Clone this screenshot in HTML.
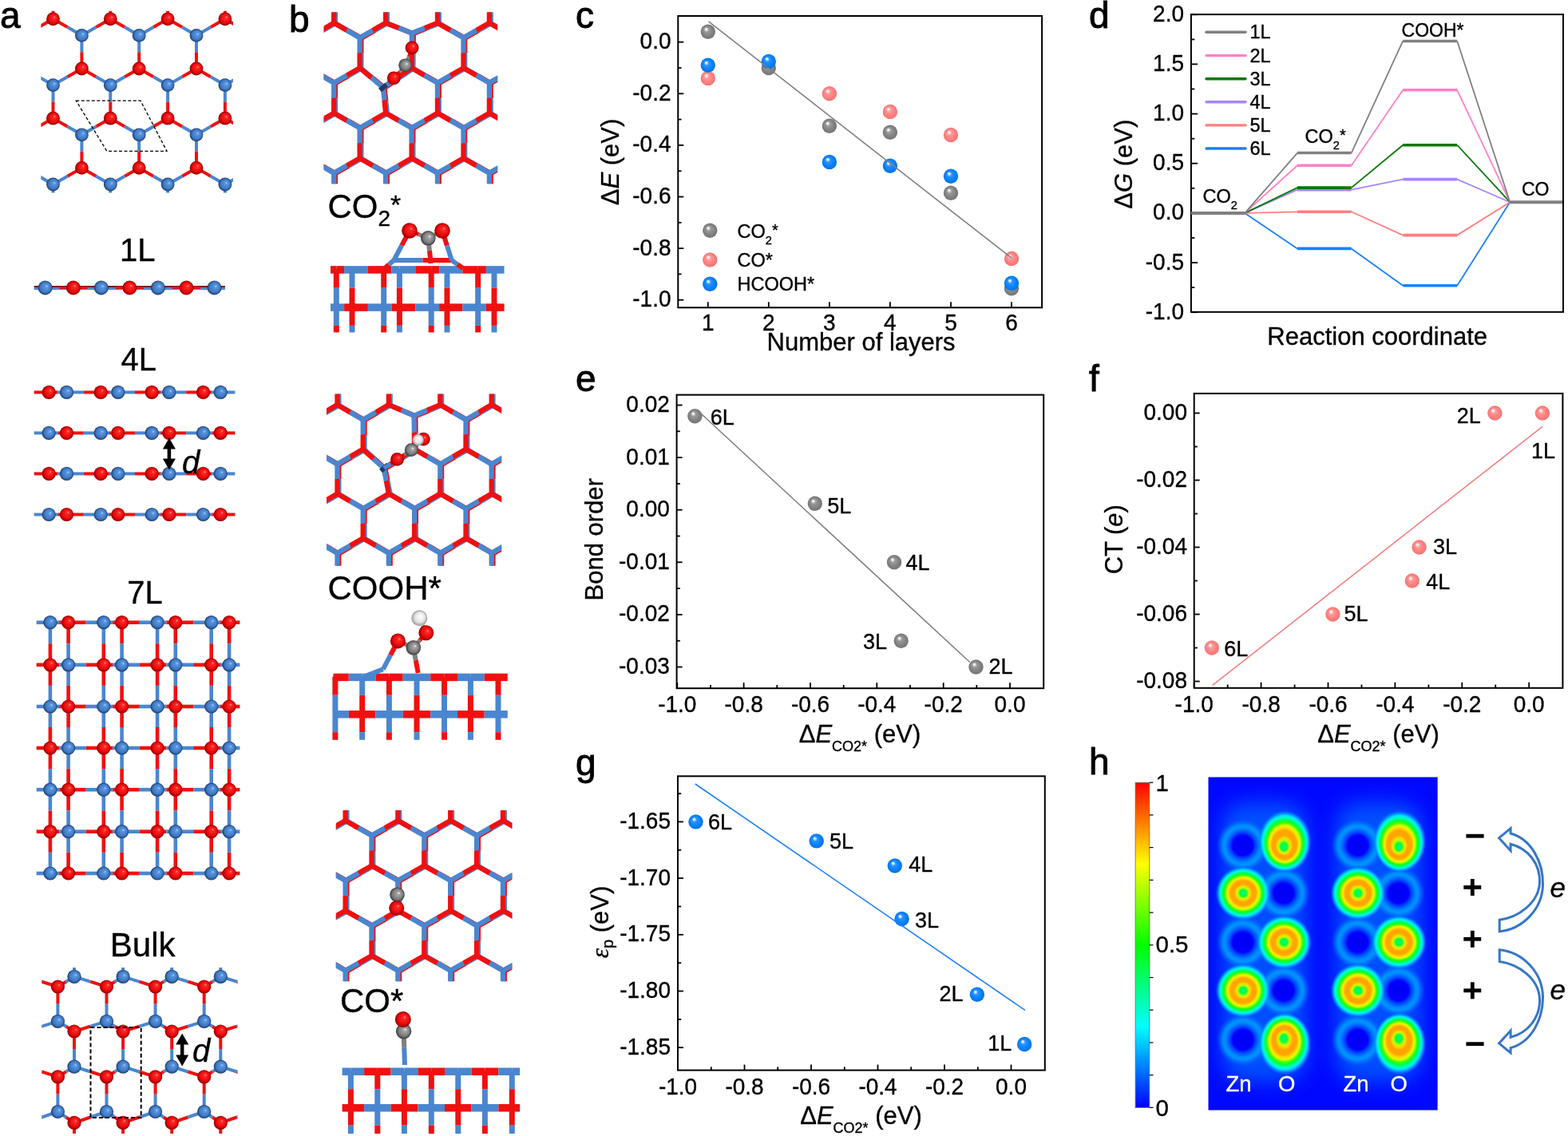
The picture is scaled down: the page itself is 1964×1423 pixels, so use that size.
<!DOCTYPE html>
<html><head><meta charset="utf-8"><title>Figure</title>
<style>html,body{margin:0;padding:0;background:#fff;} svg{display:block;} text{stroke:#000;stroke-width:0.35px;} text.pl{stroke-width:0.9px;} text.w{stroke:#fff;}</style></head>
<body><svg width="1964" height="1423" viewBox="0 0 1964 1423" font-family="'Liberation Sans', Arial, sans-serif">
<defs>
<radialGradient id="gR" cx="0.5" cy="0.5" r="0.5" fx="0.62" fy="0.35">
 <stop offset="0" stop-color="#ff9a9a"/><stop offset="0.18" stop-color="#ff2a2a"/>
 <stop offset="0.7" stop-color="#e80808"/><stop offset="1" stop-color="#8a0000"/></radialGradient>
<radialGradient id="gB" cx="0.5" cy="0.5" r="0.5" fx="0.62" fy="0.38">
 <stop offset="0" stop-color="#a8d0ff"/><stop offset="0.2" stop-color="#5a96e0"/>
 <stop offset="0.72" stop-color="#3e78c2"/><stop offset="1" stop-color="#1c3a66"/></radialGradient>
<radialGradient id="gC" cx="0.5" cy="0.5" r="0.5" fx="0.62" fy="0.38">
 <stop offset="0" stop-color="#ffffff"/><stop offset="0.18" stop-color="#a8a8a8"/>
 <stop offset="0.7" stop-color="#7a7a7a"/><stop offset="1" stop-color="#3a3a3a"/></radialGradient>
<radialGradient id="gH" cx="0.5" cy="0.5" r="0.5" fx="0.6" fy="0.38">
 <stop offset="0" stop-color="#ffffff"/><stop offset="0.6" stop-color="#e6e6e6"/>
 <stop offset="1" stop-color="#9a9a9a"/></radialGradient>
<radialGradient id="mG" cx="0.5" cy="0.5" r="0.5" fx="0.36" fy="0.3">
 <stop offset="0" stop-color="#ffffff"/><stop offset="0.1" stop-color="#f2f2f2"/>
 <stop offset="0.32" stop-color="#9a9a9a"/><stop offset="0.65" stop-color="#858585"/><stop offset="1" stop-color="#747474"/></radialGradient>
<radialGradient id="mP" cx="0.5" cy="0.5" r="0.5" fx="0.36" fy="0.3">
 <stop offset="0" stop-color="#ffffff"/><stop offset="0.1" stop-color="#fff2f2"/>
 <stop offset="0.32" stop-color="#ff9a9a"/><stop offset="0.65" stop-color="#ff8282"/><stop offset="1" stop-color="#f27474"/></radialGradient>
<radialGradient id="mB" cx="0.5" cy="0.5" r="0.5" fx="0.36" fy="0.3">
 <stop offset="0" stop-color="#ffffff"/><stop offset="0.1" stop-color="#e6f2ff"/>
 <stop offset="0.32" stop-color="#2a92ff"/><stop offset="0.65" stop-color="#0a84ff"/><stop offset="1" stop-color="#0072e6"/></radialGradient>
<clipPath id="clipA1"><rect x="51.3" y="13.7" width="240.7" height="227.9"/></clipPath><clipPath id="clipA5"><rect x="52.2" y="1212" width="245.4" height="208"/></clipPath><clipPath id="clipB1"><rect x="405.6" y="15.2" width="217.6" height="215"/></clipPath><clipPath id="clipB2"><rect x="409" y="493.6" width="219.2" height="215.1"/></clipPath><clipPath id="clipB3"><rect x="420.8" y="1015" width="220.6" height="214.2"/></clipPath>
<linearGradient id="cbar" x1="0" y1="0" x2="0" y2="1">
 <stop offset="0" stop-color="#ff0000"/><stop offset="0.125" stop-color="#ff7f00"/>
 <stop offset="0.25" stop-color="#ffff00"/><stop offset="0.5" stop-color="#00ff00"/>
 <stop offset="0.75" stop-color="#00ffff"/><stop offset="1" stop-color="#0000ff"/></linearGradient>
<radialGradient id="hB" cx="0.5" cy="0.5" r="0.5">
 <stop offset="0" stop-color="#00ff80"/><stop offset="0.12" stop-color="#00ff40"/>
 <stop offset="0.2" stop-color="#c0ff00"/><stop offset="0.27" stop-color="#ffd000"/>
 <stop offset="0.33" stop-color="#ffa500"/><stop offset="0.46" stop-color="#ffa500"/>
 <stop offset="0.54" stop-color="#ffe000"/><stop offset="0.60" stop-color="#d0ff00"/>
 <stop offset="0.66" stop-color="#40ff00"/><stop offset="0.73" stop-color="#00ff40"/>
 <stop offset="0.80" stop-color="#00ffc0"/><stop offset="0.86" stop-color="#00e0ff"/>
 <stop offset="0.94" stop-color="#0090ff" stop-opacity="0.6"/><stop offset="1" stop-color="#0060ff" stop-opacity="0"/></radialGradient>
<radialGradient id="hD" cx="0.5" cy="0.5" r="0.5">
 <stop offset="0" stop-color="#0000f0"/><stop offset="0.38" stop-color="#0000ff"/>
 <stop offset="0.5" stop-color="#0048ff"/><stop offset="0.65" stop-color="#0088ff"/>
 <stop offset="0.75" stop-color="#00a0ff" stop-opacity="0.85"/><stop offset="0.88" stop-color="#0080ff" stop-opacity="0.45"/>
 <stop offset="1" stop-color="#0060ff" stop-opacity="0"/></radialGradient>
<radialGradient id="hBu" cx="0.5" cy="0.5" r="0.5" fx="0.48" fy="0.6">
 <stop offset="0" stop-color="#00ff80"/><stop offset="0.12" stop-color="#00ff40"/>
 <stop offset="0.2" stop-color="#c0ff00"/><stop offset="0.27" stop-color="#ffd000"/>
 <stop offset="0.33" stop-color="#ffa500"/><stop offset="0.46" stop-color="#ffa500"/>
 <stop offset="0.54" stop-color="#ffe000"/><stop offset="0.60" stop-color="#d0ff00"/>
 <stop offset="0.66" stop-color="#40ff00"/><stop offset="0.73" stop-color="#00ff40"/>
 <stop offset="0.80" stop-color="#00ffc0"/><stop offset="0.86" stop-color="#00e0ff"/>
 <stop offset="0.94" stop-color="#0090ff" stop-opacity="0.6"/><stop offset="1" stop-color="#0060ff" stop-opacity="0"/></radialGradient>
<radialGradient id="hBd" cx="0.5" cy="0.5" r="0.5" fx="0.48" fy="0.4">
 <stop offset="0" stop-color="#00ff80"/><stop offset="0.12" stop-color="#00ff40"/>
 <stop offset="0.2" stop-color="#c0ff00"/><stop offset="0.27" stop-color="#ffd000"/>
 <stop offset="0.33" stop-color="#ffa500"/><stop offset="0.46" stop-color="#ffa500"/>
 <stop offset="0.54" stop-color="#ffe000"/><stop offset="0.60" stop-color="#d0ff00"/>
 <stop offset="0.66" stop-color="#40ff00"/><stop offset="0.73" stop-color="#00ff40"/>
 <stop offset="0.80" stop-color="#00ffc0"/><stop offset="0.86" stop-color="#00e0ff"/>
 <stop offset="0.94" stop-color="#0090ff" stop-opacity="0.6"/><stop offset="1" stop-color="#0060ff" stop-opacity="0"/></radialGradient>
<filter id="blur12" x="-50%" y="-50%" width="200%" height="200%"><feGaussianBlur stdDeviation="12"/></filter>
<clipPath id="clipH"><rect x="1513.3" y="973.3" width="287.5" height="417.5"/></clipPath>
</defs>
<rect width="1964" height="1423" fill="#fff"/>
<text x="0.0" y="35.2" font-size="46" text-anchor="start" class="pl">a</text>
<text x="362.0" y="39.6" font-size="46" text-anchor="start" class="pl">b</text>
<text x="721.0" y="35.3" font-size="46" text-anchor="start" class="pl">c</text>
<text x="1364.0" y="35.0" font-size="46" text-anchor="start" class="pl">d</text>
<text x="721.0" y="490.0" font-size="46" text-anchor="start" class="pl">e</text>
<text x="1364.0" y="490.4" font-size="46" text-anchor="start" class="pl">f</text>
<text x="721.0" y="970.5" font-size="46" text-anchor="start" class="pl">g</text>
<text x="1364.0" y="969.8" font-size="46" text-anchor="start" class="pl">h</text>
<g clip-path="url(#clipA1)"><line x1="-5.3" y1="-100.6" x2="12.7" y2="-90.3" stroke="#f01010" stroke-width="4"/><line x1="12.7" y1="-90.3" x2="30.6" y2="-80.0" stroke="#4a86cf" stroke-width="4"/><line x1="-5.3" y1="-100.6" x2="-23.2" y2="-90.3" stroke="#f01010" stroke-width="4"/><line x1="-23.2" y1="-90.3" x2="-41.2" y2="-80.0" stroke="#4a86cf" stroke-width="4"/><line x1="30.6" y1="-80.0" x2="30.6" y2="-59.2" stroke="#4a86cf" stroke-width="4"/><line x1="30.6" y1="-59.2" x2="30.6" y2="-38.4" stroke="#f01010" stroke-width="4"/><line x1="30.6" y1="-38.4" x2="12.7" y2="-28.1" stroke="#f01010" stroke-width="4"/><line x1="12.7" y1="-28.1" x2="-5.3" y2="-17.8" stroke="#4a86cf" stroke-width="4"/><line x1="30.6" y1="-38.4" x2="48.5" y2="-28.1" stroke="#f01010" stroke-width="4"/><line x1="48.5" y1="-28.1" x2="66.5" y2="-17.8" stroke="#4a86cf" stroke-width="4"/><line x1="-5.3" y1="-17.8" x2="-5.3" y2="3.0" stroke="#4a86cf" stroke-width="4"/><line x1="-5.3" y1="3.0" x2="-5.3" y2="23.8" stroke="#f01010" stroke-width="4"/><line x1="66.5" y1="-100.6" x2="84.5" y2="-90.3" stroke="#f01010" stroke-width="4"/><line x1="84.5" y1="-90.3" x2="102.4" y2="-80.0" stroke="#4a86cf" stroke-width="4"/><line x1="66.5" y1="-100.6" x2="48.5" y2="-90.3" stroke="#f01010" stroke-width="4"/><line x1="48.5" y1="-90.3" x2="30.6" y2="-80.0" stroke="#4a86cf" stroke-width="4"/><line x1="102.4" y1="-80.0" x2="102.4" y2="-59.2" stroke="#4a86cf" stroke-width="4"/><line x1="102.4" y1="-59.2" x2="102.4" y2="-38.4" stroke="#f01010" stroke-width="4"/><line x1="102.4" y1="-38.4" x2="84.5" y2="-28.1" stroke="#f01010" stroke-width="4"/><line x1="84.5" y1="-28.1" x2="66.5" y2="-17.8" stroke="#4a86cf" stroke-width="4"/><line x1="102.4" y1="-38.4" x2="120.4" y2="-28.1" stroke="#f01010" stroke-width="4"/><line x1="120.4" y1="-28.1" x2="138.3" y2="-17.8" stroke="#4a86cf" stroke-width="4"/><line x1="66.5" y1="-17.8" x2="66.5" y2="3.0" stroke="#4a86cf" stroke-width="4"/><line x1="66.5" y1="3.0" x2="66.5" y2="23.8" stroke="#f01010" stroke-width="4"/><line x1="138.3" y1="-100.6" x2="156.2" y2="-90.3" stroke="#f01010" stroke-width="4"/><line x1="156.2" y1="-90.3" x2="174.2" y2="-80.0" stroke="#4a86cf" stroke-width="4"/><line x1="138.3" y1="-100.6" x2="120.4" y2="-90.3" stroke="#f01010" stroke-width="4"/><line x1="120.4" y1="-90.3" x2="102.4" y2="-80.0" stroke="#4a86cf" stroke-width="4"/><line x1="174.2" y1="-80.0" x2="174.2" y2="-59.2" stroke="#4a86cf" stroke-width="4"/><line x1="174.2" y1="-59.2" x2="174.2" y2="-38.4" stroke="#f01010" stroke-width="4"/><line x1="174.2" y1="-38.4" x2="156.2" y2="-28.1" stroke="#f01010" stroke-width="4"/><line x1="156.2" y1="-28.1" x2="138.3" y2="-17.8" stroke="#4a86cf" stroke-width="4"/><line x1="174.2" y1="-38.4" x2="192.2" y2="-28.1" stroke="#f01010" stroke-width="4"/><line x1="192.2" y1="-28.1" x2="210.1" y2="-17.8" stroke="#4a86cf" stroke-width="4"/><line x1="138.3" y1="-17.8" x2="138.3" y2="3.0" stroke="#4a86cf" stroke-width="4"/><line x1="138.3" y1="3.0" x2="138.3" y2="23.8" stroke="#f01010" stroke-width="4"/><line x1="210.1" y1="-100.6" x2="228.1" y2="-90.3" stroke="#f01010" stroke-width="4"/><line x1="228.1" y1="-90.3" x2="246.0" y2="-80.0" stroke="#4a86cf" stroke-width="4"/><line x1="210.1" y1="-100.6" x2="192.1" y2="-90.3" stroke="#f01010" stroke-width="4"/><line x1="192.1" y1="-90.3" x2="174.2" y2="-80.0" stroke="#4a86cf" stroke-width="4"/><line x1="246.0" y1="-80.0" x2="246.0" y2="-59.2" stroke="#4a86cf" stroke-width="4"/><line x1="246.0" y1="-59.2" x2="246.0" y2="-38.4" stroke="#f01010" stroke-width="4"/><line x1="246.0" y1="-38.4" x2="228.1" y2="-28.1" stroke="#f01010" stroke-width="4"/><line x1="228.1" y1="-28.1" x2="210.1" y2="-17.8" stroke="#4a86cf" stroke-width="4"/><line x1="246.0" y1="-38.4" x2="263.9" y2="-28.1" stroke="#f01010" stroke-width="4"/><line x1="263.9" y1="-28.1" x2="281.9" y2="-17.8" stroke="#4a86cf" stroke-width="4"/><line x1="210.1" y1="-17.8" x2="210.1" y2="3.0" stroke="#4a86cf" stroke-width="4"/><line x1="210.1" y1="3.0" x2="210.1" y2="23.8" stroke="#f01010" stroke-width="4"/><line x1="281.9" y1="-100.6" x2="299.8" y2="-90.3" stroke="#f01010" stroke-width="4"/><line x1="299.8" y1="-90.3" x2="317.8" y2="-80.0" stroke="#4a86cf" stroke-width="4"/><line x1="281.9" y1="-100.6" x2="263.9" y2="-90.3" stroke="#f01010" stroke-width="4"/><line x1="263.9" y1="-90.3" x2="246.0" y2="-80.0" stroke="#4a86cf" stroke-width="4"/><line x1="317.8" y1="-80.0" x2="317.8" y2="-59.2" stroke="#4a86cf" stroke-width="4"/><line x1="317.8" y1="-59.2" x2="317.8" y2="-38.4" stroke="#f01010" stroke-width="4"/><line x1="317.8" y1="-38.4" x2="299.8" y2="-28.1" stroke="#f01010" stroke-width="4"/><line x1="299.8" y1="-28.1" x2="281.9" y2="-17.8" stroke="#4a86cf" stroke-width="4"/><line x1="317.8" y1="-38.4" x2="335.8" y2="-28.1" stroke="#f01010" stroke-width="4"/><line x1="335.8" y1="-28.1" x2="353.7" y2="-17.8" stroke="#4a86cf" stroke-width="4"/><line x1="281.9" y1="-17.8" x2="281.9" y2="3.0" stroke="#4a86cf" stroke-width="4"/><line x1="281.9" y1="3.0" x2="281.9" y2="23.8" stroke="#f01010" stroke-width="4"/><line x1="353.7" y1="-100.6" x2="371.6" y2="-90.3" stroke="#f01010" stroke-width="4"/><line x1="371.6" y1="-90.3" x2="389.6" y2="-80.0" stroke="#4a86cf" stroke-width="4"/><line x1="353.7" y1="-100.6" x2="335.8" y2="-90.3" stroke="#f01010" stroke-width="4"/><line x1="335.8" y1="-90.3" x2="317.8" y2="-80.0" stroke="#4a86cf" stroke-width="4"/><line x1="389.6" y1="-80.0" x2="389.6" y2="-59.2" stroke="#4a86cf" stroke-width="4"/><line x1="389.6" y1="-59.2" x2="389.6" y2="-38.4" stroke="#f01010" stroke-width="4"/><line x1="389.6" y1="-38.4" x2="371.6" y2="-28.1" stroke="#f01010" stroke-width="4"/><line x1="371.6" y1="-28.1" x2="353.7" y2="-17.8" stroke="#4a86cf" stroke-width="4"/><line x1="389.6" y1="-38.4" x2="407.5" y2="-28.1" stroke="#f01010" stroke-width="4"/><line x1="407.5" y1="-28.1" x2="425.5" y2="-17.8" stroke="#4a86cf" stroke-width="4"/><line x1="353.7" y1="-17.8" x2="353.7" y2="3.0" stroke="#4a86cf" stroke-width="4"/><line x1="353.7" y1="3.0" x2="353.7" y2="23.8" stroke="#f01010" stroke-width="4"/><line x1="-5.3" y1="23.8" x2="12.7" y2="34.1" stroke="#f01010" stroke-width="4"/><line x1="12.7" y1="34.1" x2="30.6" y2="44.4" stroke="#4a86cf" stroke-width="4"/><line x1="-5.3" y1="23.8" x2="-23.2" y2="34.1" stroke="#f01010" stroke-width="4"/><line x1="-23.2" y1="34.1" x2="-41.2" y2="44.4" stroke="#4a86cf" stroke-width="4"/><line x1="30.6" y1="44.4" x2="30.6" y2="65.2" stroke="#4a86cf" stroke-width="4"/><line x1="30.6" y1="65.2" x2="30.6" y2="86.0" stroke="#f01010" stroke-width="4"/><line x1="30.6" y1="86.0" x2="12.7" y2="96.3" stroke="#f01010" stroke-width="4"/><line x1="12.7" y1="96.3" x2="-5.3" y2="106.6" stroke="#4a86cf" stroke-width="4"/><line x1="30.6" y1="86.0" x2="48.5" y2="96.3" stroke="#f01010" stroke-width="4"/><line x1="48.5" y1="96.3" x2="66.5" y2="106.6" stroke="#4a86cf" stroke-width="4"/><line x1="-5.3" y1="106.6" x2="-5.3" y2="127.4" stroke="#4a86cf" stroke-width="4"/><line x1="-5.3" y1="127.4" x2="-5.3" y2="148.2" stroke="#f01010" stroke-width="4"/><line x1="66.5" y1="23.8" x2="84.5" y2="34.1" stroke="#f01010" stroke-width="4"/><line x1="84.5" y1="34.1" x2="102.4" y2="44.4" stroke="#4a86cf" stroke-width="4"/><line x1="66.5" y1="23.8" x2="48.5" y2="34.1" stroke="#f01010" stroke-width="4"/><line x1="48.5" y1="34.1" x2="30.6" y2="44.4" stroke="#4a86cf" stroke-width="4"/><line x1="102.4" y1="44.4" x2="102.4" y2="65.2" stroke="#4a86cf" stroke-width="4"/><line x1="102.4" y1="65.2" x2="102.4" y2="86.0" stroke="#f01010" stroke-width="4"/><line x1="102.4" y1="86.0" x2="84.5" y2="96.3" stroke="#f01010" stroke-width="4"/><line x1="84.5" y1="96.3" x2="66.5" y2="106.6" stroke="#4a86cf" stroke-width="4"/><line x1="102.4" y1="86.0" x2="120.4" y2="96.3" stroke="#f01010" stroke-width="4"/><line x1="120.4" y1="96.3" x2="138.3" y2="106.6" stroke="#4a86cf" stroke-width="4"/><line x1="66.5" y1="106.6" x2="66.5" y2="127.4" stroke="#4a86cf" stroke-width="4"/><line x1="66.5" y1="127.4" x2="66.5" y2="148.2" stroke="#f01010" stroke-width="4"/><line x1="138.3" y1="23.8" x2="156.2" y2="34.1" stroke="#f01010" stroke-width="4"/><line x1="156.2" y1="34.1" x2="174.2" y2="44.4" stroke="#4a86cf" stroke-width="4"/><line x1="138.3" y1="23.8" x2="120.4" y2="34.1" stroke="#f01010" stroke-width="4"/><line x1="120.4" y1="34.1" x2="102.4" y2="44.4" stroke="#4a86cf" stroke-width="4"/><line x1="174.2" y1="44.4" x2="174.2" y2="65.2" stroke="#4a86cf" stroke-width="4"/><line x1="174.2" y1="65.2" x2="174.2" y2="86.0" stroke="#f01010" stroke-width="4"/><line x1="174.2" y1="86.0" x2="156.2" y2="96.3" stroke="#f01010" stroke-width="4"/><line x1="156.2" y1="96.3" x2="138.3" y2="106.6" stroke="#4a86cf" stroke-width="4"/><line x1="174.2" y1="86.0" x2="192.2" y2="96.3" stroke="#f01010" stroke-width="4"/><line x1="192.2" y1="96.3" x2="210.1" y2="106.6" stroke="#4a86cf" stroke-width="4"/><line x1="138.3" y1="106.6" x2="138.3" y2="127.4" stroke="#4a86cf" stroke-width="4"/><line x1="138.3" y1="127.4" x2="138.3" y2="148.2" stroke="#f01010" stroke-width="4"/><line x1="210.1" y1="23.8" x2="228.1" y2="34.1" stroke="#f01010" stroke-width="4"/><line x1="228.1" y1="34.1" x2="246.0" y2="44.4" stroke="#4a86cf" stroke-width="4"/><line x1="210.1" y1="23.8" x2="192.1" y2="34.1" stroke="#f01010" stroke-width="4"/><line x1="192.1" y1="34.1" x2="174.2" y2="44.4" stroke="#4a86cf" stroke-width="4"/><line x1="246.0" y1="44.4" x2="246.0" y2="65.2" stroke="#4a86cf" stroke-width="4"/><line x1="246.0" y1="65.2" x2="246.0" y2="86.0" stroke="#f01010" stroke-width="4"/><line x1="246.0" y1="86.0" x2="228.1" y2="96.3" stroke="#f01010" stroke-width="4"/><line x1="228.1" y1="96.3" x2="210.1" y2="106.6" stroke="#4a86cf" stroke-width="4"/><line x1="246.0" y1="86.0" x2="263.9" y2="96.3" stroke="#f01010" stroke-width="4"/><line x1="263.9" y1="96.3" x2="281.9" y2="106.6" stroke="#4a86cf" stroke-width="4"/><line x1="210.1" y1="106.6" x2="210.1" y2="127.4" stroke="#4a86cf" stroke-width="4"/><line x1="210.1" y1="127.4" x2="210.1" y2="148.2" stroke="#f01010" stroke-width="4"/><line x1="281.9" y1="23.8" x2="299.8" y2="34.1" stroke="#f01010" stroke-width="4"/><line x1="299.8" y1="34.1" x2="317.8" y2="44.4" stroke="#4a86cf" stroke-width="4"/><line x1="281.9" y1="23.8" x2="263.9" y2="34.1" stroke="#f01010" stroke-width="4"/><line x1="263.9" y1="34.1" x2="246.0" y2="44.4" stroke="#4a86cf" stroke-width="4"/><line x1="317.8" y1="44.4" x2="317.8" y2="65.2" stroke="#4a86cf" stroke-width="4"/><line x1="317.8" y1="65.2" x2="317.8" y2="86.0" stroke="#f01010" stroke-width="4"/><line x1="317.8" y1="86.0" x2="299.8" y2="96.3" stroke="#f01010" stroke-width="4"/><line x1="299.8" y1="96.3" x2="281.9" y2="106.6" stroke="#4a86cf" stroke-width="4"/><line x1="317.8" y1="86.0" x2="335.8" y2="96.3" stroke="#f01010" stroke-width="4"/><line x1="335.8" y1="96.3" x2="353.7" y2="106.6" stroke="#4a86cf" stroke-width="4"/><line x1="281.9" y1="106.6" x2="281.9" y2="127.4" stroke="#4a86cf" stroke-width="4"/><line x1="281.9" y1="127.4" x2="281.9" y2="148.2" stroke="#f01010" stroke-width="4"/><line x1="353.7" y1="23.8" x2="371.6" y2="34.1" stroke="#f01010" stroke-width="4"/><line x1="371.6" y1="34.1" x2="389.6" y2="44.4" stroke="#4a86cf" stroke-width="4"/><line x1="353.7" y1="23.8" x2="335.8" y2="34.1" stroke="#f01010" stroke-width="4"/><line x1="335.8" y1="34.1" x2="317.8" y2="44.4" stroke="#4a86cf" stroke-width="4"/><line x1="389.6" y1="44.4" x2="389.6" y2="65.2" stroke="#4a86cf" stroke-width="4"/><line x1="389.6" y1="65.2" x2="389.6" y2="86.0" stroke="#f01010" stroke-width="4"/><line x1="389.6" y1="86.0" x2="371.6" y2="96.3" stroke="#f01010" stroke-width="4"/><line x1="371.6" y1="96.3" x2="353.7" y2="106.6" stroke="#4a86cf" stroke-width="4"/><line x1="389.6" y1="86.0" x2="407.5" y2="96.3" stroke="#f01010" stroke-width="4"/><line x1="407.5" y1="96.3" x2="425.5" y2="106.6" stroke="#4a86cf" stroke-width="4"/><line x1="353.7" y1="106.6" x2="353.7" y2="127.4" stroke="#4a86cf" stroke-width="4"/><line x1="353.7" y1="127.4" x2="353.7" y2="148.2" stroke="#f01010" stroke-width="4"/><line x1="-5.3" y1="148.2" x2="12.7" y2="158.5" stroke="#f01010" stroke-width="4"/><line x1="12.7" y1="158.5" x2="30.6" y2="168.8" stroke="#4a86cf" stroke-width="4"/><line x1="-5.3" y1="148.2" x2="-23.2" y2="158.5" stroke="#f01010" stroke-width="4"/><line x1="-23.2" y1="158.5" x2="-41.2" y2="168.8" stroke="#4a86cf" stroke-width="4"/><line x1="30.6" y1="168.8" x2="30.6" y2="189.6" stroke="#4a86cf" stroke-width="4"/><line x1="30.6" y1="189.6" x2="30.6" y2="210.4" stroke="#f01010" stroke-width="4"/><line x1="30.6" y1="210.4" x2="12.7" y2="220.7" stroke="#f01010" stroke-width="4"/><line x1="12.7" y1="220.7" x2="-5.3" y2="231.0" stroke="#4a86cf" stroke-width="4"/><line x1="30.6" y1="210.4" x2="48.5" y2="220.7" stroke="#f01010" stroke-width="4"/><line x1="48.5" y1="220.7" x2="66.5" y2="231.0" stroke="#4a86cf" stroke-width="4"/><line x1="-5.3" y1="231.0" x2="-5.3" y2="251.8" stroke="#4a86cf" stroke-width="4"/><line x1="-5.3" y1="251.8" x2="-5.3" y2="272.6" stroke="#f01010" stroke-width="4"/><line x1="66.5" y1="148.2" x2="84.5" y2="158.5" stroke="#f01010" stroke-width="4"/><line x1="84.5" y1="158.5" x2="102.4" y2="168.8" stroke="#4a86cf" stroke-width="4"/><line x1="66.5" y1="148.2" x2="48.5" y2="158.5" stroke="#f01010" stroke-width="4"/><line x1="48.5" y1="158.5" x2="30.6" y2="168.8" stroke="#4a86cf" stroke-width="4"/><line x1="102.4" y1="168.8" x2="102.4" y2="189.6" stroke="#4a86cf" stroke-width="4"/><line x1="102.4" y1="189.6" x2="102.4" y2="210.4" stroke="#f01010" stroke-width="4"/><line x1="102.4" y1="210.4" x2="84.5" y2="220.7" stroke="#f01010" stroke-width="4"/><line x1="84.5" y1="220.7" x2="66.5" y2="231.0" stroke="#4a86cf" stroke-width="4"/><line x1="102.4" y1="210.4" x2="120.4" y2="220.7" stroke="#f01010" stroke-width="4"/><line x1="120.4" y1="220.7" x2="138.3" y2="231.0" stroke="#4a86cf" stroke-width="4"/><line x1="66.5" y1="231.0" x2="66.5" y2="251.8" stroke="#4a86cf" stroke-width="4"/><line x1="66.5" y1="251.8" x2="66.5" y2="272.6" stroke="#f01010" stroke-width="4"/><line x1="138.3" y1="148.2" x2="156.2" y2="158.5" stroke="#f01010" stroke-width="4"/><line x1="156.2" y1="158.5" x2="174.2" y2="168.8" stroke="#4a86cf" stroke-width="4"/><line x1="138.3" y1="148.2" x2="120.4" y2="158.5" stroke="#f01010" stroke-width="4"/><line x1="120.4" y1="158.5" x2="102.4" y2="168.8" stroke="#4a86cf" stroke-width="4"/><line x1="174.2" y1="168.8" x2="174.2" y2="189.6" stroke="#4a86cf" stroke-width="4"/><line x1="174.2" y1="189.6" x2="174.2" y2="210.4" stroke="#f01010" stroke-width="4"/><line x1="174.2" y1="210.4" x2="156.2" y2="220.7" stroke="#f01010" stroke-width="4"/><line x1="156.2" y1="220.7" x2="138.3" y2="231.0" stroke="#4a86cf" stroke-width="4"/><line x1="174.2" y1="210.4" x2="192.2" y2="220.7" stroke="#f01010" stroke-width="4"/><line x1="192.2" y1="220.7" x2="210.1" y2="231.0" stroke="#4a86cf" stroke-width="4"/><line x1="138.3" y1="231.0" x2="138.3" y2="251.8" stroke="#4a86cf" stroke-width="4"/><line x1="138.3" y1="251.8" x2="138.3" y2="272.6" stroke="#f01010" stroke-width="4"/><line x1="210.1" y1="148.2" x2="228.1" y2="158.5" stroke="#f01010" stroke-width="4"/><line x1="228.1" y1="158.5" x2="246.0" y2="168.8" stroke="#4a86cf" stroke-width="4"/><line x1="210.1" y1="148.2" x2="192.1" y2="158.5" stroke="#f01010" stroke-width="4"/><line x1="192.1" y1="158.5" x2="174.2" y2="168.8" stroke="#4a86cf" stroke-width="4"/><line x1="246.0" y1="168.8" x2="246.0" y2="189.6" stroke="#4a86cf" stroke-width="4"/><line x1="246.0" y1="189.6" x2="246.0" y2="210.4" stroke="#f01010" stroke-width="4"/><line x1="246.0" y1="210.4" x2="228.1" y2="220.7" stroke="#f01010" stroke-width="4"/><line x1="228.1" y1="220.7" x2="210.1" y2="231.0" stroke="#4a86cf" stroke-width="4"/><line x1="246.0" y1="210.4" x2="263.9" y2="220.7" stroke="#f01010" stroke-width="4"/><line x1="263.9" y1="220.7" x2="281.9" y2="231.0" stroke="#4a86cf" stroke-width="4"/><line x1="210.1" y1="231.0" x2="210.1" y2="251.8" stroke="#4a86cf" stroke-width="4"/><line x1="210.1" y1="251.8" x2="210.1" y2="272.6" stroke="#f01010" stroke-width="4"/><line x1="281.9" y1="148.2" x2="299.8" y2="158.5" stroke="#f01010" stroke-width="4"/><line x1="299.8" y1="158.5" x2="317.8" y2="168.8" stroke="#4a86cf" stroke-width="4"/><line x1="281.9" y1="148.2" x2="263.9" y2="158.5" stroke="#f01010" stroke-width="4"/><line x1="263.9" y1="158.5" x2="246.0" y2="168.8" stroke="#4a86cf" stroke-width="4"/><line x1="317.8" y1="168.8" x2="317.8" y2="189.6" stroke="#4a86cf" stroke-width="4"/><line x1="317.8" y1="189.6" x2="317.8" y2="210.4" stroke="#f01010" stroke-width="4"/><line x1="317.8" y1="210.4" x2="299.8" y2="220.7" stroke="#f01010" stroke-width="4"/><line x1="299.8" y1="220.7" x2="281.9" y2="231.0" stroke="#4a86cf" stroke-width="4"/><line x1="317.8" y1="210.4" x2="335.8" y2="220.7" stroke="#f01010" stroke-width="4"/><line x1="335.8" y1="220.7" x2="353.7" y2="231.0" stroke="#4a86cf" stroke-width="4"/><line x1="281.9" y1="231.0" x2="281.9" y2="251.8" stroke="#4a86cf" stroke-width="4"/><line x1="281.9" y1="251.8" x2="281.9" y2="272.6" stroke="#f01010" stroke-width="4"/><line x1="353.7" y1="148.2" x2="371.6" y2="158.5" stroke="#f01010" stroke-width="4"/><line x1="371.6" y1="158.5" x2="389.6" y2="168.8" stroke="#4a86cf" stroke-width="4"/><line x1="353.7" y1="148.2" x2="335.8" y2="158.5" stroke="#f01010" stroke-width="4"/><line x1="335.8" y1="158.5" x2="317.8" y2="168.8" stroke="#4a86cf" stroke-width="4"/><line x1="389.6" y1="168.8" x2="389.6" y2="189.6" stroke="#4a86cf" stroke-width="4"/><line x1="389.6" y1="189.6" x2="389.6" y2="210.4" stroke="#f01010" stroke-width="4"/><line x1="389.6" y1="210.4" x2="371.6" y2="220.7" stroke="#f01010" stroke-width="4"/><line x1="371.6" y1="220.7" x2="353.7" y2="231.0" stroke="#4a86cf" stroke-width="4"/><line x1="389.6" y1="210.4" x2="407.5" y2="220.7" stroke="#f01010" stroke-width="4"/><line x1="407.5" y1="220.7" x2="425.5" y2="231.0" stroke="#4a86cf" stroke-width="4"/><line x1="353.7" y1="231.0" x2="353.7" y2="251.8" stroke="#4a86cf" stroke-width="4"/><line x1="353.7" y1="251.8" x2="353.7" y2="272.6" stroke="#f01010" stroke-width="4"/><line x1="-5.3" y1="272.6" x2="12.7" y2="282.9" stroke="#f01010" stroke-width="4"/><line x1="12.7" y1="282.9" x2="30.6" y2="293.2" stroke="#4a86cf" stroke-width="4"/><line x1="-5.3" y1="272.6" x2="-23.2" y2="282.9" stroke="#f01010" stroke-width="4"/><line x1="-23.2" y1="282.9" x2="-41.2" y2="293.2" stroke="#4a86cf" stroke-width="4"/><line x1="30.6" y1="293.2" x2="30.6" y2="314.0" stroke="#4a86cf" stroke-width="4"/><line x1="30.6" y1="314.0" x2="30.6" y2="334.8" stroke="#f01010" stroke-width="4"/><line x1="30.6" y1="334.8" x2="12.7" y2="345.1" stroke="#f01010" stroke-width="4"/><line x1="12.7" y1="345.1" x2="-5.3" y2="355.4" stroke="#4a86cf" stroke-width="4"/><line x1="30.6" y1="334.8" x2="48.5" y2="345.1" stroke="#f01010" stroke-width="4"/><line x1="48.5" y1="345.1" x2="66.5" y2="355.4" stroke="#4a86cf" stroke-width="4"/><line x1="-5.3" y1="355.4" x2="-5.3" y2="376.2" stroke="#4a86cf" stroke-width="4"/><line x1="-5.3" y1="376.2" x2="-5.3" y2="397.0" stroke="#f01010" stroke-width="4"/><line x1="66.5" y1="272.6" x2="84.5" y2="282.9" stroke="#f01010" stroke-width="4"/><line x1="84.5" y1="282.9" x2="102.4" y2="293.2" stroke="#4a86cf" stroke-width="4"/><line x1="66.5" y1="272.6" x2="48.5" y2="282.9" stroke="#f01010" stroke-width="4"/><line x1="48.5" y1="282.9" x2="30.6" y2="293.2" stroke="#4a86cf" stroke-width="4"/><line x1="102.4" y1="293.2" x2="102.4" y2="314.0" stroke="#4a86cf" stroke-width="4"/><line x1="102.4" y1="314.0" x2="102.4" y2="334.8" stroke="#f01010" stroke-width="4"/><line x1="102.4" y1="334.8" x2="84.5" y2="345.1" stroke="#f01010" stroke-width="4"/><line x1="84.5" y1="345.1" x2="66.5" y2="355.4" stroke="#4a86cf" stroke-width="4"/><line x1="102.4" y1="334.8" x2="120.4" y2="345.1" stroke="#f01010" stroke-width="4"/><line x1="120.4" y1="345.1" x2="138.3" y2="355.4" stroke="#4a86cf" stroke-width="4"/><line x1="66.5" y1="355.4" x2="66.5" y2="376.2" stroke="#4a86cf" stroke-width="4"/><line x1="66.5" y1="376.2" x2="66.5" y2="397.0" stroke="#f01010" stroke-width="4"/><line x1="138.3" y1="272.6" x2="156.2" y2="282.9" stroke="#f01010" stroke-width="4"/><line x1="156.2" y1="282.9" x2="174.2" y2="293.2" stroke="#4a86cf" stroke-width="4"/><line x1="138.3" y1="272.6" x2="120.4" y2="282.9" stroke="#f01010" stroke-width="4"/><line x1="120.4" y1="282.9" x2="102.4" y2="293.2" stroke="#4a86cf" stroke-width="4"/><line x1="174.2" y1="293.2" x2="174.2" y2="314.0" stroke="#4a86cf" stroke-width="4"/><line x1="174.2" y1="314.0" x2="174.2" y2="334.8" stroke="#f01010" stroke-width="4"/><line x1="174.2" y1="334.8" x2="156.2" y2="345.1" stroke="#f01010" stroke-width="4"/><line x1="156.2" y1="345.1" x2="138.3" y2="355.4" stroke="#4a86cf" stroke-width="4"/><line x1="174.2" y1="334.8" x2="192.2" y2="345.1" stroke="#f01010" stroke-width="4"/><line x1="192.2" y1="345.1" x2="210.1" y2="355.4" stroke="#4a86cf" stroke-width="4"/><line x1="138.3" y1="355.4" x2="138.3" y2="376.2" stroke="#4a86cf" stroke-width="4"/><line x1="138.3" y1="376.2" x2="138.3" y2="397.0" stroke="#f01010" stroke-width="4"/><line x1="210.1" y1="272.6" x2="228.1" y2="282.9" stroke="#f01010" stroke-width="4"/><line x1="228.1" y1="282.9" x2="246.0" y2="293.2" stroke="#4a86cf" stroke-width="4"/><line x1="210.1" y1="272.6" x2="192.1" y2="282.9" stroke="#f01010" stroke-width="4"/><line x1="192.1" y1="282.9" x2="174.2" y2="293.2" stroke="#4a86cf" stroke-width="4"/><line x1="246.0" y1="293.2" x2="246.0" y2="314.0" stroke="#4a86cf" stroke-width="4"/><line x1="246.0" y1="314.0" x2="246.0" y2="334.8" stroke="#f01010" stroke-width="4"/><line x1="246.0" y1="334.8" x2="228.1" y2="345.1" stroke="#f01010" stroke-width="4"/><line x1="228.1" y1="345.1" x2="210.1" y2="355.4" stroke="#4a86cf" stroke-width="4"/><line x1="246.0" y1="334.8" x2="263.9" y2="345.1" stroke="#f01010" stroke-width="4"/><line x1="263.9" y1="345.1" x2="281.9" y2="355.4" stroke="#4a86cf" stroke-width="4"/><line x1="210.1" y1="355.4" x2="210.1" y2="376.2" stroke="#4a86cf" stroke-width="4"/><line x1="210.1" y1="376.2" x2="210.1" y2="397.0" stroke="#f01010" stroke-width="4"/><line x1="281.9" y1="272.6" x2="299.8" y2="282.9" stroke="#f01010" stroke-width="4"/><line x1="299.8" y1="282.9" x2="317.8" y2="293.2" stroke="#4a86cf" stroke-width="4"/><line x1="281.9" y1="272.6" x2="263.9" y2="282.9" stroke="#f01010" stroke-width="4"/><line x1="263.9" y1="282.9" x2="246.0" y2="293.2" stroke="#4a86cf" stroke-width="4"/><line x1="317.8" y1="293.2" x2="317.8" y2="314.0" stroke="#4a86cf" stroke-width="4"/><line x1="317.8" y1="314.0" x2="317.8" y2="334.8" stroke="#f01010" stroke-width="4"/><line x1="317.8" y1="334.8" x2="299.8" y2="345.1" stroke="#f01010" stroke-width="4"/><line x1="299.8" y1="345.1" x2="281.9" y2="355.4" stroke="#4a86cf" stroke-width="4"/><line x1="317.8" y1="334.8" x2="335.8" y2="345.1" stroke="#f01010" stroke-width="4"/><line x1="335.8" y1="345.1" x2="353.7" y2="355.4" stroke="#4a86cf" stroke-width="4"/><line x1="281.9" y1="355.4" x2="281.9" y2="376.2" stroke="#4a86cf" stroke-width="4"/><line x1="281.9" y1="376.2" x2="281.9" y2="397.0" stroke="#f01010" stroke-width="4"/><line x1="353.7" y1="272.6" x2="371.6" y2="282.9" stroke="#f01010" stroke-width="4"/><line x1="371.6" y1="282.9" x2="389.6" y2="293.2" stroke="#4a86cf" stroke-width="4"/><line x1="353.7" y1="272.6" x2="335.8" y2="282.9" stroke="#f01010" stroke-width="4"/><line x1="335.8" y1="282.9" x2="317.8" y2="293.2" stroke="#4a86cf" stroke-width="4"/><line x1="389.6" y1="293.2" x2="389.6" y2="314.0" stroke="#4a86cf" stroke-width="4"/><line x1="389.6" y1="314.0" x2="389.6" y2="334.8" stroke="#f01010" stroke-width="4"/><line x1="389.6" y1="334.8" x2="371.6" y2="345.1" stroke="#f01010" stroke-width="4"/><line x1="371.6" y1="345.1" x2="353.7" y2="355.4" stroke="#4a86cf" stroke-width="4"/><line x1="389.6" y1="334.8" x2="407.5" y2="345.1" stroke="#f01010" stroke-width="4"/><line x1="407.5" y1="345.1" x2="425.5" y2="355.4" stroke="#4a86cf" stroke-width="4"/><line x1="353.7" y1="355.4" x2="353.7" y2="376.2" stroke="#4a86cf" stroke-width="4"/><line x1="353.7" y1="376.2" x2="353.7" y2="397.0" stroke="#f01010" stroke-width="4"/><circle cx="-5.3" cy="-100.6" r="8.4" fill="url(#gR)"/><circle cx="30.6" cy="-80.0" r="8.4" fill="url(#gB)"/><circle cx="30.6" cy="-38.4" r="8.4" fill="url(#gR)"/><circle cx="-5.3" cy="-17.8" r="8.4" fill="url(#gB)"/><circle cx="66.5" cy="-100.6" r="8.4" fill="url(#gR)"/><circle cx="102.4" cy="-80.0" r="8.4" fill="url(#gB)"/><circle cx="102.4" cy="-38.4" r="8.4" fill="url(#gR)"/><circle cx="66.5" cy="-17.8" r="8.4" fill="url(#gB)"/><circle cx="138.3" cy="-100.6" r="8.4" fill="url(#gR)"/><circle cx="174.2" cy="-80.0" r="8.4" fill="url(#gB)"/><circle cx="174.2" cy="-38.4" r="8.4" fill="url(#gR)"/><circle cx="138.3" cy="-17.8" r="8.4" fill="url(#gB)"/><circle cx="210.1" cy="-100.6" r="8.4" fill="url(#gR)"/><circle cx="246.0" cy="-80.0" r="8.4" fill="url(#gB)"/><circle cx="246.0" cy="-38.4" r="8.4" fill="url(#gR)"/><circle cx="210.1" cy="-17.8" r="8.4" fill="url(#gB)"/><circle cx="281.9" cy="-100.6" r="8.4" fill="url(#gR)"/><circle cx="317.8" cy="-80.0" r="8.4" fill="url(#gB)"/><circle cx="317.8" cy="-38.4" r="8.4" fill="url(#gR)"/><circle cx="281.9" cy="-17.8" r="8.4" fill="url(#gB)"/><circle cx="353.7" cy="-100.6" r="8.4" fill="url(#gR)"/><circle cx="389.6" cy="-80.0" r="8.4" fill="url(#gB)"/><circle cx="389.6" cy="-38.4" r="8.4" fill="url(#gR)"/><circle cx="353.7" cy="-17.8" r="8.4" fill="url(#gB)"/><circle cx="-5.3" cy="23.8" r="8.4" fill="url(#gR)"/><circle cx="30.6" cy="44.4" r="8.4" fill="url(#gB)"/><circle cx="30.6" cy="86.0" r="8.4" fill="url(#gR)"/><circle cx="-5.3" cy="106.6" r="8.4" fill="url(#gB)"/><circle cx="66.5" cy="23.8" r="8.4" fill="url(#gR)"/><circle cx="102.4" cy="44.4" r="8.4" fill="url(#gB)"/><circle cx="102.4" cy="86.0" r="8.4" fill="url(#gR)"/><circle cx="66.5" cy="106.6" r="8.4" fill="url(#gB)"/><circle cx="138.3" cy="23.8" r="8.4" fill="url(#gR)"/><circle cx="174.2" cy="44.4" r="8.4" fill="url(#gB)"/><circle cx="174.2" cy="86.0" r="8.4" fill="url(#gR)"/><circle cx="138.3" cy="106.6" r="8.4" fill="url(#gB)"/><circle cx="210.1" cy="23.8" r="8.4" fill="url(#gR)"/><circle cx="246.0" cy="44.4" r="8.4" fill="url(#gB)"/><circle cx="246.0" cy="86.0" r="8.4" fill="url(#gR)"/><circle cx="210.1" cy="106.6" r="8.4" fill="url(#gB)"/><circle cx="281.9" cy="23.8" r="8.4" fill="url(#gR)"/><circle cx="317.8" cy="44.4" r="8.4" fill="url(#gB)"/><circle cx="317.8" cy="86.0" r="8.4" fill="url(#gR)"/><circle cx="281.9" cy="106.6" r="8.4" fill="url(#gB)"/><circle cx="353.7" cy="23.8" r="8.4" fill="url(#gR)"/><circle cx="389.6" cy="44.4" r="8.4" fill="url(#gB)"/><circle cx="389.6" cy="86.0" r="8.4" fill="url(#gR)"/><circle cx="353.7" cy="106.6" r="8.4" fill="url(#gB)"/><circle cx="-5.3" cy="148.2" r="8.4" fill="url(#gR)"/><circle cx="30.6" cy="168.8" r="8.4" fill="url(#gB)"/><circle cx="30.6" cy="210.4" r="8.4" fill="url(#gR)"/><circle cx="-5.3" cy="231.0" r="8.4" fill="url(#gB)"/><circle cx="66.5" cy="148.2" r="8.4" fill="url(#gR)"/><circle cx="102.4" cy="168.8" r="8.4" fill="url(#gB)"/><circle cx="102.4" cy="210.4" r="8.4" fill="url(#gR)"/><circle cx="66.5" cy="231.0" r="8.4" fill="url(#gB)"/><circle cx="138.3" cy="148.2" r="8.4" fill="url(#gR)"/><circle cx="174.2" cy="168.8" r="8.4" fill="url(#gB)"/><circle cx="174.2" cy="210.4" r="8.4" fill="url(#gR)"/><circle cx="138.3" cy="231.0" r="8.4" fill="url(#gB)"/><circle cx="210.1" cy="148.2" r="8.4" fill="url(#gR)"/><circle cx="246.0" cy="168.8" r="8.4" fill="url(#gB)"/><circle cx="246.0" cy="210.4" r="8.4" fill="url(#gR)"/><circle cx="210.1" cy="231.0" r="8.4" fill="url(#gB)"/><circle cx="281.9" cy="148.2" r="8.4" fill="url(#gR)"/><circle cx="317.8" cy="168.8" r="8.4" fill="url(#gB)"/><circle cx="317.8" cy="210.4" r="8.4" fill="url(#gR)"/><circle cx="281.9" cy="231.0" r="8.4" fill="url(#gB)"/><circle cx="353.7" cy="148.2" r="8.4" fill="url(#gR)"/><circle cx="389.6" cy="168.8" r="8.4" fill="url(#gB)"/><circle cx="389.6" cy="210.4" r="8.4" fill="url(#gR)"/><circle cx="353.7" cy="231.0" r="8.4" fill="url(#gB)"/><circle cx="-5.3" cy="272.6" r="8.4" fill="url(#gR)"/><circle cx="30.6" cy="293.2" r="8.4" fill="url(#gB)"/><circle cx="30.6" cy="334.8" r="8.4" fill="url(#gR)"/><circle cx="-5.3" cy="355.4" r="8.4" fill="url(#gB)"/><circle cx="66.5" cy="272.6" r="8.4" fill="url(#gR)"/><circle cx="102.4" cy="293.2" r="8.4" fill="url(#gB)"/><circle cx="102.4" cy="334.8" r="8.4" fill="url(#gR)"/><circle cx="66.5" cy="355.4" r="8.4" fill="url(#gB)"/><circle cx="138.3" cy="272.6" r="8.4" fill="url(#gR)"/><circle cx="174.2" cy="293.2" r="8.4" fill="url(#gB)"/><circle cx="174.2" cy="334.8" r="8.4" fill="url(#gR)"/><circle cx="138.3" cy="355.4" r="8.4" fill="url(#gB)"/><circle cx="210.1" cy="272.6" r="8.4" fill="url(#gR)"/><circle cx="246.0" cy="293.2" r="8.4" fill="url(#gB)"/><circle cx="246.0" cy="334.8" r="8.4" fill="url(#gR)"/><circle cx="210.1" cy="355.4" r="8.4" fill="url(#gB)"/><circle cx="281.9" cy="272.6" r="8.4" fill="url(#gR)"/><circle cx="317.8" cy="293.2" r="8.4" fill="url(#gB)"/><circle cx="317.8" cy="334.8" r="8.4" fill="url(#gR)"/><circle cx="281.9" cy="355.4" r="8.4" fill="url(#gB)"/><circle cx="353.7" cy="272.6" r="8.4" fill="url(#gR)"/><circle cx="389.6" cy="293.2" r="8.4" fill="url(#gB)"/><circle cx="389.6" cy="334.8" r="8.4" fill="url(#gR)"/><circle cx="353.7" cy="355.4" r="8.4" fill="url(#gB)"/></g>
<polygon points="95.3,126.1 176,126.1 209,189.3 133.8,189.3" fill="none" stroke="#000" stroke-width="1.3" stroke-dasharray="4,2.5"/>
<text x="172.3" y="326.5" font-size="40" text-anchor="middle" >1L</text>
<line x1="42.7" y1="359.3" x2="282" y2="359.3" stroke="#7a0a0a" stroke-width="2.4"/>
<line x1="42.7" y1="361.7" x2="282" y2="361.7" stroke="#4a86cf" stroke-width="2.4"/>
<line x1="74.30000000000001" y1="360.5" x2="109.5" y2="360.5" stroke="#f01010" stroke-width="3"/>
<line x1="144.8" y1="360.5" x2="180.0" y2="360.5" stroke="#f01010" stroke-width="3"/>
<line x1="215.9" y1="360.5" x2="251.1" y2="360.5" stroke="#f01010" stroke-width="3"/>
<circle cx="56.6" cy="360.5" r="9" fill="url(#gB)"/>
<circle cx="91.9" cy="360.5" r="9" fill="url(#gR)"/>
<circle cx="126.8" cy="360.5" r="9" fill="url(#gB)"/>
<circle cx="162.4" cy="360.5" r="9" fill="url(#gR)"/>
<circle cx="197.9" cy="360.5" r="9" fill="url(#gB)"/>
<circle cx="233.5" cy="360.5" r="9" fill="url(#gR)"/>
<circle cx="268.5" cy="360.5" r="9" fill="url(#gB)"/>
<text x="173.8" y="464.0" font-size="40" text-anchor="middle" >4L</text>
<line x1="42.7" y1="491.4" x2="61.2" y2="491.4" stroke="#f01010" stroke-width="4"/>
<line x1="61.2" y1="491.4" x2="72.3" y2="491.4" stroke="#f01010" stroke-width="4"/><line x1="72.3" y1="491.4" x2="83.5" y2="491.4" stroke="#4a86cf" stroke-width="4"/>
<line x1="83.5" y1="491.4" x2="104.8" y2="491.4" stroke="#4a86cf" stroke-width="4"/><line x1="104.8" y1="491.4" x2="126.2" y2="491.4" stroke="#f01010" stroke-width="4"/>
<line x1="126.2" y1="491.4" x2="137.0" y2="491.4" stroke="#f01010" stroke-width="4"/><line x1="137.0" y1="491.4" x2="147.8" y2="491.4" stroke="#4a86cf" stroke-width="4"/>
<line x1="147.8" y1="491.4" x2="169.0" y2="491.4" stroke="#4a86cf" stroke-width="4"/><line x1="169.0" y1="491.4" x2="190.2" y2="491.4" stroke="#f01010" stroke-width="4"/>
<line x1="190.2" y1="491.4" x2="201.1" y2="491.4" stroke="#f01010" stroke-width="4"/><line x1="201.1" y1="491.4" x2="211.9" y2="491.4" stroke="#4a86cf" stroke-width="4"/>
<line x1="211.9" y1="491.4" x2="233.2" y2="491.4" stroke="#4a86cf" stroke-width="4"/><line x1="233.2" y1="491.4" x2="254.5" y2="491.4" stroke="#f01010" stroke-width="4"/>
<line x1="254.5" y1="491.4" x2="265.4" y2="491.4" stroke="#f01010" stroke-width="4"/><line x1="265.4" y1="491.4" x2="276.2" y2="491.4" stroke="#4a86cf" stroke-width="4"/>
<line x1="276.2" y1="491.4" x2="294.4" y2="491.4" stroke="#4a86cf" stroke-width="4"/>
<circle cx="61.2" cy="491.4" r="8.6" fill="url(#gR)"/>
<circle cx="83.5" cy="491.4" r="8.6" fill="url(#gB)"/>
<circle cx="126.2" cy="491.4" r="8.6" fill="url(#gR)"/>
<circle cx="147.8" cy="491.4" r="8.6" fill="url(#gB)"/>
<circle cx="190.2" cy="491.4" r="8.6" fill="url(#gR)"/>
<circle cx="211.9" cy="491.4" r="8.6" fill="url(#gB)"/>
<circle cx="254.5" cy="491.4" r="8.6" fill="url(#gR)"/>
<circle cx="276.2" cy="491.4" r="8.6" fill="url(#gB)"/>
<line x1="42.7" y1="542.4" x2="61.2" y2="542.4" stroke="#4a86cf" stroke-width="4"/>
<line x1="61.2" y1="542.4" x2="72.3" y2="542.4" stroke="#4a86cf" stroke-width="4"/><line x1="72.3" y1="542.4" x2="83.5" y2="542.4" stroke="#f01010" stroke-width="4"/>
<line x1="83.5" y1="542.4" x2="104.8" y2="542.4" stroke="#f01010" stroke-width="4"/><line x1="104.8" y1="542.4" x2="126.2" y2="542.4" stroke="#4a86cf" stroke-width="4"/>
<line x1="126.2" y1="542.4" x2="137.0" y2="542.4" stroke="#4a86cf" stroke-width="4"/><line x1="137.0" y1="542.4" x2="147.8" y2="542.4" stroke="#f01010" stroke-width="4"/>
<line x1="147.8" y1="542.4" x2="169.0" y2="542.4" stroke="#f01010" stroke-width="4"/><line x1="169.0" y1="542.4" x2="190.2" y2="542.4" stroke="#4a86cf" stroke-width="4"/>
<line x1="190.2" y1="542.4" x2="201.1" y2="542.4" stroke="#4a86cf" stroke-width="4"/><line x1="201.1" y1="542.4" x2="211.9" y2="542.4" stroke="#f01010" stroke-width="4"/>
<line x1="211.9" y1="542.4" x2="233.2" y2="542.4" stroke="#f01010" stroke-width="4"/><line x1="233.2" y1="542.4" x2="254.5" y2="542.4" stroke="#4a86cf" stroke-width="4"/>
<line x1="254.5" y1="542.4" x2="265.4" y2="542.4" stroke="#4a86cf" stroke-width="4"/><line x1="265.4" y1="542.4" x2="276.2" y2="542.4" stroke="#f01010" stroke-width="4"/>
<line x1="276.2" y1="542.4" x2="294.4" y2="542.4" stroke="#f01010" stroke-width="4"/>
<circle cx="61.2" cy="542.4" r="8.6" fill="url(#gB)"/>
<circle cx="83.5" cy="542.4" r="8.6" fill="url(#gR)"/>
<circle cx="126.2" cy="542.4" r="8.6" fill="url(#gB)"/>
<circle cx="147.8" cy="542.4" r="8.6" fill="url(#gR)"/>
<circle cx="190.2" cy="542.4" r="8.6" fill="url(#gB)"/>
<circle cx="211.9" cy="542.4" r="8.6" fill="url(#gR)"/>
<circle cx="254.5" cy="542.4" r="8.6" fill="url(#gB)"/>
<circle cx="276.2" cy="542.4" r="8.6" fill="url(#gR)"/>
<line x1="42.7" y1="593.4" x2="61.2" y2="593.4" stroke="#f01010" stroke-width="4"/>
<line x1="61.2" y1="593.4" x2="72.3" y2="593.4" stroke="#f01010" stroke-width="4"/><line x1="72.3" y1="593.4" x2="83.5" y2="593.4" stroke="#4a86cf" stroke-width="4"/>
<line x1="83.5" y1="593.4" x2="104.8" y2="593.4" stroke="#4a86cf" stroke-width="4"/><line x1="104.8" y1="593.4" x2="126.2" y2="593.4" stroke="#f01010" stroke-width="4"/>
<line x1="126.2" y1="593.4" x2="137.0" y2="593.4" stroke="#f01010" stroke-width="4"/><line x1="137.0" y1="593.4" x2="147.8" y2="593.4" stroke="#4a86cf" stroke-width="4"/>
<line x1="147.8" y1="593.4" x2="169.0" y2="593.4" stroke="#4a86cf" stroke-width="4"/><line x1="169.0" y1="593.4" x2="190.2" y2="593.4" stroke="#f01010" stroke-width="4"/>
<line x1="190.2" y1="593.4" x2="201.1" y2="593.4" stroke="#f01010" stroke-width="4"/><line x1="201.1" y1="593.4" x2="211.9" y2="593.4" stroke="#4a86cf" stroke-width="4"/>
<line x1="211.9" y1="593.4" x2="233.2" y2="593.4" stroke="#4a86cf" stroke-width="4"/><line x1="233.2" y1="593.4" x2="254.5" y2="593.4" stroke="#f01010" stroke-width="4"/>
<line x1="254.5" y1="593.4" x2="265.4" y2="593.4" stroke="#f01010" stroke-width="4"/><line x1="265.4" y1="593.4" x2="276.2" y2="593.4" stroke="#4a86cf" stroke-width="4"/>
<line x1="276.2" y1="593.4" x2="294.4" y2="593.4" stroke="#4a86cf" stroke-width="4"/>
<circle cx="61.2" cy="593.4" r="8.6" fill="url(#gR)"/>
<circle cx="83.5" cy="593.4" r="8.6" fill="url(#gB)"/>
<circle cx="126.2" cy="593.4" r="8.6" fill="url(#gR)"/>
<circle cx="147.8" cy="593.4" r="8.6" fill="url(#gB)"/>
<circle cx="190.2" cy="593.4" r="8.6" fill="url(#gR)"/>
<circle cx="211.9" cy="593.4" r="8.6" fill="url(#gB)"/>
<circle cx="254.5" cy="593.4" r="8.6" fill="url(#gR)"/>
<circle cx="276.2" cy="593.4" r="8.6" fill="url(#gB)"/>
<line x1="42.7" y1="644.5" x2="61.2" y2="644.5" stroke="#4a86cf" stroke-width="4"/>
<line x1="61.2" y1="644.5" x2="72.3" y2="644.5" stroke="#4a86cf" stroke-width="4"/><line x1="72.3" y1="644.5" x2="83.5" y2="644.5" stroke="#f01010" stroke-width="4"/>
<line x1="83.5" y1="644.5" x2="104.8" y2="644.5" stroke="#f01010" stroke-width="4"/><line x1="104.8" y1="644.5" x2="126.2" y2="644.5" stroke="#4a86cf" stroke-width="4"/>
<line x1="126.2" y1="644.5" x2="137.0" y2="644.5" stroke="#4a86cf" stroke-width="4"/><line x1="137.0" y1="644.5" x2="147.8" y2="644.5" stroke="#f01010" stroke-width="4"/>
<line x1="147.8" y1="644.5" x2="169.0" y2="644.5" stroke="#f01010" stroke-width="4"/><line x1="169.0" y1="644.5" x2="190.2" y2="644.5" stroke="#4a86cf" stroke-width="4"/>
<line x1="190.2" y1="644.5" x2="201.1" y2="644.5" stroke="#4a86cf" stroke-width="4"/><line x1="201.1" y1="644.5" x2="211.9" y2="644.5" stroke="#f01010" stroke-width="4"/>
<line x1="211.9" y1="644.5" x2="233.2" y2="644.5" stroke="#f01010" stroke-width="4"/><line x1="233.2" y1="644.5" x2="254.5" y2="644.5" stroke="#4a86cf" stroke-width="4"/>
<line x1="254.5" y1="644.5" x2="265.4" y2="644.5" stroke="#4a86cf" stroke-width="4"/><line x1="265.4" y1="644.5" x2="276.2" y2="644.5" stroke="#f01010" stroke-width="4"/>
<line x1="276.2" y1="644.5" x2="294.4" y2="644.5" stroke="#f01010" stroke-width="4"/>
<circle cx="61.2" cy="644.5" r="8.6" fill="url(#gB)"/>
<circle cx="83.5" cy="644.5" r="8.6" fill="url(#gR)"/>
<circle cx="126.2" cy="644.5" r="8.6" fill="url(#gB)"/>
<circle cx="147.8" cy="644.5" r="8.6" fill="url(#gR)"/>
<circle cx="190.2" cy="644.5" r="8.6" fill="url(#gB)"/>
<circle cx="211.9" cy="644.5" r="8.6" fill="url(#gR)"/>
<circle cx="254.5" cy="644.5" r="8.6" fill="url(#gB)"/>
<circle cx="276.2" cy="644.5" r="8.6" fill="url(#gR)"/>
<line x1="211.9" y1="561.5" x2="211.9" y2="575.5" stroke="#000" stroke-width="4.5"/><polygon points="211.9,548.5 203.9,562.5 219.9,562.5" fill="#000"/><polygon points="211.9,588.5 203.9,574.5 219.9,574.5" fill="#000"/>
<text x="228.0" y="592.5" font-size="40" text-anchor="start" font-style="italic">d</text>
<text x="181.5" y="756.0" font-size="40" text-anchor="middle" >7L</text>
<line x1="45.7" y1="779.7" x2="62.9" y2="779.7" stroke="#4a86cf" stroke-width="4.6"/>
<line x1="62.9" y1="779.7" x2="74.2" y2="779.7" stroke="#4a86cf" stroke-width="4.6"/><line x1="74.2" y1="779.7" x2="85.6" y2="779.7" stroke="#f01010" stroke-width="4.6"/>
<line x1="85.6" y1="779.7" x2="107.7" y2="779.7" stroke="#f01010" stroke-width="4.6"/><line x1="107.7" y1="779.7" x2="129.8" y2="779.7" stroke="#4a86cf" stroke-width="4.6"/>
<line x1="129.8" y1="779.7" x2="141.2" y2="779.7" stroke="#4a86cf" stroke-width="4.6"/><line x1="141.2" y1="779.7" x2="152.6" y2="779.7" stroke="#f01010" stroke-width="4.6"/>
<line x1="152.6" y1="779.7" x2="174.8" y2="779.7" stroke="#f01010" stroke-width="4.6"/><line x1="174.8" y1="779.7" x2="197.1" y2="779.7" stroke="#4a86cf" stroke-width="4.6"/>
<line x1="197.1" y1="779.7" x2="208.4" y2="779.7" stroke="#4a86cf" stroke-width="4.6"/><line x1="208.4" y1="779.7" x2="219.8" y2="779.7" stroke="#f01010" stroke-width="4.6"/>
<line x1="219.8" y1="779.7" x2="242.2" y2="779.7" stroke="#f01010" stroke-width="4.6"/><line x1="242.2" y1="779.7" x2="264.7" y2="779.7" stroke="#4a86cf" stroke-width="4.6"/>
<line x1="264.7" y1="779.7" x2="275.9" y2="779.7" stroke="#4a86cf" stroke-width="4.6"/><line x1="275.9" y1="779.7" x2="287.1" y2="779.7" stroke="#f01010" stroke-width="4.6"/>
<line x1="287.1" y1="779.7" x2="300.4" y2="779.7" stroke="#f01010" stroke-width="4.6"/>
<line x1="45.7" y1="832.8" x2="62.9" y2="832.8" stroke="#f01010" stroke-width="4.6"/>
<line x1="62.9" y1="832.8" x2="74.2" y2="832.8" stroke="#f01010" stroke-width="4.6"/><line x1="74.2" y1="832.8" x2="85.6" y2="832.8" stroke="#4a86cf" stroke-width="4.6"/>
<line x1="85.6" y1="832.8" x2="107.7" y2="832.8" stroke="#4a86cf" stroke-width="4.6"/><line x1="107.7" y1="832.8" x2="129.8" y2="832.8" stroke="#f01010" stroke-width="4.6"/>
<line x1="129.8" y1="832.8" x2="141.2" y2="832.8" stroke="#f01010" stroke-width="4.6"/><line x1="141.2" y1="832.8" x2="152.6" y2="832.8" stroke="#4a86cf" stroke-width="4.6"/>
<line x1="152.6" y1="832.8" x2="174.8" y2="832.8" stroke="#4a86cf" stroke-width="4.6"/><line x1="174.8" y1="832.8" x2="197.1" y2="832.8" stroke="#f01010" stroke-width="4.6"/>
<line x1="197.1" y1="832.8" x2="208.4" y2="832.8" stroke="#f01010" stroke-width="4.6"/><line x1="208.4" y1="832.8" x2="219.8" y2="832.8" stroke="#4a86cf" stroke-width="4.6"/>
<line x1="219.8" y1="832.8" x2="242.2" y2="832.8" stroke="#4a86cf" stroke-width="4.6"/><line x1="242.2" y1="832.8" x2="264.7" y2="832.8" stroke="#f01010" stroke-width="4.6"/>
<line x1="264.7" y1="832.8" x2="275.9" y2="832.8" stroke="#f01010" stroke-width="4.6"/><line x1="275.9" y1="832.8" x2="287.1" y2="832.8" stroke="#4a86cf" stroke-width="4.6"/>
<line x1="287.1" y1="832.8" x2="300.4" y2="832.8" stroke="#4a86cf" stroke-width="4.6"/>
<line x1="45.7" y1="885" x2="62.9" y2="885" stroke="#4a86cf" stroke-width="4.6"/>
<line x1="62.9" y1="885.0" x2="74.2" y2="885.0" stroke="#4a86cf" stroke-width="4.6"/><line x1="74.2" y1="885.0" x2="85.6" y2="885.0" stroke="#f01010" stroke-width="4.6"/>
<line x1="85.6" y1="885.0" x2="107.7" y2="885.0" stroke="#f01010" stroke-width="4.6"/><line x1="107.7" y1="885.0" x2="129.8" y2="885.0" stroke="#4a86cf" stroke-width="4.6"/>
<line x1="129.8" y1="885.0" x2="141.2" y2="885.0" stroke="#4a86cf" stroke-width="4.6"/><line x1="141.2" y1="885.0" x2="152.6" y2="885.0" stroke="#f01010" stroke-width="4.6"/>
<line x1="152.6" y1="885.0" x2="174.8" y2="885.0" stroke="#f01010" stroke-width="4.6"/><line x1="174.8" y1="885.0" x2="197.1" y2="885.0" stroke="#4a86cf" stroke-width="4.6"/>
<line x1="197.1" y1="885.0" x2="208.4" y2="885.0" stroke="#4a86cf" stroke-width="4.6"/><line x1="208.4" y1="885.0" x2="219.8" y2="885.0" stroke="#f01010" stroke-width="4.6"/>
<line x1="219.8" y1="885.0" x2="242.2" y2="885.0" stroke="#f01010" stroke-width="4.6"/><line x1="242.2" y1="885.0" x2="264.7" y2="885.0" stroke="#4a86cf" stroke-width="4.6"/>
<line x1="264.7" y1="885.0" x2="275.9" y2="885.0" stroke="#4a86cf" stroke-width="4.6"/><line x1="275.9" y1="885.0" x2="287.1" y2="885.0" stroke="#f01010" stroke-width="4.6"/>
<line x1="287.1" y1="885" x2="300.4" y2="885" stroke="#f01010" stroke-width="4.6"/>
<line x1="45.7" y1="937" x2="62.9" y2="937" stroke="#f01010" stroke-width="4.6"/>
<line x1="62.9" y1="937.0" x2="74.2" y2="937.0" stroke="#f01010" stroke-width="4.6"/><line x1="74.2" y1="937.0" x2="85.6" y2="937.0" stroke="#4a86cf" stroke-width="4.6"/>
<line x1="85.6" y1="937.0" x2="107.7" y2="937.0" stroke="#4a86cf" stroke-width="4.6"/><line x1="107.7" y1="937.0" x2="129.8" y2="937.0" stroke="#f01010" stroke-width="4.6"/>
<line x1="129.8" y1="937.0" x2="141.2" y2="937.0" stroke="#f01010" stroke-width="4.6"/><line x1="141.2" y1="937.0" x2="152.6" y2="937.0" stroke="#4a86cf" stroke-width="4.6"/>
<line x1="152.6" y1="937.0" x2="174.8" y2="937.0" stroke="#4a86cf" stroke-width="4.6"/><line x1="174.8" y1="937.0" x2="197.1" y2="937.0" stroke="#f01010" stroke-width="4.6"/>
<line x1="197.1" y1="937.0" x2="208.4" y2="937.0" stroke="#f01010" stroke-width="4.6"/><line x1="208.4" y1="937.0" x2="219.8" y2="937.0" stroke="#4a86cf" stroke-width="4.6"/>
<line x1="219.8" y1="937.0" x2="242.2" y2="937.0" stroke="#4a86cf" stroke-width="4.6"/><line x1="242.2" y1="937.0" x2="264.7" y2="937.0" stroke="#f01010" stroke-width="4.6"/>
<line x1="264.7" y1="937.0" x2="275.9" y2="937.0" stroke="#f01010" stroke-width="4.6"/><line x1="275.9" y1="937.0" x2="287.1" y2="937.0" stroke="#4a86cf" stroke-width="4.6"/>
<line x1="287.1" y1="937" x2="300.4" y2="937" stroke="#4a86cf" stroke-width="4.6"/>
<line x1="45.7" y1="989.2" x2="62.9" y2="989.2" stroke="#4a86cf" stroke-width="4.6"/>
<line x1="62.9" y1="989.2" x2="74.2" y2="989.2" stroke="#4a86cf" stroke-width="4.6"/><line x1="74.2" y1="989.2" x2="85.6" y2="989.2" stroke="#f01010" stroke-width="4.6"/>
<line x1="85.6" y1="989.2" x2="107.7" y2="989.2" stroke="#f01010" stroke-width="4.6"/><line x1="107.7" y1="989.2" x2="129.8" y2="989.2" stroke="#4a86cf" stroke-width="4.6"/>
<line x1="129.8" y1="989.2" x2="141.2" y2="989.2" stroke="#4a86cf" stroke-width="4.6"/><line x1="141.2" y1="989.2" x2="152.6" y2="989.2" stroke="#f01010" stroke-width="4.6"/>
<line x1="152.6" y1="989.2" x2="174.8" y2="989.2" stroke="#f01010" stroke-width="4.6"/><line x1="174.8" y1="989.2" x2="197.1" y2="989.2" stroke="#4a86cf" stroke-width="4.6"/>
<line x1="197.1" y1="989.2" x2="208.4" y2="989.2" stroke="#4a86cf" stroke-width="4.6"/><line x1="208.4" y1="989.2" x2="219.8" y2="989.2" stroke="#f01010" stroke-width="4.6"/>
<line x1="219.8" y1="989.2" x2="242.2" y2="989.2" stroke="#f01010" stroke-width="4.6"/><line x1="242.2" y1="989.2" x2="264.7" y2="989.2" stroke="#4a86cf" stroke-width="4.6"/>
<line x1="264.7" y1="989.2" x2="275.9" y2="989.2" stroke="#4a86cf" stroke-width="4.6"/><line x1="275.9" y1="989.2" x2="287.1" y2="989.2" stroke="#f01010" stroke-width="4.6"/>
<line x1="287.1" y1="989.2" x2="300.4" y2="989.2" stroke="#f01010" stroke-width="4.6"/>
<line x1="45.7" y1="1041.7" x2="62.9" y2="1041.7" stroke="#f01010" stroke-width="4.6"/>
<line x1="62.9" y1="1041.7" x2="74.2" y2="1041.7" stroke="#f01010" stroke-width="4.6"/><line x1="74.2" y1="1041.7" x2="85.6" y2="1041.7" stroke="#4a86cf" stroke-width="4.6"/>
<line x1="85.6" y1="1041.7" x2="107.7" y2="1041.7" stroke="#4a86cf" stroke-width="4.6"/><line x1="107.7" y1="1041.7" x2="129.8" y2="1041.7" stroke="#f01010" stroke-width="4.6"/>
<line x1="129.8" y1="1041.7" x2="141.2" y2="1041.7" stroke="#f01010" stroke-width="4.6"/><line x1="141.2" y1="1041.7" x2="152.6" y2="1041.7" stroke="#4a86cf" stroke-width="4.6"/>
<line x1="152.6" y1="1041.7" x2="174.8" y2="1041.7" stroke="#4a86cf" stroke-width="4.6"/><line x1="174.8" y1="1041.7" x2="197.1" y2="1041.7" stroke="#f01010" stroke-width="4.6"/>
<line x1="197.1" y1="1041.7" x2="208.4" y2="1041.7" stroke="#f01010" stroke-width="4.6"/><line x1="208.4" y1="1041.7" x2="219.8" y2="1041.7" stroke="#4a86cf" stroke-width="4.6"/>
<line x1="219.8" y1="1041.7" x2="242.2" y2="1041.7" stroke="#4a86cf" stroke-width="4.6"/><line x1="242.2" y1="1041.7" x2="264.7" y2="1041.7" stroke="#f01010" stroke-width="4.6"/>
<line x1="264.7" y1="1041.7" x2="275.9" y2="1041.7" stroke="#f01010" stroke-width="4.6"/><line x1="275.9" y1="1041.7" x2="287.1" y2="1041.7" stroke="#4a86cf" stroke-width="4.6"/>
<line x1="287.1" y1="1041.7" x2="300.4" y2="1041.7" stroke="#4a86cf" stroke-width="4.6"/>
<line x1="45.7" y1="1094" x2="62.9" y2="1094" stroke="#4a86cf" stroke-width="4.6"/>
<line x1="62.9" y1="1094.0" x2="74.2" y2="1094.0" stroke="#4a86cf" stroke-width="4.6"/><line x1="74.2" y1="1094.0" x2="85.6" y2="1094.0" stroke="#f01010" stroke-width="4.6"/>
<line x1="85.6" y1="1094.0" x2="107.7" y2="1094.0" stroke="#f01010" stroke-width="4.6"/><line x1="107.7" y1="1094.0" x2="129.8" y2="1094.0" stroke="#4a86cf" stroke-width="4.6"/>
<line x1="129.8" y1="1094.0" x2="141.2" y2="1094.0" stroke="#4a86cf" stroke-width="4.6"/><line x1="141.2" y1="1094.0" x2="152.6" y2="1094.0" stroke="#f01010" stroke-width="4.6"/>
<line x1="152.6" y1="1094.0" x2="174.8" y2="1094.0" stroke="#f01010" stroke-width="4.6"/><line x1="174.8" y1="1094.0" x2="197.1" y2="1094.0" stroke="#4a86cf" stroke-width="4.6"/>
<line x1="197.1" y1="1094.0" x2="208.4" y2="1094.0" stroke="#4a86cf" stroke-width="4.6"/><line x1="208.4" y1="1094.0" x2="219.8" y2="1094.0" stroke="#f01010" stroke-width="4.6"/>
<line x1="219.8" y1="1094.0" x2="242.2" y2="1094.0" stroke="#f01010" stroke-width="4.6"/><line x1="242.2" y1="1094.0" x2="264.7" y2="1094.0" stroke="#4a86cf" stroke-width="4.6"/>
<line x1="264.7" y1="1094.0" x2="275.9" y2="1094.0" stroke="#4a86cf" stroke-width="4.6"/><line x1="275.9" y1="1094.0" x2="287.1" y2="1094.0" stroke="#f01010" stroke-width="4.6"/>
<line x1="287.1" y1="1094" x2="300.4" y2="1094" stroke="#f01010" stroke-width="4.6"/>
<line x1="62.9" y1="779.7" x2="62.9" y2="806.2" stroke="#4a86cf" stroke-width="4.6"/><line x1="62.9" y1="806.2" x2="62.9" y2="832.8" stroke="#f01010" stroke-width="4.6"/>
<line x1="85.6" y1="779.7" x2="85.6" y2="806.2" stroke="#f01010" stroke-width="4.6"/><line x1="85.6" y1="806.2" x2="85.6" y2="832.8" stroke="#4a86cf" stroke-width="4.6"/>
<line x1="129.8" y1="779.7" x2="129.8" y2="806.2" stroke="#4a86cf" stroke-width="4.6"/><line x1="129.8" y1="806.2" x2="129.8" y2="832.8" stroke="#f01010" stroke-width="4.6"/>
<line x1="152.6" y1="779.7" x2="152.6" y2="806.2" stroke="#f01010" stroke-width="4.6"/><line x1="152.6" y1="806.2" x2="152.6" y2="832.8" stroke="#4a86cf" stroke-width="4.6"/>
<line x1="197.1" y1="779.7" x2="197.1" y2="806.2" stroke="#4a86cf" stroke-width="4.6"/><line x1="197.1" y1="806.2" x2="197.1" y2="832.8" stroke="#f01010" stroke-width="4.6"/>
<line x1="219.8" y1="779.7" x2="219.8" y2="806.2" stroke="#f01010" stroke-width="4.6"/><line x1="219.8" y1="806.2" x2="219.8" y2="832.8" stroke="#4a86cf" stroke-width="4.6"/>
<line x1="264.7" y1="779.7" x2="264.7" y2="806.2" stroke="#4a86cf" stroke-width="4.6"/><line x1="264.7" y1="806.2" x2="264.7" y2="832.8" stroke="#f01010" stroke-width="4.6"/>
<line x1="287.1" y1="779.7" x2="287.1" y2="806.2" stroke="#f01010" stroke-width="4.6"/><line x1="287.1" y1="806.2" x2="287.1" y2="832.8" stroke="#4a86cf" stroke-width="4.6"/>
<line x1="62.9" y1="832.8" x2="62.9" y2="858.9" stroke="#f01010" stroke-width="4.6"/><line x1="62.9" y1="858.9" x2="62.9" y2="885.0" stroke="#4a86cf" stroke-width="4.6"/>
<line x1="85.6" y1="832.8" x2="85.6" y2="858.9" stroke="#4a86cf" stroke-width="4.6"/><line x1="85.6" y1="858.9" x2="85.6" y2="885.0" stroke="#f01010" stroke-width="4.6"/>
<line x1="129.8" y1="832.8" x2="129.8" y2="858.9" stroke="#f01010" stroke-width="4.6"/><line x1="129.8" y1="858.9" x2="129.8" y2="885.0" stroke="#4a86cf" stroke-width="4.6"/>
<line x1="152.6" y1="832.8" x2="152.6" y2="858.9" stroke="#4a86cf" stroke-width="4.6"/><line x1="152.6" y1="858.9" x2="152.6" y2="885.0" stroke="#f01010" stroke-width="4.6"/>
<line x1="197.1" y1="832.8" x2="197.1" y2="858.9" stroke="#f01010" stroke-width="4.6"/><line x1="197.1" y1="858.9" x2="197.1" y2="885.0" stroke="#4a86cf" stroke-width="4.6"/>
<line x1="219.8" y1="832.8" x2="219.8" y2="858.9" stroke="#4a86cf" stroke-width="4.6"/><line x1="219.8" y1="858.9" x2="219.8" y2="885.0" stroke="#f01010" stroke-width="4.6"/>
<line x1="264.7" y1="832.8" x2="264.7" y2="858.9" stroke="#f01010" stroke-width="4.6"/><line x1="264.7" y1="858.9" x2="264.7" y2="885.0" stroke="#4a86cf" stroke-width="4.6"/>
<line x1="287.1" y1="832.8" x2="287.1" y2="858.9" stroke="#4a86cf" stroke-width="4.6"/><line x1="287.1" y1="858.9" x2="287.1" y2="885.0" stroke="#f01010" stroke-width="4.6"/>
<line x1="62.9" y1="885.0" x2="62.9" y2="911.0" stroke="#4a86cf" stroke-width="4.6"/><line x1="62.9" y1="911.0" x2="62.9" y2="937.0" stroke="#f01010" stroke-width="4.6"/>
<line x1="85.6" y1="885.0" x2="85.6" y2="911.0" stroke="#f01010" stroke-width="4.6"/><line x1="85.6" y1="911.0" x2="85.6" y2="937.0" stroke="#4a86cf" stroke-width="4.6"/>
<line x1="129.8" y1="885.0" x2="129.8" y2="911.0" stroke="#4a86cf" stroke-width="4.6"/><line x1="129.8" y1="911.0" x2="129.8" y2="937.0" stroke="#f01010" stroke-width="4.6"/>
<line x1="152.6" y1="885.0" x2="152.6" y2="911.0" stroke="#f01010" stroke-width="4.6"/><line x1="152.6" y1="911.0" x2="152.6" y2="937.0" stroke="#4a86cf" stroke-width="4.6"/>
<line x1="197.1" y1="885.0" x2="197.1" y2="911.0" stroke="#4a86cf" stroke-width="4.6"/><line x1="197.1" y1="911.0" x2="197.1" y2="937.0" stroke="#f01010" stroke-width="4.6"/>
<line x1="219.8" y1="885.0" x2="219.8" y2="911.0" stroke="#f01010" stroke-width="4.6"/><line x1="219.8" y1="911.0" x2="219.8" y2="937.0" stroke="#4a86cf" stroke-width="4.6"/>
<line x1="264.7" y1="885.0" x2="264.7" y2="911.0" stroke="#4a86cf" stroke-width="4.6"/><line x1="264.7" y1="911.0" x2="264.7" y2="937.0" stroke="#f01010" stroke-width="4.6"/>
<line x1="287.1" y1="885.0" x2="287.1" y2="911.0" stroke="#f01010" stroke-width="4.6"/><line x1="287.1" y1="911.0" x2="287.1" y2="937.0" stroke="#4a86cf" stroke-width="4.6"/>
<line x1="62.9" y1="937.0" x2="62.9" y2="963.1" stroke="#f01010" stroke-width="4.6"/><line x1="62.9" y1="963.1" x2="62.9" y2="989.2" stroke="#4a86cf" stroke-width="4.6"/>
<line x1="85.6" y1="937.0" x2="85.6" y2="963.1" stroke="#4a86cf" stroke-width="4.6"/><line x1="85.6" y1="963.1" x2="85.6" y2="989.2" stroke="#f01010" stroke-width="4.6"/>
<line x1="129.8" y1="937.0" x2="129.8" y2="963.1" stroke="#f01010" stroke-width="4.6"/><line x1="129.8" y1="963.1" x2="129.8" y2="989.2" stroke="#4a86cf" stroke-width="4.6"/>
<line x1="152.6" y1="937.0" x2="152.6" y2="963.1" stroke="#4a86cf" stroke-width="4.6"/><line x1="152.6" y1="963.1" x2="152.6" y2="989.2" stroke="#f01010" stroke-width="4.6"/>
<line x1="197.1" y1="937.0" x2="197.1" y2="963.1" stroke="#f01010" stroke-width="4.6"/><line x1="197.1" y1="963.1" x2="197.1" y2="989.2" stroke="#4a86cf" stroke-width="4.6"/>
<line x1="219.8" y1="937.0" x2="219.8" y2="963.1" stroke="#4a86cf" stroke-width="4.6"/><line x1="219.8" y1="963.1" x2="219.8" y2="989.2" stroke="#f01010" stroke-width="4.6"/>
<line x1="264.7" y1="937.0" x2="264.7" y2="963.1" stroke="#f01010" stroke-width="4.6"/><line x1="264.7" y1="963.1" x2="264.7" y2="989.2" stroke="#4a86cf" stroke-width="4.6"/>
<line x1="287.1" y1="937.0" x2="287.1" y2="963.1" stroke="#4a86cf" stroke-width="4.6"/><line x1="287.1" y1="963.1" x2="287.1" y2="989.2" stroke="#f01010" stroke-width="4.6"/>
<line x1="62.9" y1="989.2" x2="62.9" y2="1015.5" stroke="#4a86cf" stroke-width="4.6"/><line x1="62.9" y1="1015.5" x2="62.9" y2="1041.7" stroke="#f01010" stroke-width="4.6"/>
<line x1="85.6" y1="989.2" x2="85.6" y2="1015.5" stroke="#f01010" stroke-width="4.6"/><line x1="85.6" y1="1015.5" x2="85.6" y2="1041.7" stroke="#4a86cf" stroke-width="4.6"/>
<line x1="129.8" y1="989.2" x2="129.8" y2="1015.5" stroke="#4a86cf" stroke-width="4.6"/><line x1="129.8" y1="1015.5" x2="129.8" y2="1041.7" stroke="#f01010" stroke-width="4.6"/>
<line x1="152.6" y1="989.2" x2="152.6" y2="1015.5" stroke="#f01010" stroke-width="4.6"/><line x1="152.6" y1="1015.5" x2="152.6" y2="1041.7" stroke="#4a86cf" stroke-width="4.6"/>
<line x1="197.1" y1="989.2" x2="197.1" y2="1015.5" stroke="#4a86cf" stroke-width="4.6"/><line x1="197.1" y1="1015.5" x2="197.1" y2="1041.7" stroke="#f01010" stroke-width="4.6"/>
<line x1="219.8" y1="989.2" x2="219.8" y2="1015.5" stroke="#f01010" stroke-width="4.6"/><line x1="219.8" y1="1015.5" x2="219.8" y2="1041.7" stroke="#4a86cf" stroke-width="4.6"/>
<line x1="264.7" y1="989.2" x2="264.7" y2="1015.5" stroke="#4a86cf" stroke-width="4.6"/><line x1="264.7" y1="1015.5" x2="264.7" y2="1041.7" stroke="#f01010" stroke-width="4.6"/>
<line x1="287.1" y1="989.2" x2="287.1" y2="1015.5" stroke="#f01010" stroke-width="4.6"/><line x1="287.1" y1="1015.5" x2="287.1" y2="1041.7" stroke="#4a86cf" stroke-width="4.6"/>
<line x1="62.9" y1="1041.7" x2="62.9" y2="1067.8" stroke="#f01010" stroke-width="4.6"/><line x1="62.9" y1="1067.8" x2="62.9" y2="1094.0" stroke="#4a86cf" stroke-width="4.6"/>
<line x1="85.6" y1="1041.7" x2="85.6" y2="1067.8" stroke="#4a86cf" stroke-width="4.6"/><line x1="85.6" y1="1067.8" x2="85.6" y2="1094.0" stroke="#f01010" stroke-width="4.6"/>
<line x1="129.8" y1="1041.7" x2="129.8" y2="1067.8" stroke="#f01010" stroke-width="4.6"/><line x1="129.8" y1="1067.8" x2="129.8" y2="1094.0" stroke="#4a86cf" stroke-width="4.6"/>
<line x1="152.6" y1="1041.7" x2="152.6" y2="1067.8" stroke="#4a86cf" stroke-width="4.6"/><line x1="152.6" y1="1067.8" x2="152.6" y2="1094.0" stroke="#f01010" stroke-width="4.6"/>
<line x1="197.1" y1="1041.7" x2="197.1" y2="1067.8" stroke="#f01010" stroke-width="4.6"/><line x1="197.1" y1="1067.8" x2="197.1" y2="1094.0" stroke="#4a86cf" stroke-width="4.6"/>
<line x1="219.8" y1="1041.7" x2="219.8" y2="1067.8" stroke="#4a86cf" stroke-width="4.6"/><line x1="219.8" y1="1067.8" x2="219.8" y2="1094.0" stroke="#f01010" stroke-width="4.6"/>
<line x1="264.7" y1="1041.7" x2="264.7" y2="1067.8" stroke="#f01010" stroke-width="4.6"/><line x1="264.7" y1="1067.8" x2="264.7" y2="1094.0" stroke="#4a86cf" stroke-width="4.6"/>
<line x1="287.1" y1="1041.7" x2="287.1" y2="1067.8" stroke="#4a86cf" stroke-width="4.6"/><line x1="287.1" y1="1067.8" x2="287.1" y2="1094.0" stroke="#f01010" stroke-width="4.6"/>
<circle cx="62.9" cy="779.7" r="8.6" fill="url(#gB)"/>
<circle cx="85.6" cy="779.7" r="8.6" fill="url(#gR)"/>
<circle cx="129.8" cy="779.7" r="8.6" fill="url(#gB)"/>
<circle cx="152.6" cy="779.7" r="8.6" fill="url(#gR)"/>
<circle cx="197.1" cy="779.7" r="8.6" fill="url(#gB)"/>
<circle cx="219.8" cy="779.7" r="8.6" fill="url(#gR)"/>
<circle cx="264.7" cy="779.7" r="8.6" fill="url(#gB)"/>
<circle cx="287.1" cy="779.7" r="8.6" fill="url(#gR)"/>
<circle cx="62.9" cy="832.8" r="8.6" fill="url(#gR)"/>
<circle cx="85.6" cy="832.8" r="8.6" fill="url(#gB)"/>
<circle cx="129.8" cy="832.8" r="8.6" fill="url(#gR)"/>
<circle cx="152.6" cy="832.8" r="8.6" fill="url(#gB)"/>
<circle cx="197.1" cy="832.8" r="8.6" fill="url(#gR)"/>
<circle cx="219.8" cy="832.8" r="8.6" fill="url(#gB)"/>
<circle cx="264.7" cy="832.8" r="8.6" fill="url(#gR)"/>
<circle cx="287.1" cy="832.8" r="8.6" fill="url(#gB)"/>
<circle cx="62.9" cy="885.0" r="8.6" fill="url(#gB)"/>
<circle cx="85.6" cy="885.0" r="8.6" fill="url(#gR)"/>
<circle cx="129.8" cy="885.0" r="8.6" fill="url(#gB)"/>
<circle cx="152.6" cy="885.0" r="8.6" fill="url(#gR)"/>
<circle cx="197.1" cy="885.0" r="8.6" fill="url(#gB)"/>
<circle cx="219.8" cy="885.0" r="8.6" fill="url(#gR)"/>
<circle cx="264.7" cy="885.0" r="8.6" fill="url(#gB)"/>
<circle cx="287.1" cy="885.0" r="8.6" fill="url(#gR)"/>
<circle cx="62.9" cy="937.0" r="8.6" fill="url(#gR)"/>
<circle cx="85.6" cy="937.0" r="8.6" fill="url(#gB)"/>
<circle cx="129.8" cy="937.0" r="8.6" fill="url(#gR)"/>
<circle cx="152.6" cy="937.0" r="8.6" fill="url(#gB)"/>
<circle cx="197.1" cy="937.0" r="8.6" fill="url(#gR)"/>
<circle cx="219.8" cy="937.0" r="8.6" fill="url(#gB)"/>
<circle cx="264.7" cy="937.0" r="8.6" fill="url(#gR)"/>
<circle cx="287.1" cy="937.0" r="8.6" fill="url(#gB)"/>
<circle cx="62.9" cy="989.2" r="8.6" fill="url(#gB)"/>
<circle cx="85.6" cy="989.2" r="8.6" fill="url(#gR)"/>
<circle cx="129.8" cy="989.2" r="8.6" fill="url(#gB)"/>
<circle cx="152.6" cy="989.2" r="8.6" fill="url(#gR)"/>
<circle cx="197.1" cy="989.2" r="8.6" fill="url(#gB)"/>
<circle cx="219.8" cy="989.2" r="8.6" fill="url(#gR)"/>
<circle cx="264.7" cy="989.2" r="8.6" fill="url(#gB)"/>
<circle cx="287.1" cy="989.2" r="8.6" fill="url(#gR)"/>
<circle cx="62.9" cy="1041.7" r="8.6" fill="url(#gR)"/>
<circle cx="85.6" cy="1041.7" r="8.6" fill="url(#gB)"/>
<circle cx="129.8" cy="1041.7" r="8.6" fill="url(#gR)"/>
<circle cx="152.6" cy="1041.7" r="8.6" fill="url(#gB)"/>
<circle cx="197.1" cy="1041.7" r="8.6" fill="url(#gR)"/>
<circle cx="219.8" cy="1041.7" r="8.6" fill="url(#gB)"/>
<circle cx="264.7" cy="1041.7" r="8.6" fill="url(#gR)"/>
<circle cx="287.1" cy="1041.7" r="8.6" fill="url(#gB)"/>
<circle cx="62.9" cy="1094.0" r="8.6" fill="url(#gB)"/>
<circle cx="85.6" cy="1094.0" r="8.6" fill="url(#gR)"/>
<circle cx="129.8" cy="1094.0" r="8.6" fill="url(#gB)"/>
<circle cx="152.6" cy="1094.0" r="8.6" fill="url(#gR)"/>
<circle cx="197.1" cy="1094.0" r="8.6" fill="url(#gB)"/>
<circle cx="219.8" cy="1094.0" r="8.6" fill="url(#gR)"/>
<circle cx="264.7" cy="1094.0" r="8.6" fill="url(#gB)"/>
<circle cx="287.1" cy="1094.0" r="8.6" fill="url(#gR)"/>
<text x="178.7" y="1197.7" font-size="42" text-anchor="middle" >Bulk</text>
<g clip-path="url(#clipA5)"><line x1="31.9" y1="1180.0" x2="31.9" y2="1201.7" stroke="#f01010" stroke-width="4"/><line x1="31.9" y1="1201.7" x2="31.9" y2="1223.3" stroke="#4a86cf" stroke-width="4"/><line x1="93.0" y1="1180.0" x2="93.0" y2="1201.7" stroke="#f01010" stroke-width="4"/><line x1="93.0" y1="1201.7" x2="93.0" y2="1223.3" stroke="#4a86cf" stroke-width="4"/><line x1="154.1" y1="1180.0" x2="154.1" y2="1201.7" stroke="#f01010" stroke-width="4"/><line x1="154.1" y1="1201.7" x2="154.1" y2="1223.3" stroke="#4a86cf" stroke-width="4"/><line x1="215.2" y1="1180.0" x2="215.2" y2="1201.7" stroke="#f01010" stroke-width="4"/><line x1="215.2" y1="1201.7" x2="215.2" y2="1223.3" stroke="#4a86cf" stroke-width="4"/><line x1="276.3" y1="1180.0" x2="276.3" y2="1201.7" stroke="#f01010" stroke-width="4"/><line x1="276.3" y1="1201.7" x2="276.3" y2="1223.3" stroke="#4a86cf" stroke-width="4"/><line x1="337.4" y1="1180.0" x2="337.4" y2="1201.7" stroke="#f01010" stroke-width="4"/><line x1="337.4" y1="1201.7" x2="337.4" y2="1223.3" stroke="#4a86cf" stroke-width="4"/><line x1="398.5" y1="1180.0" x2="398.5" y2="1201.7" stroke="#f01010" stroke-width="4"/><line x1="398.5" y1="1201.7" x2="398.5" y2="1223.3" stroke="#4a86cf" stroke-width="4"/><line x1="31.9" y1="1223.3" x2="21.6" y2="1229.7" stroke="#4a86cf" stroke-width="4"/><line x1="21.6" y1="1229.7" x2="11.3" y2="1236.0" stroke="#f01010" stroke-width="4"/><line x1="31.9" y1="1223.3" x2="52.2" y2="1229.7" stroke="#4a86cf" stroke-width="4"/><line x1="52.2" y1="1229.7" x2="72.4" y2="1236.0" stroke="#f01010" stroke-width="4"/><line x1="93.0" y1="1223.3" x2="82.7" y2="1229.7" stroke="#4a86cf" stroke-width="4"/><line x1="82.7" y1="1229.7" x2="72.4" y2="1236.0" stroke="#f01010" stroke-width="4"/><line x1="93.0" y1="1223.3" x2="113.2" y2="1229.7" stroke="#4a86cf" stroke-width="4"/><line x1="113.2" y1="1229.7" x2="133.5" y2="1236.0" stroke="#f01010" stroke-width="4"/><line x1="154.1" y1="1223.3" x2="143.8" y2="1229.7" stroke="#4a86cf" stroke-width="4"/><line x1="143.8" y1="1229.7" x2="133.5" y2="1236.0" stroke="#f01010" stroke-width="4"/><line x1="154.1" y1="1223.3" x2="174.4" y2="1229.7" stroke="#4a86cf" stroke-width="4"/><line x1="174.4" y1="1229.7" x2="194.6" y2="1236.0" stroke="#f01010" stroke-width="4"/><line x1="215.2" y1="1223.3" x2="204.9" y2="1229.7" stroke="#4a86cf" stroke-width="4"/><line x1="204.9" y1="1229.7" x2="194.6" y2="1236.0" stroke="#f01010" stroke-width="4"/><line x1="215.2" y1="1223.3" x2="235.4" y2="1229.7" stroke="#4a86cf" stroke-width="4"/><line x1="235.4" y1="1229.7" x2="255.7" y2="1236.0" stroke="#f01010" stroke-width="4"/><line x1="276.3" y1="1223.3" x2="266.0" y2="1229.7" stroke="#4a86cf" stroke-width="4"/><line x1="266.0" y1="1229.7" x2="255.7" y2="1236.0" stroke="#f01010" stroke-width="4"/><line x1="276.3" y1="1223.3" x2="296.6" y2="1229.7" stroke="#4a86cf" stroke-width="4"/><line x1="296.6" y1="1229.7" x2="316.8" y2="1236.0" stroke="#f01010" stroke-width="4"/><line x1="337.4" y1="1223.3" x2="327.1" y2="1229.7" stroke="#4a86cf" stroke-width="4"/><line x1="327.1" y1="1229.7" x2="316.8" y2="1236.0" stroke="#f01010" stroke-width="4"/><line x1="337.4" y1="1223.3" x2="357.6" y2="1229.7" stroke="#4a86cf" stroke-width="4"/><line x1="357.6" y1="1229.7" x2="377.9" y2="1236.0" stroke="#f01010" stroke-width="4"/><line x1="398.5" y1="1223.3" x2="388.2" y2="1229.7" stroke="#4a86cf" stroke-width="4"/><line x1="388.2" y1="1229.7" x2="377.9" y2="1236.0" stroke="#f01010" stroke-width="4"/><line x1="11.3" y1="1236.0" x2="11.3" y2="1257.7" stroke="#f01010" stroke-width="4"/><line x1="11.3" y1="1257.7" x2="11.3" y2="1279.3" stroke="#4a86cf" stroke-width="4"/><line x1="72.4" y1="1236.0" x2="72.4" y2="1257.7" stroke="#f01010" stroke-width="4"/><line x1="72.4" y1="1257.7" x2="72.4" y2="1279.3" stroke="#4a86cf" stroke-width="4"/><line x1="133.5" y1="1236.0" x2="133.5" y2="1257.7" stroke="#f01010" stroke-width="4"/><line x1="133.5" y1="1257.7" x2="133.5" y2="1279.3" stroke="#4a86cf" stroke-width="4"/><line x1="194.6" y1="1236.0" x2="194.6" y2="1257.7" stroke="#f01010" stroke-width="4"/><line x1="194.6" y1="1257.7" x2="194.6" y2="1279.3" stroke="#4a86cf" stroke-width="4"/><line x1="255.7" y1="1236.0" x2="255.7" y2="1257.7" stroke="#f01010" stroke-width="4"/><line x1="255.7" y1="1257.7" x2="255.7" y2="1279.3" stroke="#4a86cf" stroke-width="4"/><line x1="316.8" y1="1236.0" x2="316.8" y2="1257.7" stroke="#f01010" stroke-width="4"/><line x1="316.8" y1="1257.7" x2="316.8" y2="1279.3" stroke="#4a86cf" stroke-width="4"/><line x1="377.9" y1="1236.0" x2="377.9" y2="1257.7" stroke="#f01010" stroke-width="4"/><line x1="377.9" y1="1257.7" x2="377.9" y2="1279.3" stroke="#4a86cf" stroke-width="4"/><line x1="11.3" y1="1279.3" x2="21.6" y2="1285.7" stroke="#4a86cf" stroke-width="4"/><line x1="21.6" y1="1285.7" x2="31.9" y2="1292.0" stroke="#f01010" stroke-width="4"/><line x1="72.4" y1="1279.3" x2="52.2" y2="1285.7" stroke="#4a86cf" stroke-width="4"/><line x1="52.2" y1="1285.7" x2="31.9" y2="1292.0" stroke="#f01010" stroke-width="4"/><line x1="72.4" y1="1279.3" x2="82.7" y2="1285.7" stroke="#4a86cf" stroke-width="4"/><line x1="82.7" y1="1285.7" x2="93.0" y2="1292.0" stroke="#f01010" stroke-width="4"/><line x1="133.5" y1="1279.3" x2="113.2" y2="1285.7" stroke="#4a86cf" stroke-width="4"/><line x1="113.2" y1="1285.7" x2="93.0" y2="1292.0" stroke="#f01010" stroke-width="4"/><line x1="133.5" y1="1279.3" x2="143.8" y2="1285.7" stroke="#4a86cf" stroke-width="4"/><line x1="143.8" y1="1285.7" x2="154.1" y2="1292.0" stroke="#f01010" stroke-width="4"/><line x1="194.6" y1="1279.3" x2="174.4" y2="1285.7" stroke="#4a86cf" stroke-width="4"/><line x1="174.4" y1="1285.7" x2="154.1" y2="1292.0" stroke="#f01010" stroke-width="4"/><line x1="194.6" y1="1279.3" x2="204.9" y2="1285.7" stroke="#4a86cf" stroke-width="4"/><line x1="204.9" y1="1285.7" x2="215.2" y2="1292.0" stroke="#f01010" stroke-width="4"/><line x1="255.7" y1="1279.3" x2="235.4" y2="1285.7" stroke="#4a86cf" stroke-width="4"/><line x1="235.4" y1="1285.7" x2="215.2" y2="1292.0" stroke="#f01010" stroke-width="4"/><line x1="255.7" y1="1279.3" x2="266.0" y2="1285.7" stroke="#4a86cf" stroke-width="4"/><line x1="266.0" y1="1285.7" x2="276.3" y2="1292.0" stroke="#f01010" stroke-width="4"/><line x1="316.8" y1="1279.3" x2="296.6" y2="1285.7" stroke="#4a86cf" stroke-width="4"/><line x1="296.6" y1="1285.7" x2="276.3" y2="1292.0" stroke="#f01010" stroke-width="4"/><line x1="316.8" y1="1279.3" x2="327.1" y2="1285.7" stroke="#4a86cf" stroke-width="4"/><line x1="327.1" y1="1285.7" x2="337.4" y2="1292.0" stroke="#f01010" stroke-width="4"/><line x1="377.9" y1="1279.3" x2="357.6" y2="1285.7" stroke="#4a86cf" stroke-width="4"/><line x1="357.6" y1="1285.7" x2="337.4" y2="1292.0" stroke="#f01010" stroke-width="4"/><line x1="377.9" y1="1279.3" x2="388.2" y2="1285.7" stroke="#4a86cf" stroke-width="4"/><line x1="388.2" y1="1285.7" x2="398.5" y2="1292.0" stroke="#f01010" stroke-width="4"/><line x1="31.9" y1="1292.0" x2="31.9" y2="1314.0" stroke="#f01010" stroke-width="4"/><line x1="31.9" y1="1314.0" x2="31.9" y2="1336.1" stroke="#4a86cf" stroke-width="4"/><line x1="93.0" y1="1292.0" x2="93.0" y2="1314.0" stroke="#f01010" stroke-width="4"/><line x1="93.0" y1="1314.0" x2="93.0" y2="1336.1" stroke="#4a86cf" stroke-width="4"/><line x1="154.1" y1="1292.0" x2="154.1" y2="1314.0" stroke="#f01010" stroke-width="4"/><line x1="154.1" y1="1314.0" x2="154.1" y2="1336.1" stroke="#4a86cf" stroke-width="4"/><line x1="215.2" y1="1292.0" x2="215.2" y2="1314.0" stroke="#f01010" stroke-width="4"/><line x1="215.2" y1="1314.0" x2="215.2" y2="1336.1" stroke="#4a86cf" stroke-width="4"/><line x1="276.3" y1="1292.0" x2="276.3" y2="1314.0" stroke="#f01010" stroke-width="4"/><line x1="276.3" y1="1314.0" x2="276.3" y2="1336.1" stroke="#4a86cf" stroke-width="4"/><line x1="337.4" y1="1292.0" x2="337.4" y2="1314.0" stroke="#f01010" stroke-width="4"/><line x1="337.4" y1="1314.0" x2="337.4" y2="1336.1" stroke="#4a86cf" stroke-width="4"/><line x1="398.5" y1="1292.0" x2="398.5" y2="1314.0" stroke="#f01010" stroke-width="4"/><line x1="398.5" y1="1314.0" x2="398.5" y2="1336.1" stroke="#4a86cf" stroke-width="4"/><line x1="31.9" y1="1336.1" x2="21.6" y2="1342.5" stroke="#4a86cf" stroke-width="4"/><line x1="21.6" y1="1342.5" x2="11.3" y2="1348.9" stroke="#f01010" stroke-width="4"/><line x1="31.9" y1="1336.1" x2="52.2" y2="1342.5" stroke="#4a86cf" stroke-width="4"/><line x1="52.2" y1="1342.5" x2="72.4" y2="1348.9" stroke="#f01010" stroke-width="4"/><line x1="93.0" y1="1336.1" x2="82.7" y2="1342.5" stroke="#4a86cf" stroke-width="4"/><line x1="82.7" y1="1342.5" x2="72.4" y2="1348.9" stroke="#f01010" stroke-width="4"/><line x1="93.0" y1="1336.1" x2="113.2" y2="1342.5" stroke="#4a86cf" stroke-width="4"/><line x1="113.2" y1="1342.5" x2="133.5" y2="1348.9" stroke="#f01010" stroke-width="4"/><line x1="154.1" y1="1336.1" x2="143.8" y2="1342.5" stroke="#4a86cf" stroke-width="4"/><line x1="143.8" y1="1342.5" x2="133.5" y2="1348.9" stroke="#f01010" stroke-width="4"/><line x1="154.1" y1="1336.1" x2="174.4" y2="1342.5" stroke="#4a86cf" stroke-width="4"/><line x1="174.4" y1="1342.5" x2="194.6" y2="1348.9" stroke="#f01010" stroke-width="4"/><line x1="215.2" y1="1336.1" x2="204.9" y2="1342.5" stroke="#4a86cf" stroke-width="4"/><line x1="204.9" y1="1342.5" x2="194.6" y2="1348.9" stroke="#f01010" stroke-width="4"/><line x1="215.2" y1="1336.1" x2="235.4" y2="1342.5" stroke="#4a86cf" stroke-width="4"/><line x1="235.4" y1="1342.5" x2="255.7" y2="1348.9" stroke="#f01010" stroke-width="4"/><line x1="276.3" y1="1336.1" x2="266.0" y2="1342.5" stroke="#4a86cf" stroke-width="4"/><line x1="266.0" y1="1342.5" x2="255.7" y2="1348.9" stroke="#f01010" stroke-width="4"/><line x1="276.3" y1="1336.1" x2="296.6" y2="1342.5" stroke="#4a86cf" stroke-width="4"/><line x1="296.6" y1="1342.5" x2="316.8" y2="1348.9" stroke="#f01010" stroke-width="4"/><line x1="337.4" y1="1336.1" x2="327.1" y2="1342.5" stroke="#4a86cf" stroke-width="4"/><line x1="327.1" y1="1342.5" x2="316.8" y2="1348.9" stroke="#f01010" stroke-width="4"/><line x1="337.4" y1="1336.1" x2="357.6" y2="1342.5" stroke="#4a86cf" stroke-width="4"/><line x1="357.6" y1="1342.5" x2="377.9" y2="1348.9" stroke="#f01010" stroke-width="4"/><line x1="398.5" y1="1336.1" x2="388.2" y2="1342.5" stroke="#4a86cf" stroke-width="4"/><line x1="388.2" y1="1342.5" x2="377.9" y2="1348.9" stroke="#f01010" stroke-width="4"/><line x1="11.3" y1="1348.9" x2="11.3" y2="1370.7" stroke="#f01010" stroke-width="4"/><line x1="11.3" y1="1370.7" x2="11.3" y2="1392.5" stroke="#4a86cf" stroke-width="4"/><line x1="72.4" y1="1348.9" x2="72.4" y2="1370.7" stroke="#f01010" stroke-width="4"/><line x1="72.4" y1="1370.7" x2="72.4" y2="1392.5" stroke="#4a86cf" stroke-width="4"/><line x1="133.5" y1="1348.9" x2="133.5" y2="1370.7" stroke="#f01010" stroke-width="4"/><line x1="133.5" y1="1370.7" x2="133.5" y2="1392.5" stroke="#4a86cf" stroke-width="4"/><line x1="194.6" y1="1348.9" x2="194.6" y2="1370.7" stroke="#f01010" stroke-width="4"/><line x1="194.6" y1="1370.7" x2="194.6" y2="1392.5" stroke="#4a86cf" stroke-width="4"/><line x1="255.7" y1="1348.9" x2="255.7" y2="1370.7" stroke="#f01010" stroke-width="4"/><line x1="255.7" y1="1370.7" x2="255.7" y2="1392.5" stroke="#4a86cf" stroke-width="4"/><line x1="316.8" y1="1348.9" x2="316.8" y2="1370.7" stroke="#f01010" stroke-width="4"/><line x1="316.8" y1="1370.7" x2="316.8" y2="1392.5" stroke="#4a86cf" stroke-width="4"/><line x1="377.9" y1="1348.9" x2="377.9" y2="1370.7" stroke="#f01010" stroke-width="4"/><line x1="377.9" y1="1370.7" x2="377.9" y2="1392.5" stroke="#4a86cf" stroke-width="4"/><line x1="11.3" y1="1392.5" x2="21.6" y2="1399.5" stroke="#4a86cf" stroke-width="4"/><line x1="21.6" y1="1399.5" x2="31.9" y2="1406.4" stroke="#f01010" stroke-width="4"/><line x1="72.4" y1="1392.5" x2="52.2" y2="1399.5" stroke="#4a86cf" stroke-width="4"/><line x1="52.2" y1="1399.5" x2="31.9" y2="1406.4" stroke="#f01010" stroke-width="4"/><line x1="72.4" y1="1392.5" x2="82.7" y2="1399.5" stroke="#4a86cf" stroke-width="4"/><line x1="82.7" y1="1399.5" x2="93.0" y2="1406.4" stroke="#f01010" stroke-width="4"/><line x1="133.5" y1="1392.5" x2="113.2" y2="1399.5" stroke="#4a86cf" stroke-width="4"/><line x1="113.2" y1="1399.5" x2="93.0" y2="1406.4" stroke="#f01010" stroke-width="4"/><line x1="133.5" y1="1392.5" x2="143.8" y2="1399.5" stroke="#4a86cf" stroke-width="4"/><line x1="143.8" y1="1399.5" x2="154.1" y2="1406.4" stroke="#f01010" stroke-width="4"/><line x1="194.6" y1="1392.5" x2="174.4" y2="1399.5" stroke="#4a86cf" stroke-width="4"/><line x1="174.4" y1="1399.5" x2="154.1" y2="1406.4" stroke="#f01010" stroke-width="4"/><line x1="194.6" y1="1392.5" x2="204.9" y2="1399.5" stroke="#4a86cf" stroke-width="4"/><line x1="204.9" y1="1399.5" x2="215.2" y2="1406.4" stroke="#f01010" stroke-width="4"/><line x1="255.7" y1="1392.5" x2="235.4" y2="1399.5" stroke="#4a86cf" stroke-width="4"/><line x1="235.4" y1="1399.5" x2="215.2" y2="1406.4" stroke="#f01010" stroke-width="4"/><line x1="255.7" y1="1392.5" x2="266.0" y2="1399.5" stroke="#4a86cf" stroke-width="4"/><line x1="266.0" y1="1399.5" x2="276.3" y2="1406.4" stroke="#f01010" stroke-width="4"/><line x1="316.8" y1="1392.5" x2="296.6" y2="1399.5" stroke="#4a86cf" stroke-width="4"/><line x1="296.6" y1="1399.5" x2="276.3" y2="1406.4" stroke="#f01010" stroke-width="4"/><line x1="316.8" y1="1392.5" x2="327.1" y2="1399.5" stroke="#4a86cf" stroke-width="4"/><line x1="327.1" y1="1399.5" x2="337.4" y2="1406.4" stroke="#f01010" stroke-width="4"/><line x1="377.9" y1="1392.5" x2="357.6" y2="1399.5" stroke="#4a86cf" stroke-width="4"/><line x1="357.6" y1="1399.5" x2="337.4" y2="1406.4" stroke="#f01010" stroke-width="4"/><line x1="377.9" y1="1392.5" x2="388.2" y2="1399.5" stroke="#4a86cf" stroke-width="4"/><line x1="388.2" y1="1399.5" x2="398.5" y2="1406.4" stroke="#f01010" stroke-width="4"/><line x1="31.9" y1="1406.4" x2="31.9" y2="1428.2" stroke="#f01010" stroke-width="4"/><line x1="31.9" y1="1428.2" x2="31.9" y2="1450.0" stroke="#4a86cf" stroke-width="4"/><line x1="93.0" y1="1406.4" x2="93.0" y2="1428.2" stroke="#f01010" stroke-width="4"/><line x1="93.0" y1="1428.2" x2="93.0" y2="1450.0" stroke="#4a86cf" stroke-width="4"/><line x1="154.1" y1="1406.4" x2="154.1" y2="1428.2" stroke="#f01010" stroke-width="4"/><line x1="154.1" y1="1428.2" x2="154.1" y2="1450.0" stroke="#4a86cf" stroke-width="4"/><line x1="215.2" y1="1406.4" x2="215.2" y2="1428.2" stroke="#f01010" stroke-width="4"/><line x1="215.2" y1="1428.2" x2="215.2" y2="1450.0" stroke="#4a86cf" stroke-width="4"/><line x1="276.3" y1="1406.4" x2="276.3" y2="1428.2" stroke="#f01010" stroke-width="4"/><line x1="276.3" y1="1428.2" x2="276.3" y2="1450.0" stroke="#4a86cf" stroke-width="4"/><line x1="337.4" y1="1406.4" x2="337.4" y2="1428.2" stroke="#f01010" stroke-width="4"/><line x1="337.4" y1="1428.2" x2="337.4" y2="1450.0" stroke="#4a86cf" stroke-width="4"/><line x1="398.5" y1="1406.4" x2="398.5" y2="1428.2" stroke="#f01010" stroke-width="4"/><line x1="398.5" y1="1428.2" x2="398.5" y2="1450.0" stroke="#4a86cf" stroke-width="4"/><circle cx="31.9" cy="1180.0" r="8.6" fill="url(#gR)"/><circle cx="93.0" cy="1180.0" r="8.6" fill="url(#gR)"/><circle cx="154.1" cy="1180.0" r="8.6" fill="url(#gR)"/><circle cx="215.2" cy="1180.0" r="8.6" fill="url(#gR)"/><circle cx="276.3" cy="1180.0" r="8.6" fill="url(#gR)"/><circle cx="337.4" cy="1180.0" r="8.6" fill="url(#gR)"/><circle cx="398.5" cy="1180.0" r="8.6" fill="url(#gR)"/><circle cx="31.9" cy="1223.3" r="8.6" fill="url(#gB)"/><circle cx="93.0" cy="1223.3" r="8.6" fill="url(#gB)"/><circle cx="154.1" cy="1223.3" r="8.6" fill="url(#gB)"/><circle cx="215.2" cy="1223.3" r="8.6" fill="url(#gB)"/><circle cx="276.3" cy="1223.3" r="8.6" fill="url(#gB)"/><circle cx="337.4" cy="1223.3" r="8.6" fill="url(#gB)"/><circle cx="398.5" cy="1223.3" r="8.6" fill="url(#gB)"/><circle cx="11.3" cy="1236.0" r="8.6" fill="url(#gR)"/><circle cx="72.4" cy="1236.0" r="8.6" fill="url(#gR)"/><circle cx="133.5" cy="1236.0" r="8.6" fill="url(#gR)"/><circle cx="194.6" cy="1236.0" r="8.6" fill="url(#gR)"/><circle cx="255.7" cy="1236.0" r="8.6" fill="url(#gR)"/><circle cx="316.8" cy="1236.0" r="8.6" fill="url(#gR)"/><circle cx="377.9" cy="1236.0" r="8.6" fill="url(#gR)"/><circle cx="11.3" cy="1279.3" r="8.6" fill="url(#gB)"/><circle cx="72.4" cy="1279.3" r="8.6" fill="url(#gB)"/><circle cx="133.5" cy="1279.3" r="8.6" fill="url(#gB)"/><circle cx="194.6" cy="1279.3" r="8.6" fill="url(#gB)"/><circle cx="255.7" cy="1279.3" r="8.6" fill="url(#gB)"/><circle cx="316.8" cy="1279.3" r="8.6" fill="url(#gB)"/><circle cx="377.9" cy="1279.3" r="8.6" fill="url(#gB)"/><circle cx="31.9" cy="1292.0" r="8.6" fill="url(#gR)"/><circle cx="93.0" cy="1292.0" r="8.6" fill="url(#gR)"/><circle cx="154.1" cy="1292.0" r="8.6" fill="url(#gR)"/><circle cx="215.2" cy="1292.0" r="8.6" fill="url(#gR)"/><circle cx="276.3" cy="1292.0" r="8.6" fill="url(#gR)"/><circle cx="337.4" cy="1292.0" r="8.6" fill="url(#gR)"/><circle cx="398.5" cy="1292.0" r="8.6" fill="url(#gR)"/><circle cx="31.9" cy="1336.1" r="8.6" fill="url(#gB)"/><circle cx="93.0" cy="1336.1" r="8.6" fill="url(#gB)"/><circle cx="154.1" cy="1336.1" r="8.6" fill="url(#gB)"/><circle cx="215.2" cy="1336.1" r="8.6" fill="url(#gB)"/><circle cx="276.3" cy="1336.1" r="8.6" fill="url(#gB)"/><circle cx="337.4" cy="1336.1" r="8.6" fill="url(#gB)"/><circle cx="398.5" cy="1336.1" r="8.6" fill="url(#gB)"/><circle cx="11.3" cy="1348.9" r="8.6" fill="url(#gR)"/><circle cx="72.4" cy="1348.9" r="8.6" fill="url(#gR)"/><circle cx="133.5" cy="1348.9" r="8.6" fill="url(#gR)"/><circle cx="194.6" cy="1348.9" r="8.6" fill="url(#gR)"/><circle cx="255.7" cy="1348.9" r="8.6" fill="url(#gR)"/><circle cx="316.8" cy="1348.9" r="8.6" fill="url(#gR)"/><circle cx="377.9" cy="1348.9" r="8.6" fill="url(#gR)"/><circle cx="11.3" cy="1392.5" r="8.6" fill="url(#gB)"/><circle cx="72.4" cy="1392.5" r="8.6" fill="url(#gB)"/><circle cx="133.5" cy="1392.5" r="8.6" fill="url(#gB)"/><circle cx="194.6" cy="1392.5" r="8.6" fill="url(#gB)"/><circle cx="255.7" cy="1392.5" r="8.6" fill="url(#gB)"/><circle cx="316.8" cy="1392.5" r="8.6" fill="url(#gB)"/><circle cx="377.9" cy="1392.5" r="8.6" fill="url(#gB)"/><circle cx="31.9" cy="1406.4" r="8.6" fill="url(#gR)"/><circle cx="93.0" cy="1406.4" r="8.6" fill="url(#gR)"/><circle cx="154.1" cy="1406.4" r="8.6" fill="url(#gR)"/><circle cx="215.2" cy="1406.4" r="8.6" fill="url(#gR)"/><circle cx="276.3" cy="1406.4" r="8.6" fill="url(#gR)"/><circle cx="337.4" cy="1406.4" r="8.6" fill="url(#gR)"/><circle cx="398.5" cy="1406.4" r="8.6" fill="url(#gR)"/><circle cx="31.9" cy="1450.0" r="8.6" fill="url(#gB)"/><circle cx="93.0" cy="1450.0" r="8.6" fill="url(#gB)"/><circle cx="154.1" cy="1450.0" r="8.6" fill="url(#gB)"/><circle cx="215.2" cy="1450.0" r="8.6" fill="url(#gB)"/><circle cx="276.3" cy="1450.0" r="8.6" fill="url(#gB)"/><circle cx="337.4" cy="1450.0" r="8.6" fill="url(#gB)"/><circle cx="398.5" cy="1450.0" r="8.6" fill="url(#gB)"/></g>
<rect x="113.5" y="1287" width="63.2" height="113" fill="none" stroke="#000" stroke-width="2" stroke-dasharray="5,3"/>
<line x1="228.2" y1="1307.6" x2="228.2" y2="1322.5" stroke="#000" stroke-width="4.5"/><polygon points="228.2,1294.6 220.2,1308.6 236.2,1308.6" fill="#000"/><polygon points="228.2,1335.5 220.2,1321.5 236.2,1321.5" fill="#000"/>
<text x="241.0" y="1329.7" font-size="40" text-anchor="start" font-style="italic">d</text>
<g clip-path="url(#clipB1)"><line x1="355.1" y1="-83.7" x2="371.3" y2="-74.5" stroke="#4a86cf" stroke-width="6.3"/><line x1="371.3" y1="-74.5" x2="387.5" y2="-65.2" stroke="#f01010" stroke-width="6.3"/><line x1="355.1" y1="-83.7" x2="338.9" y2="-74.5" stroke="#4a86cf" stroke-width="6.3"/><line x1="338.9" y1="-74.5" x2="322.6" y2="-65.2" stroke="#f01010" stroke-width="6.3"/><line x1="387.5" y1="-65.2" x2="387.5" y2="-46.2" stroke="#f01010" stroke-width="6.3"/><line x1="387.5" y1="-46.2" x2="387.5" y2="-27.2" stroke="#4a86cf" stroke-width="6.3"/><line x1="387.5" y1="-27.2" x2="371.3" y2="-18.0" stroke="#4a86cf" stroke-width="6.3"/><line x1="371.3" y1="-18.0" x2="355.1" y2="-8.7" stroke="#f01010" stroke-width="6.3"/><line x1="387.5" y1="-27.2" x2="403.8" y2="-18.0" stroke="#4a86cf" stroke-width="6.3"/><line x1="403.8" y1="-18.0" x2="420.0" y2="-8.7" stroke="#f01010" stroke-width="6.3"/><line x1="355.1" y1="-8.7" x2="355.1" y2="10.3" stroke="#f01010" stroke-width="6.3"/><line x1="355.1" y1="10.3" x2="355.1" y2="29.3" stroke="#4a86cf" stroke-width="6.3"/><line x1="420.0" y1="-83.7" x2="436.2" y2="-74.5" stroke="#4a86cf" stroke-width="6.3"/><line x1="436.2" y1="-74.5" x2="452.4" y2="-65.2" stroke="#f01010" stroke-width="6.3"/><line x1="420.0" y1="-83.7" x2="403.8" y2="-74.5" stroke="#4a86cf" stroke-width="6.3"/><line x1="403.8" y1="-74.5" x2="387.6" y2="-65.2" stroke="#f01010" stroke-width="6.3"/><line x1="452.4" y1="-65.2" x2="452.4" y2="-46.2" stroke="#f01010" stroke-width="6.3"/><line x1="452.4" y1="-46.2" x2="452.4" y2="-27.2" stroke="#4a86cf" stroke-width="6.3"/><line x1="452.4" y1="-27.2" x2="436.2" y2="-18.0" stroke="#4a86cf" stroke-width="6.3"/><line x1="436.2" y1="-18.0" x2="420.0" y2="-8.7" stroke="#f01010" stroke-width="6.3"/><line x1="452.4" y1="-27.2" x2="468.7" y2="-18.0" stroke="#4a86cf" stroke-width="6.3"/><line x1="468.7" y1="-18.0" x2="484.9" y2="-8.7" stroke="#f01010" stroke-width="6.3"/><line x1="420.0" y1="-8.7" x2="420.0" y2="10.3" stroke="#f01010" stroke-width="6.3"/><line x1="420.0" y1="10.3" x2="420.0" y2="29.3" stroke="#4a86cf" stroke-width="6.3"/><line x1="484.9" y1="-83.7" x2="501.1" y2="-74.5" stroke="#4a86cf" stroke-width="6.3"/><line x1="501.1" y1="-74.5" x2="517.4" y2="-65.2" stroke="#f01010" stroke-width="6.3"/><line x1="484.9" y1="-83.7" x2="468.7" y2="-74.5" stroke="#4a86cf" stroke-width="6.3"/><line x1="468.7" y1="-74.5" x2="452.5" y2="-65.2" stroke="#f01010" stroke-width="6.3"/><line x1="517.4" y1="-65.2" x2="517.4" y2="-46.2" stroke="#f01010" stroke-width="6.3"/><line x1="517.4" y1="-46.2" x2="517.4" y2="-27.2" stroke="#4a86cf" stroke-width="6.3"/><line x1="517.4" y1="-27.2" x2="501.1" y2="-18.0" stroke="#4a86cf" stroke-width="6.3"/><line x1="501.1" y1="-18.0" x2="484.9" y2="-8.7" stroke="#f01010" stroke-width="6.3"/><line x1="517.4" y1="-27.2" x2="533.6" y2="-18.0" stroke="#4a86cf" stroke-width="6.3"/><line x1="533.6" y1="-18.0" x2="549.8" y2="-8.7" stroke="#f01010" stroke-width="6.3"/><line x1="484.9" y1="-8.7" x2="484.9" y2="10.3" stroke="#f01010" stroke-width="6.3"/><line x1="484.9" y1="10.3" x2="484.9" y2="29.3" stroke="#4a86cf" stroke-width="6.3"/><line x1="549.8" y1="-83.7" x2="566.0" y2="-74.5" stroke="#4a86cf" stroke-width="6.3"/><line x1="566.0" y1="-74.5" x2="582.2" y2="-65.2" stroke="#f01010" stroke-width="6.3"/><line x1="549.8" y1="-83.7" x2="533.6" y2="-74.5" stroke="#4a86cf" stroke-width="6.3"/><line x1="533.6" y1="-74.5" x2="517.3" y2="-65.2" stroke="#f01010" stroke-width="6.3"/><line x1="582.2" y1="-65.2" x2="582.2" y2="-46.2" stroke="#f01010" stroke-width="6.3"/><line x1="582.2" y1="-46.2" x2="582.2" y2="-27.2" stroke="#4a86cf" stroke-width="6.3"/><line x1="582.2" y1="-27.2" x2="566.0" y2="-18.0" stroke="#4a86cf" stroke-width="6.3"/><line x1="566.0" y1="-18.0" x2="549.8" y2="-8.7" stroke="#f01010" stroke-width="6.3"/><line x1="582.2" y1="-27.2" x2="598.5" y2="-18.0" stroke="#4a86cf" stroke-width="6.3"/><line x1="598.5" y1="-18.0" x2="614.7" y2="-8.7" stroke="#f01010" stroke-width="6.3"/><line x1="549.8" y1="-8.7" x2="549.8" y2="10.3" stroke="#f01010" stroke-width="6.3"/><line x1="549.8" y1="10.3" x2="549.8" y2="29.3" stroke="#4a86cf" stroke-width="6.3"/><line x1="614.7" y1="-83.7" x2="630.9" y2="-74.5" stroke="#4a86cf" stroke-width="6.3"/><line x1="630.9" y1="-74.5" x2="647.1" y2="-65.2" stroke="#f01010" stroke-width="6.3"/><line x1="614.7" y1="-83.7" x2="598.5" y2="-74.5" stroke="#4a86cf" stroke-width="6.3"/><line x1="598.5" y1="-74.5" x2="582.2" y2="-65.2" stroke="#f01010" stroke-width="6.3"/><line x1="647.1" y1="-65.2" x2="647.1" y2="-46.2" stroke="#f01010" stroke-width="6.3"/><line x1="647.1" y1="-46.2" x2="647.1" y2="-27.2" stroke="#4a86cf" stroke-width="6.3"/><line x1="647.1" y1="-27.2" x2="630.9" y2="-18.0" stroke="#4a86cf" stroke-width="6.3"/><line x1="630.9" y1="-18.0" x2="614.7" y2="-8.7" stroke="#f01010" stroke-width="6.3"/><line x1="647.1" y1="-27.2" x2="663.4" y2="-18.0" stroke="#4a86cf" stroke-width="6.3"/><line x1="663.4" y1="-18.0" x2="679.6" y2="-8.7" stroke="#f01010" stroke-width="6.3"/><line x1="614.7" y1="-8.7" x2="614.7" y2="10.3" stroke="#f01010" stroke-width="6.3"/><line x1="614.7" y1="10.3" x2="614.7" y2="29.3" stroke="#4a86cf" stroke-width="6.3"/><line x1="679.6" y1="-83.7" x2="695.8" y2="-74.5" stroke="#4a86cf" stroke-width="6.3"/><line x1="695.8" y1="-74.5" x2="712.0" y2="-65.2" stroke="#f01010" stroke-width="6.3"/><line x1="679.6" y1="-83.7" x2="663.4" y2="-74.5" stroke="#4a86cf" stroke-width="6.3"/><line x1="663.4" y1="-74.5" x2="647.1" y2="-65.2" stroke="#f01010" stroke-width="6.3"/><line x1="712.0" y1="-65.2" x2="712.0" y2="-46.2" stroke="#f01010" stroke-width="6.3"/><line x1="712.0" y1="-46.2" x2="712.0" y2="-27.2" stroke="#4a86cf" stroke-width="6.3"/><line x1="712.0" y1="-27.2" x2="695.8" y2="-18.0" stroke="#4a86cf" stroke-width="6.3"/><line x1="695.8" y1="-18.0" x2="679.6" y2="-8.7" stroke="#f01010" stroke-width="6.3"/><line x1="712.0" y1="-27.2" x2="728.3" y2="-18.0" stroke="#4a86cf" stroke-width="6.3"/><line x1="728.3" y1="-18.0" x2="744.5" y2="-8.7" stroke="#f01010" stroke-width="6.3"/><line x1="679.6" y1="-8.7" x2="679.6" y2="10.3" stroke="#f01010" stroke-width="6.3"/><line x1="679.6" y1="10.3" x2="679.6" y2="29.3" stroke="#4a86cf" stroke-width="6.3"/><line x1="355.1" y1="29.3" x2="371.3" y2="38.5" stroke="#4a86cf" stroke-width="6.3"/><line x1="371.3" y1="38.5" x2="387.5" y2="47.8" stroke="#f01010" stroke-width="6.3"/><line x1="355.1" y1="29.3" x2="338.9" y2="38.5" stroke="#4a86cf" stroke-width="6.3"/><line x1="338.9" y1="38.5" x2="322.6" y2="47.8" stroke="#f01010" stroke-width="6.3"/><line x1="387.5" y1="47.8" x2="387.5" y2="66.8" stroke="#f01010" stroke-width="6.3"/><line x1="387.5" y1="66.8" x2="387.5" y2="85.8" stroke="#4a86cf" stroke-width="6.3"/><line x1="387.5" y1="85.8" x2="371.3" y2="95.0" stroke="#4a86cf" stroke-width="6.3"/><line x1="371.3" y1="95.0" x2="355.1" y2="104.3" stroke="#f01010" stroke-width="6.3"/><line x1="387.5" y1="85.8" x2="403.8" y2="95.0" stroke="#4a86cf" stroke-width="6.3"/><line x1="403.8" y1="95.0" x2="420.0" y2="104.3" stroke="#f01010" stroke-width="6.3"/><line x1="355.1" y1="104.3" x2="355.1" y2="123.3" stroke="#f01010" stroke-width="6.3"/><line x1="355.1" y1="123.3" x2="355.1" y2="142.3" stroke="#4a86cf" stroke-width="6.3"/><line x1="420.0" y1="29.3" x2="436.2" y2="38.5" stroke="#4a86cf" stroke-width="6.3"/><line x1="436.2" y1="38.5" x2="452.4" y2="47.8" stroke="#f01010" stroke-width="6.3"/><line x1="420.0" y1="29.3" x2="403.8" y2="38.5" stroke="#4a86cf" stroke-width="6.3"/><line x1="403.8" y1="38.5" x2="387.6" y2="47.8" stroke="#f01010" stroke-width="6.3"/><line x1="452.4" y1="47.8" x2="452.4" y2="66.8" stroke="#f01010" stroke-width="6.3"/><line x1="452.4" y1="66.8" x2="452.4" y2="85.8" stroke="#4a86cf" stroke-width="6.3"/><line x1="452.4" y1="85.8" x2="436.2" y2="95.0" stroke="#4a86cf" stroke-width="6.3"/><line x1="436.2" y1="95.0" x2="420.0" y2="104.3" stroke="#f01010" stroke-width="6.3"/><line x1="452.4" y1="85.8" x2="467.0" y2="98.0" stroke="#4a86cf" stroke-width="6.3"/><line x1="467.0" y1="98.0" x2="481.6" y2="110.2" stroke="#f01010" stroke-width="6.3"/><line x1="420.0" y1="104.3" x2="420.0" y2="123.3" stroke="#f01010" stroke-width="6.3"/><line x1="420.0" y1="123.3" x2="420.0" y2="142.3" stroke="#4a86cf" stroke-width="6.3"/><line x1="484.9" y1="29.3" x2="501.4" y2="35.7" stroke="#4a86cf" stroke-width="6.3"/><line x1="501.4" y1="35.7" x2="517.8" y2="42.1" stroke="#f01010" stroke-width="6.3"/><line x1="484.9" y1="29.3" x2="468.7" y2="38.5" stroke="#4a86cf" stroke-width="6.3"/><line x1="468.7" y1="38.5" x2="452.5" y2="47.8" stroke="#f01010" stroke-width="6.3"/><line x1="517.8" y1="42.1" x2="517.6" y2="64.0" stroke="#f01010" stroke-width="6.3"/><line x1="517.6" y1="64.0" x2="517.4" y2="85.8" stroke="#4a86cf" stroke-width="6.3"/><line x1="517.4" y1="85.8" x2="499.5" y2="98.0" stroke="#4a86cf" stroke-width="6.3"/><line x1="499.5" y1="98.0" x2="481.6" y2="110.2" stroke="#f01010" stroke-width="6.3"/><line x1="517.4" y1="85.8" x2="533.6" y2="95.0" stroke="#4a86cf" stroke-width="6.3"/><line x1="533.6" y1="95.0" x2="549.8" y2="104.3" stroke="#f01010" stroke-width="6.3"/><line x1="481.6" y1="110.2" x2="483.2" y2="126.2" stroke="#f01010" stroke-width="6.3"/><line x1="483.2" y1="126.2" x2="484.9" y2="142.3" stroke="#4a86cf" stroke-width="6.3"/><line x1="549.8" y1="29.3" x2="566.0" y2="38.5" stroke="#4a86cf" stroke-width="6.3"/><line x1="566.0" y1="38.5" x2="582.2" y2="47.8" stroke="#f01010" stroke-width="6.3"/><line x1="549.8" y1="29.3" x2="533.8" y2="35.7" stroke="#4a86cf" stroke-width="6.3"/><line x1="533.8" y1="35.7" x2="517.8" y2="42.1" stroke="#f01010" stroke-width="6.3"/><line x1="582.2" y1="47.8" x2="582.2" y2="66.8" stroke="#f01010" stroke-width="6.3"/><line x1="582.2" y1="66.8" x2="582.2" y2="85.8" stroke="#4a86cf" stroke-width="6.3"/><line x1="582.2" y1="85.8" x2="566.0" y2="95.0" stroke="#4a86cf" stroke-width="6.3"/><line x1="566.0" y1="95.0" x2="549.8" y2="104.3" stroke="#f01010" stroke-width="6.3"/><line x1="582.2" y1="85.8" x2="598.5" y2="95.0" stroke="#4a86cf" stroke-width="6.3"/><line x1="598.5" y1="95.0" x2="614.7" y2="104.3" stroke="#f01010" stroke-width="6.3"/><line x1="549.8" y1="104.3" x2="549.8" y2="123.3" stroke="#f01010" stroke-width="6.3"/><line x1="549.8" y1="123.3" x2="549.8" y2="142.3" stroke="#4a86cf" stroke-width="6.3"/><line x1="614.7" y1="29.3" x2="630.9" y2="38.5" stroke="#4a86cf" stroke-width="6.3"/><line x1="630.9" y1="38.5" x2="647.1" y2="47.8" stroke="#f01010" stroke-width="6.3"/><line x1="614.7" y1="29.3" x2="598.5" y2="38.5" stroke="#4a86cf" stroke-width="6.3"/><line x1="598.5" y1="38.5" x2="582.2" y2="47.8" stroke="#f01010" stroke-width="6.3"/><line x1="647.1" y1="47.8" x2="647.1" y2="66.8" stroke="#f01010" stroke-width="6.3"/><line x1="647.1" y1="66.8" x2="647.1" y2="85.8" stroke="#4a86cf" stroke-width="6.3"/><line x1="647.1" y1="85.8" x2="630.9" y2="95.0" stroke="#4a86cf" stroke-width="6.3"/><line x1="630.9" y1="95.0" x2="614.7" y2="104.3" stroke="#f01010" stroke-width="6.3"/><line x1="647.1" y1="85.8" x2="663.4" y2="95.0" stroke="#4a86cf" stroke-width="6.3"/><line x1="663.4" y1="95.0" x2="679.6" y2="104.3" stroke="#f01010" stroke-width="6.3"/><line x1="614.7" y1="104.3" x2="614.7" y2="123.3" stroke="#f01010" stroke-width="6.3"/><line x1="614.7" y1="123.3" x2="614.7" y2="142.3" stroke="#4a86cf" stroke-width="6.3"/><line x1="679.6" y1="29.3" x2="695.8" y2="38.5" stroke="#4a86cf" stroke-width="6.3"/><line x1="695.8" y1="38.5" x2="712.0" y2="47.8" stroke="#f01010" stroke-width="6.3"/><line x1="679.6" y1="29.3" x2="663.4" y2="38.5" stroke="#4a86cf" stroke-width="6.3"/><line x1="663.4" y1="38.5" x2="647.1" y2="47.8" stroke="#f01010" stroke-width="6.3"/><line x1="712.0" y1="47.8" x2="712.0" y2="66.8" stroke="#f01010" stroke-width="6.3"/><line x1="712.0" y1="66.8" x2="712.0" y2="85.8" stroke="#4a86cf" stroke-width="6.3"/><line x1="712.0" y1="85.8" x2="695.8" y2="95.0" stroke="#4a86cf" stroke-width="6.3"/><line x1="695.8" y1="95.0" x2="679.6" y2="104.3" stroke="#f01010" stroke-width="6.3"/><line x1="712.0" y1="85.8" x2="728.3" y2="95.0" stroke="#4a86cf" stroke-width="6.3"/><line x1="728.3" y1="95.0" x2="744.5" y2="104.3" stroke="#f01010" stroke-width="6.3"/><line x1="679.6" y1="104.3" x2="679.6" y2="123.3" stroke="#f01010" stroke-width="6.3"/><line x1="679.6" y1="123.3" x2="679.6" y2="142.3" stroke="#4a86cf" stroke-width="6.3"/><line x1="355.1" y1="142.3" x2="371.3" y2="151.5" stroke="#4a86cf" stroke-width="6.3"/><line x1="371.3" y1="151.5" x2="387.5" y2="160.8" stroke="#f01010" stroke-width="6.3"/><line x1="355.1" y1="142.3" x2="338.9" y2="151.5" stroke="#4a86cf" stroke-width="6.3"/><line x1="338.9" y1="151.5" x2="322.6" y2="160.8" stroke="#f01010" stroke-width="6.3"/><line x1="387.5" y1="160.8" x2="387.5" y2="179.8" stroke="#f01010" stroke-width="6.3"/><line x1="387.5" y1="179.8" x2="387.5" y2="198.8" stroke="#4a86cf" stroke-width="6.3"/><line x1="387.5" y1="198.8" x2="371.3" y2="208.0" stroke="#4a86cf" stroke-width="6.3"/><line x1="371.3" y1="208.0" x2="355.1" y2="217.3" stroke="#f01010" stroke-width="6.3"/><line x1="387.5" y1="198.8" x2="403.8" y2="208.0" stroke="#4a86cf" stroke-width="6.3"/><line x1="403.8" y1="208.0" x2="420.0" y2="217.3" stroke="#f01010" stroke-width="6.3"/><line x1="355.1" y1="217.3" x2="355.1" y2="236.3" stroke="#f01010" stroke-width="6.3"/><line x1="355.1" y1="236.3" x2="355.1" y2="255.3" stroke="#4a86cf" stroke-width="6.3"/><line x1="420.0" y1="142.3" x2="436.2" y2="151.5" stroke="#4a86cf" stroke-width="6.3"/><line x1="436.2" y1="151.5" x2="452.4" y2="160.8" stroke="#f01010" stroke-width="6.3"/><line x1="420.0" y1="142.3" x2="403.8" y2="151.5" stroke="#4a86cf" stroke-width="6.3"/><line x1="403.8" y1="151.5" x2="387.6" y2="160.8" stroke="#f01010" stroke-width="6.3"/><line x1="452.4" y1="160.8" x2="452.4" y2="179.8" stroke="#f01010" stroke-width="6.3"/><line x1="452.4" y1="179.8" x2="452.4" y2="198.8" stroke="#4a86cf" stroke-width="6.3"/><line x1="452.4" y1="198.8" x2="436.2" y2="208.0" stroke="#4a86cf" stroke-width="6.3"/><line x1="436.2" y1="208.0" x2="420.0" y2="217.3" stroke="#f01010" stroke-width="6.3"/><line x1="452.4" y1="198.8" x2="468.7" y2="208.0" stroke="#4a86cf" stroke-width="6.3"/><line x1="468.7" y1="208.0" x2="484.9" y2="217.3" stroke="#f01010" stroke-width="6.3"/><line x1="420.0" y1="217.3" x2="420.0" y2="236.3" stroke="#f01010" stroke-width="6.3"/><line x1="420.0" y1="236.3" x2="420.0" y2="255.3" stroke="#4a86cf" stroke-width="6.3"/><line x1="484.9" y1="142.3" x2="501.1" y2="151.5" stroke="#4a86cf" stroke-width="6.3"/><line x1="501.1" y1="151.5" x2="517.4" y2="160.8" stroke="#f01010" stroke-width="6.3"/><line x1="484.9" y1="142.3" x2="468.7" y2="151.5" stroke="#4a86cf" stroke-width="6.3"/><line x1="468.7" y1="151.5" x2="452.5" y2="160.8" stroke="#f01010" stroke-width="6.3"/><line x1="517.4" y1="160.8" x2="517.4" y2="179.8" stroke="#f01010" stroke-width="6.3"/><line x1="517.4" y1="179.8" x2="517.4" y2="198.8" stroke="#4a86cf" stroke-width="6.3"/><line x1="517.4" y1="198.8" x2="501.1" y2="208.0" stroke="#4a86cf" stroke-width="6.3"/><line x1="501.1" y1="208.0" x2="484.9" y2="217.3" stroke="#f01010" stroke-width="6.3"/><line x1="517.4" y1="198.8" x2="533.6" y2="208.0" stroke="#4a86cf" stroke-width="6.3"/><line x1="533.6" y1="208.0" x2="549.8" y2="217.3" stroke="#f01010" stroke-width="6.3"/><line x1="484.9" y1="217.3" x2="484.9" y2="236.3" stroke="#f01010" stroke-width="6.3"/><line x1="484.9" y1="236.3" x2="484.9" y2="255.3" stroke="#4a86cf" stroke-width="6.3"/><line x1="549.8" y1="142.3" x2="566.0" y2="151.5" stroke="#4a86cf" stroke-width="6.3"/><line x1="566.0" y1="151.5" x2="582.2" y2="160.8" stroke="#f01010" stroke-width="6.3"/><line x1="549.8" y1="142.3" x2="533.6" y2="151.5" stroke="#4a86cf" stroke-width="6.3"/><line x1="533.6" y1="151.5" x2="517.3" y2="160.8" stroke="#f01010" stroke-width="6.3"/><line x1="582.2" y1="160.8" x2="582.2" y2="179.8" stroke="#f01010" stroke-width="6.3"/><line x1="582.2" y1="179.8" x2="582.2" y2="198.8" stroke="#4a86cf" stroke-width="6.3"/><line x1="582.2" y1="198.8" x2="566.0" y2="208.0" stroke="#4a86cf" stroke-width="6.3"/><line x1="566.0" y1="208.0" x2="549.8" y2="217.3" stroke="#f01010" stroke-width="6.3"/><line x1="582.2" y1="198.8" x2="598.5" y2="208.0" stroke="#4a86cf" stroke-width="6.3"/><line x1="598.5" y1="208.0" x2="614.7" y2="217.3" stroke="#f01010" stroke-width="6.3"/><line x1="549.8" y1="217.3" x2="549.8" y2="236.3" stroke="#f01010" stroke-width="6.3"/><line x1="549.8" y1="236.3" x2="549.8" y2="255.3" stroke="#4a86cf" stroke-width="6.3"/><line x1="614.7" y1="142.3" x2="630.9" y2="151.5" stroke="#4a86cf" stroke-width="6.3"/><line x1="630.9" y1="151.5" x2="647.1" y2="160.8" stroke="#f01010" stroke-width="6.3"/><line x1="614.7" y1="142.3" x2="598.5" y2="151.5" stroke="#4a86cf" stroke-width="6.3"/><line x1="598.5" y1="151.5" x2="582.2" y2="160.8" stroke="#f01010" stroke-width="6.3"/><line x1="647.1" y1="160.8" x2="647.1" y2="179.8" stroke="#f01010" stroke-width="6.3"/><line x1="647.1" y1="179.8" x2="647.1" y2="198.8" stroke="#4a86cf" stroke-width="6.3"/><line x1="647.1" y1="198.8" x2="630.9" y2="208.0" stroke="#4a86cf" stroke-width="6.3"/><line x1="630.9" y1="208.0" x2="614.7" y2="217.3" stroke="#f01010" stroke-width="6.3"/><line x1="647.1" y1="198.8" x2="663.4" y2="208.0" stroke="#4a86cf" stroke-width="6.3"/><line x1="663.4" y1="208.0" x2="679.6" y2="217.3" stroke="#f01010" stroke-width="6.3"/><line x1="614.7" y1="217.3" x2="614.7" y2="236.3" stroke="#f01010" stroke-width="6.3"/><line x1="614.7" y1="236.3" x2="614.7" y2="255.3" stroke="#4a86cf" stroke-width="6.3"/><line x1="679.6" y1="142.3" x2="695.8" y2="151.5" stroke="#4a86cf" stroke-width="6.3"/><line x1="695.8" y1="151.5" x2="712.0" y2="160.8" stroke="#f01010" stroke-width="6.3"/><line x1="679.6" y1="142.3" x2="663.4" y2="151.5" stroke="#4a86cf" stroke-width="6.3"/><line x1="663.4" y1="151.5" x2="647.1" y2="160.8" stroke="#f01010" stroke-width="6.3"/><line x1="712.0" y1="160.8" x2="712.0" y2="179.8" stroke="#f01010" stroke-width="6.3"/><line x1="712.0" y1="179.8" x2="712.0" y2="198.8" stroke="#4a86cf" stroke-width="6.3"/><line x1="712.0" y1="198.8" x2="695.8" y2="208.0" stroke="#4a86cf" stroke-width="6.3"/><line x1="695.8" y1="208.0" x2="679.6" y2="217.3" stroke="#f01010" stroke-width="6.3"/><line x1="712.0" y1="198.8" x2="728.3" y2="208.0" stroke="#4a86cf" stroke-width="6.3"/><line x1="728.3" y1="208.0" x2="744.5" y2="217.3" stroke="#f01010" stroke-width="6.3"/><line x1="679.6" y1="217.3" x2="679.6" y2="236.3" stroke="#f01010" stroke-width="6.3"/><line x1="679.6" y1="236.3" x2="679.6" y2="255.3" stroke="#4a86cf" stroke-width="6.3"/><line x1="355.1" y1="255.3" x2="371.3" y2="264.5" stroke="#4a86cf" stroke-width="6.3"/><line x1="371.3" y1="264.5" x2="387.5" y2="273.8" stroke="#f01010" stroke-width="6.3"/><line x1="355.1" y1="255.3" x2="338.9" y2="264.5" stroke="#4a86cf" stroke-width="6.3"/><line x1="338.9" y1="264.5" x2="322.6" y2="273.8" stroke="#f01010" stroke-width="6.3"/><line x1="387.5" y1="273.8" x2="387.5" y2="292.8" stroke="#f01010" stroke-width="6.3"/><line x1="387.5" y1="292.8" x2="387.5" y2="311.8" stroke="#4a86cf" stroke-width="6.3"/><line x1="387.5" y1="311.8" x2="371.3" y2="321.0" stroke="#4a86cf" stroke-width="6.3"/><line x1="371.3" y1="321.0" x2="355.1" y2="330.3" stroke="#f01010" stroke-width="6.3"/><line x1="387.5" y1="311.8" x2="403.8" y2="321.0" stroke="#4a86cf" stroke-width="6.3"/><line x1="403.8" y1="321.0" x2="420.0" y2="330.3" stroke="#f01010" stroke-width="6.3"/><line x1="355.1" y1="330.3" x2="355.1" y2="349.3" stroke="#f01010" stroke-width="6.3"/><line x1="355.1" y1="349.3" x2="355.1" y2="368.3" stroke="#4a86cf" stroke-width="6.3"/><line x1="420.0" y1="255.3" x2="436.2" y2="264.5" stroke="#4a86cf" stroke-width="6.3"/><line x1="436.2" y1="264.5" x2="452.4" y2="273.8" stroke="#f01010" stroke-width="6.3"/><line x1="420.0" y1="255.3" x2="403.8" y2="264.5" stroke="#4a86cf" stroke-width="6.3"/><line x1="403.8" y1="264.5" x2="387.6" y2="273.8" stroke="#f01010" stroke-width="6.3"/><line x1="452.4" y1="273.8" x2="452.4" y2="292.8" stroke="#f01010" stroke-width="6.3"/><line x1="452.4" y1="292.8" x2="452.4" y2="311.8" stroke="#4a86cf" stroke-width="6.3"/><line x1="452.4" y1="311.8" x2="436.2" y2="321.0" stroke="#4a86cf" stroke-width="6.3"/><line x1="436.2" y1="321.0" x2="420.0" y2="330.3" stroke="#f01010" stroke-width="6.3"/><line x1="452.4" y1="311.8" x2="468.7" y2="321.0" stroke="#4a86cf" stroke-width="6.3"/><line x1="468.7" y1="321.0" x2="484.9" y2="330.3" stroke="#f01010" stroke-width="6.3"/><line x1="420.0" y1="330.3" x2="420.0" y2="349.3" stroke="#f01010" stroke-width="6.3"/><line x1="420.0" y1="349.3" x2="420.0" y2="368.3" stroke="#4a86cf" stroke-width="6.3"/><line x1="484.9" y1="255.3" x2="501.1" y2="264.5" stroke="#4a86cf" stroke-width="6.3"/><line x1="501.1" y1="264.5" x2="517.4" y2="273.8" stroke="#f01010" stroke-width="6.3"/><line x1="484.9" y1="255.3" x2="468.7" y2="264.5" stroke="#4a86cf" stroke-width="6.3"/><line x1="468.7" y1="264.5" x2="452.5" y2="273.8" stroke="#f01010" stroke-width="6.3"/><line x1="517.4" y1="273.8" x2="517.4" y2="292.8" stroke="#f01010" stroke-width="6.3"/><line x1="517.4" y1="292.8" x2="517.4" y2="311.8" stroke="#4a86cf" stroke-width="6.3"/><line x1="517.4" y1="311.8" x2="501.1" y2="321.0" stroke="#4a86cf" stroke-width="6.3"/><line x1="501.1" y1="321.0" x2="484.9" y2="330.3" stroke="#f01010" stroke-width="6.3"/><line x1="517.4" y1="311.8" x2="533.6" y2="321.0" stroke="#4a86cf" stroke-width="6.3"/><line x1="533.6" y1="321.0" x2="549.8" y2="330.3" stroke="#f01010" stroke-width="6.3"/><line x1="484.9" y1="330.3" x2="484.9" y2="349.3" stroke="#f01010" stroke-width="6.3"/><line x1="484.9" y1="349.3" x2="484.9" y2="368.3" stroke="#4a86cf" stroke-width="6.3"/><line x1="549.8" y1="255.3" x2="566.0" y2="264.5" stroke="#4a86cf" stroke-width="6.3"/><line x1="566.0" y1="264.5" x2="582.2" y2="273.8" stroke="#f01010" stroke-width="6.3"/><line x1="549.8" y1="255.3" x2="533.6" y2="264.5" stroke="#4a86cf" stroke-width="6.3"/><line x1="533.6" y1="264.5" x2="517.3" y2="273.8" stroke="#f01010" stroke-width="6.3"/><line x1="582.2" y1="273.8" x2="582.2" y2="292.8" stroke="#f01010" stroke-width="6.3"/><line x1="582.2" y1="292.8" x2="582.2" y2="311.8" stroke="#4a86cf" stroke-width="6.3"/><line x1="582.2" y1="311.8" x2="566.0" y2="321.0" stroke="#4a86cf" stroke-width="6.3"/><line x1="566.0" y1="321.0" x2="549.8" y2="330.3" stroke="#f01010" stroke-width="6.3"/><line x1="582.2" y1="311.8" x2="598.5" y2="321.0" stroke="#4a86cf" stroke-width="6.3"/><line x1="598.5" y1="321.0" x2="614.7" y2="330.3" stroke="#f01010" stroke-width="6.3"/><line x1="549.8" y1="330.3" x2="549.8" y2="349.3" stroke="#f01010" stroke-width="6.3"/><line x1="549.8" y1="349.3" x2="549.8" y2="368.3" stroke="#4a86cf" stroke-width="6.3"/><line x1="614.7" y1="255.3" x2="630.9" y2="264.5" stroke="#4a86cf" stroke-width="6.3"/><line x1="630.9" y1="264.5" x2="647.1" y2="273.8" stroke="#f01010" stroke-width="6.3"/><line x1="614.7" y1="255.3" x2="598.5" y2="264.5" stroke="#4a86cf" stroke-width="6.3"/><line x1="598.5" y1="264.5" x2="582.2" y2="273.8" stroke="#f01010" stroke-width="6.3"/><line x1="647.1" y1="273.8" x2="647.1" y2="292.8" stroke="#f01010" stroke-width="6.3"/><line x1="647.1" y1="292.8" x2="647.1" y2="311.8" stroke="#4a86cf" stroke-width="6.3"/><line x1="647.1" y1="311.8" x2="630.9" y2="321.0" stroke="#4a86cf" stroke-width="6.3"/><line x1="630.9" y1="321.0" x2="614.7" y2="330.3" stroke="#f01010" stroke-width="6.3"/><line x1="647.1" y1="311.8" x2="663.4" y2="321.0" stroke="#4a86cf" stroke-width="6.3"/><line x1="663.4" y1="321.0" x2="679.6" y2="330.3" stroke="#f01010" stroke-width="6.3"/><line x1="614.7" y1="330.3" x2="614.7" y2="349.3" stroke="#f01010" stroke-width="6.3"/><line x1="614.7" y1="349.3" x2="614.7" y2="368.3" stroke="#4a86cf" stroke-width="6.3"/><line x1="679.6" y1="255.3" x2="695.8" y2="264.5" stroke="#4a86cf" stroke-width="6.3"/><line x1="695.8" y1="264.5" x2="712.0" y2="273.8" stroke="#f01010" stroke-width="6.3"/><line x1="679.6" y1="255.3" x2="663.4" y2="264.5" stroke="#4a86cf" stroke-width="6.3"/><line x1="663.4" y1="264.5" x2="647.1" y2="273.8" stroke="#f01010" stroke-width="6.3"/><line x1="712.0" y1="273.8" x2="712.0" y2="292.8" stroke="#f01010" stroke-width="6.3"/><line x1="712.0" y1="292.8" x2="712.0" y2="311.8" stroke="#4a86cf" stroke-width="6.3"/><line x1="712.0" y1="311.8" x2="695.8" y2="321.0" stroke="#4a86cf" stroke-width="6.3"/><line x1="695.8" y1="321.0" x2="679.6" y2="330.3" stroke="#f01010" stroke-width="6.3"/><line x1="712.0" y1="311.8" x2="728.3" y2="321.0" stroke="#4a86cf" stroke-width="6.3"/><line x1="728.3" y1="321.0" x2="744.5" y2="330.3" stroke="#f01010" stroke-width="6.3"/><line x1="679.6" y1="330.3" x2="679.6" y2="349.3" stroke="#f01010" stroke-width="6.3"/><line x1="679.6" y1="349.3" x2="679.6" y2="368.3" stroke="#4a86cf" stroke-width="6.3"/><circle cx="355.1" cy="-83.7" r="3.15" fill="#4a86cf"/><circle cx="387.5" cy="-65.2" r="3.15" fill="#f01010"/><circle cx="387.5" cy="-27.2" r="3.15" fill="#4a86cf"/><circle cx="355.1" cy="-8.7" r="3.15" fill="#f01010"/><circle cx="420.0" cy="-83.7" r="3.15" fill="#4a86cf"/><circle cx="452.4" cy="-65.2" r="3.15" fill="#f01010"/><circle cx="452.4" cy="-27.2" r="3.15" fill="#4a86cf"/><circle cx="420.0" cy="-8.7" r="3.15" fill="#f01010"/><circle cx="484.9" cy="-83.7" r="3.15" fill="#4a86cf"/><circle cx="517.4" cy="-65.2" r="3.15" fill="#f01010"/><circle cx="517.4" cy="-27.2" r="3.15" fill="#4a86cf"/><circle cx="484.9" cy="-8.7" r="3.15" fill="#f01010"/><circle cx="549.8" cy="-83.7" r="3.15" fill="#4a86cf"/><circle cx="582.2" cy="-65.2" r="3.15" fill="#f01010"/><circle cx="582.2" cy="-27.2" r="3.15" fill="#4a86cf"/><circle cx="549.8" cy="-8.7" r="3.15" fill="#f01010"/><circle cx="614.7" cy="-83.7" r="3.15" fill="#4a86cf"/><circle cx="647.1" cy="-65.2" r="3.15" fill="#f01010"/><circle cx="647.1" cy="-27.2" r="3.15" fill="#4a86cf"/><circle cx="614.7" cy="-8.7" r="3.15" fill="#f01010"/><circle cx="679.6" cy="-83.7" r="3.15" fill="#4a86cf"/><circle cx="712.0" cy="-65.2" r="3.15" fill="#f01010"/><circle cx="712.0" cy="-27.2" r="3.15" fill="#4a86cf"/><circle cx="679.6" cy="-8.7" r="3.15" fill="#f01010"/><circle cx="355.1" cy="29.3" r="3.15" fill="#4a86cf"/><circle cx="387.5" cy="47.8" r="3.15" fill="#f01010"/><circle cx="387.5" cy="85.8" r="3.15" fill="#4a86cf"/><circle cx="355.1" cy="104.3" r="3.15" fill="#f01010"/><circle cx="420.0" cy="29.3" r="3.15" fill="#4a86cf"/><circle cx="452.4" cy="47.8" r="3.15" fill="#f01010"/><circle cx="452.4" cy="85.8" r="3.15" fill="#4a86cf"/><circle cx="420.0" cy="104.3" r="3.15" fill="#f01010"/><circle cx="484.9" cy="29.3" r="3.15" fill="#4a86cf"/><circle cx="517.8" cy="42.1" r="3.15" fill="#f01010"/><circle cx="517.4" cy="85.8" r="3.15" fill="#4a86cf"/><circle cx="481.6" cy="110.2" r="3.15" fill="#f01010"/><circle cx="549.8" cy="29.3" r="3.15" fill="#4a86cf"/><circle cx="582.2" cy="47.8" r="3.15" fill="#f01010"/><circle cx="582.2" cy="85.8" r="3.15" fill="#4a86cf"/><circle cx="549.8" cy="104.3" r="3.15" fill="#f01010"/><circle cx="614.7" cy="29.3" r="3.15" fill="#4a86cf"/><circle cx="647.1" cy="47.8" r="3.15" fill="#f01010"/><circle cx="647.1" cy="85.8" r="3.15" fill="#4a86cf"/><circle cx="614.7" cy="104.3" r="3.15" fill="#f01010"/><circle cx="679.6" cy="29.3" r="3.15" fill="#4a86cf"/><circle cx="712.0" cy="47.8" r="3.15" fill="#f01010"/><circle cx="712.0" cy="85.8" r="3.15" fill="#4a86cf"/><circle cx="679.6" cy="104.3" r="3.15" fill="#f01010"/><circle cx="355.1" cy="142.3" r="3.15" fill="#4a86cf"/><circle cx="387.5" cy="160.8" r="3.15" fill="#f01010"/><circle cx="387.5" cy="198.8" r="3.15" fill="#4a86cf"/><circle cx="355.1" cy="217.3" r="3.15" fill="#f01010"/><circle cx="420.0" cy="142.3" r="3.15" fill="#4a86cf"/><circle cx="452.4" cy="160.8" r="3.15" fill="#f01010"/><circle cx="452.4" cy="198.8" r="3.15" fill="#4a86cf"/><circle cx="420.0" cy="217.3" r="3.15" fill="#f01010"/><circle cx="484.9" cy="142.3" r="3.15" fill="#4a86cf"/><circle cx="517.4" cy="160.8" r="3.15" fill="#f01010"/><circle cx="517.4" cy="198.8" r="3.15" fill="#4a86cf"/><circle cx="484.9" cy="217.3" r="3.15" fill="#f01010"/><circle cx="549.8" cy="142.3" r="3.15" fill="#4a86cf"/><circle cx="582.2" cy="160.8" r="3.15" fill="#f01010"/><circle cx="582.2" cy="198.8" r="3.15" fill="#4a86cf"/><circle cx="549.8" cy="217.3" r="3.15" fill="#f01010"/><circle cx="614.7" cy="142.3" r="3.15" fill="#4a86cf"/><circle cx="647.1" cy="160.8" r="3.15" fill="#f01010"/><circle cx="647.1" cy="198.8" r="3.15" fill="#4a86cf"/><circle cx="614.7" cy="217.3" r="3.15" fill="#f01010"/><circle cx="679.6" cy="142.3" r="3.15" fill="#4a86cf"/><circle cx="712.0" cy="160.8" r="3.15" fill="#f01010"/><circle cx="712.0" cy="198.8" r="3.15" fill="#4a86cf"/><circle cx="679.6" cy="217.3" r="3.15" fill="#f01010"/><circle cx="355.1" cy="255.3" r="3.15" fill="#4a86cf"/><circle cx="387.5" cy="273.8" r="3.15" fill="#f01010"/><circle cx="387.5" cy="311.8" r="3.15" fill="#4a86cf"/><circle cx="355.1" cy="330.3" r="3.15" fill="#f01010"/><circle cx="420.0" cy="255.3" r="3.15" fill="#4a86cf"/><circle cx="452.4" cy="273.8" r="3.15" fill="#f01010"/><circle cx="452.4" cy="311.8" r="3.15" fill="#4a86cf"/><circle cx="420.0" cy="330.3" r="3.15" fill="#f01010"/><circle cx="484.9" cy="255.3" r="3.15" fill="#4a86cf"/><circle cx="517.4" cy="273.8" r="3.15" fill="#f01010"/><circle cx="517.4" cy="311.8" r="3.15" fill="#4a86cf"/><circle cx="484.9" cy="330.3" r="3.15" fill="#f01010"/><circle cx="549.8" cy="255.3" r="3.15" fill="#4a86cf"/><circle cx="582.2" cy="273.8" r="3.15" fill="#f01010"/><circle cx="582.2" cy="311.8" r="3.15" fill="#4a86cf"/><circle cx="549.8" cy="330.3" r="3.15" fill="#f01010"/><circle cx="614.7" cy="255.3" r="3.15" fill="#4a86cf"/><circle cx="647.1" cy="273.8" r="3.15" fill="#f01010"/><circle cx="647.1" cy="311.8" r="3.15" fill="#4a86cf"/><circle cx="614.7" cy="330.3" r="3.15" fill="#f01010"/><circle cx="679.6" cy="255.3" r="3.15" fill="#4a86cf"/><circle cx="712.0" cy="273.8" r="3.15" fill="#f01010"/><circle cx="712.0" cy="311.8" r="3.15" fill="#4a86cf"/><circle cx="679.6" cy="330.3" r="3.15" fill="#f01010"/></g><g clip-path="url(#clipB1)"><line x1="353.3" y1="-84.3" x2="369.5" y2="-75.0" stroke="#f01010" stroke-width="6.3"/><line x1="369.5" y1="-75.0" x2="385.7" y2="-65.8" stroke="#4a86cf" stroke-width="6.3"/><line x1="353.3" y1="-84.3" x2="337.1" y2="-75.0" stroke="#f01010" stroke-width="6.3"/><line x1="337.1" y1="-75.0" x2="320.8" y2="-65.8" stroke="#4a86cf" stroke-width="6.3"/><line x1="385.7" y1="-65.8" x2="385.7" y2="-46.8" stroke="#4a86cf" stroke-width="6.3"/><line x1="385.7" y1="-46.8" x2="385.7" y2="-27.8" stroke="#f01010" stroke-width="6.3"/><line x1="385.7" y1="-27.8" x2="369.5" y2="-18.5" stroke="#f01010" stroke-width="6.3"/><line x1="369.5" y1="-18.5" x2="353.3" y2="-9.3" stroke="#4a86cf" stroke-width="6.3"/><line x1="385.7" y1="-27.8" x2="402.0" y2="-18.5" stroke="#f01010" stroke-width="6.3"/><line x1="402.0" y1="-18.5" x2="418.2" y2="-9.3" stroke="#4a86cf" stroke-width="6.3"/><line x1="353.3" y1="-9.3" x2="353.3" y2="9.7" stroke="#4a86cf" stroke-width="6.3"/><line x1="353.3" y1="9.7" x2="353.3" y2="28.7" stroke="#f01010" stroke-width="6.3"/><line x1="418.2" y1="-84.3" x2="434.4" y2="-75.0" stroke="#f01010" stroke-width="6.3"/><line x1="434.4" y1="-75.0" x2="450.6" y2="-65.8" stroke="#4a86cf" stroke-width="6.3"/><line x1="418.2" y1="-84.3" x2="402.0" y2="-75.0" stroke="#f01010" stroke-width="6.3"/><line x1="402.0" y1="-75.0" x2="385.8" y2="-65.8" stroke="#4a86cf" stroke-width="6.3"/><line x1="450.6" y1="-65.8" x2="450.6" y2="-46.8" stroke="#4a86cf" stroke-width="6.3"/><line x1="450.6" y1="-46.8" x2="450.6" y2="-27.8" stroke="#f01010" stroke-width="6.3"/><line x1="450.6" y1="-27.8" x2="434.4" y2="-18.5" stroke="#f01010" stroke-width="6.3"/><line x1="434.4" y1="-18.5" x2="418.2" y2="-9.3" stroke="#4a86cf" stroke-width="6.3"/><line x1="450.6" y1="-27.8" x2="466.9" y2="-18.5" stroke="#f01010" stroke-width="6.3"/><line x1="466.9" y1="-18.5" x2="483.1" y2="-9.3" stroke="#4a86cf" stroke-width="6.3"/><line x1="418.2" y1="-9.3" x2="418.2" y2="9.7" stroke="#4a86cf" stroke-width="6.3"/><line x1="418.2" y1="9.7" x2="418.2" y2="28.7" stroke="#f01010" stroke-width="6.3"/><line x1="483.1" y1="-84.3" x2="499.3" y2="-75.0" stroke="#f01010" stroke-width="6.3"/><line x1="499.3" y1="-75.0" x2="515.6" y2="-65.8" stroke="#4a86cf" stroke-width="6.3"/><line x1="483.1" y1="-84.3" x2="466.9" y2="-75.0" stroke="#f01010" stroke-width="6.3"/><line x1="466.9" y1="-75.0" x2="450.7" y2="-65.8" stroke="#4a86cf" stroke-width="6.3"/><line x1="515.6" y1="-65.8" x2="515.6" y2="-46.8" stroke="#4a86cf" stroke-width="6.3"/><line x1="515.6" y1="-46.8" x2="515.6" y2="-27.8" stroke="#f01010" stroke-width="6.3"/><line x1="515.6" y1="-27.8" x2="499.3" y2="-18.5" stroke="#f01010" stroke-width="6.3"/><line x1="499.3" y1="-18.5" x2="483.1" y2="-9.3" stroke="#4a86cf" stroke-width="6.3"/><line x1="515.6" y1="-27.8" x2="531.8" y2="-18.5" stroke="#f01010" stroke-width="6.3"/><line x1="531.8" y1="-18.5" x2="548.0" y2="-9.3" stroke="#4a86cf" stroke-width="6.3"/><line x1="483.1" y1="-9.3" x2="483.1" y2="9.7" stroke="#4a86cf" stroke-width="6.3"/><line x1="483.1" y1="9.7" x2="483.1" y2="28.7" stroke="#f01010" stroke-width="6.3"/><line x1="548.0" y1="-84.3" x2="564.2" y2="-75.0" stroke="#f01010" stroke-width="6.3"/><line x1="564.2" y1="-75.0" x2="580.5" y2="-65.8" stroke="#4a86cf" stroke-width="6.3"/><line x1="548.0" y1="-84.3" x2="531.8" y2="-75.0" stroke="#f01010" stroke-width="6.3"/><line x1="531.8" y1="-75.0" x2="515.5" y2="-65.8" stroke="#4a86cf" stroke-width="6.3"/><line x1="580.5" y1="-65.8" x2="580.5" y2="-46.8" stroke="#4a86cf" stroke-width="6.3"/><line x1="580.5" y1="-46.8" x2="580.5" y2="-27.8" stroke="#f01010" stroke-width="6.3"/><line x1="580.5" y1="-27.8" x2="564.2" y2="-18.5" stroke="#f01010" stroke-width="6.3"/><line x1="564.2" y1="-18.5" x2="548.0" y2="-9.3" stroke="#4a86cf" stroke-width="6.3"/><line x1="580.5" y1="-27.8" x2="596.7" y2="-18.5" stroke="#f01010" stroke-width="6.3"/><line x1="596.7" y1="-18.5" x2="612.9" y2="-9.3" stroke="#4a86cf" stroke-width="6.3"/><line x1="548.0" y1="-9.3" x2="548.0" y2="9.7" stroke="#4a86cf" stroke-width="6.3"/><line x1="548.0" y1="9.7" x2="548.0" y2="28.7" stroke="#f01010" stroke-width="6.3"/><line x1="612.9" y1="-84.3" x2="629.1" y2="-75.0" stroke="#f01010" stroke-width="6.3"/><line x1="629.1" y1="-75.0" x2="645.4" y2="-65.8" stroke="#4a86cf" stroke-width="6.3"/><line x1="612.9" y1="-84.3" x2="596.7" y2="-75.0" stroke="#f01010" stroke-width="6.3"/><line x1="596.7" y1="-75.0" x2="580.4" y2="-65.8" stroke="#4a86cf" stroke-width="6.3"/><line x1="645.4" y1="-65.8" x2="645.4" y2="-46.8" stroke="#4a86cf" stroke-width="6.3"/><line x1="645.4" y1="-46.8" x2="645.4" y2="-27.8" stroke="#f01010" stroke-width="6.3"/><line x1="645.4" y1="-27.8" x2="629.1" y2="-18.5" stroke="#f01010" stroke-width="6.3"/><line x1="629.1" y1="-18.5" x2="612.9" y2="-9.3" stroke="#4a86cf" stroke-width="6.3"/><line x1="645.4" y1="-27.8" x2="661.6" y2="-18.5" stroke="#f01010" stroke-width="6.3"/><line x1="661.6" y1="-18.5" x2="677.8" y2="-9.3" stroke="#4a86cf" stroke-width="6.3"/><line x1="612.9" y1="-9.3" x2="612.9" y2="9.7" stroke="#4a86cf" stroke-width="6.3"/><line x1="612.9" y1="9.7" x2="612.9" y2="28.7" stroke="#f01010" stroke-width="6.3"/><line x1="677.8" y1="-84.3" x2="694.0" y2="-75.0" stroke="#f01010" stroke-width="6.3"/><line x1="694.0" y1="-75.0" x2="710.2" y2="-65.8" stroke="#4a86cf" stroke-width="6.3"/><line x1="677.8" y1="-84.3" x2="661.6" y2="-75.0" stroke="#f01010" stroke-width="6.3"/><line x1="661.6" y1="-75.0" x2="645.3" y2="-65.8" stroke="#4a86cf" stroke-width="6.3"/><line x1="710.2" y1="-65.8" x2="710.2" y2="-46.8" stroke="#4a86cf" stroke-width="6.3"/><line x1="710.2" y1="-46.8" x2="710.2" y2="-27.8" stroke="#f01010" stroke-width="6.3"/><line x1="710.2" y1="-27.8" x2="694.0" y2="-18.5" stroke="#f01010" stroke-width="6.3"/><line x1="694.0" y1="-18.5" x2="677.8" y2="-9.3" stroke="#4a86cf" stroke-width="6.3"/><line x1="710.2" y1="-27.8" x2="726.5" y2="-18.5" stroke="#f01010" stroke-width="6.3"/><line x1="726.5" y1="-18.5" x2="742.7" y2="-9.3" stroke="#4a86cf" stroke-width="6.3"/><line x1="677.8" y1="-9.3" x2="677.8" y2="9.7" stroke="#4a86cf" stroke-width="6.3"/><line x1="677.8" y1="9.7" x2="677.8" y2="28.7" stroke="#f01010" stroke-width="6.3"/><line x1="353.3" y1="28.7" x2="369.5" y2="38.0" stroke="#f01010" stroke-width="6.3"/><line x1="369.5" y1="38.0" x2="385.7" y2="47.2" stroke="#4a86cf" stroke-width="6.3"/><line x1="353.3" y1="28.7" x2="337.1" y2="38.0" stroke="#f01010" stroke-width="6.3"/><line x1="337.1" y1="38.0" x2="320.8" y2="47.2" stroke="#4a86cf" stroke-width="6.3"/><line x1="385.7" y1="47.2" x2="385.7" y2="66.2" stroke="#4a86cf" stroke-width="6.3"/><line x1="385.7" y1="66.2" x2="385.7" y2="85.2" stroke="#f01010" stroke-width="6.3"/><line x1="385.7" y1="85.2" x2="369.5" y2="94.5" stroke="#f01010" stroke-width="6.3"/><line x1="369.5" y1="94.5" x2="353.3" y2="103.7" stroke="#4a86cf" stroke-width="6.3"/><line x1="385.7" y1="85.2" x2="402.0" y2="94.5" stroke="#f01010" stroke-width="6.3"/><line x1="402.0" y1="94.5" x2="418.2" y2="103.7" stroke="#4a86cf" stroke-width="6.3"/><line x1="353.3" y1="103.7" x2="353.3" y2="122.7" stroke="#4a86cf" stroke-width="6.3"/><line x1="353.3" y1="122.7" x2="353.3" y2="141.7" stroke="#f01010" stroke-width="6.3"/><line x1="418.2" y1="28.7" x2="434.4" y2="38.0" stroke="#f01010" stroke-width="6.3"/><line x1="434.4" y1="38.0" x2="450.6" y2="47.2" stroke="#4a86cf" stroke-width="6.3"/><line x1="418.2" y1="28.7" x2="402.0" y2="38.0" stroke="#f01010" stroke-width="6.3"/><line x1="402.0" y1="38.0" x2="385.8" y2="47.2" stroke="#4a86cf" stroke-width="6.3"/><line x1="450.6" y1="47.2" x2="450.6" y2="66.2" stroke="#4a86cf" stroke-width="6.3"/><line x1="450.6" y1="66.2" x2="450.6" y2="85.2" stroke="#f01010" stroke-width="6.3"/><line x1="450.6" y1="85.2" x2="434.4" y2="94.5" stroke="#f01010" stroke-width="6.3"/><line x1="434.4" y1="94.5" x2="418.2" y2="103.7" stroke="#4a86cf" stroke-width="6.3"/><line x1="450.6" y1="85.2" x2="465.2" y2="97.4" stroke="#f01010" stroke-width="6.3"/><line x1="465.2" y1="97.4" x2="479.8" y2="109.6" stroke="#4a86cf" stroke-width="6.3"/><line x1="418.2" y1="103.7" x2="418.2" y2="122.7" stroke="#4a86cf" stroke-width="6.3"/><line x1="418.2" y1="122.7" x2="418.2" y2="141.7" stroke="#f01010" stroke-width="6.3"/><line x1="483.1" y1="28.7" x2="499.6" y2="35.1" stroke="#f01010" stroke-width="6.3"/><line x1="499.6" y1="35.1" x2="516.0" y2="41.5" stroke="#4a86cf" stroke-width="6.3"/><line x1="483.1" y1="28.7" x2="466.9" y2="38.0" stroke="#f01010" stroke-width="6.3"/><line x1="466.9" y1="38.0" x2="450.7" y2="47.2" stroke="#4a86cf" stroke-width="6.3"/><line x1="516.0" y1="41.5" x2="515.8" y2="63.4" stroke="#4a86cf" stroke-width="6.3"/><line x1="515.8" y1="63.4" x2="515.6" y2="85.2" stroke="#f01010" stroke-width="6.3"/><line x1="515.6" y1="85.2" x2="497.7" y2="97.4" stroke="#f01010" stroke-width="6.3"/><line x1="497.7" y1="97.4" x2="479.8" y2="109.6" stroke="#4a86cf" stroke-width="6.3"/><line x1="515.6" y1="85.2" x2="531.8" y2="94.5" stroke="#f01010" stroke-width="6.3"/><line x1="531.8" y1="94.5" x2="548.0" y2="103.7" stroke="#4a86cf" stroke-width="6.3"/><line x1="479.8" y1="109.6" x2="481.5" y2="125.6" stroke="#4a86cf" stroke-width="6.3"/><line x1="481.5" y1="125.6" x2="483.1" y2="141.7" stroke="#f01010" stroke-width="6.3"/><line x1="548.0" y1="28.7" x2="564.2" y2="38.0" stroke="#f01010" stroke-width="6.3"/><line x1="564.2" y1="38.0" x2="580.5" y2="47.2" stroke="#4a86cf" stroke-width="6.3"/><line x1="548.0" y1="28.7" x2="532.0" y2="35.1" stroke="#f01010" stroke-width="6.3"/><line x1="532.0" y1="35.1" x2="516.0" y2="41.5" stroke="#4a86cf" stroke-width="6.3"/><line x1="580.5" y1="47.2" x2="580.5" y2="66.2" stroke="#4a86cf" stroke-width="6.3"/><line x1="580.5" y1="66.2" x2="580.5" y2="85.2" stroke="#f01010" stroke-width="6.3"/><line x1="580.5" y1="85.2" x2="564.2" y2="94.5" stroke="#f01010" stroke-width="6.3"/><line x1="564.2" y1="94.5" x2="548.0" y2="103.7" stroke="#4a86cf" stroke-width="6.3"/><line x1="580.5" y1="85.2" x2="596.7" y2="94.5" stroke="#f01010" stroke-width="6.3"/><line x1="596.7" y1="94.5" x2="612.9" y2="103.7" stroke="#4a86cf" stroke-width="6.3"/><line x1="548.0" y1="103.7" x2="548.0" y2="122.7" stroke="#4a86cf" stroke-width="6.3"/><line x1="548.0" y1="122.7" x2="548.0" y2="141.7" stroke="#f01010" stroke-width="6.3"/><line x1="612.9" y1="28.7" x2="629.1" y2="38.0" stroke="#f01010" stroke-width="6.3"/><line x1="629.1" y1="38.0" x2="645.4" y2="47.2" stroke="#4a86cf" stroke-width="6.3"/><line x1="612.9" y1="28.7" x2="596.7" y2="38.0" stroke="#f01010" stroke-width="6.3"/><line x1="596.7" y1="38.0" x2="580.4" y2="47.2" stroke="#4a86cf" stroke-width="6.3"/><line x1="645.4" y1="47.2" x2="645.4" y2="66.2" stroke="#4a86cf" stroke-width="6.3"/><line x1="645.4" y1="66.2" x2="645.4" y2="85.2" stroke="#f01010" stroke-width="6.3"/><line x1="645.4" y1="85.2" x2="629.1" y2="94.5" stroke="#f01010" stroke-width="6.3"/><line x1="629.1" y1="94.5" x2="612.9" y2="103.7" stroke="#4a86cf" stroke-width="6.3"/><line x1="645.4" y1="85.2" x2="661.6" y2="94.5" stroke="#f01010" stroke-width="6.3"/><line x1="661.6" y1="94.5" x2="677.8" y2="103.7" stroke="#4a86cf" stroke-width="6.3"/><line x1="612.9" y1="103.7" x2="612.9" y2="122.7" stroke="#4a86cf" stroke-width="6.3"/><line x1="612.9" y1="122.7" x2="612.9" y2="141.7" stroke="#f01010" stroke-width="6.3"/><line x1="677.8" y1="28.7" x2="694.0" y2="38.0" stroke="#f01010" stroke-width="6.3"/><line x1="694.0" y1="38.0" x2="710.2" y2="47.2" stroke="#4a86cf" stroke-width="6.3"/><line x1="677.8" y1="28.7" x2="661.6" y2="38.0" stroke="#f01010" stroke-width="6.3"/><line x1="661.6" y1="38.0" x2="645.3" y2="47.2" stroke="#4a86cf" stroke-width="6.3"/><line x1="710.2" y1="47.2" x2="710.2" y2="66.2" stroke="#4a86cf" stroke-width="6.3"/><line x1="710.2" y1="66.2" x2="710.2" y2="85.2" stroke="#f01010" stroke-width="6.3"/><line x1="710.2" y1="85.2" x2="694.0" y2="94.5" stroke="#f01010" stroke-width="6.3"/><line x1="694.0" y1="94.5" x2="677.8" y2="103.7" stroke="#4a86cf" stroke-width="6.3"/><line x1="710.2" y1="85.2" x2="726.5" y2="94.5" stroke="#f01010" stroke-width="6.3"/><line x1="726.5" y1="94.5" x2="742.7" y2="103.7" stroke="#4a86cf" stroke-width="6.3"/><line x1="677.8" y1="103.7" x2="677.8" y2="122.7" stroke="#4a86cf" stroke-width="6.3"/><line x1="677.8" y1="122.7" x2="677.8" y2="141.7" stroke="#f01010" stroke-width="6.3"/><line x1="353.3" y1="141.7" x2="369.5" y2="150.9" stroke="#f01010" stroke-width="6.3"/><line x1="369.5" y1="150.9" x2="385.7" y2="160.2" stroke="#4a86cf" stroke-width="6.3"/><line x1="353.3" y1="141.7" x2="337.1" y2="150.9" stroke="#f01010" stroke-width="6.3"/><line x1="337.1" y1="150.9" x2="320.8" y2="160.2" stroke="#4a86cf" stroke-width="6.3"/><line x1="385.7" y1="160.2" x2="385.7" y2="179.2" stroke="#4a86cf" stroke-width="6.3"/><line x1="385.7" y1="179.2" x2="385.7" y2="198.2" stroke="#f01010" stroke-width="6.3"/><line x1="385.7" y1="198.2" x2="369.5" y2="207.4" stroke="#f01010" stroke-width="6.3"/><line x1="369.5" y1="207.4" x2="353.3" y2="216.7" stroke="#4a86cf" stroke-width="6.3"/><line x1="385.7" y1="198.2" x2="402.0" y2="207.4" stroke="#f01010" stroke-width="6.3"/><line x1="402.0" y1="207.4" x2="418.2" y2="216.7" stroke="#4a86cf" stroke-width="6.3"/><line x1="353.3" y1="216.7" x2="353.3" y2="235.7" stroke="#4a86cf" stroke-width="6.3"/><line x1="353.3" y1="235.7" x2="353.3" y2="254.7" stroke="#f01010" stroke-width="6.3"/><line x1="418.2" y1="141.7" x2="434.4" y2="150.9" stroke="#f01010" stroke-width="6.3"/><line x1="434.4" y1="150.9" x2="450.6" y2="160.2" stroke="#4a86cf" stroke-width="6.3"/><line x1="418.2" y1="141.7" x2="402.0" y2="150.9" stroke="#f01010" stroke-width="6.3"/><line x1="402.0" y1="150.9" x2="385.8" y2="160.2" stroke="#4a86cf" stroke-width="6.3"/><line x1="450.6" y1="160.2" x2="450.6" y2="179.2" stroke="#4a86cf" stroke-width="6.3"/><line x1="450.6" y1="179.2" x2="450.6" y2="198.2" stroke="#f01010" stroke-width="6.3"/><line x1="450.6" y1="198.2" x2="434.4" y2="207.4" stroke="#f01010" stroke-width="6.3"/><line x1="434.4" y1="207.4" x2="418.2" y2="216.7" stroke="#4a86cf" stroke-width="6.3"/><line x1="450.6" y1="198.2" x2="466.9" y2="207.4" stroke="#f01010" stroke-width="6.3"/><line x1="466.9" y1="207.4" x2="483.1" y2="216.7" stroke="#4a86cf" stroke-width="6.3"/><line x1="418.2" y1="216.7" x2="418.2" y2="235.7" stroke="#4a86cf" stroke-width="6.3"/><line x1="418.2" y1="235.7" x2="418.2" y2="254.7" stroke="#f01010" stroke-width="6.3"/><line x1="483.1" y1="141.7" x2="499.3" y2="150.9" stroke="#f01010" stroke-width="6.3"/><line x1="499.3" y1="150.9" x2="515.6" y2="160.2" stroke="#4a86cf" stroke-width="6.3"/><line x1="483.1" y1="141.7" x2="466.9" y2="150.9" stroke="#f01010" stroke-width="6.3"/><line x1="466.9" y1="150.9" x2="450.7" y2="160.2" stroke="#4a86cf" stroke-width="6.3"/><line x1="515.6" y1="160.2" x2="515.6" y2="179.2" stroke="#4a86cf" stroke-width="6.3"/><line x1="515.6" y1="179.2" x2="515.6" y2="198.2" stroke="#f01010" stroke-width="6.3"/><line x1="515.6" y1="198.2" x2="499.3" y2="207.4" stroke="#f01010" stroke-width="6.3"/><line x1="499.3" y1="207.4" x2="483.1" y2="216.7" stroke="#4a86cf" stroke-width="6.3"/><line x1="515.6" y1="198.2" x2="531.8" y2="207.4" stroke="#f01010" stroke-width="6.3"/><line x1="531.8" y1="207.4" x2="548.0" y2="216.7" stroke="#4a86cf" stroke-width="6.3"/><line x1="483.1" y1="216.7" x2="483.1" y2="235.7" stroke="#4a86cf" stroke-width="6.3"/><line x1="483.1" y1="235.7" x2="483.1" y2="254.7" stroke="#f01010" stroke-width="6.3"/><line x1="548.0" y1="141.7" x2="564.2" y2="150.9" stroke="#f01010" stroke-width="6.3"/><line x1="564.2" y1="150.9" x2="580.5" y2="160.2" stroke="#4a86cf" stroke-width="6.3"/><line x1="548.0" y1="141.7" x2="531.8" y2="150.9" stroke="#f01010" stroke-width="6.3"/><line x1="531.8" y1="150.9" x2="515.5" y2="160.2" stroke="#4a86cf" stroke-width="6.3"/><line x1="580.5" y1="160.2" x2="580.5" y2="179.2" stroke="#4a86cf" stroke-width="6.3"/><line x1="580.5" y1="179.2" x2="580.5" y2="198.2" stroke="#f01010" stroke-width="6.3"/><line x1="580.5" y1="198.2" x2="564.2" y2="207.4" stroke="#f01010" stroke-width="6.3"/><line x1="564.2" y1="207.4" x2="548.0" y2="216.7" stroke="#4a86cf" stroke-width="6.3"/><line x1="580.5" y1="198.2" x2="596.7" y2="207.4" stroke="#f01010" stroke-width="6.3"/><line x1="596.7" y1="207.4" x2="612.9" y2="216.7" stroke="#4a86cf" stroke-width="6.3"/><line x1="548.0" y1="216.7" x2="548.0" y2="235.7" stroke="#4a86cf" stroke-width="6.3"/><line x1="548.0" y1="235.7" x2="548.0" y2="254.7" stroke="#f01010" stroke-width="6.3"/><line x1="612.9" y1="141.7" x2="629.1" y2="150.9" stroke="#f01010" stroke-width="6.3"/><line x1="629.1" y1="150.9" x2="645.4" y2="160.2" stroke="#4a86cf" stroke-width="6.3"/><line x1="612.9" y1="141.7" x2="596.7" y2="150.9" stroke="#f01010" stroke-width="6.3"/><line x1="596.7" y1="150.9" x2="580.4" y2="160.2" stroke="#4a86cf" stroke-width="6.3"/><line x1="645.4" y1="160.2" x2="645.4" y2="179.2" stroke="#4a86cf" stroke-width="6.3"/><line x1="645.4" y1="179.2" x2="645.4" y2="198.2" stroke="#f01010" stroke-width="6.3"/><line x1="645.4" y1="198.2" x2="629.1" y2="207.4" stroke="#f01010" stroke-width="6.3"/><line x1="629.1" y1="207.4" x2="612.9" y2="216.7" stroke="#4a86cf" stroke-width="6.3"/><line x1="645.4" y1="198.2" x2="661.6" y2="207.4" stroke="#f01010" stroke-width="6.3"/><line x1="661.6" y1="207.4" x2="677.8" y2="216.7" stroke="#4a86cf" stroke-width="6.3"/><line x1="612.9" y1="216.7" x2="612.9" y2="235.7" stroke="#4a86cf" stroke-width="6.3"/><line x1="612.9" y1="235.7" x2="612.9" y2="254.7" stroke="#f01010" stroke-width="6.3"/><line x1="677.8" y1="141.7" x2="694.0" y2="150.9" stroke="#f01010" stroke-width="6.3"/><line x1="694.0" y1="150.9" x2="710.2" y2="160.2" stroke="#4a86cf" stroke-width="6.3"/><line x1="677.8" y1="141.7" x2="661.6" y2="150.9" stroke="#f01010" stroke-width="6.3"/><line x1="661.6" y1="150.9" x2="645.3" y2="160.2" stroke="#4a86cf" stroke-width="6.3"/><line x1="710.2" y1="160.2" x2="710.2" y2="179.2" stroke="#4a86cf" stroke-width="6.3"/><line x1="710.2" y1="179.2" x2="710.2" y2="198.2" stroke="#f01010" stroke-width="6.3"/><line x1="710.2" y1="198.2" x2="694.0" y2="207.4" stroke="#f01010" stroke-width="6.3"/><line x1="694.0" y1="207.4" x2="677.8" y2="216.7" stroke="#4a86cf" stroke-width="6.3"/><line x1="710.2" y1="198.2" x2="726.5" y2="207.4" stroke="#f01010" stroke-width="6.3"/><line x1="726.5" y1="207.4" x2="742.7" y2="216.7" stroke="#4a86cf" stroke-width="6.3"/><line x1="677.8" y1="216.7" x2="677.8" y2="235.7" stroke="#4a86cf" stroke-width="6.3"/><line x1="677.8" y1="235.7" x2="677.8" y2="254.7" stroke="#f01010" stroke-width="6.3"/><line x1="353.3" y1="254.7" x2="369.5" y2="263.9" stroke="#f01010" stroke-width="6.3"/><line x1="369.5" y1="263.9" x2="385.7" y2="273.2" stroke="#4a86cf" stroke-width="6.3"/><line x1="353.3" y1="254.7" x2="337.1" y2="263.9" stroke="#f01010" stroke-width="6.3"/><line x1="337.1" y1="263.9" x2="320.8" y2="273.2" stroke="#4a86cf" stroke-width="6.3"/><line x1="385.7" y1="273.2" x2="385.7" y2="292.2" stroke="#4a86cf" stroke-width="6.3"/><line x1="385.7" y1="292.2" x2="385.7" y2="311.2" stroke="#f01010" stroke-width="6.3"/><line x1="385.7" y1="311.2" x2="369.5" y2="320.4" stroke="#f01010" stroke-width="6.3"/><line x1="369.5" y1="320.4" x2="353.3" y2="329.7" stroke="#4a86cf" stroke-width="6.3"/><line x1="385.7" y1="311.2" x2="402.0" y2="320.4" stroke="#f01010" stroke-width="6.3"/><line x1="402.0" y1="320.4" x2="418.2" y2="329.7" stroke="#4a86cf" stroke-width="6.3"/><line x1="353.3" y1="329.7" x2="353.3" y2="348.7" stroke="#4a86cf" stroke-width="6.3"/><line x1="353.3" y1="348.7" x2="353.3" y2="367.7" stroke="#f01010" stroke-width="6.3"/><line x1="418.2" y1="254.7" x2="434.4" y2="263.9" stroke="#f01010" stroke-width="6.3"/><line x1="434.4" y1="263.9" x2="450.6" y2="273.2" stroke="#4a86cf" stroke-width="6.3"/><line x1="418.2" y1="254.7" x2="402.0" y2="263.9" stroke="#f01010" stroke-width="6.3"/><line x1="402.0" y1="263.9" x2="385.8" y2="273.2" stroke="#4a86cf" stroke-width="6.3"/><line x1="450.6" y1="273.2" x2="450.6" y2="292.2" stroke="#4a86cf" stroke-width="6.3"/><line x1="450.6" y1="292.2" x2="450.6" y2="311.2" stroke="#f01010" stroke-width="6.3"/><line x1="450.6" y1="311.2" x2="434.4" y2="320.4" stroke="#f01010" stroke-width="6.3"/><line x1="434.4" y1="320.4" x2="418.2" y2="329.7" stroke="#4a86cf" stroke-width="6.3"/><line x1="450.6" y1="311.2" x2="466.9" y2="320.4" stroke="#f01010" stroke-width="6.3"/><line x1="466.9" y1="320.4" x2="483.1" y2="329.7" stroke="#4a86cf" stroke-width="6.3"/><line x1="418.2" y1="329.7" x2="418.2" y2="348.7" stroke="#4a86cf" stroke-width="6.3"/><line x1="418.2" y1="348.7" x2="418.2" y2="367.7" stroke="#f01010" stroke-width="6.3"/><line x1="483.1" y1="254.7" x2="499.3" y2="263.9" stroke="#f01010" stroke-width="6.3"/><line x1="499.3" y1="263.9" x2="515.6" y2="273.2" stroke="#4a86cf" stroke-width="6.3"/><line x1="483.1" y1="254.7" x2="466.9" y2="263.9" stroke="#f01010" stroke-width="6.3"/><line x1="466.9" y1="263.9" x2="450.7" y2="273.2" stroke="#4a86cf" stroke-width="6.3"/><line x1="515.6" y1="273.2" x2="515.6" y2="292.2" stroke="#4a86cf" stroke-width="6.3"/><line x1="515.6" y1="292.2" x2="515.6" y2="311.2" stroke="#f01010" stroke-width="6.3"/><line x1="515.6" y1="311.2" x2="499.3" y2="320.4" stroke="#f01010" stroke-width="6.3"/><line x1="499.3" y1="320.4" x2="483.1" y2="329.7" stroke="#4a86cf" stroke-width="6.3"/><line x1="515.6" y1="311.2" x2="531.8" y2="320.4" stroke="#f01010" stroke-width="6.3"/><line x1="531.8" y1="320.4" x2="548.0" y2="329.7" stroke="#4a86cf" stroke-width="6.3"/><line x1="483.1" y1="329.7" x2="483.1" y2="348.7" stroke="#4a86cf" stroke-width="6.3"/><line x1="483.1" y1="348.7" x2="483.1" y2="367.7" stroke="#f01010" stroke-width="6.3"/><line x1="548.0" y1="254.7" x2="564.2" y2="263.9" stroke="#f01010" stroke-width="6.3"/><line x1="564.2" y1="263.9" x2="580.5" y2="273.2" stroke="#4a86cf" stroke-width="6.3"/><line x1="548.0" y1="254.7" x2="531.8" y2="263.9" stroke="#f01010" stroke-width="6.3"/><line x1="531.8" y1="263.9" x2="515.5" y2="273.2" stroke="#4a86cf" stroke-width="6.3"/><line x1="580.5" y1="273.2" x2="580.5" y2="292.2" stroke="#4a86cf" stroke-width="6.3"/><line x1="580.5" y1="292.2" x2="580.5" y2="311.2" stroke="#f01010" stroke-width="6.3"/><line x1="580.5" y1="311.2" x2="564.2" y2="320.4" stroke="#f01010" stroke-width="6.3"/><line x1="564.2" y1="320.4" x2="548.0" y2="329.7" stroke="#4a86cf" stroke-width="6.3"/><line x1="580.5" y1="311.2" x2="596.7" y2="320.4" stroke="#f01010" stroke-width="6.3"/><line x1="596.7" y1="320.4" x2="612.9" y2="329.7" stroke="#4a86cf" stroke-width="6.3"/><line x1="548.0" y1="329.7" x2="548.0" y2="348.7" stroke="#4a86cf" stroke-width="6.3"/><line x1="548.0" y1="348.7" x2="548.0" y2="367.7" stroke="#f01010" stroke-width="6.3"/><line x1="612.9" y1="254.7" x2="629.1" y2="263.9" stroke="#f01010" stroke-width="6.3"/><line x1="629.1" y1="263.9" x2="645.4" y2="273.2" stroke="#4a86cf" stroke-width="6.3"/><line x1="612.9" y1="254.7" x2="596.7" y2="263.9" stroke="#f01010" stroke-width="6.3"/><line x1="596.7" y1="263.9" x2="580.4" y2="273.2" stroke="#4a86cf" stroke-width="6.3"/><line x1="645.4" y1="273.2" x2="645.4" y2="292.2" stroke="#4a86cf" stroke-width="6.3"/><line x1="645.4" y1="292.2" x2="645.4" y2="311.2" stroke="#f01010" stroke-width="6.3"/><line x1="645.4" y1="311.2" x2="629.1" y2="320.4" stroke="#f01010" stroke-width="6.3"/><line x1="629.1" y1="320.4" x2="612.9" y2="329.7" stroke="#4a86cf" stroke-width="6.3"/><line x1="645.4" y1="311.2" x2="661.6" y2="320.4" stroke="#f01010" stroke-width="6.3"/><line x1="661.6" y1="320.4" x2="677.8" y2="329.7" stroke="#4a86cf" stroke-width="6.3"/><line x1="612.9" y1="329.7" x2="612.9" y2="348.7" stroke="#4a86cf" stroke-width="6.3"/><line x1="612.9" y1="348.7" x2="612.9" y2="367.7" stroke="#f01010" stroke-width="6.3"/><line x1="677.8" y1="254.7" x2="694.0" y2="263.9" stroke="#f01010" stroke-width="6.3"/><line x1="694.0" y1="263.9" x2="710.2" y2="273.2" stroke="#4a86cf" stroke-width="6.3"/><line x1="677.8" y1="254.7" x2="661.6" y2="263.9" stroke="#f01010" stroke-width="6.3"/><line x1="661.6" y1="263.9" x2="645.3" y2="273.2" stroke="#4a86cf" stroke-width="6.3"/><line x1="710.2" y1="273.2" x2="710.2" y2="292.2" stroke="#4a86cf" stroke-width="6.3"/><line x1="710.2" y1="292.2" x2="710.2" y2="311.2" stroke="#f01010" stroke-width="6.3"/><line x1="710.2" y1="311.2" x2="694.0" y2="320.4" stroke="#f01010" stroke-width="6.3"/><line x1="694.0" y1="320.4" x2="677.8" y2="329.7" stroke="#4a86cf" stroke-width="6.3"/><line x1="710.2" y1="311.2" x2="726.5" y2="320.4" stroke="#f01010" stroke-width="6.3"/><line x1="726.5" y1="320.4" x2="742.7" y2="329.7" stroke="#4a86cf" stroke-width="6.3"/><line x1="677.8" y1="329.7" x2="677.8" y2="348.7" stroke="#4a86cf" stroke-width="6.3"/><line x1="677.8" y1="348.7" x2="677.8" y2="367.7" stroke="#f01010" stroke-width="6.3"/><circle cx="353.3" cy="-84.3" r="3.15" fill="#f01010"/><circle cx="385.7" cy="-65.8" r="3.15" fill="#4a86cf"/><circle cx="385.7" cy="-27.8" r="3.15" fill="#f01010"/><circle cx="353.3" cy="-9.3" r="3.15" fill="#4a86cf"/><circle cx="418.2" cy="-84.3" r="3.15" fill="#f01010"/><circle cx="450.6" cy="-65.8" r="3.15" fill="#4a86cf"/><circle cx="450.6" cy="-27.8" r="3.15" fill="#f01010"/><circle cx="418.2" cy="-9.3" r="3.15" fill="#4a86cf"/><circle cx="483.1" cy="-84.3" r="3.15" fill="#f01010"/><circle cx="515.6" cy="-65.8" r="3.15" fill="#4a86cf"/><circle cx="515.6" cy="-27.8" r="3.15" fill="#f01010"/><circle cx="483.1" cy="-9.3" r="3.15" fill="#4a86cf"/><circle cx="548.0" cy="-84.3" r="3.15" fill="#f01010"/><circle cx="580.5" cy="-65.8" r="3.15" fill="#4a86cf"/><circle cx="580.5" cy="-27.8" r="3.15" fill="#f01010"/><circle cx="548.0" cy="-9.3" r="3.15" fill="#4a86cf"/><circle cx="612.9" cy="-84.3" r="3.15" fill="#f01010"/><circle cx="645.4" cy="-65.8" r="3.15" fill="#4a86cf"/><circle cx="645.4" cy="-27.8" r="3.15" fill="#f01010"/><circle cx="612.9" cy="-9.3" r="3.15" fill="#4a86cf"/><circle cx="677.8" cy="-84.3" r="3.15" fill="#f01010"/><circle cx="710.2" cy="-65.8" r="3.15" fill="#4a86cf"/><circle cx="710.2" cy="-27.8" r="3.15" fill="#f01010"/><circle cx="677.8" cy="-9.3" r="3.15" fill="#4a86cf"/><circle cx="353.3" cy="28.7" r="3.15" fill="#f01010"/><circle cx="385.7" cy="47.2" r="3.15" fill="#4a86cf"/><circle cx="385.7" cy="85.2" r="3.15" fill="#f01010"/><circle cx="353.3" cy="103.7" r="3.15" fill="#4a86cf"/><circle cx="418.2" cy="28.7" r="3.15" fill="#f01010"/><circle cx="450.6" cy="47.2" r="3.15" fill="#4a86cf"/><circle cx="450.6" cy="85.2" r="3.15" fill="#f01010"/><circle cx="418.2" cy="103.7" r="3.15" fill="#4a86cf"/><circle cx="483.1" cy="28.7" r="3.15" fill="#f01010"/><circle cx="516.0" cy="41.5" r="3.15" fill="#4a86cf"/><circle cx="515.6" cy="85.2" r="3.15" fill="#f01010"/><circle cx="479.8" cy="109.6" r="3.15" fill="#4a86cf"/><circle cx="548.0" cy="28.7" r="3.15" fill="#f01010"/><circle cx="580.5" cy="47.2" r="3.15" fill="#4a86cf"/><circle cx="580.5" cy="85.2" r="3.15" fill="#f01010"/><circle cx="548.0" cy="103.7" r="3.15" fill="#4a86cf"/><circle cx="612.9" cy="28.7" r="3.15" fill="#f01010"/><circle cx="645.4" cy="47.2" r="3.15" fill="#4a86cf"/><circle cx="645.4" cy="85.2" r="3.15" fill="#f01010"/><circle cx="612.9" cy="103.7" r="3.15" fill="#4a86cf"/><circle cx="677.8" cy="28.7" r="3.15" fill="#f01010"/><circle cx="710.2" cy="47.2" r="3.15" fill="#4a86cf"/><circle cx="710.2" cy="85.2" r="3.15" fill="#f01010"/><circle cx="677.8" cy="103.7" r="3.15" fill="#4a86cf"/><circle cx="353.3" cy="141.7" r="3.15" fill="#f01010"/><circle cx="385.7" cy="160.2" r="3.15" fill="#4a86cf"/><circle cx="385.7" cy="198.2" r="3.15" fill="#f01010"/><circle cx="353.3" cy="216.7" r="3.15" fill="#4a86cf"/><circle cx="418.2" cy="141.7" r="3.15" fill="#f01010"/><circle cx="450.6" cy="160.2" r="3.15" fill="#4a86cf"/><circle cx="450.6" cy="198.2" r="3.15" fill="#f01010"/><circle cx="418.2" cy="216.7" r="3.15" fill="#4a86cf"/><circle cx="483.1" cy="141.7" r="3.15" fill="#f01010"/><circle cx="515.6" cy="160.2" r="3.15" fill="#4a86cf"/><circle cx="515.6" cy="198.2" r="3.15" fill="#f01010"/><circle cx="483.1" cy="216.7" r="3.15" fill="#4a86cf"/><circle cx="548.0" cy="141.7" r="3.15" fill="#f01010"/><circle cx="580.5" cy="160.2" r="3.15" fill="#4a86cf"/><circle cx="580.5" cy="198.2" r="3.15" fill="#f01010"/><circle cx="548.0" cy="216.7" r="3.15" fill="#4a86cf"/><circle cx="612.9" cy="141.7" r="3.15" fill="#f01010"/><circle cx="645.4" cy="160.2" r="3.15" fill="#4a86cf"/><circle cx="645.4" cy="198.2" r="3.15" fill="#f01010"/><circle cx="612.9" cy="216.7" r="3.15" fill="#4a86cf"/><circle cx="677.8" cy="141.7" r="3.15" fill="#f01010"/><circle cx="710.2" cy="160.2" r="3.15" fill="#4a86cf"/><circle cx="710.2" cy="198.2" r="3.15" fill="#f01010"/><circle cx="677.8" cy="216.7" r="3.15" fill="#4a86cf"/><circle cx="353.3" cy="254.7" r="3.15" fill="#f01010"/><circle cx="385.7" cy="273.2" r="3.15" fill="#4a86cf"/><circle cx="385.7" cy="311.2" r="3.15" fill="#f01010"/><circle cx="353.3" cy="329.7" r="3.15" fill="#4a86cf"/><circle cx="418.2" cy="254.7" r="3.15" fill="#f01010"/><circle cx="450.6" cy="273.2" r="3.15" fill="#4a86cf"/><circle cx="450.6" cy="311.2" r="3.15" fill="#f01010"/><circle cx="418.2" cy="329.7" r="3.15" fill="#4a86cf"/><circle cx="483.1" cy="254.7" r="3.15" fill="#f01010"/><circle cx="515.6" cy="273.2" r="3.15" fill="#4a86cf"/><circle cx="515.6" cy="311.2" r="3.15" fill="#f01010"/><circle cx="483.1" cy="329.7" r="3.15" fill="#4a86cf"/><circle cx="548.0" cy="254.7" r="3.15" fill="#f01010"/><circle cx="580.5" cy="273.2" r="3.15" fill="#4a86cf"/><circle cx="580.5" cy="311.2" r="3.15" fill="#f01010"/><circle cx="548.0" cy="329.7" r="3.15" fill="#4a86cf"/><circle cx="612.9" cy="254.7" r="3.15" fill="#f01010"/><circle cx="645.4" cy="273.2" r="3.15" fill="#4a86cf"/><circle cx="645.4" cy="311.2" r="3.15" fill="#f01010"/><circle cx="612.9" cy="329.7" r="3.15" fill="#4a86cf"/><circle cx="677.8" cy="254.7" r="3.15" fill="#f01010"/><circle cx="710.2" cy="273.2" r="3.15" fill="#4a86cf"/><circle cx="710.2" cy="311.2" r="3.15" fill="#f01010"/><circle cx="677.8" cy="329.7" r="3.15" fill="#4a86cf"/></g>
<line x1="479.8" y1="109.6" x2="486.6" y2="103.7" stroke="#4a86cf" stroke-width="5"/><line x1="486.6" y1="103.7" x2="493.3" y2="97.8" stroke="#f01010" stroke-width="5"/>
<line x1="476" y1="113" x2="484" y2="106" stroke="#1e3c64" stroke-width="6"/>
<line x1="493.3" y1="97.8" x2="500.5" y2="89.8" stroke="#f01010" stroke-width="4"/><line x1="500.5" y1="89.8" x2="507.6" y2="81.8" stroke="#808080" stroke-width="4"/>
<line x1="507.6" y1="81.8" x2="511.9" y2="70.8" stroke="#808080" stroke-width="4"/><line x1="511.9" y1="70.8" x2="516.1" y2="59.9" stroke="#f01010" stroke-width="4"/>
<circle cx="516.1" cy="59.9" r="8.4" fill="url(#gR)"/>
<circle cx="507.6" cy="81.8" r="8.4" fill="url(#gC)"/>
<circle cx="493.3" cy="97.8" r="8.4" fill="url(#gR)"/>
<text x="410.5" y="273" font-size="42">CO<tspan font-size="28" dy="10">2</tspan><tspan dy="-14.6" font-size="34">*</tspan></text>
<line x1="414" y1="337.90000000000003" x2="421.3" y2="337.90000000000003" stroke="#f01010" stroke-width="9.5"/><line x1="421.3" y1="337.9" x2="431.1" y2="337.9" stroke="#f01010" stroke-width="9.5"/><line x1="431.1" y1="337.9" x2="441.0" y2="337.9" stroke="#4a86cf" stroke-width="9.5"/><line x1="441.0" y1="337.9" x2="460.9" y2="337.9" stroke="#4a86cf" stroke-width="9.5"/><line x1="460.9" y1="337.9" x2="480.7" y2="337.9" stroke="#f01010" stroke-width="9.5"/><line x1="480.7" y1="337.9" x2="490.5" y2="337.9" stroke="#f01010" stroke-width="9.5"/><line x1="490.5" y1="337.9" x2="500.4" y2="337.9" stroke="#4a86cf" stroke-width="9.5"/><line x1="500.4" y1="337.9" x2="520.3" y2="337.9" stroke="#4a86cf" stroke-width="9.5"/><line x1="520.3" y1="337.9" x2="540.2" y2="337.9" stroke="#f01010" stroke-width="9.5"/><line x1="540.2" y1="337.9" x2="550.1" y2="337.9" stroke="#f01010" stroke-width="9.5"/><line x1="550.1" y1="337.9" x2="560.0" y2="337.9" stroke="#4a86cf" stroke-width="9.5"/><line x1="560.0" y1="337.9" x2="579.4" y2="337.9" stroke="#4a86cf" stroke-width="9.5"/><line x1="579.4" y1="337.9" x2="598.7" y2="337.9" stroke="#f01010" stroke-width="9.5"/><line x1="598.7" y1="337.9" x2="608.9" y2="337.9" stroke="#f01010" stroke-width="9.5"/><line x1="608.9" y1="337.9" x2="619.0" y2="337.9" stroke="#4a86cf" stroke-width="9.5"/><line x1="619.0" y1="337.90000000000003" x2="631.6" y2="337.90000000000003" stroke="#4a86cf" stroke-width="9.5"/><line x1="414" y1="385.1" x2="421.3" y2="385.1" stroke="#4a86cf" stroke-width="9.5"/><line x1="421.3" y1="385.1" x2="431.1" y2="385.1" stroke="#4a86cf" stroke-width="9.5"/><line x1="431.1" y1="385.1" x2="441.0" y2="385.1" stroke="#f01010" stroke-width="9.5"/><line x1="441.0" y1="385.1" x2="460.9" y2="385.1" stroke="#f01010" stroke-width="9.5"/><line x1="460.9" y1="385.1" x2="480.7" y2="385.1" stroke="#4a86cf" stroke-width="9.5"/><line x1="480.7" y1="385.1" x2="490.5" y2="385.1" stroke="#4a86cf" stroke-width="9.5"/><line x1="490.5" y1="385.1" x2="500.4" y2="385.1" stroke="#f01010" stroke-width="9.5"/><line x1="500.4" y1="385.1" x2="520.3" y2="385.1" stroke="#f01010" stroke-width="9.5"/><line x1="520.3" y1="385.1" x2="540.2" y2="385.1" stroke="#4a86cf" stroke-width="9.5"/><line x1="540.2" y1="385.1" x2="550.1" y2="385.1" stroke="#4a86cf" stroke-width="9.5"/><line x1="550.1" y1="385.1" x2="560.0" y2="385.1" stroke="#f01010" stroke-width="9.5"/><line x1="560.0" y1="385.1" x2="579.4" y2="385.1" stroke="#f01010" stroke-width="9.5"/><line x1="579.4" y1="385.1" x2="598.7" y2="385.1" stroke="#4a86cf" stroke-width="9.5"/><line x1="598.7" y1="385.1" x2="608.9" y2="385.1" stroke="#4a86cf" stroke-width="9.5"/><line x1="608.9" y1="385.1" x2="619.0" y2="385.1" stroke="#f01010" stroke-width="9.5"/><line x1="619.0" y1="385.1" x2="631.6" y2="385.1" stroke="#f01010" stroke-width="9.5"/><line x1="421.3" y1="337.1" x2="421.3" y2="360.7" stroke="#f01010" stroke-width="7.0"/><line x1="421.3" y1="360.7" x2="421.3" y2="384.3" stroke="#4a86cf" stroke-width="7.0"/><line x1="421.3" y1="384.3" x2="421.3" y2="407.9" stroke="#4a86cf" stroke-width="7.0"/><line x1="421.3" y1="407.9" x2="421.3" y2="416.4" stroke="#f01010" stroke-width="7.0"/><line x1="441.0" y1="337.1" x2="441.0" y2="360.7" stroke="#4a86cf" stroke-width="7.0"/><line x1="441.0" y1="360.7" x2="441.0" y2="384.3" stroke="#f01010" stroke-width="7.0"/><line x1="441.0" y1="384.3" x2="441.0" y2="407.9" stroke="#f01010" stroke-width="7.0"/><line x1="441.0" y1="407.9" x2="441.0" y2="416.4" stroke="#4a86cf" stroke-width="7.0"/><line x1="480.7" y1="337.1" x2="480.7" y2="360.7" stroke="#f01010" stroke-width="7.0"/><line x1="480.7" y1="360.7" x2="480.7" y2="384.3" stroke="#4a86cf" stroke-width="7.0"/><line x1="480.7" y1="384.3" x2="480.7" y2="407.9" stroke="#4a86cf" stroke-width="7.0"/><line x1="480.7" y1="407.9" x2="480.7" y2="416.4" stroke="#f01010" stroke-width="7.0"/><line x1="500.4" y1="337.1" x2="500.4" y2="360.7" stroke="#4a86cf" stroke-width="7.0"/><line x1="500.4" y1="360.7" x2="500.4" y2="384.3" stroke="#f01010" stroke-width="7.0"/><line x1="500.4" y1="384.3" x2="500.4" y2="407.9" stroke="#f01010" stroke-width="7.0"/><line x1="500.4" y1="407.9" x2="500.4" y2="416.4" stroke="#4a86cf" stroke-width="7.0"/><line x1="540.2" y1="337.1" x2="540.2" y2="360.7" stroke="#f01010" stroke-width="7.0"/><line x1="540.2" y1="360.7" x2="540.2" y2="384.3" stroke="#4a86cf" stroke-width="7.0"/><line x1="540.2" y1="384.3" x2="540.2" y2="407.9" stroke="#4a86cf" stroke-width="7.0"/><line x1="540.2" y1="407.9" x2="540.2" y2="416.4" stroke="#f01010" stroke-width="7.0"/><line x1="560.0" y1="337.1" x2="560.0" y2="360.7" stroke="#4a86cf" stroke-width="7.0"/><line x1="560.0" y1="360.7" x2="560.0" y2="384.3" stroke="#f01010" stroke-width="7.0"/><line x1="560.0" y1="384.3" x2="560.0" y2="407.9" stroke="#f01010" stroke-width="7.0"/><line x1="560.0" y1="407.9" x2="560.0" y2="416.4" stroke="#4a86cf" stroke-width="7.0"/><line x1="598.7" y1="337.1" x2="598.7" y2="360.7" stroke="#f01010" stroke-width="7.0"/><line x1="598.7" y1="360.7" x2="598.7" y2="384.3" stroke="#4a86cf" stroke-width="7.0"/><line x1="598.7" y1="384.3" x2="598.7" y2="407.9" stroke="#4a86cf" stroke-width="7.0"/><line x1="598.7" y1="407.9" x2="598.7" y2="416.4" stroke="#f01010" stroke-width="7.0"/><line x1="619.0" y1="337.1" x2="619.0" y2="360.7" stroke="#4a86cf" stroke-width="7.0"/><line x1="619.0" y1="360.7" x2="619.0" y2="384.3" stroke="#f01010" stroke-width="7.0"/><line x1="619.0" y1="384.3" x2="619.0" y2="407.9" stroke="#f01010" stroke-width="7.0"/><line x1="619.0" y1="407.9" x2="619.0" y2="416.4" stroke="#4a86cf" stroke-width="7.0"/>
<line x1="493.3" y1="326.1" x2="529.5" y2="326.1" stroke="#4a86cf" stroke-width="6"/><line x1="529.5" y1="326.1" x2="565.8" y2="326.1" stroke="#f01010" stroke-width="6"/>
<line x1="480.7" y1="337.1" x2="487.0" y2="331.6" stroke="#f01010" stroke-width="6"/><line x1="487.0" y1="331.6" x2="493.3" y2="326.1" stroke="#4a86cf" stroke-width="6"/>
<line x1="565.8" y1="326.1" x2="572.9" y2="331.1" stroke="#4a86cf" stroke-width="6"/><line x1="572.9" y1="331.1" x2="580.0" y2="336.0" stroke="#f01010" stroke-width="6"/>
<line x1="513.0" y1="289.0" x2="503.1" y2="307.6" stroke="#f01010" stroke-width="6"/><line x1="503.1" y1="307.6" x2="493.3" y2="326.1" stroke="#4a86cf" stroke-width="6"/>
<line x1="554.0" y1="289.0" x2="559.9" y2="307.6" stroke="#f01010" stroke-width="6"/><line x1="559.9" y1="307.6" x2="565.8" y2="326.1" stroke="#4a86cf" stroke-width="6"/>
<line x1="536.3" y1="298.3" x2="538.0" y2="314.1" stroke="#808080" stroke-width="6"/><line x1="538.0" y1="314.1" x2="539.7" y2="330.0" stroke="#f01010" stroke-width="6"/>
<line x1="513.0" y1="289.0" x2="524.6" y2="293.6" stroke="#f01010" stroke-width="5"/><line x1="524.6" y1="293.6" x2="536.3" y2="298.3" stroke="#808080" stroke-width="5"/>
<line x1="554.0" y1="289.0" x2="545.1" y2="293.6" stroke="#f01010" stroke-width="5"/><line x1="545.1" y1="293.6" x2="536.3" y2="298.3" stroke="#808080" stroke-width="5"/>
<circle cx="536.3" cy="298.3" r="9.3" fill="url(#gC)"/>
<circle cx="513.0" cy="289.0" r="9.8" fill="url(#gR)"/>
<circle cx="554.0" cy="289.0" r="9.8" fill="url(#gR)"/>
<g clip-path="url(#clipB2)"><line x1="359.9" y1="396.3" x2="376.0" y2="405.6" stroke="#4a86cf" stroke-width="6.3"/><line x1="376.0" y1="405.6" x2="392.1" y2="414.9" stroke="#f01010" stroke-width="6.3"/><line x1="359.9" y1="396.3" x2="343.8" y2="405.6" stroke="#4a86cf" stroke-width="6.3"/><line x1="343.8" y1="405.6" x2="327.7" y2="414.9" stroke="#f01010" stroke-width="6.3"/><line x1="392.1" y1="414.9" x2="392.1" y2="433.5" stroke="#f01010" stroke-width="6.3"/><line x1="392.1" y1="433.5" x2="392.1" y2="452.0" stroke="#4a86cf" stroke-width="6.3"/><line x1="392.1" y1="452.0" x2="376.0" y2="461.3" stroke="#4a86cf" stroke-width="6.3"/><line x1="376.0" y1="461.3" x2="359.9" y2="470.6" stroke="#f01010" stroke-width="6.3"/><line x1="392.1" y1="452.0" x2="408.2" y2="461.3" stroke="#4a86cf" stroke-width="6.3"/><line x1="408.2" y1="461.3" x2="424.3" y2="470.6" stroke="#f01010" stroke-width="6.3"/><line x1="359.9" y1="470.6" x2="359.9" y2="489.2" stroke="#f01010" stroke-width="6.3"/><line x1="359.9" y1="489.2" x2="359.9" y2="507.7" stroke="#4a86cf" stroke-width="6.3"/><line x1="424.3" y1="396.3" x2="440.4" y2="405.6" stroke="#4a86cf" stroke-width="6.3"/><line x1="440.4" y1="405.6" x2="456.5" y2="414.9" stroke="#f01010" stroke-width="6.3"/><line x1="424.3" y1="396.3" x2="408.2" y2="405.6" stroke="#4a86cf" stroke-width="6.3"/><line x1="408.2" y1="405.6" x2="392.1" y2="414.9" stroke="#f01010" stroke-width="6.3"/><line x1="456.5" y1="414.9" x2="456.5" y2="433.5" stroke="#f01010" stroke-width="6.3"/><line x1="456.5" y1="433.5" x2="456.5" y2="452.0" stroke="#4a86cf" stroke-width="6.3"/><line x1="456.5" y1="452.0" x2="440.4" y2="461.3" stroke="#4a86cf" stroke-width="6.3"/><line x1="440.4" y1="461.3" x2="424.3" y2="470.6" stroke="#f01010" stroke-width="6.3"/><line x1="456.5" y1="452.0" x2="472.6" y2="461.3" stroke="#4a86cf" stroke-width="6.3"/><line x1="472.6" y1="461.3" x2="488.7" y2="470.6" stroke="#f01010" stroke-width="6.3"/><line x1="424.3" y1="470.6" x2="424.3" y2="489.2" stroke="#f01010" stroke-width="6.3"/><line x1="424.3" y1="489.2" x2="424.3" y2="507.7" stroke="#4a86cf" stroke-width="6.3"/><line x1="488.7" y1="396.3" x2="504.8" y2="405.6" stroke="#4a86cf" stroke-width="6.3"/><line x1="504.8" y1="405.6" x2="520.9" y2="414.9" stroke="#f01010" stroke-width="6.3"/><line x1="488.7" y1="396.3" x2="472.6" y2="405.6" stroke="#4a86cf" stroke-width="6.3"/><line x1="472.6" y1="405.6" x2="456.5" y2="414.9" stroke="#f01010" stroke-width="6.3"/><line x1="520.9" y1="414.9" x2="520.9" y2="433.5" stroke="#f01010" stroke-width="6.3"/><line x1="520.9" y1="433.5" x2="520.9" y2="452.0" stroke="#4a86cf" stroke-width="6.3"/><line x1="520.9" y1="452.0" x2="504.8" y2="461.3" stroke="#4a86cf" stroke-width="6.3"/><line x1="504.8" y1="461.3" x2="488.7" y2="470.6" stroke="#f01010" stroke-width="6.3"/><line x1="520.9" y1="452.0" x2="537.0" y2="461.3" stroke="#4a86cf" stroke-width="6.3"/><line x1="537.0" y1="461.3" x2="553.1" y2="470.6" stroke="#f01010" stroke-width="6.3"/><line x1="488.7" y1="470.6" x2="488.7" y2="489.2" stroke="#f01010" stroke-width="6.3"/><line x1="488.7" y1="489.2" x2="488.7" y2="507.7" stroke="#4a86cf" stroke-width="6.3"/><line x1="553.1" y1="396.3" x2="569.2" y2="405.6" stroke="#4a86cf" stroke-width="6.3"/><line x1="569.2" y1="405.6" x2="585.3" y2="414.9" stroke="#f01010" stroke-width="6.3"/><line x1="553.1" y1="396.3" x2="537.0" y2="405.6" stroke="#4a86cf" stroke-width="6.3"/><line x1="537.0" y1="405.6" x2="520.9" y2="414.9" stroke="#f01010" stroke-width="6.3"/><line x1="585.3" y1="414.9" x2="585.3" y2="433.5" stroke="#f01010" stroke-width="6.3"/><line x1="585.3" y1="433.5" x2="585.3" y2="452.0" stroke="#4a86cf" stroke-width="6.3"/><line x1="585.3" y1="452.0" x2="569.2" y2="461.3" stroke="#4a86cf" stroke-width="6.3"/><line x1="569.2" y1="461.3" x2="553.1" y2="470.6" stroke="#f01010" stroke-width="6.3"/><line x1="585.3" y1="452.0" x2="601.4" y2="461.3" stroke="#4a86cf" stroke-width="6.3"/><line x1="601.4" y1="461.3" x2="617.5" y2="470.6" stroke="#f01010" stroke-width="6.3"/><line x1="553.1" y1="470.6" x2="553.1" y2="489.2" stroke="#f01010" stroke-width="6.3"/><line x1="553.1" y1="489.2" x2="553.1" y2="507.7" stroke="#4a86cf" stroke-width="6.3"/><line x1="617.5" y1="396.3" x2="633.6" y2="405.6" stroke="#4a86cf" stroke-width="6.3"/><line x1="633.6" y1="405.6" x2="649.7" y2="414.9" stroke="#f01010" stroke-width="6.3"/><line x1="617.5" y1="396.3" x2="601.4" y2="405.6" stroke="#4a86cf" stroke-width="6.3"/><line x1="601.4" y1="405.6" x2="585.3" y2="414.9" stroke="#f01010" stroke-width="6.3"/><line x1="649.7" y1="414.9" x2="649.7" y2="433.5" stroke="#f01010" stroke-width="6.3"/><line x1="649.7" y1="433.5" x2="649.7" y2="452.0" stroke="#4a86cf" stroke-width="6.3"/><line x1="649.7" y1="452.0" x2="633.6" y2="461.3" stroke="#4a86cf" stroke-width="6.3"/><line x1="633.6" y1="461.3" x2="617.5" y2="470.6" stroke="#f01010" stroke-width="6.3"/><line x1="649.7" y1="452.0" x2="665.8" y2="461.3" stroke="#4a86cf" stroke-width="6.3"/><line x1="665.8" y1="461.3" x2="681.9" y2="470.6" stroke="#f01010" stroke-width="6.3"/><line x1="617.5" y1="470.6" x2="617.5" y2="489.2" stroke="#f01010" stroke-width="6.3"/><line x1="617.5" y1="489.2" x2="617.5" y2="507.7" stroke="#4a86cf" stroke-width="6.3"/><line x1="681.9" y1="396.3" x2="698.0" y2="405.6" stroke="#4a86cf" stroke-width="6.3"/><line x1="698.0" y1="405.6" x2="714.1" y2="414.9" stroke="#f01010" stroke-width="6.3"/><line x1="681.9" y1="396.3" x2="665.8" y2="405.6" stroke="#4a86cf" stroke-width="6.3"/><line x1="665.8" y1="405.6" x2="649.7" y2="414.9" stroke="#f01010" stroke-width="6.3"/><line x1="714.1" y1="414.9" x2="714.1" y2="433.5" stroke="#f01010" stroke-width="6.3"/><line x1="714.1" y1="433.5" x2="714.1" y2="452.0" stroke="#4a86cf" stroke-width="6.3"/><line x1="714.1" y1="452.0" x2="698.0" y2="461.3" stroke="#4a86cf" stroke-width="6.3"/><line x1="698.0" y1="461.3" x2="681.9" y2="470.6" stroke="#f01010" stroke-width="6.3"/><line x1="714.1" y1="452.0" x2="730.2" y2="461.3" stroke="#4a86cf" stroke-width="6.3"/><line x1="730.2" y1="461.3" x2="746.3" y2="470.6" stroke="#f01010" stroke-width="6.3"/><line x1="681.9" y1="470.6" x2="681.9" y2="489.2" stroke="#f01010" stroke-width="6.3"/><line x1="681.9" y1="489.2" x2="681.9" y2="507.7" stroke="#4a86cf" stroke-width="6.3"/><line x1="359.9" y1="507.7" x2="376.0" y2="517.0" stroke="#4a86cf" stroke-width="6.3"/><line x1="376.0" y1="517.0" x2="392.1" y2="526.3" stroke="#f01010" stroke-width="6.3"/><line x1="359.9" y1="507.7" x2="343.8" y2="517.0" stroke="#4a86cf" stroke-width="6.3"/><line x1="343.8" y1="517.0" x2="327.7" y2="526.3" stroke="#f01010" stroke-width="6.3"/><line x1="392.1" y1="526.3" x2="392.1" y2="544.9" stroke="#f01010" stroke-width="6.3"/><line x1="392.1" y1="544.9" x2="392.1" y2="563.4" stroke="#4a86cf" stroke-width="6.3"/><line x1="392.1" y1="563.4" x2="376.0" y2="572.7" stroke="#4a86cf" stroke-width="6.3"/><line x1="376.0" y1="572.7" x2="359.9" y2="582.0" stroke="#f01010" stroke-width="6.3"/><line x1="392.1" y1="563.4" x2="408.2" y2="572.7" stroke="#4a86cf" stroke-width="6.3"/><line x1="408.2" y1="572.7" x2="424.3" y2="582.0" stroke="#f01010" stroke-width="6.3"/><line x1="359.9" y1="582.0" x2="359.9" y2="600.6" stroke="#f01010" stroke-width="6.3"/><line x1="359.9" y1="600.6" x2="359.9" y2="619.1" stroke="#4a86cf" stroke-width="6.3"/><line x1="424.3" y1="507.7" x2="440.4" y2="517.0" stroke="#4a86cf" stroke-width="6.3"/><line x1="440.4" y1="517.0" x2="456.5" y2="526.3" stroke="#f01010" stroke-width="6.3"/><line x1="424.3" y1="507.7" x2="408.2" y2="517.0" stroke="#4a86cf" stroke-width="6.3"/><line x1="408.2" y1="517.0" x2="392.1" y2="526.3" stroke="#f01010" stroke-width="6.3"/><line x1="456.5" y1="526.3" x2="456.5" y2="544.9" stroke="#f01010" stroke-width="6.3"/><line x1="456.5" y1="544.9" x2="456.5" y2="563.4" stroke="#4a86cf" stroke-width="6.3"/><line x1="456.5" y1="563.4" x2="440.4" y2="572.7" stroke="#4a86cf" stroke-width="6.3"/><line x1="440.4" y1="572.7" x2="424.3" y2="582.0" stroke="#f01010" stroke-width="6.3"/><line x1="456.5" y1="563.4" x2="469.5" y2="575.2" stroke="#4a86cf" stroke-width="6.3"/><line x1="469.5" y1="575.2" x2="482.5" y2="587.0" stroke="#f01010" stroke-width="6.3"/><line x1="424.3" y1="582.0" x2="424.3" y2="600.6" stroke="#f01010" stroke-width="6.3"/><line x1="424.3" y1="600.6" x2="424.3" y2="619.1" stroke="#4a86cf" stroke-width="6.3"/><line x1="488.7" y1="507.7" x2="504.5" y2="514.5" stroke="#4a86cf" stroke-width="6.3"/><line x1="504.5" y1="514.5" x2="520.4" y2="521.2" stroke="#f01010" stroke-width="6.3"/><line x1="488.7" y1="507.7" x2="472.6" y2="517.0" stroke="#4a86cf" stroke-width="6.3"/><line x1="472.6" y1="517.0" x2="456.5" y2="526.3" stroke="#f01010" stroke-width="6.3"/><line x1="520.4" y1="521.2" x2="520.6" y2="542.3" stroke="#f01010" stroke-width="6.3"/><line x1="520.6" y1="542.3" x2="520.9" y2="563.4" stroke="#4a86cf" stroke-width="6.3"/><line x1="520.9" y1="563.4" x2="501.7" y2="575.2" stroke="#4a86cf" stroke-width="6.3"/><line x1="501.7" y1="575.2" x2="482.5" y2="587.0" stroke="#f01010" stroke-width="6.3"/><line x1="520.9" y1="563.4" x2="537.0" y2="572.7" stroke="#4a86cf" stroke-width="6.3"/><line x1="537.0" y1="572.7" x2="553.1" y2="582.0" stroke="#f01010" stroke-width="6.3"/><line x1="482.5" y1="587.0" x2="485.6" y2="603.0" stroke="#f01010" stroke-width="6.3"/><line x1="485.6" y1="603.0" x2="488.7" y2="619.1" stroke="#4a86cf" stroke-width="6.3"/><line x1="553.1" y1="507.7" x2="569.2" y2="517.0" stroke="#4a86cf" stroke-width="6.3"/><line x1="569.2" y1="517.0" x2="585.3" y2="526.3" stroke="#f01010" stroke-width="6.3"/><line x1="553.1" y1="507.7" x2="536.8" y2="514.5" stroke="#4a86cf" stroke-width="6.3"/><line x1="536.8" y1="514.5" x2="520.4" y2="521.2" stroke="#f01010" stroke-width="6.3"/><line x1="585.3" y1="526.3" x2="585.3" y2="544.9" stroke="#f01010" stroke-width="6.3"/><line x1="585.3" y1="544.9" x2="585.3" y2="563.4" stroke="#4a86cf" stroke-width="6.3"/><line x1="585.3" y1="563.4" x2="569.2" y2="572.7" stroke="#4a86cf" stroke-width="6.3"/><line x1="569.2" y1="572.7" x2="553.1" y2="582.0" stroke="#f01010" stroke-width="6.3"/><line x1="585.3" y1="563.4" x2="601.4" y2="572.7" stroke="#4a86cf" stroke-width="6.3"/><line x1="601.4" y1="572.7" x2="617.5" y2="582.0" stroke="#f01010" stroke-width="6.3"/><line x1="553.1" y1="582.0" x2="553.1" y2="600.6" stroke="#f01010" stroke-width="6.3"/><line x1="553.1" y1="600.6" x2="553.1" y2="619.1" stroke="#4a86cf" stroke-width="6.3"/><line x1="617.5" y1="507.7" x2="633.6" y2="517.0" stroke="#4a86cf" stroke-width="6.3"/><line x1="633.6" y1="517.0" x2="649.7" y2="526.3" stroke="#f01010" stroke-width="6.3"/><line x1="617.5" y1="507.7" x2="601.4" y2="517.0" stroke="#4a86cf" stroke-width="6.3"/><line x1="601.4" y1="517.0" x2="585.3" y2="526.3" stroke="#f01010" stroke-width="6.3"/><line x1="649.7" y1="526.3" x2="649.7" y2="544.9" stroke="#f01010" stroke-width="6.3"/><line x1="649.7" y1="544.9" x2="649.7" y2="563.4" stroke="#4a86cf" stroke-width="6.3"/><line x1="649.7" y1="563.4" x2="633.6" y2="572.7" stroke="#4a86cf" stroke-width="6.3"/><line x1="633.6" y1="572.7" x2="617.5" y2="582.0" stroke="#f01010" stroke-width="6.3"/><line x1="649.7" y1="563.4" x2="665.8" y2="572.7" stroke="#4a86cf" stroke-width="6.3"/><line x1="665.8" y1="572.7" x2="681.9" y2="582.0" stroke="#f01010" stroke-width="6.3"/><line x1="617.5" y1="582.0" x2="617.5" y2="600.6" stroke="#f01010" stroke-width="6.3"/><line x1="617.5" y1="600.6" x2="617.5" y2="619.1" stroke="#4a86cf" stroke-width="6.3"/><line x1="681.9" y1="507.7" x2="698.0" y2="517.0" stroke="#4a86cf" stroke-width="6.3"/><line x1="698.0" y1="517.0" x2="714.1" y2="526.3" stroke="#f01010" stroke-width="6.3"/><line x1="681.9" y1="507.7" x2="665.8" y2="517.0" stroke="#4a86cf" stroke-width="6.3"/><line x1="665.8" y1="517.0" x2="649.7" y2="526.3" stroke="#f01010" stroke-width="6.3"/><line x1="714.1" y1="526.3" x2="714.1" y2="544.9" stroke="#f01010" stroke-width="6.3"/><line x1="714.1" y1="544.9" x2="714.1" y2="563.4" stroke="#4a86cf" stroke-width="6.3"/><line x1="714.1" y1="563.4" x2="698.0" y2="572.7" stroke="#4a86cf" stroke-width="6.3"/><line x1="698.0" y1="572.7" x2="681.9" y2="582.0" stroke="#f01010" stroke-width="6.3"/><line x1="714.1" y1="563.4" x2="730.2" y2="572.7" stroke="#4a86cf" stroke-width="6.3"/><line x1="730.2" y1="572.7" x2="746.3" y2="582.0" stroke="#f01010" stroke-width="6.3"/><line x1="681.9" y1="582.0" x2="681.9" y2="600.6" stroke="#f01010" stroke-width="6.3"/><line x1="681.9" y1="600.6" x2="681.9" y2="619.1" stroke="#4a86cf" stroke-width="6.3"/><line x1="359.9" y1="619.1" x2="376.0" y2="628.4" stroke="#4a86cf" stroke-width="6.3"/><line x1="376.0" y1="628.4" x2="392.1" y2="637.7" stroke="#f01010" stroke-width="6.3"/><line x1="359.9" y1="619.1" x2="343.8" y2="628.4" stroke="#4a86cf" stroke-width="6.3"/><line x1="343.8" y1="628.4" x2="327.7" y2="637.7" stroke="#f01010" stroke-width="6.3"/><line x1="392.1" y1="637.7" x2="392.1" y2="656.2" stroke="#f01010" stroke-width="6.3"/><line x1="392.1" y1="656.2" x2="392.1" y2="674.8" stroke="#4a86cf" stroke-width="6.3"/><line x1="392.1" y1="674.8" x2="376.0" y2="684.1" stroke="#4a86cf" stroke-width="6.3"/><line x1="376.0" y1="684.1" x2="359.9" y2="693.4" stroke="#f01010" stroke-width="6.3"/><line x1="392.1" y1="674.8" x2="408.2" y2="684.1" stroke="#4a86cf" stroke-width="6.3"/><line x1="408.2" y1="684.1" x2="424.3" y2="693.4" stroke="#f01010" stroke-width="6.3"/><line x1="359.9" y1="693.4" x2="359.9" y2="712.0" stroke="#f01010" stroke-width="6.3"/><line x1="359.9" y1="712.0" x2="359.9" y2="730.5" stroke="#4a86cf" stroke-width="6.3"/><line x1="424.3" y1="619.1" x2="440.4" y2="628.4" stroke="#4a86cf" stroke-width="6.3"/><line x1="440.4" y1="628.4" x2="456.5" y2="637.7" stroke="#f01010" stroke-width="6.3"/><line x1="424.3" y1="619.1" x2="408.2" y2="628.4" stroke="#4a86cf" stroke-width="6.3"/><line x1="408.2" y1="628.4" x2="392.1" y2="637.7" stroke="#f01010" stroke-width="6.3"/><line x1="456.5" y1="637.7" x2="456.5" y2="656.2" stroke="#f01010" stroke-width="6.3"/><line x1="456.5" y1="656.2" x2="456.5" y2="674.8" stroke="#4a86cf" stroke-width="6.3"/><line x1="456.5" y1="674.8" x2="440.4" y2="684.1" stroke="#4a86cf" stroke-width="6.3"/><line x1="440.4" y1="684.1" x2="424.3" y2="693.4" stroke="#f01010" stroke-width="6.3"/><line x1="456.5" y1="674.8" x2="472.6" y2="684.1" stroke="#4a86cf" stroke-width="6.3"/><line x1="472.6" y1="684.1" x2="488.7" y2="693.4" stroke="#f01010" stroke-width="6.3"/><line x1="424.3" y1="693.4" x2="424.3" y2="712.0" stroke="#f01010" stroke-width="6.3"/><line x1="424.3" y1="712.0" x2="424.3" y2="730.5" stroke="#4a86cf" stroke-width="6.3"/><line x1="488.7" y1="619.1" x2="504.8" y2="628.4" stroke="#4a86cf" stroke-width="6.3"/><line x1="504.8" y1="628.4" x2="520.9" y2="637.7" stroke="#f01010" stroke-width="6.3"/><line x1="488.7" y1="619.1" x2="472.6" y2="628.4" stroke="#4a86cf" stroke-width="6.3"/><line x1="472.6" y1="628.4" x2="456.5" y2="637.7" stroke="#f01010" stroke-width="6.3"/><line x1="520.9" y1="637.7" x2="520.9" y2="656.2" stroke="#f01010" stroke-width="6.3"/><line x1="520.9" y1="656.2" x2="520.9" y2="674.8" stroke="#4a86cf" stroke-width="6.3"/><line x1="520.9" y1="674.8" x2="504.8" y2="684.1" stroke="#4a86cf" stroke-width="6.3"/><line x1="504.8" y1="684.1" x2="488.7" y2="693.4" stroke="#f01010" stroke-width="6.3"/><line x1="520.9" y1="674.8" x2="537.0" y2="684.1" stroke="#4a86cf" stroke-width="6.3"/><line x1="537.0" y1="684.1" x2="553.1" y2="693.4" stroke="#f01010" stroke-width="6.3"/><line x1="488.7" y1="693.4" x2="488.7" y2="712.0" stroke="#f01010" stroke-width="6.3"/><line x1="488.7" y1="712.0" x2="488.7" y2="730.5" stroke="#4a86cf" stroke-width="6.3"/><line x1="553.1" y1="619.1" x2="569.2" y2="628.4" stroke="#4a86cf" stroke-width="6.3"/><line x1="569.2" y1="628.4" x2="585.3" y2="637.7" stroke="#f01010" stroke-width="6.3"/><line x1="553.1" y1="619.1" x2="537.0" y2="628.4" stroke="#4a86cf" stroke-width="6.3"/><line x1="537.0" y1="628.4" x2="520.9" y2="637.7" stroke="#f01010" stroke-width="6.3"/><line x1="585.3" y1="637.7" x2="585.3" y2="656.2" stroke="#f01010" stroke-width="6.3"/><line x1="585.3" y1="656.2" x2="585.3" y2="674.8" stroke="#4a86cf" stroke-width="6.3"/><line x1="585.3" y1="674.8" x2="569.2" y2="684.1" stroke="#4a86cf" stroke-width="6.3"/><line x1="569.2" y1="684.1" x2="553.1" y2="693.4" stroke="#f01010" stroke-width="6.3"/><line x1="585.3" y1="674.8" x2="601.4" y2="684.1" stroke="#4a86cf" stroke-width="6.3"/><line x1="601.4" y1="684.1" x2="617.5" y2="693.4" stroke="#f01010" stroke-width="6.3"/><line x1="553.1" y1="693.4" x2="553.1" y2="712.0" stroke="#f01010" stroke-width="6.3"/><line x1="553.1" y1="712.0" x2="553.1" y2="730.5" stroke="#4a86cf" stroke-width="6.3"/><line x1="617.5" y1="619.1" x2="633.6" y2="628.4" stroke="#4a86cf" stroke-width="6.3"/><line x1="633.6" y1="628.4" x2="649.7" y2="637.7" stroke="#f01010" stroke-width="6.3"/><line x1="617.5" y1="619.1" x2="601.4" y2="628.4" stroke="#4a86cf" stroke-width="6.3"/><line x1="601.4" y1="628.4" x2="585.3" y2="637.7" stroke="#f01010" stroke-width="6.3"/><line x1="649.7" y1="637.7" x2="649.7" y2="656.2" stroke="#f01010" stroke-width="6.3"/><line x1="649.7" y1="656.2" x2="649.7" y2="674.8" stroke="#4a86cf" stroke-width="6.3"/><line x1="649.7" y1="674.8" x2="633.6" y2="684.1" stroke="#4a86cf" stroke-width="6.3"/><line x1="633.6" y1="684.1" x2="617.5" y2="693.4" stroke="#f01010" stroke-width="6.3"/><line x1="649.7" y1="674.8" x2="665.8" y2="684.1" stroke="#4a86cf" stroke-width="6.3"/><line x1="665.8" y1="684.1" x2="681.9" y2="693.4" stroke="#f01010" stroke-width="6.3"/><line x1="617.5" y1="693.4" x2="617.5" y2="712.0" stroke="#f01010" stroke-width="6.3"/><line x1="617.5" y1="712.0" x2="617.5" y2="730.5" stroke="#4a86cf" stroke-width="6.3"/><line x1="681.9" y1="619.1" x2="698.0" y2="628.4" stroke="#4a86cf" stroke-width="6.3"/><line x1="698.0" y1="628.4" x2="714.1" y2="637.7" stroke="#f01010" stroke-width="6.3"/><line x1="681.9" y1="619.1" x2="665.8" y2="628.4" stroke="#4a86cf" stroke-width="6.3"/><line x1="665.8" y1="628.4" x2="649.7" y2="637.7" stroke="#f01010" stroke-width="6.3"/><line x1="714.1" y1="637.7" x2="714.1" y2="656.2" stroke="#f01010" stroke-width="6.3"/><line x1="714.1" y1="656.2" x2="714.1" y2="674.8" stroke="#4a86cf" stroke-width="6.3"/><line x1="714.1" y1="674.8" x2="698.0" y2="684.1" stroke="#4a86cf" stroke-width="6.3"/><line x1="698.0" y1="684.1" x2="681.9" y2="693.4" stroke="#f01010" stroke-width="6.3"/><line x1="714.1" y1="674.8" x2="730.2" y2="684.1" stroke="#4a86cf" stroke-width="6.3"/><line x1="730.2" y1="684.1" x2="746.3" y2="693.4" stroke="#f01010" stroke-width="6.3"/><line x1="681.9" y1="693.4" x2="681.9" y2="712.0" stroke="#f01010" stroke-width="6.3"/><line x1="681.9" y1="712.0" x2="681.9" y2="730.5" stroke="#4a86cf" stroke-width="6.3"/><line x1="359.9" y1="730.5" x2="376.0" y2="739.8" stroke="#4a86cf" stroke-width="6.3"/><line x1="376.0" y1="739.8" x2="392.1" y2="749.1" stroke="#f01010" stroke-width="6.3"/><line x1="359.9" y1="730.5" x2="343.8" y2="739.8" stroke="#4a86cf" stroke-width="6.3"/><line x1="343.8" y1="739.8" x2="327.7" y2="749.1" stroke="#f01010" stroke-width="6.3"/><line x1="392.1" y1="749.1" x2="392.1" y2="767.7" stroke="#f01010" stroke-width="6.3"/><line x1="392.1" y1="767.7" x2="392.1" y2="786.2" stroke="#4a86cf" stroke-width="6.3"/><line x1="392.1" y1="786.2" x2="376.0" y2="795.5" stroke="#4a86cf" stroke-width="6.3"/><line x1="376.0" y1="795.5" x2="359.9" y2="804.8" stroke="#f01010" stroke-width="6.3"/><line x1="392.1" y1="786.2" x2="408.2" y2="795.5" stroke="#4a86cf" stroke-width="6.3"/><line x1="408.2" y1="795.5" x2="424.3" y2="804.8" stroke="#f01010" stroke-width="6.3"/><line x1="359.9" y1="804.8" x2="359.9" y2="823.4" stroke="#f01010" stroke-width="6.3"/><line x1="359.9" y1="823.4" x2="359.9" y2="841.9" stroke="#4a86cf" stroke-width="6.3"/><line x1="424.3" y1="730.5" x2="440.4" y2="739.8" stroke="#4a86cf" stroke-width="6.3"/><line x1="440.4" y1="739.8" x2="456.5" y2="749.1" stroke="#f01010" stroke-width="6.3"/><line x1="424.3" y1="730.5" x2="408.2" y2="739.8" stroke="#4a86cf" stroke-width="6.3"/><line x1="408.2" y1="739.8" x2="392.1" y2="749.1" stroke="#f01010" stroke-width="6.3"/><line x1="456.5" y1="749.1" x2="456.5" y2="767.7" stroke="#f01010" stroke-width="6.3"/><line x1="456.5" y1="767.7" x2="456.5" y2="786.2" stroke="#4a86cf" stroke-width="6.3"/><line x1="456.5" y1="786.2" x2="440.4" y2="795.5" stroke="#4a86cf" stroke-width="6.3"/><line x1="440.4" y1="795.5" x2="424.3" y2="804.8" stroke="#f01010" stroke-width="6.3"/><line x1="456.5" y1="786.2" x2="472.6" y2="795.5" stroke="#4a86cf" stroke-width="6.3"/><line x1="472.6" y1="795.5" x2="488.7" y2="804.8" stroke="#f01010" stroke-width="6.3"/><line x1="424.3" y1="804.8" x2="424.3" y2="823.4" stroke="#f01010" stroke-width="6.3"/><line x1="424.3" y1="823.4" x2="424.3" y2="841.9" stroke="#4a86cf" stroke-width="6.3"/><line x1="488.7" y1="730.5" x2="504.8" y2="739.8" stroke="#4a86cf" stroke-width="6.3"/><line x1="504.8" y1="739.8" x2="520.9" y2="749.1" stroke="#f01010" stroke-width="6.3"/><line x1="488.7" y1="730.5" x2="472.6" y2="739.8" stroke="#4a86cf" stroke-width="6.3"/><line x1="472.6" y1="739.8" x2="456.5" y2="749.1" stroke="#f01010" stroke-width="6.3"/><line x1="520.9" y1="749.1" x2="520.9" y2="767.7" stroke="#f01010" stroke-width="6.3"/><line x1="520.9" y1="767.7" x2="520.9" y2="786.2" stroke="#4a86cf" stroke-width="6.3"/><line x1="520.9" y1="786.2" x2="504.8" y2="795.5" stroke="#4a86cf" stroke-width="6.3"/><line x1="504.8" y1="795.5" x2="488.7" y2="804.8" stroke="#f01010" stroke-width="6.3"/><line x1="520.9" y1="786.2" x2="537.0" y2="795.5" stroke="#4a86cf" stroke-width="6.3"/><line x1="537.0" y1="795.5" x2="553.1" y2="804.8" stroke="#f01010" stroke-width="6.3"/><line x1="488.7" y1="804.8" x2="488.7" y2="823.4" stroke="#f01010" stroke-width="6.3"/><line x1="488.7" y1="823.4" x2="488.7" y2="841.9" stroke="#4a86cf" stroke-width="6.3"/><line x1="553.1" y1="730.5" x2="569.2" y2="739.8" stroke="#4a86cf" stroke-width="6.3"/><line x1="569.2" y1="739.8" x2="585.3" y2="749.1" stroke="#f01010" stroke-width="6.3"/><line x1="553.1" y1="730.5" x2="537.0" y2="739.8" stroke="#4a86cf" stroke-width="6.3"/><line x1="537.0" y1="739.8" x2="520.9" y2="749.1" stroke="#f01010" stroke-width="6.3"/><line x1="585.3" y1="749.1" x2="585.3" y2="767.7" stroke="#f01010" stroke-width="6.3"/><line x1="585.3" y1="767.7" x2="585.3" y2="786.2" stroke="#4a86cf" stroke-width="6.3"/><line x1="585.3" y1="786.2" x2="569.2" y2="795.5" stroke="#4a86cf" stroke-width="6.3"/><line x1="569.2" y1="795.5" x2="553.1" y2="804.8" stroke="#f01010" stroke-width="6.3"/><line x1="585.3" y1="786.2" x2="601.4" y2="795.5" stroke="#4a86cf" stroke-width="6.3"/><line x1="601.4" y1="795.5" x2="617.5" y2="804.8" stroke="#f01010" stroke-width="6.3"/><line x1="553.1" y1="804.8" x2="553.1" y2="823.4" stroke="#f01010" stroke-width="6.3"/><line x1="553.1" y1="823.4" x2="553.1" y2="841.9" stroke="#4a86cf" stroke-width="6.3"/><line x1="617.5" y1="730.5" x2="633.6" y2="739.8" stroke="#4a86cf" stroke-width="6.3"/><line x1="633.6" y1="739.8" x2="649.7" y2="749.1" stroke="#f01010" stroke-width="6.3"/><line x1="617.5" y1="730.5" x2="601.4" y2="739.8" stroke="#4a86cf" stroke-width="6.3"/><line x1="601.4" y1="739.8" x2="585.3" y2="749.1" stroke="#f01010" stroke-width="6.3"/><line x1="649.7" y1="749.1" x2="649.7" y2="767.7" stroke="#f01010" stroke-width="6.3"/><line x1="649.7" y1="767.7" x2="649.7" y2="786.2" stroke="#4a86cf" stroke-width="6.3"/><line x1="649.7" y1="786.2" x2="633.6" y2="795.5" stroke="#4a86cf" stroke-width="6.3"/><line x1="633.6" y1="795.5" x2="617.5" y2="804.8" stroke="#f01010" stroke-width="6.3"/><line x1="649.7" y1="786.2" x2="665.8" y2="795.5" stroke="#4a86cf" stroke-width="6.3"/><line x1="665.8" y1="795.5" x2="681.9" y2="804.8" stroke="#f01010" stroke-width="6.3"/><line x1="617.5" y1="804.8" x2="617.5" y2="823.4" stroke="#f01010" stroke-width="6.3"/><line x1="617.5" y1="823.4" x2="617.5" y2="841.9" stroke="#4a86cf" stroke-width="6.3"/><line x1="681.9" y1="730.5" x2="698.0" y2="739.8" stroke="#4a86cf" stroke-width="6.3"/><line x1="698.0" y1="739.8" x2="714.1" y2="749.1" stroke="#f01010" stroke-width="6.3"/><line x1="681.9" y1="730.5" x2="665.8" y2="739.8" stroke="#4a86cf" stroke-width="6.3"/><line x1="665.8" y1="739.8" x2="649.7" y2="749.1" stroke="#f01010" stroke-width="6.3"/><line x1="714.1" y1="749.1" x2="714.1" y2="767.7" stroke="#f01010" stroke-width="6.3"/><line x1="714.1" y1="767.7" x2="714.1" y2="786.2" stroke="#4a86cf" stroke-width="6.3"/><line x1="714.1" y1="786.2" x2="698.0" y2="795.5" stroke="#4a86cf" stroke-width="6.3"/><line x1="698.0" y1="795.5" x2="681.9" y2="804.8" stroke="#f01010" stroke-width="6.3"/><line x1="714.1" y1="786.2" x2="730.2" y2="795.5" stroke="#4a86cf" stroke-width="6.3"/><line x1="730.2" y1="795.5" x2="746.3" y2="804.8" stroke="#f01010" stroke-width="6.3"/><line x1="681.9" y1="804.8" x2="681.9" y2="823.4" stroke="#f01010" stroke-width="6.3"/><line x1="681.9" y1="823.4" x2="681.9" y2="841.9" stroke="#4a86cf" stroke-width="6.3"/><circle cx="359.9" cy="396.3" r="3.15" fill="#4a86cf"/><circle cx="392.1" cy="414.9" r="3.15" fill="#f01010"/><circle cx="392.1" cy="452.0" r="3.15" fill="#4a86cf"/><circle cx="359.9" cy="470.6" r="3.15" fill="#f01010"/><circle cx="424.3" cy="396.3" r="3.15" fill="#4a86cf"/><circle cx="456.5" cy="414.9" r="3.15" fill="#f01010"/><circle cx="456.5" cy="452.0" r="3.15" fill="#4a86cf"/><circle cx="424.3" cy="470.6" r="3.15" fill="#f01010"/><circle cx="488.7" cy="396.3" r="3.15" fill="#4a86cf"/><circle cx="520.9" cy="414.9" r="3.15" fill="#f01010"/><circle cx="520.9" cy="452.0" r="3.15" fill="#4a86cf"/><circle cx="488.7" cy="470.6" r="3.15" fill="#f01010"/><circle cx="553.1" cy="396.3" r="3.15" fill="#4a86cf"/><circle cx="585.3" cy="414.9" r="3.15" fill="#f01010"/><circle cx="585.3" cy="452.0" r="3.15" fill="#4a86cf"/><circle cx="553.1" cy="470.6" r="3.15" fill="#f01010"/><circle cx="617.5" cy="396.3" r="3.15" fill="#4a86cf"/><circle cx="649.7" cy="414.9" r="3.15" fill="#f01010"/><circle cx="649.7" cy="452.0" r="3.15" fill="#4a86cf"/><circle cx="617.5" cy="470.6" r="3.15" fill="#f01010"/><circle cx="681.9" cy="396.3" r="3.15" fill="#4a86cf"/><circle cx="714.1" cy="414.9" r="3.15" fill="#f01010"/><circle cx="714.1" cy="452.0" r="3.15" fill="#4a86cf"/><circle cx="681.9" cy="470.6" r="3.15" fill="#f01010"/><circle cx="359.9" cy="507.7" r="3.15" fill="#4a86cf"/><circle cx="392.1" cy="526.3" r="3.15" fill="#f01010"/><circle cx="392.1" cy="563.4" r="3.15" fill="#4a86cf"/><circle cx="359.9" cy="582.0" r="3.15" fill="#f01010"/><circle cx="424.3" cy="507.7" r="3.15" fill="#4a86cf"/><circle cx="456.5" cy="526.3" r="3.15" fill="#f01010"/><circle cx="456.5" cy="563.4" r="3.15" fill="#4a86cf"/><circle cx="424.3" cy="582.0" r="3.15" fill="#f01010"/><circle cx="488.7" cy="507.7" r="3.15" fill="#4a86cf"/><circle cx="520.4" cy="521.2" r="3.15" fill="#f01010"/><circle cx="520.9" cy="563.4" r="3.15" fill="#4a86cf"/><circle cx="482.5" cy="587.0" r="3.15" fill="#f01010"/><circle cx="553.1" cy="507.7" r="3.15" fill="#4a86cf"/><circle cx="585.3" cy="526.3" r="3.15" fill="#f01010"/><circle cx="585.3" cy="563.4" r="3.15" fill="#4a86cf"/><circle cx="553.1" cy="582.0" r="3.15" fill="#f01010"/><circle cx="617.5" cy="507.7" r="3.15" fill="#4a86cf"/><circle cx="649.7" cy="526.3" r="3.15" fill="#f01010"/><circle cx="649.7" cy="563.4" r="3.15" fill="#4a86cf"/><circle cx="617.5" cy="582.0" r="3.15" fill="#f01010"/><circle cx="681.9" cy="507.7" r="3.15" fill="#4a86cf"/><circle cx="714.1" cy="526.3" r="3.15" fill="#f01010"/><circle cx="714.1" cy="563.4" r="3.15" fill="#4a86cf"/><circle cx="681.9" cy="582.0" r="3.15" fill="#f01010"/><circle cx="359.9" cy="619.1" r="3.15" fill="#4a86cf"/><circle cx="392.1" cy="637.7" r="3.15" fill="#f01010"/><circle cx="392.1" cy="674.8" r="3.15" fill="#4a86cf"/><circle cx="359.9" cy="693.4" r="3.15" fill="#f01010"/><circle cx="424.3" cy="619.1" r="3.15" fill="#4a86cf"/><circle cx="456.5" cy="637.7" r="3.15" fill="#f01010"/><circle cx="456.5" cy="674.8" r="3.15" fill="#4a86cf"/><circle cx="424.3" cy="693.4" r="3.15" fill="#f01010"/><circle cx="488.7" cy="619.1" r="3.15" fill="#4a86cf"/><circle cx="520.9" cy="637.7" r="3.15" fill="#f01010"/><circle cx="520.9" cy="674.8" r="3.15" fill="#4a86cf"/><circle cx="488.7" cy="693.4" r="3.15" fill="#f01010"/><circle cx="553.1" cy="619.1" r="3.15" fill="#4a86cf"/><circle cx="585.3" cy="637.7" r="3.15" fill="#f01010"/><circle cx="585.3" cy="674.8" r="3.15" fill="#4a86cf"/><circle cx="553.1" cy="693.4" r="3.15" fill="#f01010"/><circle cx="617.5" cy="619.1" r="3.15" fill="#4a86cf"/><circle cx="649.7" cy="637.7" r="3.15" fill="#f01010"/><circle cx="649.7" cy="674.8" r="3.15" fill="#4a86cf"/><circle cx="617.5" cy="693.4" r="3.15" fill="#f01010"/><circle cx="681.9" cy="619.1" r="3.15" fill="#4a86cf"/><circle cx="714.1" cy="637.7" r="3.15" fill="#f01010"/><circle cx="714.1" cy="674.8" r="3.15" fill="#4a86cf"/><circle cx="681.9" cy="693.4" r="3.15" fill="#f01010"/><circle cx="359.9" cy="730.5" r="3.15" fill="#4a86cf"/><circle cx="392.1" cy="749.1" r="3.15" fill="#f01010"/><circle cx="392.1" cy="786.2" r="3.15" fill="#4a86cf"/><circle cx="359.9" cy="804.8" r="3.15" fill="#f01010"/><circle cx="424.3" cy="730.5" r="3.15" fill="#4a86cf"/><circle cx="456.5" cy="749.1" r="3.15" fill="#f01010"/><circle cx="456.5" cy="786.2" r="3.15" fill="#4a86cf"/><circle cx="424.3" cy="804.8" r="3.15" fill="#f01010"/><circle cx="488.7" cy="730.5" r="3.15" fill="#4a86cf"/><circle cx="520.9" cy="749.1" r="3.15" fill="#f01010"/><circle cx="520.9" cy="786.2" r="3.15" fill="#4a86cf"/><circle cx="488.7" cy="804.8" r="3.15" fill="#f01010"/><circle cx="553.1" cy="730.5" r="3.15" fill="#4a86cf"/><circle cx="585.3" cy="749.1" r="3.15" fill="#f01010"/><circle cx="585.3" cy="786.2" r="3.15" fill="#4a86cf"/><circle cx="553.1" cy="804.8" r="3.15" fill="#f01010"/><circle cx="617.5" cy="730.5" r="3.15" fill="#4a86cf"/><circle cx="649.7" cy="749.1" r="3.15" fill="#f01010"/><circle cx="649.7" cy="786.2" r="3.15" fill="#4a86cf"/><circle cx="617.5" cy="804.8" r="3.15" fill="#f01010"/><circle cx="681.9" cy="730.5" r="3.15" fill="#4a86cf"/><circle cx="714.1" cy="749.1" r="3.15" fill="#f01010"/><circle cx="714.1" cy="786.2" r="3.15" fill="#4a86cf"/><circle cx="681.9" cy="804.8" r="3.15" fill="#f01010"/></g><g clip-path="url(#clipB2)"><line x1="358.1" y1="395.7" x2="374.2" y2="405.0" stroke="#f01010" stroke-width="6.3"/><line x1="374.2" y1="405.0" x2="390.3" y2="414.3" stroke="#4a86cf" stroke-width="6.3"/><line x1="358.1" y1="395.7" x2="342.0" y2="405.0" stroke="#f01010" stroke-width="6.3"/><line x1="342.0" y1="405.0" x2="325.9" y2="414.3" stroke="#4a86cf" stroke-width="6.3"/><line x1="390.3" y1="414.3" x2="390.3" y2="432.9" stroke="#4a86cf" stroke-width="6.3"/><line x1="390.3" y1="432.9" x2="390.3" y2="451.4" stroke="#f01010" stroke-width="6.3"/><line x1="390.3" y1="451.4" x2="374.2" y2="460.7" stroke="#f01010" stroke-width="6.3"/><line x1="374.2" y1="460.7" x2="358.1" y2="470.0" stroke="#4a86cf" stroke-width="6.3"/><line x1="390.3" y1="451.4" x2="406.4" y2="460.7" stroke="#f01010" stroke-width="6.3"/><line x1="406.4" y1="460.7" x2="422.5" y2="470.0" stroke="#4a86cf" stroke-width="6.3"/><line x1="358.1" y1="470.0" x2="358.1" y2="488.6" stroke="#4a86cf" stroke-width="6.3"/><line x1="358.1" y1="488.6" x2="358.1" y2="507.1" stroke="#f01010" stroke-width="6.3"/><line x1="422.5" y1="395.7" x2="438.6" y2="405.0" stroke="#f01010" stroke-width="6.3"/><line x1="438.6" y1="405.0" x2="454.7" y2="414.3" stroke="#4a86cf" stroke-width="6.3"/><line x1="422.5" y1="395.7" x2="406.4" y2="405.0" stroke="#f01010" stroke-width="6.3"/><line x1="406.4" y1="405.0" x2="390.3" y2="414.3" stroke="#4a86cf" stroke-width="6.3"/><line x1="454.7" y1="414.3" x2="454.7" y2="432.9" stroke="#4a86cf" stroke-width="6.3"/><line x1="454.7" y1="432.9" x2="454.7" y2="451.4" stroke="#f01010" stroke-width="6.3"/><line x1="454.7" y1="451.4" x2="438.6" y2="460.7" stroke="#f01010" stroke-width="6.3"/><line x1="438.6" y1="460.7" x2="422.5" y2="470.0" stroke="#4a86cf" stroke-width="6.3"/><line x1="454.7" y1="451.4" x2="470.8" y2="460.7" stroke="#f01010" stroke-width="6.3"/><line x1="470.8" y1="460.7" x2="486.9" y2="470.0" stroke="#4a86cf" stroke-width="6.3"/><line x1="422.5" y1="470.0" x2="422.5" y2="488.6" stroke="#4a86cf" stroke-width="6.3"/><line x1="422.5" y1="488.6" x2="422.5" y2="507.1" stroke="#f01010" stroke-width="6.3"/><line x1="486.9" y1="395.7" x2="503.0" y2="405.0" stroke="#f01010" stroke-width="6.3"/><line x1="503.0" y1="405.0" x2="519.1" y2="414.3" stroke="#4a86cf" stroke-width="6.3"/><line x1="486.9" y1="395.7" x2="470.8" y2="405.0" stroke="#f01010" stroke-width="6.3"/><line x1="470.8" y1="405.0" x2="454.7" y2="414.3" stroke="#4a86cf" stroke-width="6.3"/><line x1="519.1" y1="414.3" x2="519.1" y2="432.9" stroke="#4a86cf" stroke-width="6.3"/><line x1="519.1" y1="432.9" x2="519.1" y2="451.4" stroke="#f01010" stroke-width="6.3"/><line x1="519.1" y1="451.4" x2="503.0" y2="460.7" stroke="#f01010" stroke-width="6.3"/><line x1="503.0" y1="460.7" x2="486.9" y2="470.0" stroke="#4a86cf" stroke-width="6.3"/><line x1="519.1" y1="451.4" x2="535.2" y2="460.7" stroke="#f01010" stroke-width="6.3"/><line x1="535.2" y1="460.7" x2="551.3" y2="470.0" stroke="#4a86cf" stroke-width="6.3"/><line x1="486.9" y1="470.0" x2="486.9" y2="488.6" stroke="#4a86cf" stroke-width="6.3"/><line x1="486.9" y1="488.6" x2="486.9" y2="507.1" stroke="#f01010" stroke-width="6.3"/><line x1="551.3" y1="395.7" x2="567.4" y2="405.0" stroke="#f01010" stroke-width="6.3"/><line x1="567.4" y1="405.0" x2="583.5" y2="414.3" stroke="#4a86cf" stroke-width="6.3"/><line x1="551.3" y1="395.7" x2="535.2" y2="405.0" stroke="#f01010" stroke-width="6.3"/><line x1="535.2" y1="405.0" x2="519.1" y2="414.3" stroke="#4a86cf" stroke-width="6.3"/><line x1="583.5" y1="414.3" x2="583.5" y2="432.9" stroke="#4a86cf" stroke-width="6.3"/><line x1="583.5" y1="432.9" x2="583.5" y2="451.4" stroke="#f01010" stroke-width="6.3"/><line x1="583.5" y1="451.4" x2="567.4" y2="460.7" stroke="#f01010" stroke-width="6.3"/><line x1="567.4" y1="460.7" x2="551.3" y2="470.0" stroke="#4a86cf" stroke-width="6.3"/><line x1="583.5" y1="451.4" x2="599.6" y2="460.7" stroke="#f01010" stroke-width="6.3"/><line x1="599.6" y1="460.7" x2="615.7" y2="470.0" stroke="#4a86cf" stroke-width="6.3"/><line x1="551.3" y1="470.0" x2="551.3" y2="488.6" stroke="#4a86cf" stroke-width="6.3"/><line x1="551.3" y1="488.6" x2="551.3" y2="507.1" stroke="#f01010" stroke-width="6.3"/><line x1="615.7" y1="395.7" x2="631.8" y2="405.0" stroke="#f01010" stroke-width="6.3"/><line x1="631.8" y1="405.0" x2="647.9" y2="414.3" stroke="#4a86cf" stroke-width="6.3"/><line x1="615.7" y1="395.7" x2="599.6" y2="405.0" stroke="#f01010" stroke-width="6.3"/><line x1="599.6" y1="405.0" x2="583.5" y2="414.3" stroke="#4a86cf" stroke-width="6.3"/><line x1="647.9" y1="414.3" x2="647.9" y2="432.9" stroke="#4a86cf" stroke-width="6.3"/><line x1="647.9" y1="432.9" x2="647.9" y2="451.4" stroke="#f01010" stroke-width="6.3"/><line x1="647.9" y1="451.4" x2="631.8" y2="460.7" stroke="#f01010" stroke-width="6.3"/><line x1="631.8" y1="460.7" x2="615.7" y2="470.0" stroke="#4a86cf" stroke-width="6.3"/><line x1="647.9" y1="451.4" x2="664.0" y2="460.7" stroke="#f01010" stroke-width="6.3"/><line x1="664.0" y1="460.7" x2="680.1" y2="470.0" stroke="#4a86cf" stroke-width="6.3"/><line x1="615.7" y1="470.0" x2="615.7" y2="488.6" stroke="#4a86cf" stroke-width="6.3"/><line x1="615.7" y1="488.6" x2="615.7" y2="507.1" stroke="#f01010" stroke-width="6.3"/><line x1="680.1" y1="395.7" x2="696.2" y2="405.0" stroke="#f01010" stroke-width="6.3"/><line x1="696.2" y1="405.0" x2="712.3" y2="414.3" stroke="#4a86cf" stroke-width="6.3"/><line x1="680.1" y1="395.7" x2="664.0" y2="405.0" stroke="#f01010" stroke-width="6.3"/><line x1="664.0" y1="405.0" x2="647.9" y2="414.3" stroke="#4a86cf" stroke-width="6.3"/><line x1="712.3" y1="414.3" x2="712.3" y2="432.9" stroke="#4a86cf" stroke-width="6.3"/><line x1="712.3" y1="432.9" x2="712.3" y2="451.4" stroke="#f01010" stroke-width="6.3"/><line x1="712.3" y1="451.4" x2="696.2" y2="460.7" stroke="#f01010" stroke-width="6.3"/><line x1="696.2" y1="460.7" x2="680.1" y2="470.0" stroke="#4a86cf" stroke-width="6.3"/><line x1="712.3" y1="451.4" x2="728.4" y2="460.7" stroke="#f01010" stroke-width="6.3"/><line x1="728.4" y1="460.7" x2="744.5" y2="470.0" stroke="#4a86cf" stroke-width="6.3"/><line x1="680.1" y1="470.0" x2="680.1" y2="488.6" stroke="#4a86cf" stroke-width="6.3"/><line x1="680.1" y1="488.6" x2="680.1" y2="507.1" stroke="#f01010" stroke-width="6.3"/><line x1="358.1" y1="507.1" x2="374.2" y2="516.4" stroke="#f01010" stroke-width="6.3"/><line x1="374.2" y1="516.4" x2="390.3" y2="525.7" stroke="#4a86cf" stroke-width="6.3"/><line x1="358.1" y1="507.1" x2="342.0" y2="516.4" stroke="#f01010" stroke-width="6.3"/><line x1="342.0" y1="516.4" x2="325.9" y2="525.7" stroke="#4a86cf" stroke-width="6.3"/><line x1="390.3" y1="525.7" x2="390.3" y2="544.2" stroke="#4a86cf" stroke-width="6.3"/><line x1="390.3" y1="544.2" x2="390.3" y2="562.8" stroke="#f01010" stroke-width="6.3"/><line x1="390.3" y1="562.8" x2="374.2" y2="572.1" stroke="#f01010" stroke-width="6.3"/><line x1="374.2" y1="572.1" x2="358.1" y2="581.4" stroke="#4a86cf" stroke-width="6.3"/><line x1="390.3" y1="562.8" x2="406.4" y2="572.1" stroke="#f01010" stroke-width="6.3"/><line x1="406.4" y1="572.1" x2="422.5" y2="581.4" stroke="#4a86cf" stroke-width="6.3"/><line x1="358.1" y1="581.4" x2="358.1" y2="600.0" stroke="#4a86cf" stroke-width="6.3"/><line x1="358.1" y1="600.0" x2="358.1" y2="618.5" stroke="#f01010" stroke-width="6.3"/><line x1="422.5" y1="507.1" x2="438.6" y2="516.4" stroke="#f01010" stroke-width="6.3"/><line x1="438.6" y1="516.4" x2="454.7" y2="525.7" stroke="#4a86cf" stroke-width="6.3"/><line x1="422.5" y1="507.1" x2="406.4" y2="516.4" stroke="#f01010" stroke-width="6.3"/><line x1="406.4" y1="516.4" x2="390.3" y2="525.7" stroke="#4a86cf" stroke-width="6.3"/><line x1="454.7" y1="525.7" x2="454.7" y2="544.2" stroke="#4a86cf" stroke-width="6.3"/><line x1="454.7" y1="544.2" x2="454.7" y2="562.8" stroke="#f01010" stroke-width="6.3"/><line x1="454.7" y1="562.8" x2="438.6" y2="572.1" stroke="#f01010" stroke-width="6.3"/><line x1="438.6" y1="572.1" x2="422.5" y2="581.4" stroke="#4a86cf" stroke-width="6.3"/><line x1="454.7" y1="562.8" x2="467.7" y2="574.6" stroke="#f01010" stroke-width="6.3"/><line x1="467.7" y1="574.6" x2="480.7" y2="586.4" stroke="#4a86cf" stroke-width="6.3"/><line x1="422.5" y1="581.4" x2="422.5" y2="600.0" stroke="#4a86cf" stroke-width="6.3"/><line x1="422.5" y1="600.0" x2="422.5" y2="618.5" stroke="#f01010" stroke-width="6.3"/><line x1="486.9" y1="507.1" x2="502.8" y2="513.9" stroke="#f01010" stroke-width="6.3"/><line x1="502.8" y1="513.9" x2="518.6" y2="520.6" stroke="#4a86cf" stroke-width="6.3"/><line x1="486.9" y1="507.1" x2="470.8" y2="516.4" stroke="#f01010" stroke-width="6.3"/><line x1="470.8" y1="516.4" x2="454.7" y2="525.7" stroke="#4a86cf" stroke-width="6.3"/><line x1="518.6" y1="520.6" x2="518.9" y2="541.7" stroke="#4a86cf" stroke-width="6.3"/><line x1="518.9" y1="541.7" x2="519.1" y2="562.8" stroke="#f01010" stroke-width="6.3"/><line x1="519.1" y1="562.8" x2="499.9" y2="574.6" stroke="#f01010" stroke-width="6.3"/><line x1="499.9" y1="574.6" x2="480.7" y2="586.4" stroke="#4a86cf" stroke-width="6.3"/><line x1="519.1" y1="562.8" x2="535.2" y2="572.1" stroke="#f01010" stroke-width="6.3"/><line x1="535.2" y1="572.1" x2="551.3" y2="581.4" stroke="#4a86cf" stroke-width="6.3"/><line x1="480.7" y1="586.4" x2="483.8" y2="602.5" stroke="#4a86cf" stroke-width="6.3"/><line x1="483.8" y1="602.5" x2="486.9" y2="618.5" stroke="#f01010" stroke-width="6.3"/><line x1="551.3" y1="507.1" x2="567.4" y2="516.4" stroke="#f01010" stroke-width="6.3"/><line x1="567.4" y1="516.4" x2="583.5" y2="525.7" stroke="#4a86cf" stroke-width="6.3"/><line x1="551.3" y1="507.1" x2="535.0" y2="513.9" stroke="#f01010" stroke-width="6.3"/><line x1="535.0" y1="513.9" x2="518.6" y2="520.6" stroke="#4a86cf" stroke-width="6.3"/><line x1="583.5" y1="525.7" x2="583.5" y2="544.2" stroke="#4a86cf" stroke-width="6.3"/><line x1="583.5" y1="544.2" x2="583.5" y2="562.8" stroke="#f01010" stroke-width="6.3"/><line x1="583.5" y1="562.8" x2="567.4" y2="572.1" stroke="#f01010" stroke-width="6.3"/><line x1="567.4" y1="572.1" x2="551.3" y2="581.4" stroke="#4a86cf" stroke-width="6.3"/><line x1="583.5" y1="562.8" x2="599.6" y2="572.1" stroke="#f01010" stroke-width="6.3"/><line x1="599.6" y1="572.1" x2="615.7" y2="581.4" stroke="#4a86cf" stroke-width="6.3"/><line x1="551.3" y1="581.4" x2="551.3" y2="600.0" stroke="#4a86cf" stroke-width="6.3"/><line x1="551.3" y1="600.0" x2="551.3" y2="618.5" stroke="#f01010" stroke-width="6.3"/><line x1="615.7" y1="507.1" x2="631.8" y2="516.4" stroke="#f01010" stroke-width="6.3"/><line x1="631.8" y1="516.4" x2="647.9" y2="525.7" stroke="#4a86cf" stroke-width="6.3"/><line x1="615.7" y1="507.1" x2="599.6" y2="516.4" stroke="#f01010" stroke-width="6.3"/><line x1="599.6" y1="516.4" x2="583.5" y2="525.7" stroke="#4a86cf" stroke-width="6.3"/><line x1="647.9" y1="525.7" x2="647.9" y2="544.2" stroke="#4a86cf" stroke-width="6.3"/><line x1="647.9" y1="544.2" x2="647.9" y2="562.8" stroke="#f01010" stroke-width="6.3"/><line x1="647.9" y1="562.8" x2="631.8" y2="572.1" stroke="#f01010" stroke-width="6.3"/><line x1="631.8" y1="572.1" x2="615.7" y2="581.4" stroke="#4a86cf" stroke-width="6.3"/><line x1="647.9" y1="562.8" x2="664.0" y2="572.1" stroke="#f01010" stroke-width="6.3"/><line x1="664.0" y1="572.1" x2="680.1" y2="581.4" stroke="#4a86cf" stroke-width="6.3"/><line x1="615.7" y1="581.4" x2="615.7" y2="600.0" stroke="#4a86cf" stroke-width="6.3"/><line x1="615.7" y1="600.0" x2="615.7" y2="618.5" stroke="#f01010" stroke-width="6.3"/><line x1="680.1" y1="507.1" x2="696.2" y2="516.4" stroke="#f01010" stroke-width="6.3"/><line x1="696.2" y1="516.4" x2="712.3" y2="525.7" stroke="#4a86cf" stroke-width="6.3"/><line x1="680.1" y1="507.1" x2="664.0" y2="516.4" stroke="#f01010" stroke-width="6.3"/><line x1="664.0" y1="516.4" x2="647.9" y2="525.7" stroke="#4a86cf" stroke-width="6.3"/><line x1="712.3" y1="525.7" x2="712.3" y2="544.2" stroke="#4a86cf" stroke-width="6.3"/><line x1="712.3" y1="544.2" x2="712.3" y2="562.8" stroke="#f01010" stroke-width="6.3"/><line x1="712.3" y1="562.8" x2="696.2" y2="572.1" stroke="#f01010" stroke-width="6.3"/><line x1="696.2" y1="572.1" x2="680.1" y2="581.4" stroke="#4a86cf" stroke-width="6.3"/><line x1="712.3" y1="562.8" x2="728.4" y2="572.1" stroke="#f01010" stroke-width="6.3"/><line x1="728.4" y1="572.1" x2="744.5" y2="581.4" stroke="#4a86cf" stroke-width="6.3"/><line x1="680.1" y1="581.4" x2="680.1" y2="600.0" stroke="#4a86cf" stroke-width="6.3"/><line x1="680.1" y1="600.0" x2="680.1" y2="618.5" stroke="#f01010" stroke-width="6.3"/><line x1="358.1" y1="618.5" x2="374.2" y2="627.8" stroke="#f01010" stroke-width="6.3"/><line x1="374.2" y1="627.8" x2="390.3" y2="637.1" stroke="#4a86cf" stroke-width="6.3"/><line x1="358.1" y1="618.5" x2="342.0" y2="627.8" stroke="#f01010" stroke-width="6.3"/><line x1="342.0" y1="627.8" x2="325.9" y2="637.1" stroke="#4a86cf" stroke-width="6.3"/><line x1="390.3" y1="637.1" x2="390.3" y2="655.7" stroke="#4a86cf" stroke-width="6.3"/><line x1="390.3" y1="655.7" x2="390.3" y2="674.2" stroke="#f01010" stroke-width="6.3"/><line x1="390.3" y1="674.2" x2="374.2" y2="683.5" stroke="#f01010" stroke-width="6.3"/><line x1="374.2" y1="683.5" x2="358.1" y2="692.8" stroke="#4a86cf" stroke-width="6.3"/><line x1="390.3" y1="674.2" x2="406.4" y2="683.5" stroke="#f01010" stroke-width="6.3"/><line x1="406.4" y1="683.5" x2="422.5" y2="692.8" stroke="#4a86cf" stroke-width="6.3"/><line x1="358.1" y1="692.8" x2="358.1" y2="711.4" stroke="#4a86cf" stroke-width="6.3"/><line x1="358.1" y1="711.4" x2="358.1" y2="729.9" stroke="#f01010" stroke-width="6.3"/><line x1="422.5" y1="618.5" x2="438.6" y2="627.8" stroke="#f01010" stroke-width="6.3"/><line x1="438.6" y1="627.8" x2="454.7" y2="637.1" stroke="#4a86cf" stroke-width="6.3"/><line x1="422.5" y1="618.5" x2="406.4" y2="627.8" stroke="#f01010" stroke-width="6.3"/><line x1="406.4" y1="627.8" x2="390.3" y2="637.1" stroke="#4a86cf" stroke-width="6.3"/><line x1="454.7" y1="637.1" x2="454.7" y2="655.7" stroke="#4a86cf" stroke-width="6.3"/><line x1="454.7" y1="655.7" x2="454.7" y2="674.2" stroke="#f01010" stroke-width="6.3"/><line x1="454.7" y1="674.2" x2="438.6" y2="683.5" stroke="#f01010" stroke-width="6.3"/><line x1="438.6" y1="683.5" x2="422.5" y2="692.8" stroke="#4a86cf" stroke-width="6.3"/><line x1="454.7" y1="674.2" x2="470.8" y2="683.5" stroke="#f01010" stroke-width="6.3"/><line x1="470.8" y1="683.5" x2="486.9" y2="692.8" stroke="#4a86cf" stroke-width="6.3"/><line x1="422.5" y1="692.8" x2="422.5" y2="711.4" stroke="#4a86cf" stroke-width="6.3"/><line x1="422.5" y1="711.4" x2="422.5" y2="729.9" stroke="#f01010" stroke-width="6.3"/><line x1="486.9" y1="618.5" x2="503.0" y2="627.8" stroke="#f01010" stroke-width="6.3"/><line x1="503.0" y1="627.8" x2="519.1" y2="637.1" stroke="#4a86cf" stroke-width="6.3"/><line x1="486.9" y1="618.5" x2="470.8" y2="627.8" stroke="#f01010" stroke-width="6.3"/><line x1="470.8" y1="627.8" x2="454.7" y2="637.1" stroke="#4a86cf" stroke-width="6.3"/><line x1="519.1" y1="637.1" x2="519.1" y2="655.7" stroke="#4a86cf" stroke-width="6.3"/><line x1="519.1" y1="655.7" x2="519.1" y2="674.2" stroke="#f01010" stroke-width="6.3"/><line x1="519.1" y1="674.2" x2="503.0" y2="683.5" stroke="#f01010" stroke-width="6.3"/><line x1="503.0" y1="683.5" x2="486.9" y2="692.8" stroke="#4a86cf" stroke-width="6.3"/><line x1="519.1" y1="674.2" x2="535.2" y2="683.5" stroke="#f01010" stroke-width="6.3"/><line x1="535.2" y1="683.5" x2="551.3" y2="692.8" stroke="#4a86cf" stroke-width="6.3"/><line x1="486.9" y1="692.8" x2="486.9" y2="711.4" stroke="#4a86cf" stroke-width="6.3"/><line x1="486.9" y1="711.4" x2="486.9" y2="729.9" stroke="#f01010" stroke-width="6.3"/><line x1="551.3" y1="618.5" x2="567.4" y2="627.8" stroke="#f01010" stroke-width="6.3"/><line x1="567.4" y1="627.8" x2="583.5" y2="637.1" stroke="#4a86cf" stroke-width="6.3"/><line x1="551.3" y1="618.5" x2="535.2" y2="627.8" stroke="#f01010" stroke-width="6.3"/><line x1="535.2" y1="627.8" x2="519.1" y2="637.1" stroke="#4a86cf" stroke-width="6.3"/><line x1="583.5" y1="637.1" x2="583.5" y2="655.7" stroke="#4a86cf" stroke-width="6.3"/><line x1="583.5" y1="655.7" x2="583.5" y2="674.2" stroke="#f01010" stroke-width="6.3"/><line x1="583.5" y1="674.2" x2="567.4" y2="683.5" stroke="#f01010" stroke-width="6.3"/><line x1="567.4" y1="683.5" x2="551.3" y2="692.8" stroke="#4a86cf" stroke-width="6.3"/><line x1="583.5" y1="674.2" x2="599.6" y2="683.5" stroke="#f01010" stroke-width="6.3"/><line x1="599.6" y1="683.5" x2="615.7" y2="692.8" stroke="#4a86cf" stroke-width="6.3"/><line x1="551.3" y1="692.8" x2="551.3" y2="711.4" stroke="#4a86cf" stroke-width="6.3"/><line x1="551.3" y1="711.4" x2="551.3" y2="729.9" stroke="#f01010" stroke-width="6.3"/><line x1="615.7" y1="618.5" x2="631.8" y2="627.8" stroke="#f01010" stroke-width="6.3"/><line x1="631.8" y1="627.8" x2="647.9" y2="637.1" stroke="#4a86cf" stroke-width="6.3"/><line x1="615.7" y1="618.5" x2="599.6" y2="627.8" stroke="#f01010" stroke-width="6.3"/><line x1="599.6" y1="627.8" x2="583.5" y2="637.1" stroke="#4a86cf" stroke-width="6.3"/><line x1="647.9" y1="637.1" x2="647.9" y2="655.7" stroke="#4a86cf" stroke-width="6.3"/><line x1="647.9" y1="655.7" x2="647.9" y2="674.2" stroke="#f01010" stroke-width="6.3"/><line x1="647.9" y1="674.2" x2="631.8" y2="683.5" stroke="#f01010" stroke-width="6.3"/><line x1="631.8" y1="683.5" x2="615.7" y2="692.8" stroke="#4a86cf" stroke-width="6.3"/><line x1="647.9" y1="674.2" x2="664.0" y2="683.5" stroke="#f01010" stroke-width="6.3"/><line x1="664.0" y1="683.5" x2="680.1" y2="692.8" stroke="#4a86cf" stroke-width="6.3"/><line x1="615.7" y1="692.8" x2="615.7" y2="711.4" stroke="#4a86cf" stroke-width="6.3"/><line x1="615.7" y1="711.4" x2="615.7" y2="729.9" stroke="#f01010" stroke-width="6.3"/><line x1="680.1" y1="618.5" x2="696.2" y2="627.8" stroke="#f01010" stroke-width="6.3"/><line x1="696.2" y1="627.8" x2="712.3" y2="637.1" stroke="#4a86cf" stroke-width="6.3"/><line x1="680.1" y1="618.5" x2="664.0" y2="627.8" stroke="#f01010" stroke-width="6.3"/><line x1="664.0" y1="627.8" x2="647.9" y2="637.1" stroke="#4a86cf" stroke-width="6.3"/><line x1="712.3" y1="637.1" x2="712.3" y2="655.7" stroke="#4a86cf" stroke-width="6.3"/><line x1="712.3" y1="655.7" x2="712.3" y2="674.2" stroke="#f01010" stroke-width="6.3"/><line x1="712.3" y1="674.2" x2="696.2" y2="683.5" stroke="#f01010" stroke-width="6.3"/><line x1="696.2" y1="683.5" x2="680.1" y2="692.8" stroke="#4a86cf" stroke-width="6.3"/><line x1="712.3" y1="674.2" x2="728.4" y2="683.5" stroke="#f01010" stroke-width="6.3"/><line x1="728.4" y1="683.5" x2="744.5" y2="692.8" stroke="#4a86cf" stroke-width="6.3"/><line x1="680.1" y1="692.8" x2="680.1" y2="711.4" stroke="#4a86cf" stroke-width="6.3"/><line x1="680.1" y1="711.4" x2="680.1" y2="729.9" stroke="#f01010" stroke-width="6.3"/><line x1="358.1" y1="729.9" x2="374.2" y2="739.2" stroke="#f01010" stroke-width="6.3"/><line x1="374.2" y1="739.2" x2="390.3" y2="748.5" stroke="#4a86cf" stroke-width="6.3"/><line x1="358.1" y1="729.9" x2="342.0" y2="739.2" stroke="#f01010" stroke-width="6.3"/><line x1="342.0" y1="739.2" x2="325.9" y2="748.5" stroke="#4a86cf" stroke-width="6.3"/><line x1="390.3" y1="748.5" x2="390.3" y2="767.1" stroke="#4a86cf" stroke-width="6.3"/><line x1="390.3" y1="767.1" x2="390.3" y2="785.6" stroke="#f01010" stroke-width="6.3"/><line x1="390.3" y1="785.6" x2="374.2" y2="794.9" stroke="#f01010" stroke-width="6.3"/><line x1="374.2" y1="794.9" x2="358.1" y2="804.2" stroke="#4a86cf" stroke-width="6.3"/><line x1="390.3" y1="785.6" x2="406.4" y2="794.9" stroke="#f01010" stroke-width="6.3"/><line x1="406.4" y1="794.9" x2="422.5" y2="804.2" stroke="#4a86cf" stroke-width="6.3"/><line x1="358.1" y1="804.2" x2="358.1" y2="822.8" stroke="#4a86cf" stroke-width="6.3"/><line x1="358.1" y1="822.8" x2="358.1" y2="841.3" stroke="#f01010" stroke-width="6.3"/><line x1="422.5" y1="729.9" x2="438.6" y2="739.2" stroke="#f01010" stroke-width="6.3"/><line x1="438.6" y1="739.2" x2="454.7" y2="748.5" stroke="#4a86cf" stroke-width="6.3"/><line x1="422.5" y1="729.9" x2="406.4" y2="739.2" stroke="#f01010" stroke-width="6.3"/><line x1="406.4" y1="739.2" x2="390.3" y2="748.5" stroke="#4a86cf" stroke-width="6.3"/><line x1="454.7" y1="748.5" x2="454.7" y2="767.1" stroke="#4a86cf" stroke-width="6.3"/><line x1="454.7" y1="767.1" x2="454.7" y2="785.6" stroke="#f01010" stroke-width="6.3"/><line x1="454.7" y1="785.6" x2="438.6" y2="794.9" stroke="#f01010" stroke-width="6.3"/><line x1="438.6" y1="794.9" x2="422.5" y2="804.2" stroke="#4a86cf" stroke-width="6.3"/><line x1="454.7" y1="785.6" x2="470.8" y2="794.9" stroke="#f01010" stroke-width="6.3"/><line x1="470.8" y1="794.9" x2="486.9" y2="804.2" stroke="#4a86cf" stroke-width="6.3"/><line x1="422.5" y1="804.2" x2="422.5" y2="822.8" stroke="#4a86cf" stroke-width="6.3"/><line x1="422.5" y1="822.8" x2="422.5" y2="841.3" stroke="#f01010" stroke-width="6.3"/><line x1="486.9" y1="729.9" x2="503.0" y2="739.2" stroke="#f01010" stroke-width="6.3"/><line x1="503.0" y1="739.2" x2="519.1" y2="748.5" stroke="#4a86cf" stroke-width="6.3"/><line x1="486.9" y1="729.9" x2="470.8" y2="739.2" stroke="#f01010" stroke-width="6.3"/><line x1="470.8" y1="739.2" x2="454.7" y2="748.5" stroke="#4a86cf" stroke-width="6.3"/><line x1="519.1" y1="748.5" x2="519.1" y2="767.1" stroke="#4a86cf" stroke-width="6.3"/><line x1="519.1" y1="767.1" x2="519.1" y2="785.6" stroke="#f01010" stroke-width="6.3"/><line x1="519.1" y1="785.6" x2="503.0" y2="794.9" stroke="#f01010" stroke-width="6.3"/><line x1="503.0" y1="794.9" x2="486.9" y2="804.2" stroke="#4a86cf" stroke-width="6.3"/><line x1="519.1" y1="785.6" x2="535.2" y2="794.9" stroke="#f01010" stroke-width="6.3"/><line x1="535.2" y1="794.9" x2="551.3" y2="804.2" stroke="#4a86cf" stroke-width="6.3"/><line x1="486.9" y1="804.2" x2="486.9" y2="822.8" stroke="#4a86cf" stroke-width="6.3"/><line x1="486.9" y1="822.8" x2="486.9" y2="841.3" stroke="#f01010" stroke-width="6.3"/><line x1="551.3" y1="729.9" x2="567.4" y2="739.2" stroke="#f01010" stroke-width="6.3"/><line x1="567.4" y1="739.2" x2="583.5" y2="748.5" stroke="#4a86cf" stroke-width="6.3"/><line x1="551.3" y1="729.9" x2="535.2" y2="739.2" stroke="#f01010" stroke-width="6.3"/><line x1="535.2" y1="739.2" x2="519.1" y2="748.5" stroke="#4a86cf" stroke-width="6.3"/><line x1="583.5" y1="748.5" x2="583.5" y2="767.1" stroke="#4a86cf" stroke-width="6.3"/><line x1="583.5" y1="767.1" x2="583.5" y2="785.6" stroke="#f01010" stroke-width="6.3"/><line x1="583.5" y1="785.6" x2="567.4" y2="794.9" stroke="#f01010" stroke-width="6.3"/><line x1="567.4" y1="794.9" x2="551.3" y2="804.2" stroke="#4a86cf" stroke-width="6.3"/><line x1="583.5" y1="785.6" x2="599.6" y2="794.9" stroke="#f01010" stroke-width="6.3"/><line x1="599.6" y1="794.9" x2="615.7" y2="804.2" stroke="#4a86cf" stroke-width="6.3"/><line x1="551.3" y1="804.2" x2="551.3" y2="822.8" stroke="#4a86cf" stroke-width="6.3"/><line x1="551.3" y1="822.8" x2="551.3" y2="841.3" stroke="#f01010" stroke-width="6.3"/><line x1="615.7" y1="729.9" x2="631.8" y2="739.2" stroke="#f01010" stroke-width="6.3"/><line x1="631.8" y1="739.2" x2="647.9" y2="748.5" stroke="#4a86cf" stroke-width="6.3"/><line x1="615.7" y1="729.9" x2="599.6" y2="739.2" stroke="#f01010" stroke-width="6.3"/><line x1="599.6" y1="739.2" x2="583.5" y2="748.5" stroke="#4a86cf" stroke-width="6.3"/><line x1="647.9" y1="748.5" x2="647.9" y2="767.1" stroke="#4a86cf" stroke-width="6.3"/><line x1="647.9" y1="767.1" x2="647.9" y2="785.6" stroke="#f01010" stroke-width="6.3"/><line x1="647.9" y1="785.6" x2="631.8" y2="794.9" stroke="#f01010" stroke-width="6.3"/><line x1="631.8" y1="794.9" x2="615.7" y2="804.2" stroke="#4a86cf" stroke-width="6.3"/><line x1="647.9" y1="785.6" x2="664.0" y2="794.9" stroke="#f01010" stroke-width="6.3"/><line x1="664.0" y1="794.9" x2="680.1" y2="804.2" stroke="#4a86cf" stroke-width="6.3"/><line x1="615.7" y1="804.2" x2="615.7" y2="822.8" stroke="#4a86cf" stroke-width="6.3"/><line x1="615.7" y1="822.8" x2="615.7" y2="841.3" stroke="#f01010" stroke-width="6.3"/><line x1="680.1" y1="729.9" x2="696.2" y2="739.2" stroke="#f01010" stroke-width="6.3"/><line x1="696.2" y1="739.2" x2="712.3" y2="748.5" stroke="#4a86cf" stroke-width="6.3"/><line x1="680.1" y1="729.9" x2="664.0" y2="739.2" stroke="#f01010" stroke-width="6.3"/><line x1="664.0" y1="739.2" x2="647.9" y2="748.5" stroke="#4a86cf" stroke-width="6.3"/><line x1="712.3" y1="748.5" x2="712.3" y2="767.1" stroke="#4a86cf" stroke-width="6.3"/><line x1="712.3" y1="767.1" x2="712.3" y2="785.6" stroke="#f01010" stroke-width="6.3"/><line x1="712.3" y1="785.6" x2="696.2" y2="794.9" stroke="#f01010" stroke-width="6.3"/><line x1="696.2" y1="794.9" x2="680.1" y2="804.2" stroke="#4a86cf" stroke-width="6.3"/><line x1="712.3" y1="785.6" x2="728.4" y2="794.9" stroke="#f01010" stroke-width="6.3"/><line x1="728.4" y1="794.9" x2="744.5" y2="804.2" stroke="#4a86cf" stroke-width="6.3"/><line x1="680.1" y1="804.2" x2="680.1" y2="822.8" stroke="#4a86cf" stroke-width="6.3"/><line x1="680.1" y1="822.8" x2="680.1" y2="841.3" stroke="#f01010" stroke-width="6.3"/><circle cx="358.1" cy="395.7" r="3.15" fill="#f01010"/><circle cx="390.3" cy="414.3" r="3.15" fill="#4a86cf"/><circle cx="390.3" cy="451.4" r="3.15" fill="#f01010"/><circle cx="358.1" cy="470.0" r="3.15" fill="#4a86cf"/><circle cx="422.5" cy="395.7" r="3.15" fill="#f01010"/><circle cx="454.7" cy="414.3" r="3.15" fill="#4a86cf"/><circle cx="454.7" cy="451.4" r="3.15" fill="#f01010"/><circle cx="422.5" cy="470.0" r="3.15" fill="#4a86cf"/><circle cx="486.9" cy="395.7" r="3.15" fill="#f01010"/><circle cx="519.1" cy="414.3" r="3.15" fill="#4a86cf"/><circle cx="519.1" cy="451.4" r="3.15" fill="#f01010"/><circle cx="486.9" cy="470.0" r="3.15" fill="#4a86cf"/><circle cx="551.3" cy="395.7" r="3.15" fill="#f01010"/><circle cx="583.5" cy="414.3" r="3.15" fill="#4a86cf"/><circle cx="583.5" cy="451.4" r="3.15" fill="#f01010"/><circle cx="551.3" cy="470.0" r="3.15" fill="#4a86cf"/><circle cx="615.7" cy="395.7" r="3.15" fill="#f01010"/><circle cx="647.9" cy="414.3" r="3.15" fill="#4a86cf"/><circle cx="647.9" cy="451.4" r="3.15" fill="#f01010"/><circle cx="615.7" cy="470.0" r="3.15" fill="#4a86cf"/><circle cx="680.1" cy="395.7" r="3.15" fill="#f01010"/><circle cx="712.3" cy="414.3" r="3.15" fill="#4a86cf"/><circle cx="712.3" cy="451.4" r="3.15" fill="#f01010"/><circle cx="680.1" cy="470.0" r="3.15" fill="#4a86cf"/><circle cx="358.1" cy="507.1" r="3.15" fill="#f01010"/><circle cx="390.3" cy="525.7" r="3.15" fill="#4a86cf"/><circle cx="390.3" cy="562.8" r="3.15" fill="#f01010"/><circle cx="358.1" cy="581.4" r="3.15" fill="#4a86cf"/><circle cx="422.5" cy="507.1" r="3.15" fill="#f01010"/><circle cx="454.7" cy="525.7" r="3.15" fill="#4a86cf"/><circle cx="454.7" cy="562.8" r="3.15" fill="#f01010"/><circle cx="422.5" cy="581.4" r="3.15" fill="#4a86cf"/><circle cx="486.9" cy="507.1" r="3.15" fill="#f01010"/><circle cx="518.6" cy="520.6" r="3.15" fill="#4a86cf"/><circle cx="519.1" cy="562.8" r="3.15" fill="#f01010"/><circle cx="480.7" cy="586.4" r="3.15" fill="#4a86cf"/><circle cx="551.3" cy="507.1" r="3.15" fill="#f01010"/><circle cx="583.5" cy="525.7" r="3.15" fill="#4a86cf"/><circle cx="583.5" cy="562.8" r="3.15" fill="#f01010"/><circle cx="551.3" cy="581.4" r="3.15" fill="#4a86cf"/><circle cx="615.7" cy="507.1" r="3.15" fill="#f01010"/><circle cx="647.9" cy="525.7" r="3.15" fill="#4a86cf"/><circle cx="647.9" cy="562.8" r="3.15" fill="#f01010"/><circle cx="615.7" cy="581.4" r="3.15" fill="#4a86cf"/><circle cx="680.1" cy="507.1" r="3.15" fill="#f01010"/><circle cx="712.3" cy="525.7" r="3.15" fill="#4a86cf"/><circle cx="712.3" cy="562.8" r="3.15" fill="#f01010"/><circle cx="680.1" cy="581.4" r="3.15" fill="#4a86cf"/><circle cx="358.1" cy="618.5" r="3.15" fill="#f01010"/><circle cx="390.3" cy="637.1" r="3.15" fill="#4a86cf"/><circle cx="390.3" cy="674.2" r="3.15" fill="#f01010"/><circle cx="358.1" cy="692.8" r="3.15" fill="#4a86cf"/><circle cx="422.5" cy="618.5" r="3.15" fill="#f01010"/><circle cx="454.7" cy="637.1" r="3.15" fill="#4a86cf"/><circle cx="454.7" cy="674.2" r="3.15" fill="#f01010"/><circle cx="422.5" cy="692.8" r="3.15" fill="#4a86cf"/><circle cx="486.9" cy="618.5" r="3.15" fill="#f01010"/><circle cx="519.1" cy="637.1" r="3.15" fill="#4a86cf"/><circle cx="519.1" cy="674.2" r="3.15" fill="#f01010"/><circle cx="486.9" cy="692.8" r="3.15" fill="#4a86cf"/><circle cx="551.3" cy="618.5" r="3.15" fill="#f01010"/><circle cx="583.5" cy="637.1" r="3.15" fill="#4a86cf"/><circle cx="583.5" cy="674.2" r="3.15" fill="#f01010"/><circle cx="551.3" cy="692.8" r="3.15" fill="#4a86cf"/><circle cx="615.7" cy="618.5" r="3.15" fill="#f01010"/><circle cx="647.9" cy="637.1" r="3.15" fill="#4a86cf"/><circle cx="647.9" cy="674.2" r="3.15" fill="#f01010"/><circle cx="615.7" cy="692.8" r="3.15" fill="#4a86cf"/><circle cx="680.1" cy="618.5" r="3.15" fill="#f01010"/><circle cx="712.3" cy="637.1" r="3.15" fill="#4a86cf"/><circle cx="712.3" cy="674.2" r="3.15" fill="#f01010"/><circle cx="680.1" cy="692.8" r="3.15" fill="#4a86cf"/><circle cx="358.1" cy="729.9" r="3.15" fill="#f01010"/><circle cx="390.3" cy="748.5" r="3.15" fill="#4a86cf"/><circle cx="390.3" cy="785.6" r="3.15" fill="#f01010"/><circle cx="358.1" cy="804.2" r="3.15" fill="#4a86cf"/><circle cx="422.5" cy="729.9" r="3.15" fill="#f01010"/><circle cx="454.7" cy="748.5" r="3.15" fill="#4a86cf"/><circle cx="454.7" cy="785.6" r="3.15" fill="#f01010"/><circle cx="422.5" cy="804.2" r="3.15" fill="#4a86cf"/><circle cx="486.9" cy="729.9" r="3.15" fill="#f01010"/><circle cx="519.1" cy="748.5" r="3.15" fill="#4a86cf"/><circle cx="519.1" cy="785.6" r="3.15" fill="#f01010"/><circle cx="486.9" cy="804.2" r="3.15" fill="#4a86cf"/><circle cx="551.3" cy="729.9" r="3.15" fill="#f01010"/><circle cx="583.5" cy="748.5" r="3.15" fill="#4a86cf"/><circle cx="583.5" cy="785.6" r="3.15" fill="#f01010"/><circle cx="551.3" cy="804.2" r="3.15" fill="#4a86cf"/><circle cx="615.7" cy="729.9" r="3.15" fill="#f01010"/><circle cx="647.9" cy="748.5" r="3.15" fill="#4a86cf"/><circle cx="647.9" cy="785.6" r="3.15" fill="#f01010"/><circle cx="615.7" cy="804.2" r="3.15" fill="#4a86cf"/><circle cx="680.1" cy="729.9" r="3.15" fill="#f01010"/><circle cx="712.3" cy="748.5" r="3.15" fill="#4a86cf"/><circle cx="712.3" cy="785.6" r="3.15" fill="#f01010"/><circle cx="680.1" cy="804.2" r="3.15" fill="#4a86cf"/></g>
<line x1="477" y1="590" x2="486" y2="582" stroke="#1e3c64" stroke-width="6"/>
<line x1="480.7" y1="586.4" x2="489.1" y2="580.9" stroke="#4a86cf" stroke-width="5"/><line x1="489.1" y1="580.9" x2="497.5" y2="575.4" stroke="#f01010" stroke-width="5"/>
<line x1="497.5" y1="575.4" x2="506.4" y2="569.5" stroke="#f01010" stroke-width="4"/><line x1="506.4" y1="569.5" x2="515.2" y2="563.6" stroke="#808080" stroke-width="4"/>
<line x1="515.2" y1="563.6" x2="522.8" y2="556.9" stroke="#808080" stroke-width="4"/><line x1="522.8" y1="556.9" x2="530.4" y2="550.1" stroke="#f01010" stroke-width="4"/>
<circle cx="530.4" cy="550.1" r="8.4" fill="url(#gR)"/>
<circle cx="515.2" cy="563.6" r="8.4" fill="url(#gC)"/>
<circle cx="523.7" cy="551.0" r="7.2" fill="url(#gH)"/>
<circle cx="497.5" cy="575.4" r="8.4" fill="url(#gR)"/>
<text x="410.5" y="750.6" font-size="42" text-anchor="start" >COOH*</text>
<line x1="417.4" y1="848.4" x2="419.9" y2="848.4" stroke="#f01010" stroke-width="9.5"/><line x1="419.9" y1="848.4" x2="436.8" y2="848.4" stroke="#f01010" stroke-width="9.5"/><line x1="436.8" y1="848.4" x2="453.7" y2="848.4" stroke="#4a86cf" stroke-width="9.5"/><line x1="453.7" y1="848.4" x2="470.5" y2="848.4" stroke="#4a86cf" stroke-width="9.5"/><line x1="470.5" y1="848.4" x2="487.4" y2="848.4" stroke="#f01010" stroke-width="9.5"/><line x1="487.4" y1="848.4" x2="504.7" y2="848.4" stroke="#f01010" stroke-width="9.5"/><line x1="504.7" y1="848.4" x2="522.0" y2="848.4" stroke="#4a86cf" stroke-width="9.5"/><line x1="522.0" y1="848.4" x2="539.2" y2="848.4" stroke="#4a86cf" stroke-width="9.5"/><line x1="539.2" y1="848.4" x2="556.5" y2="848.4" stroke="#f01010" stroke-width="9.5"/><line x1="556.5" y1="848.4" x2="573.0" y2="848.4" stroke="#f01010" stroke-width="9.5"/><line x1="573.0" y1="848.4" x2="589.4" y2="848.4" stroke="#4a86cf" stroke-width="9.5"/><line x1="589.4" y1="848.4" x2="606.7" y2="848.4" stroke="#4a86cf" stroke-width="9.5"/><line x1="606.7" y1="848.4" x2="624.0" y2="848.4" stroke="#f01010" stroke-width="9.5"/><line x1="624.0" y1="848.4" x2="635.8" y2="848.4" stroke="#f01010" stroke-width="9.5"/><line x1="417.4" y1="894.8" x2="419.9" y2="894.8" stroke="#4a86cf" stroke-width="9.5"/><line x1="419.9" y1="894.8" x2="436.8" y2="894.8" stroke="#4a86cf" stroke-width="9.5"/><line x1="436.8" y1="894.8" x2="453.7" y2="894.8" stroke="#f01010" stroke-width="9.5"/><line x1="453.7" y1="894.8" x2="470.5" y2="894.8" stroke="#f01010" stroke-width="9.5"/><line x1="470.5" y1="894.8" x2="487.4" y2="894.8" stroke="#4a86cf" stroke-width="9.5"/><line x1="487.4" y1="894.8" x2="504.7" y2="894.8" stroke="#4a86cf" stroke-width="9.5"/><line x1="504.7" y1="894.8" x2="522.0" y2="894.8" stroke="#f01010" stroke-width="9.5"/><line x1="522.0" y1="894.8" x2="539.2" y2="894.8" stroke="#f01010" stroke-width="9.5"/><line x1="539.2" y1="894.8" x2="556.5" y2="894.8" stroke="#4a86cf" stroke-width="9.5"/><line x1="556.5" y1="894.8" x2="573.0" y2="894.8" stroke="#4a86cf" stroke-width="9.5"/><line x1="573.0" y1="894.8" x2="589.4" y2="894.8" stroke="#f01010" stroke-width="9.5"/><line x1="589.4" y1="894.8" x2="606.7" y2="894.8" stroke="#f01010" stroke-width="9.5"/><line x1="606.7" y1="894.8" x2="624.0" y2="894.8" stroke="#4a86cf" stroke-width="9.5"/><line x1="624.0" y1="894.8" x2="635.8" y2="894.8" stroke="#4a86cf" stroke-width="9.5"/><line x1="419.9" y1="847.6" x2="419.9" y2="870.8" stroke="#f01010" stroke-width="7.0"/><line x1="419.9" y1="870.8" x2="419.9" y2="894.0" stroke="#4a86cf" stroke-width="7.0"/><line x1="419.9" y1="894.0" x2="419.9" y2="917.2" stroke="#4a86cf" stroke-width="7.0"/><line x1="419.9" y1="917.2" x2="419.9" y2="926.8" stroke="#f01010" stroke-width="7.0"/><line x1="453.7" y1="847.6" x2="453.7" y2="870.8" stroke="#4a86cf" stroke-width="7.0"/><line x1="453.7" y1="870.8" x2="453.7" y2="894.0" stroke="#f01010" stroke-width="7.0"/><line x1="453.7" y1="894.0" x2="453.7" y2="917.2" stroke="#f01010" stroke-width="7.0"/><line x1="453.7" y1="917.2" x2="453.7" y2="926.8" stroke="#4a86cf" stroke-width="7.0"/><line x1="487.4" y1="847.6" x2="487.4" y2="870.8" stroke="#f01010" stroke-width="7.0"/><line x1="487.4" y1="870.8" x2="487.4" y2="894.0" stroke="#4a86cf" stroke-width="7.0"/><line x1="487.4" y1="894.0" x2="487.4" y2="917.2" stroke="#4a86cf" stroke-width="7.0"/><line x1="487.4" y1="917.2" x2="487.4" y2="926.8" stroke="#f01010" stroke-width="7.0"/><line x1="522.0" y1="847.6" x2="522.0" y2="870.8" stroke="#4a86cf" stroke-width="7.0"/><line x1="522.0" y1="870.8" x2="522.0" y2="894.0" stroke="#f01010" stroke-width="7.0"/><line x1="522.0" y1="894.0" x2="522.0" y2="917.2" stroke="#f01010" stroke-width="7.0"/><line x1="522.0" y1="917.2" x2="522.0" y2="926.8" stroke="#4a86cf" stroke-width="7.0"/><line x1="556.5" y1="847.6" x2="556.5" y2="870.8" stroke="#f01010" stroke-width="7.0"/><line x1="556.5" y1="870.8" x2="556.5" y2="894.0" stroke="#4a86cf" stroke-width="7.0"/><line x1="556.5" y1="894.0" x2="556.5" y2="917.2" stroke="#4a86cf" stroke-width="7.0"/><line x1="556.5" y1="917.2" x2="556.5" y2="926.8" stroke="#f01010" stroke-width="7.0"/><line x1="589.4" y1="847.6" x2="589.4" y2="870.8" stroke="#4a86cf" stroke-width="7.0"/><line x1="589.4" y1="870.8" x2="589.4" y2="894.0" stroke="#f01010" stroke-width="7.0"/><line x1="589.4" y1="894.0" x2="589.4" y2="917.2" stroke="#f01010" stroke-width="7.0"/><line x1="589.4" y1="917.2" x2="589.4" y2="926.8" stroke="#4a86cf" stroke-width="7.0"/><line x1="624.0" y1="847.6" x2="624.0" y2="870.8" stroke="#f01010" stroke-width="7.0"/><line x1="624.0" y1="870.8" x2="624.0" y2="894.0" stroke="#4a86cf" stroke-width="7.0"/><line x1="624.0" y1="894.0" x2="624.0" y2="917.2" stroke="#4a86cf" stroke-width="7.0"/><line x1="624.0" y1="917.2" x2="624.0" y2="926.8" stroke="#f01010" stroke-width="7.0"/>
<line x1="498.4" y1="802.9" x2="489.1" y2="820.6" stroke="#f01010" stroke-width="6"/><line x1="489.1" y1="820.6" x2="479.8" y2="838.3" stroke="#4a86cf" stroke-width="6"/>
<line x1="479.8" y1="838.3" x2="467.4" y2="843.1" stroke="#4a86cf" stroke-width="6"/><line x1="467.4" y1="843.1" x2="455.0" y2="848.0" stroke="#4a86cf" stroke-width="6"/>
<line x1="517.8" y1="811.3" x2="520.8" y2="827.1" stroke="#808080" stroke-width="6"/><line x1="520.8" y1="827.1" x2="523.7" y2="843.0" stroke="#f01010" stroke-width="6"/>
<line x1="498.4" y1="802.9" x2="508.1" y2="807.1" stroke="#f01010" stroke-width="5"/><line x1="508.1" y1="807.1" x2="517.8" y2="811.3" stroke="#808080" stroke-width="5"/>
<line x1="517.8" y1="811.3" x2="525.8" y2="802.0" stroke="#808080" stroke-width="5"/><line x1="525.8" y1="802.0" x2="533.8" y2="792.8" stroke="#f01010" stroke-width="5"/>
<line x1="533.8" y1="792.8" x2="529.5" y2="783.5" stroke="#f01010" stroke-width="5"/><line x1="529.5" y1="783.5" x2="525.3" y2="774.2" stroke="#e0e0e0" stroke-width="5"/>
<circle cx="525.3" cy="774.2" r="10" fill="url(#gH)"/>
<circle cx="533.8" cy="792.8" r="9.5" fill="url(#gR)"/>
<circle cx="517.8" cy="811.3" r="9.3" fill="url(#gC)"/>
<circle cx="498.4" cy="802.9" r="9.5" fill="url(#gR)"/>
<g clip-path="url(#clipB3)"><line x1="368.6" y1="915.8" x2="385.1" y2="925.1" stroke="#4a86cf" stroke-width="6.3"/><line x1="385.1" y1="925.1" x2="401.5" y2="934.4" stroke="#f01010" stroke-width="6.3"/><line x1="368.6" y1="915.8" x2="352.2" y2="925.1" stroke="#4a86cf" stroke-width="6.3"/><line x1="352.2" y1="925.1" x2="335.7" y2="934.4" stroke="#f01010" stroke-width="6.3"/><line x1="401.5" y1="934.4" x2="401.5" y2="953.3" stroke="#f01010" stroke-width="6.3"/><line x1="401.5" y1="953.3" x2="401.5" y2="972.2" stroke="#4a86cf" stroke-width="6.3"/><line x1="401.5" y1="972.2" x2="385.1" y2="981.5" stroke="#4a86cf" stroke-width="6.3"/><line x1="385.1" y1="981.5" x2="368.6" y2="990.8" stroke="#f01010" stroke-width="6.3"/><line x1="401.5" y1="972.2" x2="418.0" y2="981.5" stroke="#4a86cf" stroke-width="6.3"/><line x1="418.0" y1="981.5" x2="434.4" y2="990.8" stroke="#f01010" stroke-width="6.3"/><line x1="368.6" y1="990.8" x2="368.6" y2="1009.7" stroke="#f01010" stroke-width="6.3"/><line x1="368.6" y1="1009.7" x2="368.6" y2="1028.6" stroke="#4a86cf" stroke-width="6.3"/><line x1="434.4" y1="915.8" x2="450.9" y2="925.1" stroke="#4a86cf" stroke-width="6.3"/><line x1="450.9" y1="925.1" x2="467.3" y2="934.4" stroke="#f01010" stroke-width="6.3"/><line x1="434.4" y1="915.8" x2="418.0" y2="925.1" stroke="#4a86cf" stroke-width="6.3"/><line x1="418.0" y1="925.1" x2="401.5" y2="934.4" stroke="#f01010" stroke-width="6.3"/><line x1="467.3" y1="934.4" x2="467.3" y2="953.3" stroke="#f01010" stroke-width="6.3"/><line x1="467.3" y1="953.3" x2="467.3" y2="972.2" stroke="#4a86cf" stroke-width="6.3"/><line x1="467.3" y1="972.2" x2="450.9" y2="981.5" stroke="#4a86cf" stroke-width="6.3"/><line x1="450.9" y1="981.5" x2="434.4" y2="990.8" stroke="#f01010" stroke-width="6.3"/><line x1="467.3" y1="972.2" x2="483.8" y2="981.5" stroke="#4a86cf" stroke-width="6.3"/><line x1="483.8" y1="981.5" x2="500.2" y2="990.8" stroke="#f01010" stroke-width="6.3"/><line x1="434.4" y1="990.8" x2="434.4" y2="1009.7" stroke="#f01010" stroke-width="6.3"/><line x1="434.4" y1="1009.7" x2="434.4" y2="1028.6" stroke="#4a86cf" stroke-width="6.3"/><line x1="500.2" y1="915.8" x2="516.7" y2="925.1" stroke="#4a86cf" stroke-width="6.3"/><line x1="516.7" y1="925.1" x2="533.1" y2="934.4" stroke="#f01010" stroke-width="6.3"/><line x1="500.2" y1="915.8" x2="483.8" y2="925.1" stroke="#4a86cf" stroke-width="6.3"/><line x1="483.8" y1="925.1" x2="467.3" y2="934.4" stroke="#f01010" stroke-width="6.3"/><line x1="533.1" y1="934.4" x2="533.1" y2="953.3" stroke="#f01010" stroke-width="6.3"/><line x1="533.1" y1="953.3" x2="533.1" y2="972.2" stroke="#4a86cf" stroke-width="6.3"/><line x1="533.1" y1="972.2" x2="516.7" y2="981.5" stroke="#4a86cf" stroke-width="6.3"/><line x1="516.7" y1="981.5" x2="500.2" y2="990.8" stroke="#f01010" stroke-width="6.3"/><line x1="533.1" y1="972.2" x2="549.5" y2="981.5" stroke="#4a86cf" stroke-width="6.3"/><line x1="549.5" y1="981.5" x2="566.0" y2="990.8" stroke="#f01010" stroke-width="6.3"/><line x1="500.2" y1="990.8" x2="500.2" y2="1009.7" stroke="#f01010" stroke-width="6.3"/><line x1="500.2" y1="1009.7" x2="500.2" y2="1028.6" stroke="#4a86cf" stroke-width="6.3"/><line x1="566.0" y1="915.8" x2="582.5" y2="925.1" stroke="#4a86cf" stroke-width="6.3"/><line x1="582.5" y1="925.1" x2="598.9" y2="934.4" stroke="#f01010" stroke-width="6.3"/><line x1="566.0" y1="915.8" x2="549.5" y2="925.1" stroke="#4a86cf" stroke-width="6.3"/><line x1="549.5" y1="925.1" x2="533.1" y2="934.4" stroke="#f01010" stroke-width="6.3"/><line x1="598.9" y1="934.4" x2="598.9" y2="953.3" stroke="#f01010" stroke-width="6.3"/><line x1="598.9" y1="953.3" x2="598.9" y2="972.2" stroke="#4a86cf" stroke-width="6.3"/><line x1="598.9" y1="972.2" x2="582.5" y2="981.5" stroke="#4a86cf" stroke-width="6.3"/><line x1="582.5" y1="981.5" x2="566.0" y2="990.8" stroke="#f01010" stroke-width="6.3"/><line x1="598.9" y1="972.2" x2="615.3" y2="981.5" stroke="#4a86cf" stroke-width="6.3"/><line x1="615.3" y1="981.5" x2="631.8" y2="990.8" stroke="#f01010" stroke-width="6.3"/><line x1="566.0" y1="990.8" x2="566.0" y2="1009.7" stroke="#f01010" stroke-width="6.3"/><line x1="566.0" y1="1009.7" x2="566.0" y2="1028.6" stroke="#4a86cf" stroke-width="6.3"/><line x1="631.8" y1="915.8" x2="648.2" y2="925.1" stroke="#4a86cf" stroke-width="6.3"/><line x1="648.2" y1="925.1" x2="664.7" y2="934.4" stroke="#f01010" stroke-width="6.3"/><line x1="631.8" y1="915.8" x2="615.3" y2="925.1" stroke="#4a86cf" stroke-width="6.3"/><line x1="615.3" y1="925.1" x2="598.9" y2="934.4" stroke="#f01010" stroke-width="6.3"/><line x1="664.7" y1="934.4" x2="664.7" y2="953.3" stroke="#f01010" stroke-width="6.3"/><line x1="664.7" y1="953.3" x2="664.7" y2="972.2" stroke="#4a86cf" stroke-width="6.3"/><line x1="664.7" y1="972.2" x2="648.2" y2="981.5" stroke="#4a86cf" stroke-width="6.3"/><line x1="648.2" y1="981.5" x2="631.8" y2="990.8" stroke="#f01010" stroke-width="6.3"/><line x1="664.7" y1="972.2" x2="681.1" y2="981.5" stroke="#4a86cf" stroke-width="6.3"/><line x1="681.1" y1="981.5" x2="697.6" y2="990.8" stroke="#f01010" stroke-width="6.3"/><line x1="631.8" y1="990.8" x2="631.8" y2="1009.7" stroke="#f01010" stroke-width="6.3"/><line x1="631.8" y1="1009.7" x2="631.8" y2="1028.6" stroke="#4a86cf" stroke-width="6.3"/><line x1="697.6" y1="915.8" x2="714.0" y2="925.1" stroke="#4a86cf" stroke-width="6.3"/><line x1="714.0" y1="925.1" x2="730.5" y2="934.4" stroke="#f01010" stroke-width="6.3"/><line x1="697.6" y1="915.8" x2="681.1" y2="925.1" stroke="#4a86cf" stroke-width="6.3"/><line x1="681.1" y1="925.1" x2="664.7" y2="934.4" stroke="#f01010" stroke-width="6.3"/><line x1="730.5" y1="934.4" x2="730.5" y2="953.3" stroke="#f01010" stroke-width="6.3"/><line x1="730.5" y1="953.3" x2="730.5" y2="972.2" stroke="#4a86cf" stroke-width="6.3"/><line x1="730.5" y1="972.2" x2="714.0" y2="981.5" stroke="#4a86cf" stroke-width="6.3"/><line x1="714.0" y1="981.5" x2="697.6" y2="990.8" stroke="#f01010" stroke-width="6.3"/><line x1="730.5" y1="972.2" x2="746.9" y2="981.5" stroke="#4a86cf" stroke-width="6.3"/><line x1="746.9" y1="981.5" x2="763.4" y2="990.8" stroke="#f01010" stroke-width="6.3"/><line x1="697.6" y1="990.8" x2="697.6" y2="1009.7" stroke="#f01010" stroke-width="6.3"/><line x1="697.6" y1="1009.7" x2="697.6" y2="1028.6" stroke="#4a86cf" stroke-width="6.3"/><line x1="368.6" y1="1028.6" x2="385.1" y2="1037.9" stroke="#4a86cf" stroke-width="6.3"/><line x1="385.1" y1="1037.9" x2="401.5" y2="1047.2" stroke="#f01010" stroke-width="6.3"/><line x1="368.6" y1="1028.6" x2="352.2" y2="1037.9" stroke="#4a86cf" stroke-width="6.3"/><line x1="352.2" y1="1037.9" x2="335.7" y2="1047.2" stroke="#f01010" stroke-width="6.3"/><line x1="401.5" y1="1047.2" x2="401.5" y2="1066.1" stroke="#f01010" stroke-width="6.3"/><line x1="401.5" y1="1066.1" x2="401.5" y2="1085.0" stroke="#4a86cf" stroke-width="6.3"/><line x1="401.5" y1="1085.0" x2="385.1" y2="1094.3" stroke="#4a86cf" stroke-width="6.3"/><line x1="385.1" y1="1094.3" x2="368.6" y2="1103.6" stroke="#f01010" stroke-width="6.3"/><line x1="401.5" y1="1085.0" x2="418.0" y2="1094.3" stroke="#4a86cf" stroke-width="6.3"/><line x1="418.0" y1="1094.3" x2="434.4" y2="1103.6" stroke="#f01010" stroke-width="6.3"/><line x1="368.6" y1="1103.6" x2="368.6" y2="1122.5" stroke="#f01010" stroke-width="6.3"/><line x1="368.6" y1="1122.5" x2="368.6" y2="1141.4" stroke="#4a86cf" stroke-width="6.3"/><line x1="434.4" y1="1028.6" x2="450.9" y2="1037.9" stroke="#4a86cf" stroke-width="6.3"/><line x1="450.9" y1="1037.9" x2="467.3" y2="1047.2" stroke="#f01010" stroke-width="6.3"/><line x1="434.4" y1="1028.6" x2="418.0" y2="1037.9" stroke="#4a86cf" stroke-width="6.3"/><line x1="418.0" y1="1037.9" x2="401.5" y2="1047.2" stroke="#f01010" stroke-width="6.3"/><line x1="467.3" y1="1047.2" x2="467.3" y2="1066.1" stroke="#f01010" stroke-width="6.3"/><line x1="467.3" y1="1066.1" x2="467.3" y2="1085.0" stroke="#4a86cf" stroke-width="6.3"/><line x1="467.3" y1="1085.0" x2="450.9" y2="1094.3" stroke="#4a86cf" stroke-width="6.3"/><line x1="450.9" y1="1094.3" x2="434.4" y2="1103.6" stroke="#f01010" stroke-width="6.3"/><line x1="467.3" y1="1085.0" x2="483.8" y2="1094.3" stroke="#4a86cf" stroke-width="6.3"/><line x1="483.8" y1="1094.3" x2="500.2" y2="1103.6" stroke="#f01010" stroke-width="6.3"/><line x1="434.4" y1="1103.6" x2="434.4" y2="1122.5" stroke="#f01010" stroke-width="6.3"/><line x1="434.4" y1="1122.5" x2="434.4" y2="1141.4" stroke="#4a86cf" stroke-width="6.3"/><line x1="500.2" y1="1028.6" x2="516.7" y2="1037.9" stroke="#4a86cf" stroke-width="6.3"/><line x1="516.7" y1="1037.9" x2="533.1" y2="1047.2" stroke="#f01010" stroke-width="6.3"/><line x1="500.2" y1="1028.6" x2="483.8" y2="1037.9" stroke="#4a86cf" stroke-width="6.3"/><line x1="483.8" y1="1037.9" x2="467.3" y2="1047.2" stroke="#f01010" stroke-width="6.3"/><line x1="533.1" y1="1047.2" x2="533.1" y2="1066.1" stroke="#f01010" stroke-width="6.3"/><line x1="533.1" y1="1066.1" x2="533.1" y2="1085.0" stroke="#4a86cf" stroke-width="6.3"/><line x1="533.1" y1="1085.0" x2="516.7" y2="1094.3" stroke="#4a86cf" stroke-width="6.3"/><line x1="516.7" y1="1094.3" x2="500.2" y2="1103.6" stroke="#f01010" stroke-width="6.3"/><line x1="533.1" y1="1085.0" x2="549.5" y2="1094.3" stroke="#4a86cf" stroke-width="6.3"/><line x1="549.5" y1="1094.3" x2="566.0" y2="1103.6" stroke="#f01010" stroke-width="6.3"/><line x1="500.2" y1="1103.6" x2="500.2" y2="1122.5" stroke="#f01010" stroke-width="6.3"/><line x1="500.2" y1="1122.5" x2="500.2" y2="1141.4" stroke="#4a86cf" stroke-width="6.3"/><line x1="566.0" y1="1028.6" x2="582.5" y2="1037.9" stroke="#4a86cf" stroke-width="6.3"/><line x1="582.5" y1="1037.9" x2="598.9" y2="1047.2" stroke="#f01010" stroke-width="6.3"/><line x1="566.0" y1="1028.6" x2="549.5" y2="1037.9" stroke="#4a86cf" stroke-width="6.3"/><line x1="549.5" y1="1037.9" x2="533.1" y2="1047.2" stroke="#f01010" stroke-width="6.3"/><line x1="598.9" y1="1047.2" x2="598.9" y2="1066.1" stroke="#f01010" stroke-width="6.3"/><line x1="598.9" y1="1066.1" x2="598.9" y2="1085.0" stroke="#4a86cf" stroke-width="6.3"/><line x1="598.9" y1="1085.0" x2="582.5" y2="1094.3" stroke="#4a86cf" stroke-width="6.3"/><line x1="582.5" y1="1094.3" x2="566.0" y2="1103.6" stroke="#f01010" stroke-width="6.3"/><line x1="598.9" y1="1085.0" x2="615.3" y2="1094.3" stroke="#4a86cf" stroke-width="6.3"/><line x1="615.3" y1="1094.3" x2="631.8" y2="1103.6" stroke="#f01010" stroke-width="6.3"/><line x1="566.0" y1="1103.6" x2="566.0" y2="1122.5" stroke="#f01010" stroke-width="6.3"/><line x1="566.0" y1="1122.5" x2="566.0" y2="1141.4" stroke="#4a86cf" stroke-width="6.3"/><line x1="631.8" y1="1028.6" x2="648.2" y2="1037.9" stroke="#4a86cf" stroke-width="6.3"/><line x1="648.2" y1="1037.9" x2="664.7" y2="1047.2" stroke="#f01010" stroke-width="6.3"/><line x1="631.8" y1="1028.6" x2="615.3" y2="1037.9" stroke="#4a86cf" stroke-width="6.3"/><line x1="615.3" y1="1037.9" x2="598.9" y2="1047.2" stroke="#f01010" stroke-width="6.3"/><line x1="664.7" y1="1047.2" x2="664.7" y2="1066.1" stroke="#f01010" stroke-width="6.3"/><line x1="664.7" y1="1066.1" x2="664.7" y2="1085.0" stroke="#4a86cf" stroke-width="6.3"/><line x1="664.7" y1="1085.0" x2="648.2" y2="1094.3" stroke="#4a86cf" stroke-width="6.3"/><line x1="648.2" y1="1094.3" x2="631.8" y2="1103.6" stroke="#f01010" stroke-width="6.3"/><line x1="664.7" y1="1085.0" x2="681.1" y2="1094.3" stroke="#4a86cf" stroke-width="6.3"/><line x1="681.1" y1="1094.3" x2="697.6" y2="1103.6" stroke="#f01010" stroke-width="6.3"/><line x1="631.8" y1="1103.6" x2="631.8" y2="1122.5" stroke="#f01010" stroke-width="6.3"/><line x1="631.8" y1="1122.5" x2="631.8" y2="1141.4" stroke="#4a86cf" stroke-width="6.3"/><line x1="697.6" y1="1028.6" x2="714.0" y2="1037.9" stroke="#4a86cf" stroke-width="6.3"/><line x1="714.0" y1="1037.9" x2="730.5" y2="1047.2" stroke="#f01010" stroke-width="6.3"/><line x1="697.6" y1="1028.6" x2="681.1" y2="1037.9" stroke="#4a86cf" stroke-width="6.3"/><line x1="681.1" y1="1037.9" x2="664.7" y2="1047.2" stroke="#f01010" stroke-width="6.3"/><line x1="730.5" y1="1047.2" x2="730.5" y2="1066.1" stroke="#f01010" stroke-width="6.3"/><line x1="730.5" y1="1066.1" x2="730.5" y2="1085.0" stroke="#4a86cf" stroke-width="6.3"/><line x1="730.5" y1="1085.0" x2="714.0" y2="1094.3" stroke="#4a86cf" stroke-width="6.3"/><line x1="714.0" y1="1094.3" x2="697.6" y2="1103.6" stroke="#f01010" stroke-width="6.3"/><line x1="730.5" y1="1085.0" x2="746.9" y2="1094.3" stroke="#4a86cf" stroke-width="6.3"/><line x1="746.9" y1="1094.3" x2="763.4" y2="1103.6" stroke="#f01010" stroke-width="6.3"/><line x1="697.6" y1="1103.6" x2="697.6" y2="1122.5" stroke="#f01010" stroke-width="6.3"/><line x1="697.6" y1="1122.5" x2="697.6" y2="1141.4" stroke="#4a86cf" stroke-width="6.3"/><line x1="368.6" y1="1141.4" x2="385.1" y2="1150.7" stroke="#4a86cf" stroke-width="6.3"/><line x1="385.1" y1="1150.7" x2="401.5" y2="1160.0" stroke="#f01010" stroke-width="6.3"/><line x1="368.6" y1="1141.4" x2="352.2" y2="1150.7" stroke="#4a86cf" stroke-width="6.3"/><line x1="352.2" y1="1150.7" x2="335.7" y2="1160.0" stroke="#f01010" stroke-width="6.3"/><line x1="401.5" y1="1160.0" x2="401.5" y2="1178.9" stroke="#f01010" stroke-width="6.3"/><line x1="401.5" y1="1178.9" x2="401.5" y2="1197.8" stroke="#4a86cf" stroke-width="6.3"/><line x1="401.5" y1="1197.8" x2="385.1" y2="1207.1" stroke="#4a86cf" stroke-width="6.3"/><line x1="385.1" y1="1207.1" x2="368.6" y2="1216.4" stroke="#f01010" stroke-width="6.3"/><line x1="401.5" y1="1197.8" x2="418.0" y2="1207.1" stroke="#4a86cf" stroke-width="6.3"/><line x1="418.0" y1="1207.1" x2="434.4" y2="1216.4" stroke="#f01010" stroke-width="6.3"/><line x1="368.6" y1="1216.4" x2="368.6" y2="1235.3" stroke="#f01010" stroke-width="6.3"/><line x1="368.6" y1="1235.3" x2="368.6" y2="1254.2" stroke="#4a86cf" stroke-width="6.3"/><line x1="434.4" y1="1141.4" x2="450.9" y2="1150.7" stroke="#4a86cf" stroke-width="6.3"/><line x1="450.9" y1="1150.7" x2="467.3" y2="1160.0" stroke="#f01010" stroke-width="6.3"/><line x1="434.4" y1="1141.4" x2="418.0" y2="1150.7" stroke="#4a86cf" stroke-width="6.3"/><line x1="418.0" y1="1150.7" x2="401.5" y2="1160.0" stroke="#f01010" stroke-width="6.3"/><line x1="467.3" y1="1160.0" x2="467.3" y2="1178.9" stroke="#f01010" stroke-width="6.3"/><line x1="467.3" y1="1178.9" x2="467.3" y2="1197.8" stroke="#4a86cf" stroke-width="6.3"/><line x1="467.3" y1="1197.8" x2="450.9" y2="1207.1" stroke="#4a86cf" stroke-width="6.3"/><line x1="450.9" y1="1207.1" x2="434.4" y2="1216.4" stroke="#f01010" stroke-width="6.3"/><line x1="467.3" y1="1197.8" x2="483.8" y2="1207.1" stroke="#4a86cf" stroke-width="6.3"/><line x1="483.8" y1="1207.1" x2="500.2" y2="1216.4" stroke="#f01010" stroke-width="6.3"/><line x1="434.4" y1="1216.4" x2="434.4" y2="1235.3" stroke="#f01010" stroke-width="6.3"/><line x1="434.4" y1="1235.3" x2="434.4" y2="1254.2" stroke="#4a86cf" stroke-width="6.3"/><line x1="500.2" y1="1141.4" x2="516.7" y2="1150.7" stroke="#4a86cf" stroke-width="6.3"/><line x1="516.7" y1="1150.7" x2="533.1" y2="1160.0" stroke="#f01010" stroke-width="6.3"/><line x1="500.2" y1="1141.4" x2="483.8" y2="1150.7" stroke="#4a86cf" stroke-width="6.3"/><line x1="483.8" y1="1150.7" x2="467.3" y2="1160.0" stroke="#f01010" stroke-width="6.3"/><line x1="533.1" y1="1160.0" x2="533.1" y2="1178.9" stroke="#f01010" stroke-width="6.3"/><line x1="533.1" y1="1178.9" x2="533.1" y2="1197.8" stroke="#4a86cf" stroke-width="6.3"/><line x1="533.1" y1="1197.8" x2="516.7" y2="1207.1" stroke="#4a86cf" stroke-width="6.3"/><line x1="516.7" y1="1207.1" x2="500.2" y2="1216.4" stroke="#f01010" stroke-width="6.3"/><line x1="533.1" y1="1197.8" x2="549.5" y2="1207.1" stroke="#4a86cf" stroke-width="6.3"/><line x1="549.5" y1="1207.1" x2="566.0" y2="1216.4" stroke="#f01010" stroke-width="6.3"/><line x1="500.2" y1="1216.4" x2="500.2" y2="1235.3" stroke="#f01010" stroke-width="6.3"/><line x1="500.2" y1="1235.3" x2="500.2" y2="1254.2" stroke="#4a86cf" stroke-width="6.3"/><line x1="566.0" y1="1141.4" x2="582.5" y2="1150.7" stroke="#4a86cf" stroke-width="6.3"/><line x1="582.5" y1="1150.7" x2="598.9" y2="1160.0" stroke="#f01010" stroke-width="6.3"/><line x1="566.0" y1="1141.4" x2="549.5" y2="1150.7" stroke="#4a86cf" stroke-width="6.3"/><line x1="549.5" y1="1150.7" x2="533.1" y2="1160.0" stroke="#f01010" stroke-width="6.3"/><line x1="598.9" y1="1160.0" x2="598.9" y2="1178.9" stroke="#f01010" stroke-width="6.3"/><line x1="598.9" y1="1178.9" x2="598.9" y2="1197.8" stroke="#4a86cf" stroke-width="6.3"/><line x1="598.9" y1="1197.8" x2="582.5" y2="1207.1" stroke="#4a86cf" stroke-width="6.3"/><line x1="582.5" y1="1207.1" x2="566.0" y2="1216.4" stroke="#f01010" stroke-width="6.3"/><line x1="598.9" y1="1197.8" x2="615.3" y2="1207.1" stroke="#4a86cf" stroke-width="6.3"/><line x1="615.3" y1="1207.1" x2="631.8" y2="1216.4" stroke="#f01010" stroke-width="6.3"/><line x1="566.0" y1="1216.4" x2="566.0" y2="1235.3" stroke="#f01010" stroke-width="6.3"/><line x1="566.0" y1="1235.3" x2="566.0" y2="1254.2" stroke="#4a86cf" stroke-width="6.3"/><line x1="631.8" y1="1141.4" x2="648.2" y2="1150.7" stroke="#4a86cf" stroke-width="6.3"/><line x1="648.2" y1="1150.7" x2="664.7" y2="1160.0" stroke="#f01010" stroke-width="6.3"/><line x1="631.8" y1="1141.4" x2="615.3" y2="1150.7" stroke="#4a86cf" stroke-width="6.3"/><line x1="615.3" y1="1150.7" x2="598.9" y2="1160.0" stroke="#f01010" stroke-width="6.3"/><line x1="664.7" y1="1160.0" x2="664.7" y2="1178.9" stroke="#f01010" stroke-width="6.3"/><line x1="664.7" y1="1178.9" x2="664.7" y2="1197.8" stroke="#4a86cf" stroke-width="6.3"/><line x1="664.7" y1="1197.8" x2="648.2" y2="1207.1" stroke="#4a86cf" stroke-width="6.3"/><line x1="648.2" y1="1207.1" x2="631.8" y2="1216.4" stroke="#f01010" stroke-width="6.3"/><line x1="664.7" y1="1197.8" x2="681.1" y2="1207.1" stroke="#4a86cf" stroke-width="6.3"/><line x1="681.1" y1="1207.1" x2="697.6" y2="1216.4" stroke="#f01010" stroke-width="6.3"/><line x1="631.8" y1="1216.4" x2="631.8" y2="1235.3" stroke="#f01010" stroke-width="6.3"/><line x1="631.8" y1="1235.3" x2="631.8" y2="1254.2" stroke="#4a86cf" stroke-width="6.3"/><line x1="697.6" y1="1141.4" x2="714.0" y2="1150.7" stroke="#4a86cf" stroke-width="6.3"/><line x1="714.0" y1="1150.7" x2="730.5" y2="1160.0" stroke="#f01010" stroke-width="6.3"/><line x1="697.6" y1="1141.4" x2="681.1" y2="1150.7" stroke="#4a86cf" stroke-width="6.3"/><line x1="681.1" y1="1150.7" x2="664.7" y2="1160.0" stroke="#f01010" stroke-width="6.3"/><line x1="730.5" y1="1160.0" x2="730.5" y2="1178.9" stroke="#f01010" stroke-width="6.3"/><line x1="730.5" y1="1178.9" x2="730.5" y2="1197.8" stroke="#4a86cf" stroke-width="6.3"/><line x1="730.5" y1="1197.8" x2="714.0" y2="1207.1" stroke="#4a86cf" stroke-width="6.3"/><line x1="714.0" y1="1207.1" x2="697.6" y2="1216.4" stroke="#f01010" stroke-width="6.3"/><line x1="730.5" y1="1197.8" x2="746.9" y2="1207.1" stroke="#4a86cf" stroke-width="6.3"/><line x1="746.9" y1="1207.1" x2="763.4" y2="1216.4" stroke="#f01010" stroke-width="6.3"/><line x1="697.6" y1="1216.4" x2="697.6" y2="1235.3" stroke="#f01010" stroke-width="6.3"/><line x1="697.6" y1="1235.3" x2="697.6" y2="1254.2" stroke="#4a86cf" stroke-width="6.3"/><line x1="368.6" y1="1254.2" x2="385.1" y2="1263.5" stroke="#4a86cf" stroke-width="6.3"/><line x1="385.1" y1="1263.5" x2="401.5" y2="1272.8" stroke="#f01010" stroke-width="6.3"/><line x1="368.6" y1="1254.2" x2="352.2" y2="1263.5" stroke="#4a86cf" stroke-width="6.3"/><line x1="352.2" y1="1263.5" x2="335.7" y2="1272.8" stroke="#f01010" stroke-width="6.3"/><line x1="401.5" y1="1272.8" x2="401.5" y2="1291.7" stroke="#f01010" stroke-width="6.3"/><line x1="401.5" y1="1291.7" x2="401.5" y2="1310.6" stroke="#4a86cf" stroke-width="6.3"/><line x1="401.5" y1="1310.6" x2="385.1" y2="1319.9" stroke="#4a86cf" stroke-width="6.3"/><line x1="385.1" y1="1319.9" x2="368.6" y2="1329.2" stroke="#f01010" stroke-width="6.3"/><line x1="401.5" y1="1310.6" x2="418.0" y2="1319.9" stroke="#4a86cf" stroke-width="6.3"/><line x1="418.0" y1="1319.9" x2="434.4" y2="1329.2" stroke="#f01010" stroke-width="6.3"/><line x1="368.6" y1="1329.2" x2="368.6" y2="1348.1" stroke="#f01010" stroke-width="6.3"/><line x1="368.6" y1="1348.1" x2="368.6" y2="1367.0" stroke="#4a86cf" stroke-width="6.3"/><line x1="434.4" y1="1254.2" x2="450.9" y2="1263.5" stroke="#4a86cf" stroke-width="6.3"/><line x1="450.9" y1="1263.5" x2="467.3" y2="1272.8" stroke="#f01010" stroke-width="6.3"/><line x1="434.4" y1="1254.2" x2="418.0" y2="1263.5" stroke="#4a86cf" stroke-width="6.3"/><line x1="418.0" y1="1263.5" x2="401.5" y2="1272.8" stroke="#f01010" stroke-width="6.3"/><line x1="467.3" y1="1272.8" x2="467.3" y2="1291.7" stroke="#f01010" stroke-width="6.3"/><line x1="467.3" y1="1291.7" x2="467.3" y2="1310.6" stroke="#4a86cf" stroke-width="6.3"/><line x1="467.3" y1="1310.6" x2="450.9" y2="1319.9" stroke="#4a86cf" stroke-width="6.3"/><line x1="450.9" y1="1319.9" x2="434.4" y2="1329.2" stroke="#f01010" stroke-width="6.3"/><line x1="467.3" y1="1310.6" x2="483.8" y2="1319.9" stroke="#4a86cf" stroke-width="6.3"/><line x1="483.8" y1="1319.9" x2="500.2" y2="1329.2" stroke="#f01010" stroke-width="6.3"/><line x1="434.4" y1="1329.2" x2="434.4" y2="1348.1" stroke="#f01010" stroke-width="6.3"/><line x1="434.4" y1="1348.1" x2="434.4" y2="1367.0" stroke="#4a86cf" stroke-width="6.3"/><line x1="500.2" y1="1254.2" x2="516.7" y2="1263.5" stroke="#4a86cf" stroke-width="6.3"/><line x1="516.7" y1="1263.5" x2="533.1" y2="1272.8" stroke="#f01010" stroke-width="6.3"/><line x1="500.2" y1="1254.2" x2="483.8" y2="1263.5" stroke="#4a86cf" stroke-width="6.3"/><line x1="483.8" y1="1263.5" x2="467.3" y2="1272.8" stroke="#f01010" stroke-width="6.3"/><line x1="533.1" y1="1272.8" x2="533.1" y2="1291.7" stroke="#f01010" stroke-width="6.3"/><line x1="533.1" y1="1291.7" x2="533.1" y2="1310.6" stroke="#4a86cf" stroke-width="6.3"/><line x1="533.1" y1="1310.6" x2="516.7" y2="1319.9" stroke="#4a86cf" stroke-width="6.3"/><line x1="516.7" y1="1319.9" x2="500.2" y2="1329.2" stroke="#f01010" stroke-width="6.3"/><line x1="533.1" y1="1310.6" x2="549.5" y2="1319.9" stroke="#4a86cf" stroke-width="6.3"/><line x1="549.5" y1="1319.9" x2="566.0" y2="1329.2" stroke="#f01010" stroke-width="6.3"/><line x1="500.2" y1="1329.2" x2="500.2" y2="1348.1" stroke="#f01010" stroke-width="6.3"/><line x1="500.2" y1="1348.1" x2="500.2" y2="1367.0" stroke="#4a86cf" stroke-width="6.3"/><line x1="566.0" y1="1254.2" x2="582.5" y2="1263.5" stroke="#4a86cf" stroke-width="6.3"/><line x1="582.5" y1="1263.5" x2="598.9" y2="1272.8" stroke="#f01010" stroke-width="6.3"/><line x1="566.0" y1="1254.2" x2="549.5" y2="1263.5" stroke="#4a86cf" stroke-width="6.3"/><line x1="549.5" y1="1263.5" x2="533.1" y2="1272.8" stroke="#f01010" stroke-width="6.3"/><line x1="598.9" y1="1272.8" x2="598.9" y2="1291.7" stroke="#f01010" stroke-width="6.3"/><line x1="598.9" y1="1291.7" x2="598.9" y2="1310.6" stroke="#4a86cf" stroke-width="6.3"/><line x1="598.9" y1="1310.6" x2="582.5" y2="1319.9" stroke="#4a86cf" stroke-width="6.3"/><line x1="582.5" y1="1319.9" x2="566.0" y2="1329.2" stroke="#f01010" stroke-width="6.3"/><line x1="598.9" y1="1310.6" x2="615.3" y2="1319.9" stroke="#4a86cf" stroke-width="6.3"/><line x1="615.3" y1="1319.9" x2="631.8" y2="1329.2" stroke="#f01010" stroke-width="6.3"/><line x1="566.0" y1="1329.2" x2="566.0" y2="1348.1" stroke="#f01010" stroke-width="6.3"/><line x1="566.0" y1="1348.1" x2="566.0" y2="1367.0" stroke="#4a86cf" stroke-width="6.3"/><line x1="631.8" y1="1254.2" x2="648.2" y2="1263.5" stroke="#4a86cf" stroke-width="6.3"/><line x1="648.2" y1="1263.5" x2="664.7" y2="1272.8" stroke="#f01010" stroke-width="6.3"/><line x1="631.8" y1="1254.2" x2="615.3" y2="1263.5" stroke="#4a86cf" stroke-width="6.3"/><line x1="615.3" y1="1263.5" x2="598.9" y2="1272.8" stroke="#f01010" stroke-width="6.3"/><line x1="664.7" y1="1272.8" x2="664.7" y2="1291.7" stroke="#f01010" stroke-width="6.3"/><line x1="664.7" y1="1291.7" x2="664.7" y2="1310.6" stroke="#4a86cf" stroke-width="6.3"/><line x1="664.7" y1="1310.6" x2="648.2" y2="1319.9" stroke="#4a86cf" stroke-width="6.3"/><line x1="648.2" y1="1319.9" x2="631.8" y2="1329.2" stroke="#f01010" stroke-width="6.3"/><line x1="664.7" y1="1310.6" x2="681.1" y2="1319.9" stroke="#4a86cf" stroke-width="6.3"/><line x1="681.1" y1="1319.9" x2="697.6" y2="1329.2" stroke="#f01010" stroke-width="6.3"/><line x1="631.8" y1="1329.2" x2="631.8" y2="1348.1" stroke="#f01010" stroke-width="6.3"/><line x1="631.8" y1="1348.1" x2="631.8" y2="1367.0" stroke="#4a86cf" stroke-width="6.3"/><line x1="697.6" y1="1254.2" x2="714.0" y2="1263.5" stroke="#4a86cf" stroke-width="6.3"/><line x1="714.0" y1="1263.5" x2="730.5" y2="1272.8" stroke="#f01010" stroke-width="6.3"/><line x1="697.6" y1="1254.2" x2="681.1" y2="1263.5" stroke="#4a86cf" stroke-width="6.3"/><line x1="681.1" y1="1263.5" x2="664.7" y2="1272.8" stroke="#f01010" stroke-width="6.3"/><line x1="730.5" y1="1272.8" x2="730.5" y2="1291.7" stroke="#f01010" stroke-width="6.3"/><line x1="730.5" y1="1291.7" x2="730.5" y2="1310.6" stroke="#4a86cf" stroke-width="6.3"/><line x1="730.5" y1="1310.6" x2="714.0" y2="1319.9" stroke="#4a86cf" stroke-width="6.3"/><line x1="714.0" y1="1319.9" x2="697.6" y2="1329.2" stroke="#f01010" stroke-width="6.3"/><line x1="730.5" y1="1310.6" x2="746.9" y2="1319.9" stroke="#4a86cf" stroke-width="6.3"/><line x1="746.9" y1="1319.9" x2="763.4" y2="1329.2" stroke="#f01010" stroke-width="6.3"/><line x1="697.6" y1="1329.2" x2="697.6" y2="1348.1" stroke="#f01010" stroke-width="6.3"/><line x1="697.6" y1="1348.1" x2="697.6" y2="1367.0" stroke="#4a86cf" stroke-width="6.3"/><circle cx="368.6" cy="915.8" r="3.15" fill="#4a86cf"/><circle cx="401.5" cy="934.4" r="3.15" fill="#f01010"/><circle cx="401.5" cy="972.2" r="3.15" fill="#4a86cf"/><circle cx="368.6" cy="990.8" r="3.15" fill="#f01010"/><circle cx="434.4" cy="915.8" r="3.15" fill="#4a86cf"/><circle cx="467.3" cy="934.4" r="3.15" fill="#f01010"/><circle cx="467.3" cy="972.2" r="3.15" fill="#4a86cf"/><circle cx="434.4" cy="990.8" r="3.15" fill="#f01010"/><circle cx="500.2" cy="915.8" r="3.15" fill="#4a86cf"/><circle cx="533.1" cy="934.4" r="3.15" fill="#f01010"/><circle cx="533.1" cy="972.2" r="3.15" fill="#4a86cf"/><circle cx="500.2" cy="990.8" r="3.15" fill="#f01010"/><circle cx="566.0" cy="915.8" r="3.15" fill="#4a86cf"/><circle cx="598.9" cy="934.4" r="3.15" fill="#f01010"/><circle cx="598.9" cy="972.2" r="3.15" fill="#4a86cf"/><circle cx="566.0" cy="990.8" r="3.15" fill="#f01010"/><circle cx="631.8" cy="915.8" r="3.15" fill="#4a86cf"/><circle cx="664.7" cy="934.4" r="3.15" fill="#f01010"/><circle cx="664.7" cy="972.2" r="3.15" fill="#4a86cf"/><circle cx="631.8" cy="990.8" r="3.15" fill="#f01010"/><circle cx="697.6" cy="915.8" r="3.15" fill="#4a86cf"/><circle cx="730.5" cy="934.4" r="3.15" fill="#f01010"/><circle cx="730.5" cy="972.2" r="3.15" fill="#4a86cf"/><circle cx="697.6" cy="990.8" r="3.15" fill="#f01010"/><circle cx="368.6" cy="1028.6" r="3.15" fill="#4a86cf"/><circle cx="401.5" cy="1047.2" r="3.15" fill="#f01010"/><circle cx="401.5" cy="1085.0" r="3.15" fill="#4a86cf"/><circle cx="368.6" cy="1103.6" r="3.15" fill="#f01010"/><circle cx="434.4" cy="1028.6" r="3.15" fill="#4a86cf"/><circle cx="467.3" cy="1047.2" r="3.15" fill="#f01010"/><circle cx="467.3" cy="1085.0" r="3.15" fill="#4a86cf"/><circle cx="434.4" cy="1103.6" r="3.15" fill="#f01010"/><circle cx="500.2" cy="1028.6" r="3.15" fill="#4a86cf"/><circle cx="533.1" cy="1047.2" r="3.15" fill="#f01010"/><circle cx="533.1" cy="1085.0" r="3.15" fill="#4a86cf"/><circle cx="500.2" cy="1103.6" r="3.15" fill="#f01010"/><circle cx="566.0" cy="1028.6" r="3.15" fill="#4a86cf"/><circle cx="598.9" cy="1047.2" r="3.15" fill="#f01010"/><circle cx="598.9" cy="1085.0" r="3.15" fill="#4a86cf"/><circle cx="566.0" cy="1103.6" r="3.15" fill="#f01010"/><circle cx="631.8" cy="1028.6" r="3.15" fill="#4a86cf"/><circle cx="664.7" cy="1047.2" r="3.15" fill="#f01010"/><circle cx="664.7" cy="1085.0" r="3.15" fill="#4a86cf"/><circle cx="631.8" cy="1103.6" r="3.15" fill="#f01010"/><circle cx="697.6" cy="1028.6" r="3.15" fill="#4a86cf"/><circle cx="730.5" cy="1047.2" r="3.15" fill="#f01010"/><circle cx="730.5" cy="1085.0" r="3.15" fill="#4a86cf"/><circle cx="697.6" cy="1103.6" r="3.15" fill="#f01010"/><circle cx="368.6" cy="1141.4" r="3.15" fill="#4a86cf"/><circle cx="401.5" cy="1160.0" r="3.15" fill="#f01010"/><circle cx="401.5" cy="1197.8" r="3.15" fill="#4a86cf"/><circle cx="368.6" cy="1216.4" r="3.15" fill="#f01010"/><circle cx="434.4" cy="1141.4" r="3.15" fill="#4a86cf"/><circle cx="467.3" cy="1160.0" r="3.15" fill="#f01010"/><circle cx="467.3" cy="1197.8" r="3.15" fill="#4a86cf"/><circle cx="434.4" cy="1216.4" r="3.15" fill="#f01010"/><circle cx="500.2" cy="1141.4" r="3.15" fill="#4a86cf"/><circle cx="533.1" cy="1160.0" r="3.15" fill="#f01010"/><circle cx="533.1" cy="1197.8" r="3.15" fill="#4a86cf"/><circle cx="500.2" cy="1216.4" r="3.15" fill="#f01010"/><circle cx="566.0" cy="1141.4" r="3.15" fill="#4a86cf"/><circle cx="598.9" cy="1160.0" r="3.15" fill="#f01010"/><circle cx="598.9" cy="1197.8" r="3.15" fill="#4a86cf"/><circle cx="566.0" cy="1216.4" r="3.15" fill="#f01010"/><circle cx="631.8" cy="1141.4" r="3.15" fill="#4a86cf"/><circle cx="664.7" cy="1160.0" r="3.15" fill="#f01010"/><circle cx="664.7" cy="1197.8" r="3.15" fill="#4a86cf"/><circle cx="631.8" cy="1216.4" r="3.15" fill="#f01010"/><circle cx="697.6" cy="1141.4" r="3.15" fill="#4a86cf"/><circle cx="730.5" cy="1160.0" r="3.15" fill="#f01010"/><circle cx="730.5" cy="1197.8" r="3.15" fill="#4a86cf"/><circle cx="697.6" cy="1216.4" r="3.15" fill="#f01010"/><circle cx="368.6" cy="1254.2" r="3.15" fill="#4a86cf"/><circle cx="401.5" cy="1272.8" r="3.15" fill="#f01010"/><circle cx="401.5" cy="1310.6" r="3.15" fill="#4a86cf"/><circle cx="368.6" cy="1329.2" r="3.15" fill="#f01010"/><circle cx="434.4" cy="1254.2" r="3.15" fill="#4a86cf"/><circle cx="467.3" cy="1272.8" r="3.15" fill="#f01010"/><circle cx="467.3" cy="1310.6" r="3.15" fill="#4a86cf"/><circle cx="434.4" cy="1329.2" r="3.15" fill="#f01010"/><circle cx="500.2" cy="1254.2" r="3.15" fill="#4a86cf"/><circle cx="533.1" cy="1272.8" r="3.15" fill="#f01010"/><circle cx="533.1" cy="1310.6" r="3.15" fill="#4a86cf"/><circle cx="500.2" cy="1329.2" r="3.15" fill="#f01010"/><circle cx="566.0" cy="1254.2" r="3.15" fill="#4a86cf"/><circle cx="598.9" cy="1272.8" r="3.15" fill="#f01010"/><circle cx="598.9" cy="1310.6" r="3.15" fill="#4a86cf"/><circle cx="566.0" cy="1329.2" r="3.15" fill="#f01010"/><circle cx="631.8" cy="1254.2" r="3.15" fill="#4a86cf"/><circle cx="664.7" cy="1272.8" r="3.15" fill="#f01010"/><circle cx="664.7" cy="1310.6" r="3.15" fill="#4a86cf"/><circle cx="631.8" cy="1329.2" r="3.15" fill="#f01010"/><circle cx="697.6" cy="1254.2" r="3.15" fill="#4a86cf"/><circle cx="730.5" cy="1272.8" r="3.15" fill="#f01010"/><circle cx="730.5" cy="1310.6" r="3.15" fill="#4a86cf"/><circle cx="697.6" cy="1329.2" r="3.15" fill="#f01010"/></g><g clip-path="url(#clipB3)"><line x1="366.8" y1="915.2" x2="383.2" y2="924.5" stroke="#f01010" stroke-width="6.3"/><line x1="383.2" y1="924.5" x2="399.7" y2="933.8" stroke="#4a86cf" stroke-width="6.3"/><line x1="366.8" y1="915.2" x2="350.4" y2="924.5" stroke="#f01010" stroke-width="6.3"/><line x1="350.4" y1="924.5" x2="333.9" y2="933.8" stroke="#4a86cf" stroke-width="6.3"/><line x1="399.7" y1="933.8" x2="399.7" y2="952.7" stroke="#4a86cf" stroke-width="6.3"/><line x1="399.7" y1="952.7" x2="399.7" y2="971.6" stroke="#f01010" stroke-width="6.3"/><line x1="399.7" y1="971.6" x2="383.2" y2="980.9" stroke="#f01010" stroke-width="6.3"/><line x1="383.2" y1="980.9" x2="366.8" y2="990.2" stroke="#4a86cf" stroke-width="6.3"/><line x1="399.7" y1="971.6" x2="416.1" y2="980.9" stroke="#f01010" stroke-width="6.3"/><line x1="416.1" y1="980.9" x2="432.6" y2="990.2" stroke="#4a86cf" stroke-width="6.3"/><line x1="366.8" y1="990.2" x2="366.8" y2="1009.1" stroke="#4a86cf" stroke-width="6.3"/><line x1="366.8" y1="1009.1" x2="366.8" y2="1028.0" stroke="#f01010" stroke-width="6.3"/><line x1="432.6" y1="915.2" x2="449.1" y2="924.5" stroke="#f01010" stroke-width="6.3"/><line x1="449.1" y1="924.5" x2="465.5" y2="933.8" stroke="#4a86cf" stroke-width="6.3"/><line x1="432.6" y1="915.2" x2="416.2" y2="924.5" stroke="#f01010" stroke-width="6.3"/><line x1="416.2" y1="924.5" x2="399.7" y2="933.8" stroke="#4a86cf" stroke-width="6.3"/><line x1="465.5" y1="933.8" x2="465.5" y2="952.7" stroke="#4a86cf" stroke-width="6.3"/><line x1="465.5" y1="952.7" x2="465.5" y2="971.6" stroke="#f01010" stroke-width="6.3"/><line x1="465.5" y1="971.6" x2="449.1" y2="980.9" stroke="#f01010" stroke-width="6.3"/><line x1="449.1" y1="980.9" x2="432.6" y2="990.2" stroke="#4a86cf" stroke-width="6.3"/><line x1="465.5" y1="971.6" x2="482.0" y2="980.9" stroke="#f01010" stroke-width="6.3"/><line x1="482.0" y1="980.9" x2="498.4" y2="990.2" stroke="#4a86cf" stroke-width="6.3"/><line x1="432.6" y1="990.2" x2="432.6" y2="1009.1" stroke="#4a86cf" stroke-width="6.3"/><line x1="432.6" y1="1009.1" x2="432.6" y2="1028.0" stroke="#f01010" stroke-width="6.3"/><line x1="498.4" y1="915.2" x2="514.9" y2="924.5" stroke="#f01010" stroke-width="6.3"/><line x1="514.9" y1="924.5" x2="531.3" y2="933.8" stroke="#4a86cf" stroke-width="6.3"/><line x1="498.4" y1="915.2" x2="482.0" y2="924.5" stroke="#f01010" stroke-width="6.3"/><line x1="482.0" y1="924.5" x2="465.5" y2="933.8" stroke="#4a86cf" stroke-width="6.3"/><line x1="531.3" y1="933.8" x2="531.3" y2="952.7" stroke="#4a86cf" stroke-width="6.3"/><line x1="531.3" y1="952.7" x2="531.3" y2="971.6" stroke="#f01010" stroke-width="6.3"/><line x1="531.3" y1="971.6" x2="514.9" y2="980.9" stroke="#f01010" stroke-width="6.3"/><line x1="514.9" y1="980.9" x2="498.4" y2="990.2" stroke="#4a86cf" stroke-width="6.3"/><line x1="531.3" y1="971.6" x2="547.8" y2="980.9" stroke="#f01010" stroke-width="6.3"/><line x1="547.8" y1="980.9" x2="564.2" y2="990.2" stroke="#4a86cf" stroke-width="6.3"/><line x1="498.4" y1="990.2" x2="498.4" y2="1009.1" stroke="#4a86cf" stroke-width="6.3"/><line x1="498.4" y1="1009.1" x2="498.4" y2="1028.0" stroke="#f01010" stroke-width="6.3"/><line x1="564.2" y1="915.2" x2="580.7" y2="924.5" stroke="#f01010" stroke-width="6.3"/><line x1="580.7" y1="924.5" x2="597.1" y2="933.8" stroke="#4a86cf" stroke-width="6.3"/><line x1="564.2" y1="915.2" x2="547.8" y2="924.5" stroke="#f01010" stroke-width="6.3"/><line x1="547.8" y1="924.5" x2="531.3" y2="933.8" stroke="#4a86cf" stroke-width="6.3"/><line x1="597.1" y1="933.8" x2="597.1" y2="952.7" stroke="#4a86cf" stroke-width="6.3"/><line x1="597.1" y1="952.7" x2="597.1" y2="971.6" stroke="#f01010" stroke-width="6.3"/><line x1="597.1" y1="971.6" x2="580.7" y2="980.9" stroke="#f01010" stroke-width="6.3"/><line x1="580.7" y1="980.9" x2="564.2" y2="990.2" stroke="#4a86cf" stroke-width="6.3"/><line x1="597.1" y1="971.6" x2="613.5" y2="980.9" stroke="#f01010" stroke-width="6.3"/><line x1="613.5" y1="980.9" x2="630.0" y2="990.2" stroke="#4a86cf" stroke-width="6.3"/><line x1="564.2" y1="990.2" x2="564.2" y2="1009.1" stroke="#4a86cf" stroke-width="6.3"/><line x1="564.2" y1="1009.1" x2="564.2" y2="1028.0" stroke="#f01010" stroke-width="6.3"/><line x1="630.0" y1="915.2" x2="646.5" y2="924.5" stroke="#f01010" stroke-width="6.3"/><line x1="646.5" y1="924.5" x2="662.9" y2="933.8" stroke="#4a86cf" stroke-width="6.3"/><line x1="630.0" y1="915.2" x2="613.5" y2="924.5" stroke="#f01010" stroke-width="6.3"/><line x1="613.5" y1="924.5" x2="597.1" y2="933.8" stroke="#4a86cf" stroke-width="6.3"/><line x1="662.9" y1="933.8" x2="662.9" y2="952.7" stroke="#4a86cf" stroke-width="6.3"/><line x1="662.9" y1="952.7" x2="662.9" y2="971.6" stroke="#f01010" stroke-width="6.3"/><line x1="662.9" y1="971.6" x2="646.5" y2="980.9" stroke="#f01010" stroke-width="6.3"/><line x1="646.5" y1="980.9" x2="630.0" y2="990.2" stroke="#4a86cf" stroke-width="6.3"/><line x1="662.9" y1="971.6" x2="679.3" y2="980.9" stroke="#f01010" stroke-width="6.3"/><line x1="679.3" y1="980.9" x2="695.8" y2="990.2" stroke="#4a86cf" stroke-width="6.3"/><line x1="630.0" y1="990.2" x2="630.0" y2="1009.1" stroke="#4a86cf" stroke-width="6.3"/><line x1="630.0" y1="1009.1" x2="630.0" y2="1028.0" stroke="#f01010" stroke-width="6.3"/><line x1="695.8" y1="915.2" x2="712.2" y2="924.5" stroke="#f01010" stroke-width="6.3"/><line x1="712.2" y1="924.5" x2="728.7" y2="933.8" stroke="#4a86cf" stroke-width="6.3"/><line x1="695.8" y1="915.2" x2="679.3" y2="924.5" stroke="#f01010" stroke-width="6.3"/><line x1="679.3" y1="924.5" x2="662.9" y2="933.8" stroke="#4a86cf" stroke-width="6.3"/><line x1="728.7" y1="933.8" x2="728.7" y2="952.7" stroke="#4a86cf" stroke-width="6.3"/><line x1="728.7" y1="952.7" x2="728.7" y2="971.6" stroke="#f01010" stroke-width="6.3"/><line x1="728.7" y1="971.6" x2="712.2" y2="980.9" stroke="#f01010" stroke-width="6.3"/><line x1="712.2" y1="980.9" x2="695.8" y2="990.2" stroke="#4a86cf" stroke-width="6.3"/><line x1="728.7" y1="971.6" x2="745.1" y2="980.9" stroke="#f01010" stroke-width="6.3"/><line x1="745.1" y1="980.9" x2="761.6" y2="990.2" stroke="#4a86cf" stroke-width="6.3"/><line x1="695.8" y1="990.2" x2="695.8" y2="1009.1" stroke="#4a86cf" stroke-width="6.3"/><line x1="695.8" y1="1009.1" x2="695.8" y2="1028.0" stroke="#f01010" stroke-width="6.3"/><line x1="366.8" y1="1028.0" x2="383.2" y2="1037.3" stroke="#f01010" stroke-width="6.3"/><line x1="383.2" y1="1037.3" x2="399.7" y2="1046.6" stroke="#4a86cf" stroke-width="6.3"/><line x1="366.8" y1="1028.0" x2="350.4" y2="1037.3" stroke="#f01010" stroke-width="6.3"/><line x1="350.4" y1="1037.3" x2="333.9" y2="1046.6" stroke="#4a86cf" stroke-width="6.3"/><line x1="399.7" y1="1046.6" x2="399.7" y2="1065.5" stroke="#4a86cf" stroke-width="6.3"/><line x1="399.7" y1="1065.5" x2="399.7" y2="1084.4" stroke="#f01010" stroke-width="6.3"/><line x1="399.7" y1="1084.4" x2="383.2" y2="1093.7" stroke="#f01010" stroke-width="6.3"/><line x1="383.2" y1="1093.7" x2="366.8" y2="1103.0" stroke="#4a86cf" stroke-width="6.3"/><line x1="399.7" y1="1084.4" x2="416.1" y2="1093.7" stroke="#f01010" stroke-width="6.3"/><line x1="416.1" y1="1093.7" x2="432.6" y2="1103.0" stroke="#4a86cf" stroke-width="6.3"/><line x1="366.8" y1="1103.0" x2="366.8" y2="1121.9" stroke="#4a86cf" stroke-width="6.3"/><line x1="366.8" y1="1121.9" x2="366.8" y2="1140.8" stroke="#f01010" stroke-width="6.3"/><line x1="432.6" y1="1028.0" x2="449.1" y2="1037.3" stroke="#f01010" stroke-width="6.3"/><line x1="449.1" y1="1037.3" x2="465.5" y2="1046.6" stroke="#4a86cf" stroke-width="6.3"/><line x1="432.6" y1="1028.0" x2="416.2" y2="1037.3" stroke="#f01010" stroke-width="6.3"/><line x1="416.2" y1="1037.3" x2="399.7" y2="1046.6" stroke="#4a86cf" stroke-width="6.3"/><line x1="465.5" y1="1046.6" x2="465.5" y2="1065.5" stroke="#4a86cf" stroke-width="6.3"/><line x1="465.5" y1="1065.5" x2="465.5" y2="1084.4" stroke="#f01010" stroke-width="6.3"/><line x1="465.5" y1="1084.4" x2="449.1" y2="1093.7" stroke="#f01010" stroke-width="6.3"/><line x1="449.1" y1="1093.7" x2="432.6" y2="1103.0" stroke="#4a86cf" stroke-width="6.3"/><line x1="465.5" y1="1084.4" x2="482.0" y2="1093.7" stroke="#f01010" stroke-width="6.3"/><line x1="482.0" y1="1093.7" x2="498.4" y2="1103.0" stroke="#4a86cf" stroke-width="6.3"/><line x1="432.6" y1="1103.0" x2="432.6" y2="1121.9" stroke="#4a86cf" stroke-width="6.3"/><line x1="432.6" y1="1121.9" x2="432.6" y2="1140.8" stroke="#f01010" stroke-width="6.3"/><line x1="498.4" y1="1028.0" x2="514.9" y2="1037.3" stroke="#f01010" stroke-width="6.3"/><line x1="514.9" y1="1037.3" x2="531.3" y2="1046.6" stroke="#4a86cf" stroke-width="6.3"/><line x1="498.4" y1="1028.0" x2="482.0" y2="1037.3" stroke="#f01010" stroke-width="6.3"/><line x1="482.0" y1="1037.3" x2="465.5" y2="1046.6" stroke="#4a86cf" stroke-width="6.3"/><line x1="531.3" y1="1046.6" x2="531.3" y2="1065.5" stroke="#4a86cf" stroke-width="6.3"/><line x1="531.3" y1="1065.5" x2="531.3" y2="1084.4" stroke="#f01010" stroke-width="6.3"/><line x1="531.3" y1="1084.4" x2="514.9" y2="1093.7" stroke="#f01010" stroke-width="6.3"/><line x1="514.9" y1="1093.7" x2="498.4" y2="1103.0" stroke="#4a86cf" stroke-width="6.3"/><line x1="531.3" y1="1084.4" x2="547.8" y2="1093.7" stroke="#f01010" stroke-width="6.3"/><line x1="547.8" y1="1093.7" x2="564.2" y2="1103.0" stroke="#4a86cf" stroke-width="6.3"/><line x1="498.4" y1="1103.0" x2="498.4" y2="1121.9" stroke="#4a86cf" stroke-width="6.3"/><line x1="498.4" y1="1121.9" x2="498.4" y2="1140.8" stroke="#f01010" stroke-width="6.3"/><line x1="564.2" y1="1028.0" x2="580.7" y2="1037.3" stroke="#f01010" stroke-width="6.3"/><line x1="580.7" y1="1037.3" x2="597.1" y2="1046.6" stroke="#4a86cf" stroke-width="6.3"/><line x1="564.2" y1="1028.0" x2="547.8" y2="1037.3" stroke="#f01010" stroke-width="6.3"/><line x1="547.8" y1="1037.3" x2="531.3" y2="1046.6" stroke="#4a86cf" stroke-width="6.3"/><line x1="597.1" y1="1046.6" x2="597.1" y2="1065.5" stroke="#4a86cf" stroke-width="6.3"/><line x1="597.1" y1="1065.5" x2="597.1" y2="1084.4" stroke="#f01010" stroke-width="6.3"/><line x1="597.1" y1="1084.4" x2="580.7" y2="1093.7" stroke="#f01010" stroke-width="6.3"/><line x1="580.7" y1="1093.7" x2="564.2" y2="1103.0" stroke="#4a86cf" stroke-width="6.3"/><line x1="597.1" y1="1084.4" x2="613.5" y2="1093.7" stroke="#f01010" stroke-width="6.3"/><line x1="613.5" y1="1093.7" x2="630.0" y2="1103.0" stroke="#4a86cf" stroke-width="6.3"/><line x1="564.2" y1="1103.0" x2="564.2" y2="1121.9" stroke="#4a86cf" stroke-width="6.3"/><line x1="564.2" y1="1121.9" x2="564.2" y2="1140.8" stroke="#f01010" stroke-width="6.3"/><line x1="630.0" y1="1028.0" x2="646.5" y2="1037.3" stroke="#f01010" stroke-width="6.3"/><line x1="646.5" y1="1037.3" x2="662.9" y2="1046.6" stroke="#4a86cf" stroke-width="6.3"/><line x1="630.0" y1="1028.0" x2="613.5" y2="1037.3" stroke="#f01010" stroke-width="6.3"/><line x1="613.5" y1="1037.3" x2="597.1" y2="1046.6" stroke="#4a86cf" stroke-width="6.3"/><line x1="662.9" y1="1046.6" x2="662.9" y2="1065.5" stroke="#4a86cf" stroke-width="6.3"/><line x1="662.9" y1="1065.5" x2="662.9" y2="1084.4" stroke="#f01010" stroke-width="6.3"/><line x1="662.9" y1="1084.4" x2="646.5" y2="1093.7" stroke="#f01010" stroke-width="6.3"/><line x1="646.5" y1="1093.7" x2="630.0" y2="1103.0" stroke="#4a86cf" stroke-width="6.3"/><line x1="662.9" y1="1084.4" x2="679.3" y2="1093.7" stroke="#f01010" stroke-width="6.3"/><line x1="679.3" y1="1093.7" x2="695.8" y2="1103.0" stroke="#4a86cf" stroke-width="6.3"/><line x1="630.0" y1="1103.0" x2="630.0" y2="1121.9" stroke="#4a86cf" stroke-width="6.3"/><line x1="630.0" y1="1121.9" x2="630.0" y2="1140.8" stroke="#f01010" stroke-width="6.3"/><line x1="695.8" y1="1028.0" x2="712.2" y2="1037.3" stroke="#f01010" stroke-width="6.3"/><line x1="712.2" y1="1037.3" x2="728.7" y2="1046.6" stroke="#4a86cf" stroke-width="6.3"/><line x1="695.8" y1="1028.0" x2="679.3" y2="1037.3" stroke="#f01010" stroke-width="6.3"/><line x1="679.3" y1="1037.3" x2="662.9" y2="1046.6" stroke="#4a86cf" stroke-width="6.3"/><line x1="728.7" y1="1046.6" x2="728.7" y2="1065.5" stroke="#4a86cf" stroke-width="6.3"/><line x1="728.7" y1="1065.5" x2="728.7" y2="1084.4" stroke="#f01010" stroke-width="6.3"/><line x1="728.7" y1="1084.4" x2="712.2" y2="1093.7" stroke="#f01010" stroke-width="6.3"/><line x1="712.2" y1="1093.7" x2="695.8" y2="1103.0" stroke="#4a86cf" stroke-width="6.3"/><line x1="728.7" y1="1084.4" x2="745.1" y2="1093.7" stroke="#f01010" stroke-width="6.3"/><line x1="745.1" y1="1093.7" x2="761.6" y2="1103.0" stroke="#4a86cf" stroke-width="6.3"/><line x1="695.8" y1="1103.0" x2="695.8" y2="1121.9" stroke="#4a86cf" stroke-width="6.3"/><line x1="695.8" y1="1121.9" x2="695.8" y2="1140.8" stroke="#f01010" stroke-width="6.3"/><line x1="366.8" y1="1140.8" x2="383.2" y2="1150.1" stroke="#f01010" stroke-width="6.3"/><line x1="383.2" y1="1150.1" x2="399.7" y2="1159.4" stroke="#4a86cf" stroke-width="6.3"/><line x1="366.8" y1="1140.8" x2="350.4" y2="1150.1" stroke="#f01010" stroke-width="6.3"/><line x1="350.4" y1="1150.1" x2="333.9" y2="1159.4" stroke="#4a86cf" stroke-width="6.3"/><line x1="399.7" y1="1159.4" x2="399.7" y2="1178.3" stroke="#4a86cf" stroke-width="6.3"/><line x1="399.7" y1="1178.3" x2="399.7" y2="1197.2" stroke="#f01010" stroke-width="6.3"/><line x1="399.7" y1="1197.2" x2="383.2" y2="1206.5" stroke="#f01010" stroke-width="6.3"/><line x1="383.2" y1="1206.5" x2="366.8" y2="1215.8" stroke="#4a86cf" stroke-width="6.3"/><line x1="399.7" y1="1197.2" x2="416.1" y2="1206.5" stroke="#f01010" stroke-width="6.3"/><line x1="416.1" y1="1206.5" x2="432.6" y2="1215.8" stroke="#4a86cf" stroke-width="6.3"/><line x1="366.8" y1="1215.8" x2="366.8" y2="1234.7" stroke="#4a86cf" stroke-width="6.3"/><line x1="366.8" y1="1234.7" x2="366.8" y2="1253.6" stroke="#f01010" stroke-width="6.3"/><line x1="432.6" y1="1140.8" x2="449.1" y2="1150.1" stroke="#f01010" stroke-width="6.3"/><line x1="449.1" y1="1150.1" x2="465.5" y2="1159.4" stroke="#4a86cf" stroke-width="6.3"/><line x1="432.6" y1="1140.8" x2="416.2" y2="1150.1" stroke="#f01010" stroke-width="6.3"/><line x1="416.2" y1="1150.1" x2="399.7" y2="1159.4" stroke="#4a86cf" stroke-width="6.3"/><line x1="465.5" y1="1159.4" x2="465.5" y2="1178.3" stroke="#4a86cf" stroke-width="6.3"/><line x1="465.5" y1="1178.3" x2="465.5" y2="1197.2" stroke="#f01010" stroke-width="6.3"/><line x1="465.5" y1="1197.2" x2="449.1" y2="1206.5" stroke="#f01010" stroke-width="6.3"/><line x1="449.1" y1="1206.5" x2="432.6" y2="1215.8" stroke="#4a86cf" stroke-width="6.3"/><line x1="465.5" y1="1197.2" x2="482.0" y2="1206.5" stroke="#f01010" stroke-width="6.3"/><line x1="482.0" y1="1206.5" x2="498.4" y2="1215.8" stroke="#4a86cf" stroke-width="6.3"/><line x1="432.6" y1="1215.8" x2="432.6" y2="1234.7" stroke="#4a86cf" stroke-width="6.3"/><line x1="432.6" y1="1234.7" x2="432.6" y2="1253.6" stroke="#f01010" stroke-width="6.3"/><line x1="498.4" y1="1140.8" x2="514.9" y2="1150.1" stroke="#f01010" stroke-width="6.3"/><line x1="514.9" y1="1150.1" x2="531.3" y2="1159.4" stroke="#4a86cf" stroke-width="6.3"/><line x1="498.4" y1="1140.8" x2="482.0" y2="1150.1" stroke="#f01010" stroke-width="6.3"/><line x1="482.0" y1="1150.1" x2="465.5" y2="1159.4" stroke="#4a86cf" stroke-width="6.3"/><line x1="531.3" y1="1159.4" x2="531.3" y2="1178.3" stroke="#4a86cf" stroke-width="6.3"/><line x1="531.3" y1="1178.3" x2="531.3" y2="1197.2" stroke="#f01010" stroke-width="6.3"/><line x1="531.3" y1="1197.2" x2="514.9" y2="1206.5" stroke="#f01010" stroke-width="6.3"/><line x1="514.9" y1="1206.5" x2="498.4" y2="1215.8" stroke="#4a86cf" stroke-width="6.3"/><line x1="531.3" y1="1197.2" x2="547.8" y2="1206.5" stroke="#f01010" stroke-width="6.3"/><line x1="547.8" y1="1206.5" x2="564.2" y2="1215.8" stroke="#4a86cf" stroke-width="6.3"/><line x1="498.4" y1="1215.8" x2="498.4" y2="1234.7" stroke="#4a86cf" stroke-width="6.3"/><line x1="498.4" y1="1234.7" x2="498.4" y2="1253.6" stroke="#f01010" stroke-width="6.3"/><line x1="564.2" y1="1140.8" x2="580.7" y2="1150.1" stroke="#f01010" stroke-width="6.3"/><line x1="580.7" y1="1150.1" x2="597.1" y2="1159.4" stroke="#4a86cf" stroke-width="6.3"/><line x1="564.2" y1="1140.8" x2="547.8" y2="1150.1" stroke="#f01010" stroke-width="6.3"/><line x1="547.8" y1="1150.1" x2="531.3" y2="1159.4" stroke="#4a86cf" stroke-width="6.3"/><line x1="597.1" y1="1159.4" x2="597.1" y2="1178.3" stroke="#4a86cf" stroke-width="6.3"/><line x1="597.1" y1="1178.3" x2="597.1" y2="1197.2" stroke="#f01010" stroke-width="6.3"/><line x1="597.1" y1="1197.2" x2="580.7" y2="1206.5" stroke="#f01010" stroke-width="6.3"/><line x1="580.7" y1="1206.5" x2="564.2" y2="1215.8" stroke="#4a86cf" stroke-width="6.3"/><line x1="597.1" y1="1197.2" x2="613.5" y2="1206.5" stroke="#f01010" stroke-width="6.3"/><line x1="613.5" y1="1206.5" x2="630.0" y2="1215.8" stroke="#4a86cf" stroke-width="6.3"/><line x1="564.2" y1="1215.8" x2="564.2" y2="1234.7" stroke="#4a86cf" stroke-width="6.3"/><line x1="564.2" y1="1234.7" x2="564.2" y2="1253.6" stroke="#f01010" stroke-width="6.3"/><line x1="630.0" y1="1140.8" x2="646.5" y2="1150.1" stroke="#f01010" stroke-width="6.3"/><line x1="646.5" y1="1150.1" x2="662.9" y2="1159.4" stroke="#4a86cf" stroke-width="6.3"/><line x1="630.0" y1="1140.8" x2="613.5" y2="1150.1" stroke="#f01010" stroke-width="6.3"/><line x1="613.5" y1="1150.1" x2="597.1" y2="1159.4" stroke="#4a86cf" stroke-width="6.3"/><line x1="662.9" y1="1159.4" x2="662.9" y2="1178.3" stroke="#4a86cf" stroke-width="6.3"/><line x1="662.9" y1="1178.3" x2="662.9" y2="1197.2" stroke="#f01010" stroke-width="6.3"/><line x1="662.9" y1="1197.2" x2="646.5" y2="1206.5" stroke="#f01010" stroke-width="6.3"/><line x1="646.5" y1="1206.5" x2="630.0" y2="1215.8" stroke="#4a86cf" stroke-width="6.3"/><line x1="662.9" y1="1197.2" x2="679.3" y2="1206.5" stroke="#f01010" stroke-width="6.3"/><line x1="679.3" y1="1206.5" x2="695.8" y2="1215.8" stroke="#4a86cf" stroke-width="6.3"/><line x1="630.0" y1="1215.8" x2="630.0" y2="1234.7" stroke="#4a86cf" stroke-width="6.3"/><line x1="630.0" y1="1234.7" x2="630.0" y2="1253.6" stroke="#f01010" stroke-width="6.3"/><line x1="695.8" y1="1140.8" x2="712.2" y2="1150.1" stroke="#f01010" stroke-width="6.3"/><line x1="712.2" y1="1150.1" x2="728.7" y2="1159.4" stroke="#4a86cf" stroke-width="6.3"/><line x1="695.8" y1="1140.8" x2="679.3" y2="1150.1" stroke="#f01010" stroke-width="6.3"/><line x1="679.3" y1="1150.1" x2="662.9" y2="1159.4" stroke="#4a86cf" stroke-width="6.3"/><line x1="728.7" y1="1159.4" x2="728.7" y2="1178.3" stroke="#4a86cf" stroke-width="6.3"/><line x1="728.7" y1="1178.3" x2="728.7" y2="1197.2" stroke="#f01010" stroke-width="6.3"/><line x1="728.7" y1="1197.2" x2="712.2" y2="1206.5" stroke="#f01010" stroke-width="6.3"/><line x1="712.2" y1="1206.5" x2="695.8" y2="1215.8" stroke="#4a86cf" stroke-width="6.3"/><line x1="728.7" y1="1197.2" x2="745.1" y2="1206.5" stroke="#f01010" stroke-width="6.3"/><line x1="745.1" y1="1206.5" x2="761.6" y2="1215.8" stroke="#4a86cf" stroke-width="6.3"/><line x1="695.8" y1="1215.8" x2="695.8" y2="1234.7" stroke="#4a86cf" stroke-width="6.3"/><line x1="695.8" y1="1234.7" x2="695.8" y2="1253.6" stroke="#f01010" stroke-width="6.3"/><line x1="366.8" y1="1253.6" x2="383.2" y2="1262.9" stroke="#f01010" stroke-width="6.3"/><line x1="383.2" y1="1262.9" x2="399.7" y2="1272.2" stroke="#4a86cf" stroke-width="6.3"/><line x1="366.8" y1="1253.6" x2="350.4" y2="1262.9" stroke="#f01010" stroke-width="6.3"/><line x1="350.4" y1="1262.9" x2="333.9" y2="1272.2" stroke="#4a86cf" stroke-width="6.3"/><line x1="399.7" y1="1272.2" x2="399.7" y2="1291.1" stroke="#4a86cf" stroke-width="6.3"/><line x1="399.7" y1="1291.1" x2="399.7" y2="1310.0" stroke="#f01010" stroke-width="6.3"/><line x1="399.7" y1="1310.0" x2="383.2" y2="1319.3" stroke="#f01010" stroke-width="6.3"/><line x1="383.2" y1="1319.3" x2="366.8" y2="1328.6" stroke="#4a86cf" stroke-width="6.3"/><line x1="399.7" y1="1310.0" x2="416.1" y2="1319.3" stroke="#f01010" stroke-width="6.3"/><line x1="416.1" y1="1319.3" x2="432.6" y2="1328.6" stroke="#4a86cf" stroke-width="6.3"/><line x1="366.8" y1="1328.6" x2="366.8" y2="1347.5" stroke="#4a86cf" stroke-width="6.3"/><line x1="366.8" y1="1347.5" x2="366.8" y2="1366.4" stroke="#f01010" stroke-width="6.3"/><line x1="432.6" y1="1253.6" x2="449.1" y2="1262.9" stroke="#f01010" stroke-width="6.3"/><line x1="449.1" y1="1262.9" x2="465.5" y2="1272.2" stroke="#4a86cf" stroke-width="6.3"/><line x1="432.6" y1="1253.6" x2="416.2" y2="1262.9" stroke="#f01010" stroke-width="6.3"/><line x1="416.2" y1="1262.9" x2="399.7" y2="1272.2" stroke="#4a86cf" stroke-width="6.3"/><line x1="465.5" y1="1272.2" x2="465.5" y2="1291.1" stroke="#4a86cf" stroke-width="6.3"/><line x1="465.5" y1="1291.1" x2="465.5" y2="1310.0" stroke="#f01010" stroke-width="6.3"/><line x1="465.5" y1="1310.0" x2="449.1" y2="1319.3" stroke="#f01010" stroke-width="6.3"/><line x1="449.1" y1="1319.3" x2="432.6" y2="1328.6" stroke="#4a86cf" stroke-width="6.3"/><line x1="465.5" y1="1310.0" x2="482.0" y2="1319.3" stroke="#f01010" stroke-width="6.3"/><line x1="482.0" y1="1319.3" x2="498.4" y2="1328.6" stroke="#4a86cf" stroke-width="6.3"/><line x1="432.6" y1="1328.6" x2="432.6" y2="1347.5" stroke="#4a86cf" stroke-width="6.3"/><line x1="432.6" y1="1347.5" x2="432.6" y2="1366.4" stroke="#f01010" stroke-width="6.3"/><line x1="498.4" y1="1253.6" x2="514.9" y2="1262.9" stroke="#f01010" stroke-width="6.3"/><line x1="514.9" y1="1262.9" x2="531.3" y2="1272.2" stroke="#4a86cf" stroke-width="6.3"/><line x1="498.4" y1="1253.6" x2="482.0" y2="1262.9" stroke="#f01010" stroke-width="6.3"/><line x1="482.0" y1="1262.9" x2="465.5" y2="1272.2" stroke="#4a86cf" stroke-width="6.3"/><line x1="531.3" y1="1272.2" x2="531.3" y2="1291.1" stroke="#4a86cf" stroke-width="6.3"/><line x1="531.3" y1="1291.1" x2="531.3" y2="1310.0" stroke="#f01010" stroke-width="6.3"/><line x1="531.3" y1="1310.0" x2="514.9" y2="1319.3" stroke="#f01010" stroke-width="6.3"/><line x1="514.9" y1="1319.3" x2="498.4" y2="1328.6" stroke="#4a86cf" stroke-width="6.3"/><line x1="531.3" y1="1310.0" x2="547.8" y2="1319.3" stroke="#f01010" stroke-width="6.3"/><line x1="547.8" y1="1319.3" x2="564.2" y2="1328.6" stroke="#4a86cf" stroke-width="6.3"/><line x1="498.4" y1="1328.6" x2="498.4" y2="1347.5" stroke="#4a86cf" stroke-width="6.3"/><line x1="498.4" y1="1347.5" x2="498.4" y2="1366.4" stroke="#f01010" stroke-width="6.3"/><line x1="564.2" y1="1253.6" x2="580.7" y2="1262.9" stroke="#f01010" stroke-width="6.3"/><line x1="580.7" y1="1262.9" x2="597.1" y2="1272.2" stroke="#4a86cf" stroke-width="6.3"/><line x1="564.2" y1="1253.6" x2="547.8" y2="1262.9" stroke="#f01010" stroke-width="6.3"/><line x1="547.8" y1="1262.9" x2="531.3" y2="1272.2" stroke="#4a86cf" stroke-width="6.3"/><line x1="597.1" y1="1272.2" x2="597.1" y2="1291.1" stroke="#4a86cf" stroke-width="6.3"/><line x1="597.1" y1="1291.1" x2="597.1" y2="1310.0" stroke="#f01010" stroke-width="6.3"/><line x1="597.1" y1="1310.0" x2="580.7" y2="1319.3" stroke="#f01010" stroke-width="6.3"/><line x1="580.7" y1="1319.3" x2="564.2" y2="1328.6" stroke="#4a86cf" stroke-width="6.3"/><line x1="597.1" y1="1310.0" x2="613.5" y2="1319.3" stroke="#f01010" stroke-width="6.3"/><line x1="613.5" y1="1319.3" x2="630.0" y2="1328.6" stroke="#4a86cf" stroke-width="6.3"/><line x1="564.2" y1="1328.6" x2="564.2" y2="1347.5" stroke="#4a86cf" stroke-width="6.3"/><line x1="564.2" y1="1347.5" x2="564.2" y2="1366.4" stroke="#f01010" stroke-width="6.3"/><line x1="630.0" y1="1253.6" x2="646.5" y2="1262.9" stroke="#f01010" stroke-width="6.3"/><line x1="646.5" y1="1262.9" x2="662.9" y2="1272.2" stroke="#4a86cf" stroke-width="6.3"/><line x1="630.0" y1="1253.6" x2="613.5" y2="1262.9" stroke="#f01010" stroke-width="6.3"/><line x1="613.5" y1="1262.9" x2="597.1" y2="1272.2" stroke="#4a86cf" stroke-width="6.3"/><line x1="662.9" y1="1272.2" x2="662.9" y2="1291.1" stroke="#4a86cf" stroke-width="6.3"/><line x1="662.9" y1="1291.1" x2="662.9" y2="1310.0" stroke="#f01010" stroke-width="6.3"/><line x1="662.9" y1="1310.0" x2="646.5" y2="1319.3" stroke="#f01010" stroke-width="6.3"/><line x1="646.5" y1="1319.3" x2="630.0" y2="1328.6" stroke="#4a86cf" stroke-width="6.3"/><line x1="662.9" y1="1310.0" x2="679.3" y2="1319.3" stroke="#f01010" stroke-width="6.3"/><line x1="679.3" y1="1319.3" x2="695.8" y2="1328.6" stroke="#4a86cf" stroke-width="6.3"/><line x1="630.0" y1="1328.6" x2="630.0" y2="1347.5" stroke="#4a86cf" stroke-width="6.3"/><line x1="630.0" y1="1347.5" x2="630.0" y2="1366.4" stroke="#f01010" stroke-width="6.3"/><line x1="695.8" y1="1253.6" x2="712.2" y2="1262.9" stroke="#f01010" stroke-width="6.3"/><line x1="712.2" y1="1262.9" x2="728.7" y2="1272.2" stroke="#4a86cf" stroke-width="6.3"/><line x1="695.8" y1="1253.6" x2="679.3" y2="1262.9" stroke="#f01010" stroke-width="6.3"/><line x1="679.3" y1="1262.9" x2="662.9" y2="1272.2" stroke="#4a86cf" stroke-width="6.3"/><line x1="728.7" y1="1272.2" x2="728.7" y2="1291.1" stroke="#4a86cf" stroke-width="6.3"/><line x1="728.7" y1="1291.1" x2="728.7" y2="1310.0" stroke="#f01010" stroke-width="6.3"/><line x1="728.7" y1="1310.0" x2="712.2" y2="1319.3" stroke="#f01010" stroke-width="6.3"/><line x1="712.2" y1="1319.3" x2="695.8" y2="1328.6" stroke="#4a86cf" stroke-width="6.3"/><line x1="728.7" y1="1310.0" x2="745.1" y2="1319.3" stroke="#f01010" stroke-width="6.3"/><line x1="745.1" y1="1319.3" x2="761.6" y2="1328.6" stroke="#4a86cf" stroke-width="6.3"/><line x1="695.8" y1="1328.6" x2="695.8" y2="1347.5" stroke="#4a86cf" stroke-width="6.3"/><line x1="695.8" y1="1347.5" x2="695.8" y2="1366.4" stroke="#f01010" stroke-width="6.3"/><circle cx="366.8" cy="915.2" r="3.15" fill="#f01010"/><circle cx="399.7" cy="933.8" r="3.15" fill="#4a86cf"/><circle cx="399.7" cy="971.6" r="3.15" fill="#f01010"/><circle cx="366.8" cy="990.2" r="3.15" fill="#4a86cf"/><circle cx="432.6" cy="915.2" r="3.15" fill="#f01010"/><circle cx="465.5" cy="933.8" r="3.15" fill="#4a86cf"/><circle cx="465.5" cy="971.6" r="3.15" fill="#f01010"/><circle cx="432.6" cy="990.2" r="3.15" fill="#4a86cf"/><circle cx="498.4" cy="915.2" r="3.15" fill="#f01010"/><circle cx="531.3" cy="933.8" r="3.15" fill="#4a86cf"/><circle cx="531.3" cy="971.6" r="3.15" fill="#f01010"/><circle cx="498.4" cy="990.2" r="3.15" fill="#4a86cf"/><circle cx="564.2" cy="915.2" r="3.15" fill="#f01010"/><circle cx="597.1" cy="933.8" r="3.15" fill="#4a86cf"/><circle cx="597.1" cy="971.6" r="3.15" fill="#f01010"/><circle cx="564.2" cy="990.2" r="3.15" fill="#4a86cf"/><circle cx="630.0" cy="915.2" r="3.15" fill="#f01010"/><circle cx="662.9" cy="933.8" r="3.15" fill="#4a86cf"/><circle cx="662.9" cy="971.6" r="3.15" fill="#f01010"/><circle cx="630.0" cy="990.2" r="3.15" fill="#4a86cf"/><circle cx="695.8" cy="915.2" r="3.15" fill="#f01010"/><circle cx="728.7" cy="933.8" r="3.15" fill="#4a86cf"/><circle cx="728.7" cy="971.6" r="3.15" fill="#f01010"/><circle cx="695.8" cy="990.2" r="3.15" fill="#4a86cf"/><circle cx="366.8" cy="1028.0" r="3.15" fill="#f01010"/><circle cx="399.7" cy="1046.6" r="3.15" fill="#4a86cf"/><circle cx="399.7" cy="1084.4" r="3.15" fill="#f01010"/><circle cx="366.8" cy="1103.0" r="3.15" fill="#4a86cf"/><circle cx="432.6" cy="1028.0" r="3.15" fill="#f01010"/><circle cx="465.5" cy="1046.6" r="3.15" fill="#4a86cf"/><circle cx="465.5" cy="1084.4" r="3.15" fill="#f01010"/><circle cx="432.6" cy="1103.0" r="3.15" fill="#4a86cf"/><circle cx="498.4" cy="1028.0" r="3.15" fill="#f01010"/><circle cx="531.3" cy="1046.6" r="3.15" fill="#4a86cf"/><circle cx="531.3" cy="1084.4" r="3.15" fill="#f01010"/><circle cx="498.4" cy="1103.0" r="3.15" fill="#4a86cf"/><circle cx="564.2" cy="1028.0" r="3.15" fill="#f01010"/><circle cx="597.1" cy="1046.6" r="3.15" fill="#4a86cf"/><circle cx="597.1" cy="1084.4" r="3.15" fill="#f01010"/><circle cx="564.2" cy="1103.0" r="3.15" fill="#4a86cf"/><circle cx="630.0" cy="1028.0" r="3.15" fill="#f01010"/><circle cx="662.9" cy="1046.6" r="3.15" fill="#4a86cf"/><circle cx="662.9" cy="1084.4" r="3.15" fill="#f01010"/><circle cx="630.0" cy="1103.0" r="3.15" fill="#4a86cf"/><circle cx="695.8" cy="1028.0" r="3.15" fill="#f01010"/><circle cx="728.7" cy="1046.6" r="3.15" fill="#4a86cf"/><circle cx="728.7" cy="1084.4" r="3.15" fill="#f01010"/><circle cx="695.8" cy="1103.0" r="3.15" fill="#4a86cf"/><circle cx="366.8" cy="1140.8" r="3.15" fill="#f01010"/><circle cx="399.7" cy="1159.4" r="3.15" fill="#4a86cf"/><circle cx="399.7" cy="1197.2" r="3.15" fill="#f01010"/><circle cx="366.8" cy="1215.8" r="3.15" fill="#4a86cf"/><circle cx="432.6" cy="1140.8" r="3.15" fill="#f01010"/><circle cx="465.5" cy="1159.4" r="3.15" fill="#4a86cf"/><circle cx="465.5" cy="1197.2" r="3.15" fill="#f01010"/><circle cx="432.6" cy="1215.8" r="3.15" fill="#4a86cf"/><circle cx="498.4" cy="1140.8" r="3.15" fill="#f01010"/><circle cx="531.3" cy="1159.4" r="3.15" fill="#4a86cf"/><circle cx="531.3" cy="1197.2" r="3.15" fill="#f01010"/><circle cx="498.4" cy="1215.8" r="3.15" fill="#4a86cf"/><circle cx="564.2" cy="1140.8" r="3.15" fill="#f01010"/><circle cx="597.1" cy="1159.4" r="3.15" fill="#4a86cf"/><circle cx="597.1" cy="1197.2" r="3.15" fill="#f01010"/><circle cx="564.2" cy="1215.8" r="3.15" fill="#4a86cf"/><circle cx="630.0" cy="1140.8" r="3.15" fill="#f01010"/><circle cx="662.9" cy="1159.4" r="3.15" fill="#4a86cf"/><circle cx="662.9" cy="1197.2" r="3.15" fill="#f01010"/><circle cx="630.0" cy="1215.8" r="3.15" fill="#4a86cf"/><circle cx="695.8" cy="1140.8" r="3.15" fill="#f01010"/><circle cx="728.7" cy="1159.4" r="3.15" fill="#4a86cf"/><circle cx="728.7" cy="1197.2" r="3.15" fill="#f01010"/><circle cx="695.8" cy="1215.8" r="3.15" fill="#4a86cf"/><circle cx="366.8" cy="1253.6" r="3.15" fill="#f01010"/><circle cx="399.7" cy="1272.2" r="3.15" fill="#4a86cf"/><circle cx="399.7" cy="1310.0" r="3.15" fill="#f01010"/><circle cx="366.8" cy="1328.6" r="3.15" fill="#4a86cf"/><circle cx="432.6" cy="1253.6" r="3.15" fill="#f01010"/><circle cx="465.5" cy="1272.2" r="3.15" fill="#4a86cf"/><circle cx="465.5" cy="1310.0" r="3.15" fill="#f01010"/><circle cx="432.6" cy="1328.6" r="3.15" fill="#4a86cf"/><circle cx="498.4" cy="1253.6" r="3.15" fill="#f01010"/><circle cx="531.3" cy="1272.2" r="3.15" fill="#4a86cf"/><circle cx="531.3" cy="1310.0" r="3.15" fill="#f01010"/><circle cx="498.4" cy="1328.6" r="3.15" fill="#4a86cf"/><circle cx="564.2" cy="1253.6" r="3.15" fill="#f01010"/><circle cx="597.1" cy="1272.2" r="3.15" fill="#4a86cf"/><circle cx="597.1" cy="1310.0" r="3.15" fill="#f01010"/><circle cx="564.2" cy="1328.6" r="3.15" fill="#4a86cf"/><circle cx="630.0" cy="1253.6" r="3.15" fill="#f01010"/><circle cx="662.9" cy="1272.2" r="3.15" fill="#4a86cf"/><circle cx="662.9" cy="1310.0" r="3.15" fill="#f01010"/><circle cx="630.0" cy="1328.6" r="3.15" fill="#4a86cf"/><circle cx="695.8" cy="1253.6" r="3.15" fill="#f01010"/><circle cx="728.7" cy="1272.2" r="3.15" fill="#4a86cf"/><circle cx="728.7" cy="1310.0" r="3.15" fill="#f01010"/><circle cx="695.8" cy="1328.6" r="3.15" fill="#4a86cf"/></g>
<line x1="497.5" y1="1120.7" x2="497.9" y2="1111.8" stroke="#808080" stroke-width="5"/><line x1="497.9" y1="1111.8" x2="498.4" y2="1103.0" stroke="#4a86cf" stroke-width="5"/>
<circle cx="497.5" cy="1120.7" r="9.3" fill="url(#gC)"/>
<circle cx="496.7" cy="1137.6" r="9.5" fill="url(#gR)"/>
<text x="426.0" y="1267.8" font-size="42" text-anchor="start" >CO*</text>
<line x1="428.6" y1="1342.3" x2="439.4" y2="1342.3" stroke="#4a86cf" stroke-width="9.5"/><line x1="439.4" y1="1342.3" x2="456.1" y2="1342.3" stroke="#4a86cf" stroke-width="9.5"/><line x1="456.1" y1="1342.3" x2="472.8" y2="1342.3" stroke="#f01010" stroke-width="9.5"/><line x1="472.8" y1="1342.3" x2="489.6" y2="1342.3" stroke="#f01010" stroke-width="9.5"/><line x1="489.6" y1="1342.3" x2="506.4" y2="1342.3" stroke="#4a86cf" stroke-width="9.5"/><line x1="506.4" y1="1342.3" x2="523.3" y2="1342.3" stroke="#4a86cf" stroke-width="9.5"/><line x1="523.3" y1="1342.3" x2="540.3" y2="1342.3" stroke="#f01010" stroke-width="9.5"/><line x1="540.3" y1="1342.3" x2="557.0" y2="1342.3" stroke="#f01010" stroke-width="9.5"/><line x1="557.0" y1="1342.3" x2="573.8" y2="1342.3" stroke="#4a86cf" stroke-width="9.5"/><line x1="573.8" y1="1342.3" x2="590.6" y2="1342.3" stroke="#4a86cf" stroke-width="9.5"/><line x1="590.6" y1="1342.3" x2="607.4" y2="1342.3" stroke="#f01010" stroke-width="9.5"/><line x1="607.4" y1="1342.3" x2="624.3" y2="1342.3" stroke="#f01010" stroke-width="9.5"/><line x1="624.3" y1="1342.3" x2="641.3" y2="1342.3" stroke="#4a86cf" stroke-width="9.5"/><line x1="641.3" y1="1342.3" x2="651.2" y2="1342.3" stroke="#4a86cf" stroke-width="9.5"/><line x1="428.6" y1="1387.8" x2="439.4" y2="1387.8" stroke="#f01010" stroke-width="9.5"/><line x1="439.4" y1="1387.8" x2="456.1" y2="1387.8" stroke="#f01010" stroke-width="9.5"/><line x1="456.1" y1="1387.8" x2="472.8" y2="1387.8" stroke="#4a86cf" stroke-width="9.5"/><line x1="472.8" y1="1387.8" x2="489.6" y2="1387.8" stroke="#4a86cf" stroke-width="9.5"/><line x1="489.6" y1="1387.8" x2="506.4" y2="1387.8" stroke="#f01010" stroke-width="9.5"/><line x1="506.4" y1="1387.8" x2="523.3" y2="1387.8" stroke="#f01010" stroke-width="9.5"/><line x1="523.3" y1="1387.8" x2="540.3" y2="1387.8" stroke="#4a86cf" stroke-width="9.5"/><line x1="540.3" y1="1387.8" x2="557.0" y2="1387.8" stroke="#4a86cf" stroke-width="9.5"/><line x1="557.0" y1="1387.8" x2="573.8" y2="1387.8" stroke="#f01010" stroke-width="9.5"/><line x1="573.8" y1="1387.8" x2="590.6" y2="1387.8" stroke="#f01010" stroke-width="9.5"/><line x1="590.6" y1="1387.8" x2="607.4" y2="1387.8" stroke="#4a86cf" stroke-width="9.5"/><line x1="607.4" y1="1387.8" x2="624.3" y2="1387.8" stroke="#4a86cf" stroke-width="9.5"/><line x1="624.3" y1="1387.8" x2="641.3" y2="1387.8" stroke="#f01010" stroke-width="9.5"/><line x1="641.3" y1="1387.8" x2="651.2" y2="1387.8" stroke="#f01010" stroke-width="9.5"/><line x1="439.4" y1="1341.5" x2="439.4" y2="1364.2" stroke="#4a86cf" stroke-width="7.0"/><line x1="439.4" y1="1364.2" x2="439.4" y2="1387.0" stroke="#f01010" stroke-width="7.0"/><line x1="439.4" y1="1387.0" x2="439.4" y2="1409.75" stroke="#f01010" stroke-width="7.0"/><line x1="439.4" y1="1409.75" x2="439.4" y2="1420.1" stroke="#4a86cf" stroke-width="7.0"/><line x1="472.8" y1="1341.5" x2="472.8" y2="1364.2" stroke="#f01010" stroke-width="7.0"/><line x1="472.8" y1="1364.2" x2="472.8" y2="1387.0" stroke="#4a86cf" stroke-width="7.0"/><line x1="472.8" y1="1387.0" x2="472.8" y2="1409.75" stroke="#4a86cf" stroke-width="7.0"/><line x1="472.8" y1="1409.75" x2="472.8" y2="1420.1" stroke="#f01010" stroke-width="7.0"/><line x1="506.4" y1="1341.5" x2="506.4" y2="1364.2" stroke="#4a86cf" stroke-width="7.0"/><line x1="506.4" y1="1364.2" x2="506.4" y2="1387.0" stroke="#f01010" stroke-width="7.0"/><line x1="506.4" y1="1387.0" x2="506.4" y2="1409.75" stroke="#f01010" stroke-width="7.0"/><line x1="506.4" y1="1409.75" x2="506.4" y2="1420.1" stroke="#4a86cf" stroke-width="7.0"/><line x1="540.3" y1="1341.5" x2="540.3" y2="1364.2" stroke="#f01010" stroke-width="7.0"/><line x1="540.3" y1="1364.2" x2="540.3" y2="1387.0" stroke="#4a86cf" stroke-width="7.0"/><line x1="540.3" y1="1387.0" x2="540.3" y2="1409.75" stroke="#4a86cf" stroke-width="7.0"/><line x1="540.3" y1="1409.75" x2="540.3" y2="1420.1" stroke="#f01010" stroke-width="7.0"/><line x1="573.8" y1="1341.5" x2="573.8" y2="1364.2" stroke="#4a86cf" stroke-width="7.0"/><line x1="573.8" y1="1364.2" x2="573.8" y2="1387.0" stroke="#f01010" stroke-width="7.0"/><line x1="573.8" y1="1387.0" x2="573.8" y2="1409.75" stroke="#f01010" stroke-width="7.0"/><line x1="573.8" y1="1409.75" x2="573.8" y2="1420.1" stroke="#4a86cf" stroke-width="7.0"/><line x1="607.4" y1="1341.5" x2="607.4" y2="1364.2" stroke="#f01010" stroke-width="7.0"/><line x1="607.4" y1="1364.2" x2="607.4" y2="1387.0" stroke="#4a86cf" stroke-width="7.0"/><line x1="607.4" y1="1387.0" x2="607.4" y2="1409.75" stroke="#4a86cf" stroke-width="7.0"/><line x1="607.4" y1="1409.75" x2="607.4" y2="1420.1" stroke="#f01010" stroke-width="7.0"/><line x1="641.3" y1="1341.5" x2="641.3" y2="1364.2" stroke="#4a86cf" stroke-width="7.0"/><line x1="641.3" y1="1364.2" x2="641.3" y2="1387.0" stroke="#f01010" stroke-width="7.0"/><line x1="641.3" y1="1387.0" x2="641.3" y2="1409.75" stroke="#f01010" stroke-width="7.0"/><line x1="641.3" y1="1409.75" x2="641.3" y2="1420.1" stroke="#4a86cf" stroke-width="7.0"/>
<line x1="505.6" y1="1291.8" x2="506.3" y2="1312.9" stroke="#808080" stroke-width="6"/><line x1="506.3" y1="1312.9" x2="507.0" y2="1334.0" stroke="#4a86cf" stroke-width="6"/>
<line x1="505.6" y1="1291.8" x2="505.2" y2="1284.4" stroke="#808080" stroke-width="5"/><line x1="505.2" y1="1284.4" x2="504.8" y2="1277.0" stroke="#f01010" stroke-width="5"/>
<circle cx="505.6" cy="1291.8" r="9.7" fill="url(#gC)"/>
<circle cx="504.8" cy="1277.0" r="10" fill="url(#gR)"/>
<rect x="849.3" y="20" width="455.79999999999995" height="365.3" fill="none" stroke="#000" stroke-width="2"/>
<line x1="849.3" y1="52.7" x2="856.3" y2="52.7" stroke="#000" stroke-width="1.8"/><line x1="849.3" y1="117.3" x2="856.3" y2="117.3" stroke="#000" stroke-width="1.8"/><line x1="849.3" y1="181.9" x2="856.3" y2="181.9" stroke="#000" stroke-width="1.8"/><line x1="849.3" y1="246.5" x2="856.3" y2="246.5" stroke="#000" stroke-width="1.8"/><line x1="849.3" y1="311.1" x2="856.3" y2="311.1" stroke="#000" stroke-width="1.8"/><line x1="849.3" y1="375.7" x2="856.3" y2="375.7" stroke="#000" stroke-width="1.8"/><line x1="849.3" y1="85.0" x2="853.5" y2="85.0" stroke="#000" stroke-width="1.8"/><line x1="849.3" y1="149.6" x2="853.5" y2="149.6" stroke="#000" stroke-width="1.8"/><line x1="849.3" y1="214.2" x2="853.5" y2="214.2" stroke="#000" stroke-width="1.8"/><line x1="849.3" y1="278.8" x2="853.5" y2="278.8" stroke="#000" stroke-width="1.8"/><line x1="849.3" y1="343.4" x2="853.5" y2="343.4" stroke="#000" stroke-width="1.8"/><text transform="translate(840.5,61.2) scale(1,1.07)" font-size="28" text-anchor="end">0.0</text><text transform="translate(840.5,125.8) scale(1,1.07)" font-size="28" text-anchor="end">-0.2</text><text transform="translate(840.5,190.4) scale(1,1.07)" font-size="28" text-anchor="end">-0.4</text><text transform="translate(840.5,255.0) scale(1,1.07)" font-size="28" text-anchor="end">-0.6</text><text transform="translate(840.5,319.6) scale(1,1.07)" font-size="28" text-anchor="end">-0.8</text><text transform="translate(840.5,384.2) scale(1,1.07)" font-size="28" text-anchor="end">-1.0</text>
<line x1="886.8" y1="385.3" x2="886.8" y2="378.3" stroke="#000" stroke-width="1.8"/><line x1="962.8" y1="385.3" x2="962.8" y2="378.3" stroke="#000" stroke-width="1.8"/><line x1="1038.9" y1="385.3" x2="1038.9" y2="378.3" stroke="#000" stroke-width="1.8"/><line x1="1114.9" y1="385.3" x2="1114.9" y2="378.3" stroke="#000" stroke-width="1.8"/><line x1="1191.0" y1="385.3" x2="1191.0" y2="378.3" stroke="#000" stroke-width="1.8"/><line x1="1267.0" y1="385.3" x2="1267.0" y2="378.3" stroke="#000" stroke-width="1.8"/><text transform="translate(886.8,413.5) scale(1,1.07)" font-size="28" text-anchor="middle">1</text><text transform="translate(962.8,413.5) scale(1,1.07)" font-size="28" text-anchor="middle">2</text><text transform="translate(1038.9,413.5) scale(1,1.07)" font-size="28" text-anchor="middle">3</text><text transform="translate(1114.9,413.5) scale(1,1.07)" font-size="28" text-anchor="middle">4</text><text transform="translate(1191.0,413.5) scale(1,1.07)" font-size="28" text-anchor="middle">5</text><text transform="translate(1267.0,413.5) scale(1,1.07)" font-size="28" text-anchor="middle">6</text>
<text x="1078.6" y="438.5" font-size="31" text-anchor="middle" >Number of layers</text>
<text transform="translate(775,203) rotate(-90)" font-size="31" text-anchor="middle">&#916;<tspan font-style="italic">E</tspan> (eV)</text>
<circle cx="886.8" cy="39.8" r="9.2" fill="url(#mG)"/>
<circle cx="962.8" cy="85.0" r="9.2" fill="url(#mG)"/>
<circle cx="1038.9" cy="157.7" r="9.2" fill="url(#mG)"/>
<circle cx="1114.9" cy="165.8" r="9.2" fill="url(#mG)"/>
<circle cx="1191.0" cy="241.7" r="9.2" fill="url(#mG)"/>
<circle cx="1267.0" cy="361.2" r="9.2" fill="url(#mG)"/>
<circle cx="886.8" cy="97.9" r="9.2" fill="url(#mP)"/>
<circle cx="1038.9" cy="117.3" r="9.2" fill="url(#mP)"/>
<circle cx="1114.9" cy="139.9" r="9.2" fill="url(#mP)"/>
<circle cx="1191.0" cy="169.0" r="9.2" fill="url(#mP)"/>
<circle cx="1267.0" cy="324.0" r="9.2" fill="url(#mP)"/>
<circle cx="886.8" cy="81.8" r="9.2" fill="url(#mB)"/>
<circle cx="962.8" cy="76.9" r="9.2" fill="url(#mB)"/>
<circle cx="1038.9" cy="202.9" r="9.2" fill="url(#mB)"/>
<circle cx="1114.9" cy="207.7" r="9.2" fill="url(#mB)"/>
<circle cx="1191.0" cy="220.7" r="9.2" fill="url(#mB)"/>
<circle cx="1267.0" cy="354.7" r="9.2" fill="url(#mB)"/>
<line x1="887.5" y1="26.8" x2="1267" y2="323.2" stroke="#808080" stroke-width="1.6"/>
<circle cx="889.3" cy="288.8" r="9.2" fill="url(#mG)"/>
<circle cx="889.3" cy="325.5" r="9.2" fill="url(#mP)"/>
<circle cx="889.3" cy="355.7" r="9.2" fill="url(#mB)"/>
<text x="923.5" y="297.5" font-size="23.5">CO<tspan font-size="14.6" dy="8.2">2</tspan><tspan font-size="20.0" dy="-10.8">*</tspan></text>
<text x="923.5" y="334.3" font-size="23.5" text-anchor="start" >CO*</text>
<text x="923.5" y="363.8" font-size="23.5" text-anchor="start" >HCOOH*</text>
<rect x="1491.9" y="18.1" width="466.0999999999999" height="372.7" fill="none" stroke="#000" stroke-width="2"/>
<line x1="1491.9" y1="18.3" x2="1500.1000000000001" y2="18.3" stroke="#000" stroke-width="1.8"/><line x1="1491.9" y1="80.4" x2="1500.1000000000001" y2="80.4" stroke="#000" stroke-width="1.8"/><line x1="1491.9" y1="142.6" x2="1500.1000000000001" y2="142.6" stroke="#000" stroke-width="1.8"/><line x1="1491.9" y1="204.7" x2="1500.1000000000001" y2="204.7" stroke="#000" stroke-width="1.8"/><line x1="1491.9" y1="266.9" x2="1500.1000000000001" y2="266.9" stroke="#000" stroke-width="1.8"/><line x1="1491.9" y1="329.0" x2="1500.1000000000001" y2="329.0" stroke="#000" stroke-width="1.8"/><line x1="1491.9" y1="391.2" x2="1500.1000000000001" y2="391.2" stroke="#000" stroke-width="1.8"/><line x1="1491.9" y1="49.4" x2="1496.3000000000002" y2="49.4" stroke="#000" stroke-width="1.8"/><line x1="1491.9" y1="111.5" x2="1496.3000000000002" y2="111.5" stroke="#000" stroke-width="1.8"/><line x1="1491.9" y1="173.7" x2="1496.3000000000002" y2="173.7" stroke="#000" stroke-width="1.8"/><line x1="1491.9" y1="235.8" x2="1496.3000000000002" y2="235.8" stroke="#000" stroke-width="1.8"/><line x1="1491.9" y1="298.0" x2="1496.3000000000002" y2="298.0" stroke="#000" stroke-width="1.8"/><line x1="1491.9" y1="360.1" x2="1496.3000000000002" y2="360.1" stroke="#000" stroke-width="1.8"/><text transform="translate(1483.0,26.8) scale(1,1.07)" font-size="28" text-anchor="end">2.0</text><text transform="translate(1483.0,88.9) scale(1,1.07)" font-size="28" text-anchor="end">1.5</text><text transform="translate(1483.0,151.1) scale(1,1.07)" font-size="28" text-anchor="end">1.0</text><text transform="translate(1483.0,213.2) scale(1,1.07)" font-size="28" text-anchor="end">0.5</text><text transform="translate(1483.0,275.4) scale(1,1.07)" font-size="28" text-anchor="end">0.0</text><text transform="translate(1483.0,337.5) scale(1,1.07)" font-size="28" text-anchor="end">-0.5</text><text transform="translate(1483.0,399.7) scale(1,1.07)" font-size="28" text-anchor="end">-1.0</text>
<text x="1725.2" y="432.0" font-size="31" text-anchor="middle" >Reaction coordinate</text>
<text transform="translate(1418,205.8) rotate(-90)" font-size="31" text-anchor="middle">&#916;<tspan font-style="italic">G</tspan> (eV)</text>
<polyline points="1559.2,266.9 1625.0,311.39939999999996" fill="none" stroke="#1a80ff" stroke-width="1.8"/>
<polyline points="1692.7,311.39939999999996 1757.2,357.76329999999996" fill="none" stroke="#1a80ff" stroke-width="1.8"/>
<polyline points="1825.2,357.76329999999996 1891.3,253.22699999999998" fill="none" stroke="#1a80ff" stroke-width="1.8"/>
<line x1="1625.0" y1="311.39939999999996" x2="1692.7" y2="311.39939999999996" stroke="#1a80ff" stroke-width="3.6"/>
<line x1="1757.2" y1="357.76329999999996" x2="1825.2" y2="357.76329999999996" stroke="#1a80ff" stroke-width="3.6"/>
<polyline points="1559.2,266.9 1625.0,265.28409999999997" fill="none" stroke="#ff7f7f" stroke-width="1.8"/>
<polyline points="1692.7,265.28409999999997 1757.2,294.6189" fill="none" stroke="#ff7f7f" stroke-width="1.8"/>
<polyline points="1825.2,294.6189 1891.3,253.22699999999998" fill="none" stroke="#ff7f7f" stroke-width="1.8"/>
<line x1="1625.0" y1="265.28409999999997" x2="1692.7" y2="265.28409999999997" stroke="#ff7f7f" stroke-width="3.6"/>
<line x1="1757.2" y1="294.6189" x2="1825.2" y2="294.6189" stroke="#ff7f7f" stroke-width="3.6"/>
<polyline points="1559.2,266.9 1625.0,237.68949999999998" fill="none" stroke="#a884ff" stroke-width="1.8"/>
<polyline points="1692.7,237.68949999999998 1757.2,224.63799999999998" fill="none" stroke="#a884ff" stroke-width="1.8"/>
<polyline points="1825.2,224.63799999999998 1891.3,253.22699999999998" fill="none" stroke="#a884ff" stroke-width="1.8"/>
<line x1="1625.0" y1="237.68949999999998" x2="1692.7" y2="237.68949999999998" stroke="#a884ff" stroke-width="3.6"/>
<line x1="1757.2" y1="224.63799999999998" x2="1825.2" y2="224.63799999999998" stroke="#a884ff" stroke-width="3.6"/>
<polyline points="1559.2,266.9 1625.0,235.0792" fill="none" stroke="#007800" stroke-width="1.8"/>
<polyline points="1692.7,235.0792 1757.2,181.75449999999998" fill="none" stroke="#007800" stroke-width="1.8"/>
<polyline points="1825.2,181.75449999999998 1891.3,253.22699999999998" fill="none" stroke="#007800" stroke-width="1.8"/>
<line x1="1625.0" y1="235.0792" x2="1692.7" y2="235.0792" stroke="#007800" stroke-width="3.6"/>
<line x1="1757.2" y1="181.75449999999998" x2="1825.2" y2="181.75449999999998" stroke="#007800" stroke-width="3.6"/>
<polyline points="1559.2,266.9 1625.0,207.236" fill="none" stroke="#ff80c8" stroke-width="1.8"/>
<polyline points="1692.7,207.236 1757.2,112.76799999999997" fill="none" stroke="#ff80c8" stroke-width="1.8"/>
<polyline points="1825.2,112.76799999999997 1891.3,253.22699999999998" fill="none" stroke="#ff80c8" stroke-width="1.8"/>
<line x1="1625.0" y1="207.236" x2="1692.7" y2="207.236" stroke="#ff80c8" stroke-width="3.6"/>
<line x1="1757.2" y1="112.76799999999997" x2="1825.2" y2="112.76799999999997" stroke="#ff80c8" stroke-width="3.6"/>
<polyline points="1559.2,266.9 1625.0,191.57419999999996" fill="none" stroke="#808080" stroke-width="1.8"/>
<polyline points="1692.7,191.57419999999996 1757.2,51.488099999999974" fill="none" stroke="#808080" stroke-width="1.8"/>
<polyline points="1825.2,51.488099999999974 1891.3,253.22699999999998" fill="none" stroke="#808080" stroke-width="1.8"/>
<line x1="1625.0" y1="191.57419999999996" x2="1692.7" y2="191.57419999999996" stroke="#808080" stroke-width="3.6"/>
<line x1="1757.2" y1="51.488099999999974" x2="1825.2" y2="51.488099999999974" stroke="#808080" stroke-width="3.6"/>
<line x1="1491.9" y1="266.9" x2="1559.2" y2="266.9" stroke="#808080" stroke-width="4"/>
<line x1="1891.3" y1="253.22699999999998" x2="1957.0" y2="253.22699999999998" stroke="#808080" stroke-width="4"/>
<line x1="1511" y1="40.2" x2="1560" y2="40.2" stroke="#808080" stroke-width="3.4" stroke-linecap="round"/>
<text x="1565.5" y="48.2" font-size="23.5" text-anchor="start" >1L</text>
<line x1="1511" y1="69.6" x2="1560" y2="69.6" stroke="#ff80c8" stroke-width="3.4" stroke-linecap="round"/>
<text x="1565.5" y="77.6" font-size="23.5" text-anchor="start" >2L</text>
<line x1="1511" y1="98.7" x2="1560" y2="98.7" stroke="#007800" stroke-width="3.4" stroke-linecap="round"/>
<text x="1565.5" y="106.7" font-size="23.5" text-anchor="start" >3L</text>
<line x1="1511" y1="127.8" x2="1560" y2="127.8" stroke="#a884ff" stroke-width="3.4" stroke-linecap="round"/>
<text x="1565.5" y="135.8" font-size="23.5" text-anchor="start" >4L</text>
<line x1="1511" y1="156.9" x2="1560" y2="156.9" stroke="#ff7f7f" stroke-width="3.4" stroke-linecap="round"/>
<text x="1565.5" y="164.9" font-size="23.5" text-anchor="start" >5L</text>
<line x1="1511" y1="186.0" x2="1560" y2="186.0" stroke="#1a80ff" stroke-width="3.4" stroke-linecap="round"/>
<text x="1565.5" y="194.0" font-size="23.5" text-anchor="start" >6L</text>
<text x="1506.5" y="254" font-size="23.5">CO<tspan font-size="14.6" dy="8.2">2</tspan></text>
<text x="1634.5" y="178.7" font-size="23.5">CO<tspan font-size="14.6" dy="8.2">2</tspan><tspan font-size="20.0" dy="-10.8">*</tspan></text>
<text x="1755.6" y="46.0" font-size="23" text-anchor="start" >COOH*</text>
<text x="1906.0" y="244.7" font-size="23" text-anchor="start" >CO</text>
<rect x="847.6" y="494.6" width="459.6" height="367.6" fill="none" stroke="#000" stroke-width="2"/>
<line x1="847.6" y1="507.5" x2="854.6" y2="507.5" stroke="#000" stroke-width="1.8"/><line x1="847.6" y1="573.1" x2="854.6" y2="573.1" stroke="#000" stroke-width="1.8"/><line x1="847.6" y1="638.7" x2="854.6" y2="638.7" stroke="#000" stroke-width="1.8"/><line x1="847.6" y1="704.3" x2="854.6" y2="704.3" stroke="#000" stroke-width="1.8"/><line x1="847.6" y1="769.9" x2="854.6" y2="769.9" stroke="#000" stroke-width="1.8"/><line x1="847.6" y1="835.5" x2="854.6" y2="835.5" stroke="#000" stroke-width="1.8"/><line x1="847.6" y1="540.3" x2="851.8000000000001" y2="540.3" stroke="#000" stroke-width="1.8"/><line x1="847.6" y1="605.9" x2="851.8000000000001" y2="605.9" stroke="#000" stroke-width="1.8"/><line x1="847.6" y1="671.5" x2="851.8000000000001" y2="671.5" stroke="#000" stroke-width="1.8"/><line x1="847.6" y1="737.1" x2="851.8000000000001" y2="737.1" stroke="#000" stroke-width="1.8"/><line x1="847.6" y1="802.7" x2="851.8000000000001" y2="802.7" stroke="#000" stroke-width="1.8"/><text transform="translate(838.8,516.0) scale(1,1.07)" font-size="28" text-anchor="end">0.02</text><text transform="translate(838.8,581.6) scale(1,1.07)" font-size="28" text-anchor="end">0.01</text><text transform="translate(838.8,647.2) scale(1,1.07)" font-size="28" text-anchor="end">0.00</text><text transform="translate(838.8,712.8) scale(1,1.07)" font-size="28" text-anchor="end">-0.01</text><text transform="translate(838.8,778.4) scale(1,1.07)" font-size="28" text-anchor="end">-0.02</text><text transform="translate(838.8,844.0) scale(1,1.07)" font-size="28" text-anchor="end">-0.03</text>
<line x1="848.3" y1="862.2" x2="848.3" y2="855.2" stroke="#000" stroke-width="1.8"/><line x1="931.6" y1="862.2" x2="931.6" y2="855.2" stroke="#000" stroke-width="1.8"/><line x1="1015.0" y1="862.2" x2="1015.0" y2="855.2" stroke="#000" stroke-width="1.8"/><line x1="1098.3" y1="862.2" x2="1098.3" y2="855.2" stroke="#000" stroke-width="1.8"/><line x1="1181.7" y1="862.2" x2="1181.7" y2="855.2" stroke="#000" stroke-width="1.8"/><line x1="1265.0" y1="862.2" x2="1265.0" y2="855.2" stroke="#000" stroke-width="1.8"/><line x1="890.0" y1="862.2" x2="890.0" y2="858.0" stroke="#000" stroke-width="1.8"/><line x1="973.3" y1="862.2" x2="973.3" y2="858.0" stroke="#000" stroke-width="1.8"/><line x1="1056.7" y1="862.2" x2="1056.7" y2="858.0" stroke="#000" stroke-width="1.8"/><line x1="1140.0" y1="862.2" x2="1140.0" y2="858.0" stroke="#000" stroke-width="1.8"/><line x1="1223.3" y1="862.2" x2="1223.3" y2="858.0" stroke="#000" stroke-width="1.8"/><text transform="translate(848.3,892.0) scale(1,1.07)" font-size="28" text-anchor="middle">-1.0</text><text transform="translate(931.6,892.0) scale(1,1.07)" font-size="28" text-anchor="middle">-0.8</text><text transform="translate(1015.0,892.0) scale(1,1.07)" font-size="28" text-anchor="middle">-0.6</text><text transform="translate(1098.3,892.0) scale(1,1.07)" font-size="28" text-anchor="middle">-0.4</text><text transform="translate(1181.7,892.0) scale(1,1.07)" font-size="28" text-anchor="middle">-0.2</text><text transform="translate(1265.0,892.0) scale(1,1.07)" font-size="28" text-anchor="middle">0.0</text>
<circle cx="870.4" cy="521.3" r="9.2" fill="url(#mG)"/>
<text x="889.7" y="531.5" font-size="27" text-anchor="start" >6L</text>
<circle cx="1020.8" cy="630.8" r="9.2" fill="url(#mG)"/>
<text x="1036.3" y="642.5" font-size="27" text-anchor="start" >5L</text>
<circle cx="1120.0" cy="704.3" r="9.2" fill="url(#mG)"/>
<text x="1134.6" y="714.2" font-size="27" text-anchor="start" >4L</text>
<circle cx="1128.7" cy="802.7" r="9.2" fill="url(#mG)"/>
<text x="1111.0" y="812.6" font-size="27" text-anchor="end" >3L</text>
<circle cx="1222.5" cy="835.5" r="9.2" fill="url(#mG)"/>
<text x="1238.6" y="844.2" font-size="27" text-anchor="start" >2L</text>
<line x1="877.4" y1="517.5" x2="1214.8" y2="829.5" stroke="#808080" stroke-width="1.6"/>
<text transform="translate(755,675.7) rotate(-90)" font-size="31" text-anchor="middle">Bond order</text>
<text x="1077" y="930" font-size="31" text-anchor="middle">&#916;<tspan font-style="italic">E</tspan><tspan font-size="18" dy="10.5">CO2*</tspan><tspan dy="-10.5"> (eV)</tspan></text>
<rect x="1495.7" y="492.9" width="461.70000000000005" height="368.9" fill="none" stroke="#000" stroke-width="2"/>
<line x1="1495.7" y1="517.5" x2="1502.7" y2="517.5" stroke="#000" stroke-width="1.8"/><line x1="1495.7" y1="601.5" x2="1502.7" y2="601.5" stroke="#000" stroke-width="1.8"/><line x1="1495.7" y1="685.5" x2="1502.7" y2="685.5" stroke="#000" stroke-width="1.8"/><line x1="1495.7" y1="769.5" x2="1502.7" y2="769.5" stroke="#000" stroke-width="1.8"/><line x1="1495.7" y1="853.5" x2="1502.7" y2="853.5" stroke="#000" stroke-width="1.8"/><line x1="1495.7" y1="559.5" x2="1499.9" y2="559.5" stroke="#000" stroke-width="1.8"/><line x1="1495.7" y1="643.5" x2="1499.9" y2="643.5" stroke="#000" stroke-width="1.8"/><line x1="1495.7" y1="727.5" x2="1499.9" y2="727.5" stroke="#000" stroke-width="1.8"/><line x1="1495.7" y1="811.5" x2="1499.9" y2="811.5" stroke="#000" stroke-width="1.8"/><text transform="translate(1487.0,526.0) scale(1,1.07)" font-size="28" text-anchor="end">0.00</text><text transform="translate(1487.0,610.0) scale(1,1.07)" font-size="28" text-anchor="end">-0.02</text><text transform="translate(1487.0,694.0) scale(1,1.07)" font-size="28" text-anchor="end">-0.04</text><text transform="translate(1487.0,778.0) scale(1,1.07)" font-size="28" text-anchor="end">-0.06</text><text transform="translate(1487.0,862.0) scale(1,1.07)" font-size="28" text-anchor="end">-0.08</text>
<line x1="1495.7" y1="861.8" x2="1495.7" y2="854.8" stroke="#000" stroke-width="1.8"/><line x1="1579.6" y1="861.8" x2="1579.6" y2="854.8" stroke="#000" stroke-width="1.8"/><line x1="1663.5" y1="861.8" x2="1663.5" y2="854.8" stroke="#000" stroke-width="1.8"/><line x1="1747.4" y1="861.8" x2="1747.4" y2="854.8" stroke="#000" stroke-width="1.8"/><line x1="1831.3" y1="861.8" x2="1831.3" y2="854.8" stroke="#000" stroke-width="1.8"/><line x1="1915.2" y1="861.8" x2="1915.2" y2="854.8" stroke="#000" stroke-width="1.8"/><line x1="1537.7" y1="861.8" x2="1537.7" y2="857.5999999999999" stroke="#000" stroke-width="1.8"/><line x1="1621.6" y1="861.8" x2="1621.6" y2="857.5999999999999" stroke="#000" stroke-width="1.8"/><line x1="1705.5" y1="861.8" x2="1705.5" y2="857.5999999999999" stroke="#000" stroke-width="1.8"/><line x1="1789.4" y1="861.8" x2="1789.4" y2="857.5999999999999" stroke="#000" stroke-width="1.8"/><line x1="1873.2" y1="861.8" x2="1873.2" y2="857.5999999999999" stroke="#000" stroke-width="1.8"/><text transform="translate(1495.7,892.0) scale(1,1.07)" font-size="28" text-anchor="middle">-1.0</text><text transform="translate(1579.6,892.0) scale(1,1.07)" font-size="28" text-anchor="middle">-0.8</text><text transform="translate(1663.5,892.0) scale(1,1.07)" font-size="28" text-anchor="middle">-0.6</text><text transform="translate(1747.4,892.0) scale(1,1.07)" font-size="28" text-anchor="middle">-0.4</text><text transform="translate(1831.3,892.0) scale(1,1.07)" font-size="28" text-anchor="middle">-0.2</text><text transform="translate(1915.2,892.0) scale(1,1.07)" font-size="28" text-anchor="middle">0.0</text>
<circle cx="1872.4" cy="517.5" r="9.2" fill="url(#mP)"/>
<text x="1854.8" y="530.1" font-size="27" text-anchor="end" >2L</text>
<circle cx="1932.0" cy="517.5" r="9.2" fill="url(#mP)"/>
<text x="1918.0" y="573.7" font-size="27" text-anchor="start" >1L</text>
<circle cx="1777.6" cy="685.5" r="9.2" fill="url(#mP)"/>
<text x="1795.0" y="694.2" font-size="27" text-anchor="start" >3L</text>
<circle cx="1768.8" cy="727.5" r="9.2" fill="url(#mP)"/>
<text x="1786.2" y="738.1" font-size="27" text-anchor="start" >4L</text>
<circle cx="1669.4" cy="769.5" r="9.2" fill="url(#mP)"/>
<text x="1683.6" y="777.8" font-size="27" text-anchor="start" >5L</text>
<circle cx="1517.9" cy="811.5" r="9.2" fill="url(#mP)"/>
<text x="1533.3" y="821.7" font-size="27" text-anchor="start" >6L</text>
<line x1="1518.5" y1="858.6" x2="1932" y2="534.3" stroke="#f08080" stroke-width="1.6"/>
<text transform="translate(1406,675.7) rotate(-90)" font-size="31" text-anchor="middle">CT (<tspan font-style="italic">e</tspan>)</text>
<text x="1726.5" y="930" font-size="31" text-anchor="middle">&#916;<tspan font-style="italic">E</tspan><tspan font-size="18" dy="10.5">CO2*</tspan><tspan dy="-10.5"> (eV)</tspan></text>
<rect x="849" y="972.3" width="459.79999999999995" height="368.29999999999995" fill="none" stroke="#000" stroke-width="2"/>
<line x1="849" y1="1029.4" x2="856" y2="1029.4" stroke="#000" stroke-width="1.8"/><line x1="849" y1="1100.1" x2="856" y2="1100.1" stroke="#000" stroke-width="1.8"/><line x1="849" y1="1170.8" x2="856" y2="1170.8" stroke="#000" stroke-width="1.8"/><line x1="849" y1="1241.5" x2="856" y2="1241.5" stroke="#000" stroke-width="1.8"/><line x1="849" y1="1312.2" x2="856" y2="1312.2" stroke="#000" stroke-width="1.8"/><line x1="849" y1="994.1" x2="853.2" y2="994.1" stroke="#000" stroke-width="1.8"/><line x1="849" y1="1064.8" x2="853.2" y2="1064.8" stroke="#000" stroke-width="1.8"/><line x1="849" y1="1135.5" x2="853.2" y2="1135.5" stroke="#000" stroke-width="1.8"/><line x1="849" y1="1206.2" x2="853.2" y2="1206.2" stroke="#000" stroke-width="1.8"/><line x1="849" y1="1276.9" x2="853.2" y2="1276.9" stroke="#000" stroke-width="1.8"/><text transform="translate(840.0,1037.9) scale(1,1.07)" font-size="28" text-anchor="end">-1.65</text><text transform="translate(840.0,1108.6) scale(1,1.07)" font-size="28" text-anchor="end">-1.70</text><text transform="translate(840.0,1179.3) scale(1,1.07)" font-size="28" text-anchor="end">-1.75</text><text transform="translate(840.0,1250.0) scale(1,1.07)" font-size="28" text-anchor="end">-1.80</text><text transform="translate(840.0,1320.7) scale(1,1.07)" font-size="28" text-anchor="end">-1.85</text>
<line x1="849.0" y1="1340.6" x2="849.0" y2="1333.6" stroke="#000" stroke-width="1.8"/><line x1="932.5" y1="1340.6" x2="932.5" y2="1333.6" stroke="#000" stroke-width="1.8"/><line x1="1016.0" y1="1340.6" x2="1016.0" y2="1333.6" stroke="#000" stroke-width="1.8"/><line x1="1099.5" y1="1340.6" x2="1099.5" y2="1333.6" stroke="#000" stroke-width="1.8"/><line x1="1183.0" y1="1340.6" x2="1183.0" y2="1333.6" stroke="#000" stroke-width="1.8"/><line x1="1266.5" y1="1340.6" x2="1266.5" y2="1333.6" stroke="#000" stroke-width="1.8"/><line x1="890.8" y1="1340.6" x2="890.8" y2="1336.3999999999999" stroke="#000" stroke-width="1.8"/><line x1="974.2" y1="1340.6" x2="974.2" y2="1336.3999999999999" stroke="#000" stroke-width="1.8"/><line x1="1057.8" y1="1340.6" x2="1057.8" y2="1336.3999999999999" stroke="#000" stroke-width="1.8"/><line x1="1141.2" y1="1340.6" x2="1141.2" y2="1336.3999999999999" stroke="#000" stroke-width="1.8"/><line x1="1224.8" y1="1340.6" x2="1224.8" y2="1336.3999999999999" stroke="#000" stroke-width="1.8"/><text transform="translate(849.0,1370.5) scale(1,1.07)" font-size="28" text-anchor="middle">-1.0</text><text transform="translate(932.5,1370.5) scale(1,1.07)" font-size="28" text-anchor="middle">-0.8</text><text transform="translate(1016.0,1370.5) scale(1,1.07)" font-size="28" text-anchor="middle">-0.6</text><text transform="translate(1099.5,1370.5) scale(1,1.07)" font-size="28" text-anchor="middle">-0.4</text><text transform="translate(1183.0,1370.5) scale(1,1.07)" font-size="28" text-anchor="middle">-0.2</text><text transform="translate(1266.5,1370.5) scale(1,1.07)" font-size="28" text-anchor="middle">0.0</text>
<circle cx="871.5" cy="1029.4" r="9.2" fill="url(#mB)"/>
<text x="887.1" y="1039.1" font-size="27" text-anchor="start" >6L</text>
<circle cx="1022.7" cy="1053.4" r="9.2" fill="url(#mB)"/>
<text x="1038.9" y="1063.4" font-size="27" text-anchor="start" >5L</text>
<circle cx="1120.8" cy="1084.5" r="9.2" fill="url(#mB)"/>
<text x="1138.3" y="1092.2" font-size="27" text-anchor="start" >4L</text>
<circle cx="1129.6" cy="1151.0" r="9.2" fill="url(#mB)"/>
<text x="1146.0" y="1161.5" font-size="27" text-anchor="start" >3L</text>
<circle cx="1223.9" cy="1245.7" r="9.2" fill="url(#mB)"/>
<text x="1206.6" y="1254.0" font-size="27" text-anchor="end" >2L</text>
<circle cx="1283.2" cy="1308.0" r="9.2" fill="url(#mB)"/>
<text x="1267.2" y="1316.3" font-size="27" text-anchor="end" >1L</text>
<line x1="870.8" y1="982" x2="1283.9" y2="1265.4" stroke="#1a80ff" stroke-width="1.6"/>
<text transform="translate(762,1155) rotate(-90)" font-size="31" text-anchor="middle"><tspan font-style="italic" font-family="'Liberation Serif', serif">&#949;</tspan><tspan font-size="20" dy="6">p</tspan><tspan dy="-6"> (eV)</tspan></text>
<text x="1078.5" y="1408" font-size="31" text-anchor="middle">&#916;<tspan font-style="italic">E</tspan><tspan font-size="18" dy="10.5">CO2*</tspan><tspan dy="-10.5"> (eV)</tspan></text>
<rect x="1422.1" y="980.2" width="17.7" height="407.2" fill="url(#cbar)" stroke="#666" stroke-width="0.8"/>
<line x1="1439.8" y1="980.2" x2="1444.5" y2="980.2" stroke="#000" stroke-width="1.2"/>
<line x1="1439.8" y1="1020.9" x2="1444.5" y2="1020.9" stroke="#000" stroke-width="1.2"/>
<line x1="1439.8" y1="1061.6" x2="1444.5" y2="1061.6" stroke="#000" stroke-width="1.2"/>
<line x1="1439.8" y1="1102.4" x2="1444.5" y2="1102.4" stroke="#000" stroke-width="1.2"/>
<line x1="1439.8" y1="1143.1" x2="1444.5" y2="1143.1" stroke="#000" stroke-width="1.2"/>
<line x1="1439.8" y1="1183.8" x2="1444.5" y2="1183.8" stroke="#000" stroke-width="1.2"/>
<line x1="1439.8" y1="1224.5" x2="1444.5" y2="1224.5" stroke="#000" stroke-width="1.2"/>
<line x1="1439.8" y1="1265.2" x2="1444.5" y2="1265.2" stroke="#000" stroke-width="1.2"/>
<line x1="1439.8" y1="1306.0" x2="1444.5" y2="1306.0" stroke="#000" stroke-width="1.2"/>
<line x1="1439.8" y1="1346.7" x2="1444.5" y2="1346.7" stroke="#000" stroke-width="1.2"/>
<line x1="1439.8" y1="1387.4" x2="1444.5" y2="1387.4" stroke="#000" stroke-width="1.2"/>
<text x="1447.5" y="990.6" font-size="29.5" text-anchor="start" >1</text>
<text x="1447.5" y="1193.3" font-size="29.5" text-anchor="start" >0.5</text>
<text x="1447.5" y="1397.8" font-size="29.5" text-anchor="start" >0</text>
<g clip-path="url(#clipH)">
<rect x="1513.3" y="973.3" width="287.5" height="417.5" fill="#0008ff"/>
<rect x="1530" y="1005" width="107" height="350" rx="30" fill="#0050ff" filter="url(#blur12)"/>
<rect x="1673" y="1005" width="108" height="350" rx="30" fill="#0050ff" filter="url(#blur12)"/>
<circle cx="1556.6" cy="1058.9" r="33" fill="url(#hD)"/>
<circle cx="1607.8" cy="1118.8" r="33" fill="url(#hD)"/>
<circle cx="1556.6" cy="1180.2" r="33" fill="url(#hD)"/>
<circle cx="1607.8" cy="1240.8" r="33" fill="url(#hD)"/>
<circle cx="1556.6" cy="1302.5" r="33" fill="url(#hD)"/>
<ellipse cx="1609.3" cy="1053.9" rx="33" ry="39" fill="url(#hBu)"/>
<ellipse cx="1557.1" cy="1118.8" rx="34.5" ry="34" fill="url(#hB)"/>
<ellipse cx="1608.3" cy="1180.2" rx="34.5" ry="34" fill="url(#hB)"/>
<ellipse cx="1557.1" cy="1240.8" rx="34.5" ry="34" fill="url(#hB)"/>
<ellipse cx="1609.3" cy="1307.5" rx="33" ry="39" fill="url(#hBd)"/>
<circle cx="1700.4" cy="1058.9" r="33" fill="url(#hD)"/>
<circle cx="1751.6" cy="1118.8" r="33" fill="url(#hD)"/>
<circle cx="1700.4" cy="1180.2" r="33" fill="url(#hD)"/>
<circle cx="1751.6" cy="1240.8" r="33" fill="url(#hD)"/>
<circle cx="1700.4" cy="1302.5" r="33" fill="url(#hD)"/>
<ellipse cx="1753.1" cy="1053.9" rx="33" ry="39" fill="url(#hBu)"/>
<ellipse cx="1700.9" cy="1118.8" rx="34.5" ry="34" fill="url(#hB)"/>
<ellipse cx="1752.1" cy="1180.2" rx="34.5" ry="34" fill="url(#hB)"/>
<ellipse cx="1700.9" cy="1240.8" rx="34.5" ry="34" fill="url(#hB)"/>
<ellipse cx="1753.1" cy="1307.5" rx="33" ry="39" fill="url(#hBd)"/>
</g>
<text x="1535.5" y="1366.6" font-size="27.5" text-anchor="start" fill="#fff" class="w">Zn</text>
<text x="1601.0" y="1366.6" font-size="27.5" text-anchor="start" fill="#fff" class="w">O</text>
<text x="1682.5" y="1366.6" font-size="27.5" text-anchor="start" fill="#fff" class="w">Zn</text>
<text x="1741.5" y="1366.6" font-size="27.5" text-anchor="start" fill="#fff" class="w">O</text>
<rect x="1836.4" y="1044.8" width="22.2" height="4.8" fill="#000"/>
<rect x="1836.4" y="1305.3" width="22.2" height="4.8" fill="#000"/>
<rect x="1833.3" y="1109.1" width="21.9" height="4.8" fill="#000"/>
<rect x="1841.9" y="1101.0" width="4.8" height="21" fill="#000"/>
<rect x="1833.3" y="1173.8999999999999" width="21.9" height="4.8" fill="#000"/>
<rect x="1841.9" y="1165.8" width="4.8" height="21" fill="#000"/>
<rect x="1833.3" y="1238.3999999999999" width="21.9" height="4.8" fill="#000"/>
<rect x="1841.9" y="1230.3" width="4.8" height="21" fill="#000"/>
<path d="M1892.1,1044 C1918,1051 1933,1080 1932.5,1108 C1932,1140 1906,1164 1878.2,1166.8 L1878.2,1152.2 C1902,1149 1927,1131 1928.5,1106 C1929.5,1082 1914,1063 1892.1,1057.3 L1892.1,1065.6 L1877.6,1049.7 L1892.1,1037.7 Z" fill="#fff" stroke="#3576c8" stroke-width="3" stroke-linejoin="miter"/>
<g transform="translate(0,2356.6) scale(1,-1)"><path d="M1892.1,1044 C1918,1051 1933,1080 1932.5,1108 C1932,1140 1906,1164 1878.2,1166.8 L1878.2,1152.2 C1902,1149 1927,1131 1928.5,1106 C1929.5,1082 1914,1063 1892.1,1057.3 L1892.1,1065.6 L1877.6,1049.7 L1892.1,1037.7 Z" fill="#fff" stroke="#3576c8" stroke-width="3"/></g>
<text x="1941.5" y="1124.4" font-size="35" text-anchor="start" font-style="italic">e</text>
<text x="1941.5" y="1252.3" font-size="35" text-anchor="start" font-style="italic">e</text>
</svg></body></html>
